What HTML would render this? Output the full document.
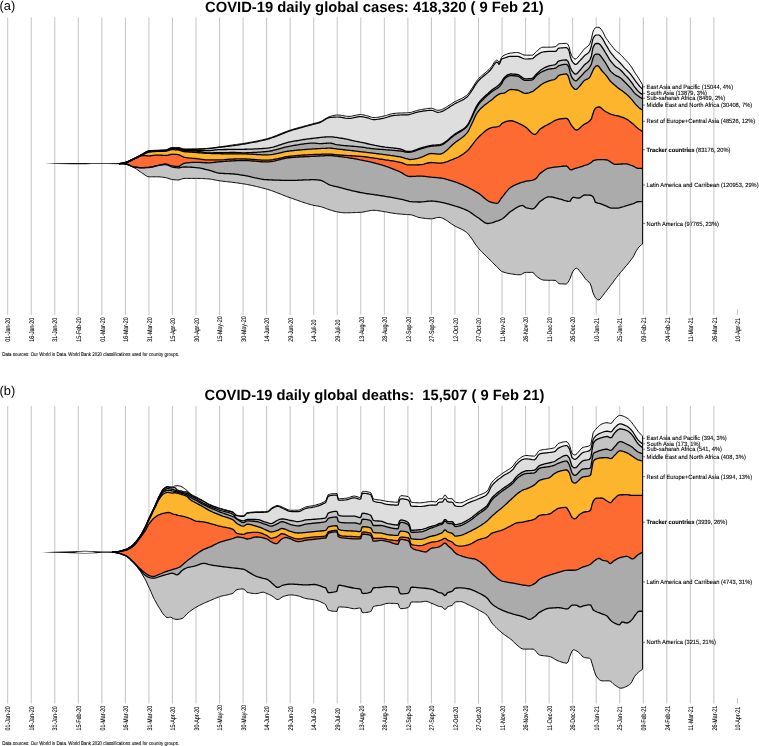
<!DOCTYPE html><html lang="en"><head><meta charset="utf-8"><title>COVID-19 daily global</title>
<style>html,body{margin:0;padding:0;background:#fff}svg{display:block}text{font-family:"Liberation Sans",sans-serif;fill:#000;text-rendering:geometricPrecision}.t{stroke:#000;stroke-width:0.16px}</style></head><body>
<svg width="759" height="746" viewBox="0 0 759 746" style="will-change:transform">
<rect width="759" height="746" fill="#fff"/>
<line x1="7.70" y1="17.40" x2="7.70" y2="314.90" stroke="#bdbdbd" stroke-width="0.9"/>
<line x1="31.24" y1="17.40" x2="31.24" y2="314.90" stroke="#bdbdbd" stroke-width="0.9"/>
<line x1="54.78" y1="17.40" x2="54.78" y2="314.90" stroke="#bdbdbd" stroke-width="0.9"/>
<line x1="78.32" y1="17.40" x2="78.32" y2="314.90" stroke="#bdbdbd" stroke-width="0.9"/>
<line x1="101.86" y1="17.40" x2="101.86" y2="314.90" stroke="#bdbdbd" stroke-width="0.9"/>
<line x1="125.40" y1="17.40" x2="125.40" y2="314.90" stroke="#bdbdbd" stroke-width="0.9"/>
<line x1="148.94" y1="17.40" x2="148.94" y2="314.90" stroke="#bdbdbd" stroke-width="0.9"/>
<line x1="172.48" y1="17.40" x2="172.48" y2="314.90" stroke="#bdbdbd" stroke-width="0.9"/>
<line x1="196.02" y1="17.40" x2="196.02" y2="314.90" stroke="#bdbdbd" stroke-width="0.9"/>
<line x1="219.56" y1="17.40" x2="219.56" y2="314.90" stroke="#bdbdbd" stroke-width="0.9"/>
<line x1="243.10" y1="17.40" x2="243.10" y2="314.90" stroke="#bdbdbd" stroke-width="0.9"/>
<line x1="266.64" y1="17.40" x2="266.64" y2="314.90" stroke="#bdbdbd" stroke-width="0.9"/>
<line x1="290.18" y1="17.40" x2="290.18" y2="314.90" stroke="#bdbdbd" stroke-width="0.9"/>
<line x1="313.72" y1="17.40" x2="313.72" y2="314.90" stroke="#bdbdbd" stroke-width="0.9"/>
<line x1="337.26" y1="17.40" x2="337.26" y2="314.90" stroke="#bdbdbd" stroke-width="0.9"/>
<line x1="360.80" y1="17.40" x2="360.80" y2="314.90" stroke="#bdbdbd" stroke-width="0.9"/>
<line x1="384.34" y1="17.40" x2="384.34" y2="314.90" stroke="#bdbdbd" stroke-width="0.9"/>
<line x1="407.88" y1="17.40" x2="407.88" y2="314.90" stroke="#bdbdbd" stroke-width="0.9"/>
<line x1="431.42" y1="17.40" x2="431.42" y2="314.90" stroke="#bdbdbd" stroke-width="0.9"/>
<line x1="454.96" y1="17.40" x2="454.96" y2="314.90" stroke="#bdbdbd" stroke-width="0.9"/>
<line x1="478.50" y1="17.40" x2="478.50" y2="314.90" stroke="#bdbdbd" stroke-width="0.9"/>
<line x1="502.04" y1="17.40" x2="502.04" y2="314.90" stroke="#bdbdbd" stroke-width="0.9"/>
<line x1="525.58" y1="17.40" x2="525.58" y2="314.90" stroke="#bdbdbd" stroke-width="0.9"/>
<line x1="549.12" y1="17.40" x2="549.12" y2="314.90" stroke="#bdbdbd" stroke-width="0.9"/>
<line x1="572.66" y1="17.40" x2="572.66" y2="314.90" stroke="#bdbdbd" stroke-width="0.9"/>
<line x1="596.20" y1="17.40" x2="596.20" y2="314.90" stroke="#bdbdbd" stroke-width="0.9"/>
<line x1="619.74" y1="17.40" x2="619.74" y2="314.90" stroke="#bdbdbd" stroke-width="0.9"/>
<line x1="643.28" y1="17.40" x2="643.28" y2="314.90" stroke="#bdbdbd" stroke-width="0.9"/>
<line x1="666.82" y1="17.40" x2="666.82" y2="314.90" stroke="#bdbdbd" stroke-width="0.9"/>
<line x1="690.36" y1="17.40" x2="690.36" y2="314.90" stroke="#bdbdbd" stroke-width="0.9"/>
<line x1="713.90" y1="17.40" x2="713.90" y2="314.90" stroke="#bdbdbd" stroke-width="0.9"/>
<line x1="737.44" y1="309.30" x2="737.44" y2="314.90" stroke="#bdbdbd" stroke-width="0.9"/>
<text class="t" transform="translate(10.40,341.80) rotate(-90) scale(0.533,0.68)" font-size="10" style="stroke-width:0.12px">01-Jan-20</text>
<text class="t" transform="translate(33.94,341.80) rotate(-90) scale(0.533,0.68)" font-size="10" style="stroke-width:0.12px">16-Jan-20</text>
<text class="t" transform="translate(57.48,341.80) rotate(-90) scale(0.533,0.68)" font-size="10" style="stroke-width:0.12px">31-Jan-20</text>
<text class="t" transform="translate(81.02,341.80) rotate(-90) scale(0.533,0.68)" font-size="10" style="stroke-width:0.12px">15-Feb-20</text>
<text class="t" transform="translate(104.56,341.80) rotate(-90) scale(0.533,0.68)" font-size="10" style="stroke-width:0.12px">01-Mar-20</text>
<text class="t" transform="translate(128.10,341.80) rotate(-90) scale(0.533,0.68)" font-size="10" style="stroke-width:0.12px">16-Mar-20</text>
<text class="t" transform="translate(151.64,341.80) rotate(-90) scale(0.533,0.68)" font-size="10" style="stroke-width:0.12px">31-Mar-20</text>
<text class="t" transform="translate(175.18,341.80) rotate(-90) scale(0.533,0.68)" font-size="10" style="stroke-width:0.12px">15-Apr-20</text>
<text class="t" transform="translate(198.72,341.80) rotate(-90) scale(0.533,0.68)" font-size="10" style="stroke-width:0.12px">30-Apr-20</text>
<text class="t" transform="translate(222.26,341.80) rotate(-90) scale(0.533,0.68)" font-size="10" style="stroke-width:0.12px">15-May-20</text>
<text class="t" transform="translate(245.80,341.80) rotate(-90) scale(0.533,0.68)" font-size="10" style="stroke-width:0.12px">30-May-20</text>
<text class="t" transform="translate(269.34,341.80) rotate(-90) scale(0.533,0.68)" font-size="10" style="stroke-width:0.12px">14-Jun-20</text>
<text class="t" transform="translate(292.88,341.80) rotate(-90) scale(0.533,0.68)" font-size="10" style="stroke-width:0.12px">29-Jun-20</text>
<text class="t" transform="translate(316.42,341.80) rotate(-90) scale(0.533,0.68)" font-size="10" style="stroke-width:0.12px">14-Jul-20</text>
<text class="t" transform="translate(339.96,341.80) rotate(-90) scale(0.533,0.68)" font-size="10" style="stroke-width:0.12px">29-Jul-20</text>
<text class="t" transform="translate(363.50,341.80) rotate(-90) scale(0.533,0.68)" font-size="10" style="stroke-width:0.12px">13-Aug-20</text>
<text class="t" transform="translate(387.04,341.80) rotate(-90) scale(0.533,0.68)" font-size="10" style="stroke-width:0.12px">28-Aug-20</text>
<text class="t" transform="translate(410.58,341.80) rotate(-90) scale(0.533,0.68)" font-size="10" style="stroke-width:0.12px">12-Sep-20</text>
<text class="t" transform="translate(434.12,341.80) rotate(-90) scale(0.533,0.68)" font-size="10" style="stroke-width:0.12px">27-Sep-20</text>
<text class="t" transform="translate(457.66,341.80) rotate(-90) scale(0.533,0.68)" font-size="10" style="stroke-width:0.12px">12-Oct-20</text>
<text class="t" transform="translate(481.20,341.80) rotate(-90) scale(0.533,0.68)" font-size="10" style="stroke-width:0.12px">27-Oct-20</text>
<text class="t" transform="translate(504.74,341.80) rotate(-90) scale(0.533,0.68)" font-size="10" style="stroke-width:0.12px">11-Nov-20</text>
<text class="t" transform="translate(528.28,341.80) rotate(-90) scale(0.533,0.68)" font-size="10" style="stroke-width:0.12px">26-Nov-20</text>
<text class="t" transform="translate(551.82,341.80) rotate(-90) scale(0.533,0.68)" font-size="10" style="stroke-width:0.12px">11-Dec-20</text>
<text class="t" transform="translate(575.36,341.80) rotate(-90) scale(0.533,0.68)" font-size="10" style="stroke-width:0.12px">26-Dec-20</text>
<text class="t" transform="translate(598.90,341.80) rotate(-90) scale(0.533,0.68)" font-size="10" style="stroke-width:0.12px">10-Jan-21</text>
<text class="t" transform="translate(622.44,341.80) rotate(-90) scale(0.533,0.68)" font-size="10" style="stroke-width:0.12px">25-Jan-21</text>
<text class="t" transform="translate(645.98,341.80) rotate(-90) scale(0.533,0.68)" font-size="10" style="stroke-width:0.12px">09-Feb-21</text>
<text class="t" transform="translate(669.52,341.80) rotate(-90) scale(0.533,0.68)" font-size="10" style="stroke-width:0.12px">24-Feb-21</text>
<text class="t" transform="translate(693.06,341.80) rotate(-90) scale(0.533,0.68)" font-size="10" style="stroke-width:0.12px">11-Mar-21</text>
<text class="t" transform="translate(716.60,341.80) rotate(-90) scale(0.533,0.68)" font-size="10" style="stroke-width:0.12px">26-Mar-21</text>
<text class="t" transform="translate(740.14,341.80) rotate(-90) scale(0.533,0.68)" font-size="10" style="stroke-width:0.12px">10-Apr-21</text>
<text x="-0.5" y="9.8" font-size="12.8" fill="#000">(a)</text>
<text x="205" y="11.5" font-size="14.8" font-weight="bold" textLength="338.6" lengthAdjust="spacingAndGlyphs" fill="#000">COVID-19 daily global cases: 418,320 ( 9 Feb 21)</text>
<text class="t" transform="translate(2.2,355.7) scale(0.441,0.53)" font-size="10">Data sources: Our World in Data. World Bank 2020 classifications used for country groups.</text>
<polygon points="45.0,163.60 56.0,163.20 72.0,163.05 86.0,163.05 92.0,163.30 107.0,163.25 121.0,162.90 121.0,164.30 107.0,163.95 92.0,163.90 86.0,164.15 72.0,164.15 56.0,164.00 45.0,163.60" fill="#111"/>
<g transform="translate(0,0)"><path d="M119.0,163.6 120.2,163.4 121.5,163.2 122.8,162.9 124.0,162.6 125.2,162.2 126.5,161.8 127.8,161.3 129.0,160.8 130.2,160.3 131.5,159.7 132.8,159.1 134.0,158.5 135.2,157.8 136.5,157.1 137.8,156.4 139.0,155.7 140.2,155.0 141.5,154.4 142.8,153.7 144.0,152.9 145.2,152.1 146.5,151.4 147.8,150.9 149.0,150.7 150.2,150.6 151.5,150.5 152.8,150.4 154.0,150.4 155.2,150.3 156.5,150.3 157.8,150.2 159.0,150.2 160.2,150.1 161.5,150.1 162.8,150.0 164.0,150.0 165.2,149.9 166.5,149.6 167.8,149.1 169.0,148.5 170.2,147.9 171.5,147.5 172.8,147.4 174.0,147.4 175.2,147.4 176.5,147.4 177.8,147.4 179.0,147.5 180.2,147.9 181.5,148.3 182.8,148.6 184.0,148.9 185.2,148.9 186.5,148.9 187.8,148.9 189.0,148.9 190.2,148.9 191.5,148.9 192.8,148.9 194.0,148.9 195.2,148.9 196.5,148.9 197.8,148.9 199.0,148.8 200.2,148.8 201.5,148.7 202.8,148.7 204.0,148.6 205.2,148.5 206.5,148.4 207.8,148.3 209.0,148.2 210.2,148.1 211.5,148.0 212.8,147.8 214.0,147.7 215.2,147.5 216.5,147.3 217.8,147.2 219.0,147.0 220.2,146.8 221.5,146.6 222.8,146.5 224.0,146.3 225.2,146.1 226.5,145.9 227.8,145.7 229.0,145.5 230.2,145.3 231.5,145.1 232.8,145.0 234.0,144.8 235.2,144.6 236.5,144.4 237.8,144.3 239.0,144.1 240.2,143.9 241.5,143.7 242.8,143.6 244.0,143.4 245.2,143.2 246.5,142.9 247.8,142.7 249.0,142.5 250.2,142.3 251.5,142.1 252.8,141.8 254.0,141.6 255.2,141.4 256.5,141.1 257.8,140.9 259.0,140.6 260.2,140.3 261.5,140.0 262.8,139.7 264.0,139.5 265.2,139.1 266.5,138.8 267.8,138.5 269.0,138.1 270.2,137.7 271.5,137.3 272.8,136.8 274.0,136.4 275.2,135.9 276.5,135.4 277.8,134.9 279.0,134.4 280.2,133.9 281.5,133.4 282.8,132.9 284.0,132.4 285.2,131.9 286.5,131.4 287.8,131.0 289.0,130.5 290.2,130.1 291.5,129.7 292.8,129.3 294.0,129.0 295.2,128.6 296.5,128.2 297.8,127.9 299.0,127.5 300.2,127.2 301.5,126.8 302.8,126.5 304.0,126.2 305.2,125.8 306.5,125.5 307.8,125.2 309.0,124.8 310.2,124.5 311.5,124.2 312.8,123.8 314.0,123.5 315.2,123.1 316.5,122.8 317.8,122.5 319.0,122.1 320.2,121.7 321.5,121.1 322.8,120.4 324.0,119.6 325.2,118.8 326.5,118.1 327.8,117.4 329.0,116.8 330.2,116.4 331.5,116.1 332.8,115.7 334.0,115.4 335.2,115.2 336.5,115.0 337.8,115.0 339.0,115.1 340.2,115.2 341.5,115.4 342.8,115.6 344.0,115.8 345.2,116.1 346.5,116.2 347.8,116.4 349.0,116.4 350.2,116.3 351.5,116.2 352.8,116.0 354.0,115.7 355.2,115.4 356.5,115.1 357.8,114.9 359.0,114.7 360.2,114.6 361.5,114.6 362.8,114.8 364.0,115.0 365.2,115.3 366.5,115.6 367.8,115.9 369.0,116.3 370.2,116.8 371.5,117.2 372.8,117.5 374.0,117.6 375.2,117.5 376.5,117.4 377.8,117.3 379.0,117.1 380.2,116.8 381.5,116.6 382.8,116.3 384.0,116.1 385.2,115.8 386.5,115.4 387.8,115.0 389.0,114.6 390.2,114.2 391.5,113.9 392.8,113.6 394.0,113.5 395.2,113.3 396.5,113.2 397.8,113.1 399.0,113.1 400.2,113.0 401.5,113.0 402.8,112.9 404.0,112.9 405.2,112.9 406.5,112.8 407.8,112.8 409.0,112.7 410.2,112.5 411.5,112.2 412.8,111.8 414.0,111.5 415.2,111.1 416.5,110.7 417.8,110.3 419.0,110.0 420.2,109.8 421.5,109.5 422.8,109.3 424.0,109.1 425.2,108.9 426.5,108.7 427.8,108.5 429.0,108.4 430.2,108.3 431.5,108.3 432.8,108.5 434.0,109.0 435.2,109.5 436.5,110.0 437.8,110.3 439.0,110.2 440.2,110.0 441.5,109.6 442.8,109.1 444.0,108.5 445.2,107.8 446.5,107.1 447.8,106.2 449.0,105.4 450.2,104.5 451.5,103.7 452.8,102.9 454.0,102.1 455.2,101.5 456.5,100.9 457.8,100.3 459.0,99.7 460.2,99.1 461.5,98.5 462.8,97.9 464.0,97.2 465.2,96.4 466.5,95.4 467.8,94.3 469.0,92.8 470.2,91.0 471.5,89.1 472.8,87.1 474.0,85.1 475.2,83.2 476.5,81.3 477.8,79.7 479.0,78.3 480.2,77.0 481.5,75.9 482.8,74.8 484.0,73.8 485.2,72.7 486.5,71.7 487.8,70.6 489.0,69.5 490.2,68.3 491.5,66.7 492.8,64.8 494.0,62.8 495.2,61.1 496.5,60.1 497.8,60.7 499.0,62.5 500.2,60.7 501.5,57.5 502.8,56.0 504.0,55.3 505.2,54.7 506.5,54.2 507.8,53.8 509.0,53.4 510.2,53.2 511.5,53.0 512.8,52.8 514.0,52.7 515.2,52.6 516.5,52.5 517.8,52.5 519.0,52.8 520.2,53.3 521.5,53.9 522.8,54.5 524.0,55.0 525.2,55.2 526.5,55.2 527.8,55.2 529.0,55.2 530.2,55.2 531.5,55.2 532.8,55.1 534.0,54.1 535.2,52.7 536.5,51.4 537.8,50.4 539.0,49.3 540.2,48.3 541.5,47.5 542.8,47.2 544.0,47.2 545.2,47.2 546.5,47.2 547.8,47.2 549.0,47.2 550.2,47.2 551.5,47.1 552.8,47.0 554.0,46.9 555.2,46.7 556.5,46.1 557.8,44.3 559.0,43.8 560.2,43.7 561.5,43.6 562.8,43.5 564.0,43.4 565.2,43.4 566.5,43.4 567.8,44.2 569.0,46.5 570.2,51.5 571.5,55.3 572.8,57.3 574.0,58.6 575.2,59.1 576.5,58.5 577.8,57.2 579.0,55.8 580.2,54.3 581.5,52.6 582.8,50.9 584.0,49.3 585.2,48.1 586.5,47.2 587.8,46.3 589.0,45.1 590.2,42.9 591.5,38.5 592.8,32.2 594.0,29.6 595.2,27.9 596.5,27.4 597.8,27.3 599.0,27.3 600.2,28.2 601.5,29.8 602.8,31.7 604.0,34.2 605.2,36.7 606.5,38.8 607.8,40.6 609.0,42.3 610.2,43.9 611.5,45.5 612.8,47.1 614.0,48.7 615.2,50.1 616.5,51.3 617.8,52.2 619.0,53.2 620.2,54.3 621.5,55.5 622.8,56.9 624.0,58.2 625.2,59.6 626.5,60.9 627.8,62.2 629.0,63.7 630.2,65.2 631.5,67.1 632.8,69.1 634.0,71.1 635.2,73.2 636.5,75.1 637.8,76.9 639.0,78.8 640.2,80.8 641.5,82.9 642.5,84.7 642.5,89.0 641.5,88.1 640.2,86.9 639.0,85.5 637.8,84.0 636.5,82.4 635.2,80.7 634.0,79.0 632.8,77.1 631.5,75.3 630.2,73.7 629.0,72.3 627.8,71.1 626.5,69.9 625.2,68.7 624.0,67.3 622.8,65.9 621.5,64.4 620.2,63.0 619.0,61.7 617.8,60.6 616.5,59.4 615.2,58.1 614.0,56.7 612.8,55.2 611.5,53.6 610.2,51.9 609.0,50.0 607.8,47.9 606.5,45.8 605.2,43.6 604.0,41.3 602.8,39.1 601.5,37.4 600.2,35.8 599.0,35.0 597.8,35.0 596.5,35.0 595.2,35.3 594.0,36.8 592.8,39.2 591.5,45.5 590.2,49.9 589.0,52.1 587.8,53.3 586.5,54.2 585.2,55.1 584.0,56.2 582.8,57.6 581.5,59.0 580.2,60.4 579.0,61.7 577.8,63.0 576.5,64.2 575.2,64.4 574.0,63.6 572.8,62.1 571.5,60.1 570.2,56.2 569.0,50.7 567.8,48.5 566.5,47.7 565.2,47.7 564.0,47.7 562.8,47.8 561.5,47.9 560.2,48.0 559.0,48.1 557.8,48.8 556.5,50.8 555.2,51.4 554.0,51.4 552.8,51.4 551.5,51.4 550.2,51.4 549.0,51.4 547.8,51.4 546.5,51.5 545.2,51.7 544.0,51.8 542.8,52.0 541.5,52.4 540.2,52.9 539.0,53.6 537.8,54.4 536.5,55.2 535.2,56.3 534.0,57.6 532.8,58.5 531.5,58.8 530.2,58.9 529.0,58.9 527.8,59.0 526.5,59.0 525.2,59.0 524.0,58.8 522.8,58.3 521.5,57.7 520.2,57.1 519.0,56.6 517.8,56.3 516.5,56.3 515.2,56.3 514.0,56.3 512.8,56.3 511.5,56.3 510.2,56.3 509.0,56.5 507.8,56.9 506.5,57.3 505.2,57.8 504.0,58.2 502.8,58.5 501.5,59.1 500.2,62.4 499.0,64.5 497.8,62.7 496.5,62.1 495.2,63.1 494.0,64.8 492.8,66.8 491.5,68.7 490.2,70.3 489.0,71.5 487.8,72.6 486.5,73.7 485.2,74.7 484.0,75.8 482.8,76.8 481.5,77.9 480.2,79.0 479.0,80.3 477.8,81.7 476.5,83.3 475.2,85.2 474.0,87.1 472.8,89.1 471.5,91.1 470.2,93.0 469.0,94.8 467.8,96.3 466.5,97.4 465.2,98.4 464.0,99.2 462.8,99.9 461.5,100.5 460.2,101.1 459.0,101.7 457.8,102.3 456.5,102.9 455.2,103.5 454.0,104.1 452.8,104.9 451.5,105.7 450.2,106.5 449.0,107.4 447.8,108.2 446.5,109.1 445.2,109.8 444.0,110.5 442.8,111.1 441.5,111.6 440.2,112.0 439.0,112.2 437.8,112.3 436.5,112.0 435.2,111.5 434.0,111.0 432.8,110.5 431.5,110.3 430.2,110.3 429.0,110.4 427.8,110.5 426.5,110.6 425.2,110.8 424.0,111.0 422.8,111.2 421.5,111.4 420.2,111.6 419.0,111.8 417.8,112.1 416.5,112.4 415.2,112.8 414.0,113.2 412.8,113.5 411.5,113.9 410.2,114.2 409.0,114.6 407.8,114.8 406.5,114.9 405.2,114.9 404.0,114.9 402.8,114.9 401.5,115.0 400.2,115.0 399.0,115.1 397.8,115.1 396.5,115.2 395.2,115.3 394.0,115.5 392.8,115.6 391.5,115.9 390.2,116.2 389.0,116.6 387.8,117.0 386.5,117.4 385.2,117.8 384.0,118.1 382.8,118.3 381.5,118.6 380.2,118.8 379.0,119.1 377.8,119.3 376.5,119.4 375.2,119.5 374.0,119.6 372.8,119.5 371.5,119.2 370.2,118.8 369.0,118.3 367.8,117.9 366.5,117.6 365.2,117.3 364.0,117.0 362.8,116.8 361.5,116.6 360.2,116.6 359.0,116.7 357.8,116.9 356.5,117.1 355.2,117.4 354.0,117.7 352.8,118.0 351.5,118.2 350.2,118.3 349.0,118.4 347.8,118.4 346.5,118.2 345.2,118.1 344.0,117.8 342.8,117.6 341.5,117.4 340.2,117.2 339.0,117.1 337.8,117.0 336.5,117.0 335.2,117.1 334.0,117.1 332.8,117.2 331.5,117.4 330.2,117.5 329.0,117.7 327.8,118.1 326.5,118.7 325.2,119.4 324.0,120.2 322.8,121.1 321.5,121.8 320.2,122.4 319.0,122.8 317.8,123.2 316.5,123.5 315.2,123.8 314.0,124.2 312.8,124.5 311.5,124.9 310.2,125.2 309.0,125.5 307.8,125.9 306.5,126.2 305.2,126.5 304.0,126.9 302.8,127.2 301.5,127.5 300.2,127.9 299.0,128.2 297.8,128.6 296.5,128.9 295.2,129.3 294.0,129.7 292.8,130.0 291.5,130.4 290.2,130.8 289.0,131.2 287.8,131.7 286.5,132.1 285.2,132.6 284.0,133.1 282.8,133.6 281.5,134.1 280.2,134.6 279.0,135.1 277.8,135.6 276.5,136.1 275.2,136.6 274.0,137.1 272.8,137.5 271.5,138.0 270.2,138.4 269.0,138.8 267.8,139.2 266.5,139.5 265.2,139.8 264.0,140.1 262.8,140.4 261.5,140.7 260.2,141.0 259.0,141.3 257.8,141.5 256.5,141.8 255.2,142.0 254.0,142.3 252.8,142.5 251.5,142.7 250.2,143.0 249.0,143.2 247.8,143.4 246.5,143.6 245.2,143.8 244.0,144.0 242.8,144.3 241.5,144.5 240.2,144.7 239.0,144.9 237.8,145.0 236.5,145.2 235.2,145.4 234.0,145.6 232.8,145.7 231.5,145.9 230.2,146.1 229.0,146.2 227.8,146.4 226.5,146.5 225.2,146.6 224.0,146.8 222.8,146.9 221.5,147.1 220.2,147.2 219.0,147.4 217.8,147.5 216.5,147.7 215.2,147.8 214.0,148.0 212.8,148.1 211.5,148.3 210.2,148.4 209.0,148.5 207.8,148.6 206.5,148.7 205.2,148.8 204.0,148.9 202.8,149.0 201.5,149.0 200.2,149.1 199.0,149.2 197.8,149.2 196.5,149.3 195.2,149.3 194.0,149.4 192.8,149.4 191.5,149.5 190.2,149.5 189.0,149.5 187.8,149.6 186.5,149.6 185.2,149.6 184.0,149.6 182.8,149.3 181.5,149.0 180.2,148.5 179.0,148.2 177.8,148.1 176.5,148.0 175.2,148.0 174.0,148.0 172.8,148.0 171.5,148.1 170.2,148.4 169.0,149.0 167.8,149.5 166.5,150.0 165.2,150.2 164.0,150.3 162.8,150.3 161.5,150.4 160.2,150.4 159.0,150.5 157.8,150.5 156.5,150.6 155.2,150.6 154.0,150.7 152.8,150.7 151.5,150.8 150.2,150.9 149.0,151.0 147.8,151.3 146.5,151.8 145.2,152.5 144.0,153.2 142.8,154.0 141.5,154.7 140.2,155.3 139.0,156.0 137.8,156.7 136.5,157.3 135.2,158.0 134.0,158.6 132.8,159.2 131.5,159.8 130.2,160.4 129.0,161.0 127.8,161.5 126.5,162.0 125.2,162.4 124.0,162.7 122.8,163.0 121.5,163.2 120.2,163.4 119.0,163.6Z" fill="#f2f2f2" stroke="none"/>
<path d="M119.0,163.6 120.2,163.4 121.5,163.2 122.8,163.0 124.0,162.7 125.2,162.4 126.5,162.0 127.8,161.5 129.0,161.0 130.2,160.4 131.5,159.8 132.8,159.2 134.0,158.6 135.2,158.0 136.5,157.3 137.8,156.7 139.0,156.0 140.2,155.3 141.5,154.7 142.8,154.0 144.0,153.2 145.2,152.5 146.5,151.8 147.8,151.3 149.0,151.0 150.2,150.9 151.5,150.8 152.8,150.7 154.0,150.7 155.2,150.6 156.5,150.6 157.8,150.5 159.0,150.5 160.2,150.4 161.5,150.4 162.8,150.3 164.0,150.3 165.2,150.2 166.5,150.0 167.8,149.5 169.0,149.0 170.2,148.4 171.5,148.1 172.8,148.0 174.0,148.0 175.2,148.0 176.5,148.0 177.8,148.1 179.0,148.2 180.2,148.5 181.5,149.0 182.8,149.3 184.0,149.6 185.2,149.6 186.5,149.6 187.8,149.6 189.0,149.5 190.2,149.5 191.5,149.5 192.8,149.4 194.0,149.4 195.2,149.3 196.5,149.3 197.8,149.2 199.0,149.2 200.2,149.1 201.5,149.0 202.8,149.0 204.0,148.9 205.2,148.8 206.5,148.7 207.8,148.6 209.0,148.5 210.2,148.4 211.5,148.3 212.8,148.1 214.0,148.0 215.2,147.8 216.5,147.7 217.8,147.5 219.0,147.4 220.2,147.2 221.5,147.1 222.8,146.9 224.0,146.8 225.2,146.6 226.5,146.5 227.8,146.4 229.0,146.2 230.2,146.1 231.5,145.9 232.8,145.7 234.0,145.6 235.2,145.4 236.5,145.2 237.8,145.0 239.0,144.9 240.2,144.7 241.5,144.5 242.8,144.3 244.0,144.0 245.2,143.8 246.5,143.6 247.8,143.4 249.0,143.2 250.2,143.0 251.5,142.7 252.8,142.5 254.0,142.3 255.2,142.0 256.5,141.8 257.8,141.5 259.0,141.3 260.2,141.0 261.5,140.7 262.8,140.4 264.0,140.1 265.2,139.8 266.5,139.5 267.8,139.2 269.0,138.8 270.2,138.4 271.5,138.0 272.8,137.5 274.0,137.1 275.2,136.6 276.5,136.1 277.8,135.6 279.0,135.1 280.2,134.6 281.5,134.1 282.8,133.6 284.0,133.1 285.2,132.6 286.5,132.1 287.8,131.7 289.0,131.2 290.2,130.8 291.5,130.4 292.8,130.0 294.0,129.7 295.2,129.3 296.5,128.9 297.8,128.6 299.0,128.2 300.2,127.9 301.5,127.5 302.8,127.2 304.0,126.9 305.2,126.5 306.5,126.2 307.8,125.9 309.0,125.5 310.2,125.2 311.5,124.9 312.8,124.5 314.0,124.2 315.2,123.8 316.5,123.5 317.8,123.2 319.0,122.8 320.2,122.4 321.5,121.8 322.8,121.1 324.0,120.2 325.2,119.4 326.5,118.7 327.8,118.1 329.0,117.7 330.2,117.5 331.5,117.4 332.8,117.2 334.0,117.1 335.2,117.1 336.5,117.0 337.8,117.0 339.0,117.1 340.2,117.2 341.5,117.4 342.8,117.6 344.0,117.8 345.2,118.1 346.5,118.2 347.8,118.4 349.0,118.4 350.2,118.3 351.5,118.2 352.8,118.0 354.0,117.7 355.2,117.4 356.5,117.1 357.8,116.9 359.0,116.7 360.2,116.6 361.5,116.6 362.8,116.8 364.0,117.0 365.2,117.3 366.5,117.6 367.8,117.9 369.0,118.3 370.2,118.8 371.5,119.2 372.8,119.5 374.0,119.6 375.2,119.5 376.5,119.4 377.8,119.3 379.0,119.1 380.2,118.8 381.5,118.6 382.8,118.3 384.0,118.1 385.2,117.8 386.5,117.4 387.8,117.0 389.0,116.6 390.2,116.2 391.5,115.9 392.8,115.6 394.0,115.5 395.2,115.3 396.5,115.2 397.8,115.1 399.0,115.1 400.2,115.0 401.5,115.0 402.8,114.9 404.0,114.9 405.2,114.9 406.5,114.9 407.8,114.8 409.0,114.6 410.2,114.2 411.5,113.9 412.8,113.5 414.0,113.2 415.2,112.8 416.5,112.4 417.8,112.1 419.0,111.8 420.2,111.6 421.5,111.4 422.8,111.2 424.0,111.0 425.2,110.8 426.5,110.6 427.8,110.5 429.0,110.4 430.2,110.3 431.5,110.3 432.8,110.5 434.0,111.0 435.2,111.5 436.5,112.0 437.8,112.3 439.0,112.2 440.2,112.0 441.5,111.6 442.8,111.1 444.0,110.5 445.2,109.8 446.5,109.1 447.8,108.2 449.0,107.4 450.2,106.5 451.5,105.7 452.8,104.9 454.0,104.1 455.2,103.5 456.5,102.9 457.8,102.3 459.0,101.7 460.2,101.1 461.5,100.5 462.8,99.9 464.0,99.2 465.2,98.4 466.5,97.4 467.8,96.3 469.0,94.8 470.2,93.0 471.5,91.1 472.8,89.1 474.0,87.1 475.2,85.2 476.5,83.3 477.8,81.7 479.0,80.3 480.2,79.0 481.5,77.9 482.8,76.8 484.0,75.8 485.2,74.7 486.5,73.7 487.8,72.6 489.0,71.5 490.2,70.3 491.5,68.7 492.8,66.8 494.0,64.8 495.2,63.1 496.5,62.1 497.8,62.7 499.0,64.5 500.2,62.4 501.5,59.1 502.8,58.5 504.0,58.2 505.2,57.8 506.5,57.3 507.8,56.9 509.0,56.5 510.2,56.3 511.5,56.3 512.8,56.3 514.0,56.3 515.2,56.3 516.5,56.3 517.8,56.3 519.0,56.6 520.2,57.1 521.5,57.7 522.8,58.3 524.0,58.8 525.2,59.0 526.5,59.0 527.8,59.0 529.0,58.9 530.2,58.9 531.5,58.8 532.8,58.5 534.0,57.6 535.2,56.3 536.5,55.2 537.8,54.4 539.0,53.6 540.2,52.9 541.5,52.4 542.8,52.0 544.0,51.8 545.2,51.7 546.5,51.5 547.8,51.4 549.0,51.4 550.2,51.4 551.5,51.4 552.8,51.4 554.0,51.4 555.2,51.4 556.5,50.8 557.8,48.8 559.0,48.1 560.2,48.0 561.5,47.9 562.8,47.8 564.0,47.7 565.2,47.7 566.5,47.7 567.8,48.5 569.0,50.7 570.2,56.2 571.5,60.1 572.8,62.1 574.0,63.6 575.2,64.4 576.5,64.2 577.8,63.0 579.0,61.7 580.2,60.4 581.5,59.0 582.8,57.6 584.0,56.2 585.2,55.1 586.5,54.2 587.8,53.3 589.0,52.1 590.2,49.9 591.5,45.5 592.8,39.2 594.0,36.8 595.2,35.3 596.5,35.0 597.8,35.0 599.0,35.0 600.2,35.8 601.5,37.4 602.8,39.1 604.0,41.3 605.2,43.6 606.5,45.8 607.8,47.9 609.0,50.0 610.2,51.9 611.5,53.6 612.8,55.2 614.0,56.7 615.2,58.1 616.5,59.4 617.8,60.6 619.0,61.7 620.2,63.0 621.5,64.4 622.8,65.9 624.0,67.3 625.2,68.7 626.5,69.9 627.8,71.1 629.0,72.3 630.2,73.7 631.5,75.3 632.8,77.1 634.0,79.0 635.2,80.7 636.5,82.4 637.8,84.0 639.0,85.5 640.2,86.9 641.5,88.1 642.5,89.0 642.5,94.3 641.5,93.9 640.2,93.1 639.0,92.1 637.8,90.8 636.5,89.3 635.2,87.7 634.0,86.0 632.8,84.2 631.5,82.4 630.2,80.7 629.0,79.2 627.8,77.8 626.5,76.4 625.2,75.1 624.0,73.7 622.8,72.3 621.5,70.9 620.2,69.7 619.0,68.7 617.8,68.0 616.5,67.3 615.2,66.3 614.0,65.1 612.8,63.7 611.5,62.1 610.2,60.5 609.0,58.6 607.8,56.5 606.5,54.3 605.2,52.3 604.0,50.2 602.8,48.2 601.5,46.4 600.2,44.7 599.0,43.6 597.8,43.5 596.5,43.4 595.2,43.8 594.0,45.5 592.8,48.4 591.5,55.7 590.2,59.3 589.0,61.1 587.8,62.3 586.5,63.2 585.2,64.1 584.0,65.3 582.8,66.8 581.5,68.4 580.2,70.0 579.0,71.4 577.8,72.8 576.5,73.9 575.2,74.1 574.0,73.2 572.8,71.8 571.5,70.0 570.2,67.3 569.0,63.7 567.8,61.1 566.5,60.0 565.2,60.0 564.0,60.1 562.8,60.2 561.5,60.4 560.2,60.6 559.0,60.9 557.8,61.6 556.5,63.6 555.2,64.5 554.0,64.9 552.8,65.2 551.5,65.4 550.2,65.6 549.0,65.9 547.8,66.4 546.5,66.8 545.2,67.4 544.0,68.0 542.8,68.7 541.5,69.5 540.2,70.5 539.0,71.7 537.8,72.8 536.5,74.0 535.2,75.4 534.0,77.0 532.8,78.1 531.5,78.4 530.2,78.5 529.0,78.7 527.8,78.7 526.5,78.8 525.2,78.8 524.0,78.5 522.8,77.8 521.5,76.9 520.2,76.0 519.0,75.2 517.8,74.6 516.5,74.4 515.2,74.3 514.0,74.1 512.8,74.1 511.5,74.0 510.2,74.0 509.0,74.3 507.8,74.9 506.5,75.7 505.2,76.7 504.0,77.9 502.8,79.6 501.5,82.0 500.2,83.4 499.0,84.7 497.8,85.8 496.5,86.7 495.2,87.6 494.0,88.5 492.8,89.4 491.5,90.3 490.2,91.4 489.0,92.6 487.8,93.7 486.5,94.7 485.2,95.9 484.0,97.0 482.8,98.2 481.5,99.5 480.2,100.9 479.0,102.4 477.8,104.1 476.5,106.2 475.2,108.7 474.0,111.5 472.8,114.4 471.5,117.2 470.2,120.0 469.0,122.5 467.8,124.6 466.5,126.2 465.2,127.4 464.0,128.4 462.8,129.3 461.5,130.1 460.2,130.9 459.0,131.6 457.8,132.3 456.5,133.0 455.2,133.8 454.0,134.7 452.8,135.7 451.5,136.7 450.2,137.8 449.0,138.9 447.8,140.0 446.5,141.0 445.2,142.0 444.0,142.8 442.8,143.6 441.5,144.1 440.2,144.6 439.0,144.8 437.8,144.9 436.5,145.0 435.2,145.1 434.0,145.2 432.8,145.3 431.5,145.4 430.2,145.6 429.0,145.8 427.8,146.1 426.5,146.4 425.2,146.8 424.0,147.1 422.8,147.5 421.5,147.9 420.2,148.2 419.0,148.6 417.8,149.1 416.5,149.5 415.2,150.0 414.0,150.5 412.8,150.9 411.5,151.2 410.2,151.4 409.0,151.5 407.8,151.5 406.5,151.3 405.2,150.9 404.0,150.4 402.8,149.8 401.5,149.3 400.2,149.0 399.0,148.7 397.8,148.6 396.5,148.4 395.2,148.2 394.0,148.1 392.8,148.0 391.5,147.8 390.2,147.7 389.0,147.6 387.8,147.4 386.5,147.3 385.2,147.1 384.0,147.0 382.8,146.8 381.5,146.5 380.2,146.3 379.0,146.1 377.8,145.9 376.5,145.6 375.2,145.4 374.0,145.1 372.8,144.8 371.5,144.6 370.2,144.3 369.0,144.0 367.8,143.8 366.5,143.5 365.2,143.2 364.0,143.0 362.8,142.7 361.5,142.4 360.2,142.2 359.0,141.9 357.8,141.7 356.5,141.4 355.2,141.1 354.0,140.8 352.8,140.6 351.5,140.3 350.2,140.0 349.0,139.7 347.8,139.5 346.5,139.2 345.2,138.9 344.0,138.7 342.8,138.5 341.5,138.2 340.2,138.0 339.0,137.8 337.8,137.6 336.5,137.5 335.2,137.3 334.0,137.1 332.8,137.0 331.5,136.9 330.2,136.8 329.0,136.8 327.8,136.8 326.5,136.9 325.2,137.0 324.0,137.1 322.8,137.2 321.5,137.3 320.2,137.5 319.0,137.6 317.8,137.8 316.5,137.9 315.2,138.0 314.0,138.2 312.8,138.3 311.5,138.5 310.2,138.6 309.0,138.8 307.8,139.0 306.5,139.1 305.2,139.3 304.0,139.5 302.8,139.7 301.5,139.9 300.2,140.1 299.0,140.3 297.8,140.5 296.5,140.7 295.2,141.0 294.0,141.2 292.8,141.4 291.5,141.7 290.2,141.9 289.0,142.2 287.8,142.5 286.5,142.8 285.2,143.2 284.0,143.6 282.8,144.0 281.5,144.4 280.2,144.8 279.0,145.2 277.8,145.6 276.5,146.0 275.2,146.4 274.0,146.8 272.8,147.1 271.5,147.4 270.2,147.7 269.0,147.9 267.8,148.1 266.5,148.2 265.2,148.3 264.0,148.4 262.8,148.5 261.5,148.6 260.2,148.6 259.0,148.7 257.8,148.8 256.5,148.9 255.2,148.9 254.0,149.0 252.8,149.0 251.5,149.1 250.2,149.1 249.0,149.2 247.8,149.2 246.5,149.2 245.2,149.3 244.0,149.3 242.8,149.3 241.5,149.3 240.2,149.3 239.0,149.3 237.8,149.4 236.5,149.4 235.2,149.4 234.0,149.4 232.8,149.4 231.5,149.4 230.2,149.4 229.0,149.5 227.8,149.5 226.5,149.5 225.2,149.5 224.0,149.5 222.8,149.5 221.5,149.6 220.2,149.6 219.0,149.6 217.8,149.7 216.5,149.8 215.2,150.0 214.0,150.1 212.8,150.3 211.5,150.4 210.2,150.5 209.0,150.6 207.8,150.6 206.5,150.6 205.2,150.6 204.0,150.5 202.8,150.5 201.5,150.4 200.2,150.4 199.0,150.4 197.8,150.3 196.5,150.3 195.2,150.3 194.0,150.3 192.8,150.3 191.5,150.3 190.2,150.3 189.0,150.3 187.8,150.3 186.5,150.3 185.2,150.3 184.0,150.3 182.8,150.0 181.5,149.6 180.2,149.2 179.0,148.9 177.8,148.7 176.5,148.6 175.2,148.6 174.0,148.5 172.8,148.5 171.5,148.6 170.2,148.9 169.0,149.4 167.8,149.9 166.5,150.3 165.2,150.5 164.0,150.6 162.8,150.7 161.5,150.7 160.2,150.7 159.0,150.8 157.8,150.8 156.5,150.9 155.2,150.9 154.0,151.0 152.8,151.0 151.5,151.1 150.2,151.2 149.0,151.3 147.8,151.6 146.5,152.1 145.2,152.8 144.0,153.6 142.8,154.3 141.5,155.0 140.2,155.6 139.0,156.2 137.8,156.9 136.5,157.5 135.2,158.1 134.0,158.7 132.8,159.3 131.5,159.9 130.2,160.6 129.0,161.1 127.8,161.7 126.5,162.2 125.2,162.5 124.0,162.8 122.8,163.1 121.5,163.3 120.2,163.5 119.0,163.6Z" fill="#dedede" stroke="none"/>
<path d="M119.0,163.6 120.2,163.5 121.5,163.3 122.8,163.1 124.0,162.8 125.2,162.5 126.5,162.2 127.8,161.7 129.0,161.1 130.2,160.6 131.5,159.9 132.8,159.3 134.0,158.7 135.2,158.1 136.5,157.5 137.8,156.9 139.0,156.2 140.2,155.6 141.5,155.0 142.8,154.3 144.0,153.6 145.2,152.8 146.5,152.1 147.8,151.6 149.0,151.3 150.2,151.2 151.5,151.1 152.8,151.0 154.0,151.0 155.2,150.9 156.5,150.9 157.8,150.8 159.0,150.8 160.2,150.7 161.5,150.7 162.8,150.7 164.0,150.6 165.2,150.5 166.5,150.3 167.8,149.9 169.0,149.4 170.2,148.9 171.5,148.6 172.8,148.5 174.0,148.5 175.2,148.6 176.5,148.6 177.8,148.7 179.0,148.9 180.2,149.2 181.5,149.6 182.8,150.0 184.0,150.3 185.2,150.3 186.5,150.3 187.8,150.3 189.0,150.3 190.2,150.3 191.5,150.3 192.8,150.3 194.0,150.3 195.2,150.3 196.5,150.3 197.8,150.3 199.0,150.4 200.2,150.4 201.5,150.4 202.8,150.5 204.0,150.5 205.2,150.6 206.5,150.6 207.8,150.6 209.0,150.6 210.2,150.5 211.5,150.4 212.8,150.3 214.0,150.1 215.2,150.0 216.5,149.8 217.8,149.7 219.0,149.6 220.2,149.6 221.5,149.6 222.8,149.5 224.0,149.5 225.2,149.5 226.5,149.5 227.8,149.5 229.0,149.5 230.2,149.4 231.5,149.4 232.8,149.4 234.0,149.4 235.2,149.4 236.5,149.4 237.8,149.4 239.0,149.3 240.2,149.3 241.5,149.3 242.8,149.3 244.0,149.3 245.2,149.3 246.5,149.2 247.8,149.2 249.0,149.2 250.2,149.1 251.5,149.1 252.8,149.0 254.0,149.0 255.2,148.9 256.5,148.9 257.8,148.8 259.0,148.7 260.2,148.6 261.5,148.6 262.8,148.5 264.0,148.4 265.2,148.3 266.5,148.2 267.8,148.1 269.0,147.9 270.2,147.7 271.5,147.4 272.8,147.1 274.0,146.8 275.2,146.4 276.5,146.0 277.8,145.6 279.0,145.2 280.2,144.8 281.5,144.4 282.8,144.0 284.0,143.6 285.2,143.2 286.5,142.8 287.8,142.5 289.0,142.2 290.2,141.9 291.5,141.7 292.8,141.4 294.0,141.2 295.2,141.0 296.5,140.7 297.8,140.5 299.0,140.3 300.2,140.1 301.5,139.9 302.8,139.7 304.0,139.5 305.2,139.3 306.5,139.1 307.8,139.0 309.0,138.8 310.2,138.6 311.5,138.5 312.8,138.3 314.0,138.2 315.2,138.0 316.5,137.9 317.8,137.8 319.0,137.6 320.2,137.5 321.5,137.3 322.8,137.2 324.0,137.1 325.2,137.0 326.5,136.9 327.8,136.8 329.0,136.8 330.2,136.8 331.5,136.9 332.8,137.0 334.0,137.1 335.2,137.3 336.5,137.5 337.8,137.6 339.0,137.8 340.2,138.0 341.5,138.2 342.8,138.5 344.0,138.7 345.2,138.9 346.5,139.2 347.8,139.5 349.0,139.7 350.2,140.0 351.5,140.3 352.8,140.6 354.0,140.8 355.2,141.1 356.5,141.4 357.8,141.7 359.0,141.9 360.2,142.2 361.5,142.4 362.8,142.7 364.0,143.0 365.2,143.2 366.5,143.5 367.8,143.8 369.0,144.0 370.2,144.3 371.5,144.6 372.8,144.8 374.0,145.1 375.2,145.4 376.5,145.6 377.8,145.9 379.0,146.1 380.2,146.3 381.5,146.5 382.8,146.8 384.0,147.0 385.2,147.1 386.5,147.3 387.8,147.4 389.0,147.6 390.2,147.7 391.5,147.8 392.8,148.0 394.0,148.1 395.2,148.2 396.5,148.4 397.8,148.6 399.0,148.7 400.2,149.0 401.5,149.3 402.8,149.8 404.0,150.4 405.2,150.9 406.5,151.3 407.8,151.5 409.0,151.5 410.2,151.4 411.5,151.2 412.8,150.9 414.0,150.5 415.2,150.0 416.5,149.5 417.8,149.1 419.0,148.6 420.2,148.2 421.5,147.9 422.8,147.5 424.0,147.1 425.2,146.8 426.5,146.4 427.8,146.1 429.0,145.8 430.2,145.6 431.5,145.4 432.8,145.3 434.0,145.2 435.2,145.1 436.5,145.0 437.8,144.9 439.0,144.8 440.2,144.6 441.5,144.1 442.8,143.6 444.0,142.8 445.2,142.0 446.5,141.0 447.8,140.0 449.0,138.9 450.2,137.8 451.5,136.7 452.8,135.7 454.0,134.7 455.2,133.8 456.5,133.0 457.8,132.3 459.0,131.6 460.2,130.9 461.5,130.1 462.8,129.3 464.0,128.4 465.2,127.4 466.5,126.2 467.8,124.6 469.0,122.5 470.2,120.0 471.5,117.2 472.8,114.4 474.0,111.5 475.2,108.7 476.5,106.2 477.8,104.1 479.0,102.4 480.2,100.9 481.5,99.5 482.8,98.2 484.0,97.0 485.2,95.9 486.5,94.7 487.8,93.7 489.0,92.6 490.2,91.4 491.5,90.3 492.8,89.4 494.0,88.5 495.2,87.6 496.5,86.7 497.8,85.8 499.0,84.7 500.2,83.4 501.5,82.0 502.8,79.6 504.0,77.9 505.2,76.7 506.5,75.7 507.8,74.9 509.0,74.3 510.2,74.0 511.5,74.0 512.8,74.1 514.0,74.1 515.2,74.3 516.5,74.4 517.8,74.6 519.0,75.2 520.2,76.0 521.5,76.9 522.8,77.8 524.0,78.5 525.2,78.8 526.5,78.8 527.8,78.7 529.0,78.7 530.2,78.5 531.5,78.4 532.8,78.1 534.0,77.0 535.2,75.4 536.5,74.0 537.8,72.8 539.0,71.7 540.2,70.5 541.5,69.5 542.8,68.7 544.0,68.0 545.2,67.4 546.5,66.8 547.8,66.4 549.0,65.9 550.2,65.6 551.5,65.4 552.8,65.2 554.0,64.9 555.2,64.5 556.5,63.6 557.8,61.6 559.0,60.9 560.2,60.6 561.5,60.4 562.8,60.2 564.0,60.1 565.2,60.0 566.5,60.0 567.8,61.1 569.0,63.7 570.2,67.3 571.5,70.0 572.8,71.8 574.0,73.2 575.2,74.1 576.5,73.9 577.8,72.8 579.0,71.4 580.2,70.0 581.5,68.4 582.8,66.8 584.0,65.3 585.2,64.1 586.5,63.2 587.8,62.3 589.0,61.1 590.2,59.3 591.5,55.7 592.8,48.4 594.0,45.5 595.2,43.8 596.5,43.4 597.8,43.5 599.0,43.6 600.2,44.7 601.5,46.4 602.8,48.2 604.0,50.2 605.2,52.3 606.5,54.3 607.8,56.5 609.0,58.6 610.2,60.5 611.5,62.1 612.8,63.7 614.0,65.1 615.2,66.3 616.5,67.3 617.8,68.0 619.0,68.7 620.2,69.7 621.5,70.9 622.8,72.3 624.0,73.7 625.2,75.1 626.5,76.4 627.8,77.8 629.0,79.2 630.2,80.7 631.5,82.4 632.8,84.2 634.0,86.0 635.2,87.7 636.5,89.3 637.8,90.8 639.0,92.1 640.2,93.1 641.5,93.9 642.5,94.3 642.5,98.6 641.5,98.1 640.2,97.3 639.0,96.5 637.8,95.7 636.5,94.7 635.2,93.7 634.0,92.3 632.8,90.8 631.5,89.2 630.2,87.7 629.0,86.3 627.8,85.0 626.5,83.8 625.2,82.5 624.0,81.3 622.8,80.0 621.5,78.8 620.2,77.7 619.0,76.9 617.8,76.4 616.5,75.8 615.2,75.1 614.0,74.2 612.8,73.3 611.5,72.1 610.2,70.8 609.0,68.9 607.8,66.7 606.5,64.5 605.2,62.5 604.0,60.6 602.8,58.9 601.5,57.2 600.2,55.4 599.0,54.3 597.8,54.2 596.5,54.1 595.2,54.4 594.0,55.6 592.8,58.7 591.5,63.7 590.2,66.3 589.0,68.1 587.8,69.4 586.5,70.5 585.2,71.6 584.0,72.8 582.8,74.2 581.5,75.7 580.2,77.1 579.0,78.3 577.8,79.6 576.5,80.6 575.2,80.8 574.0,80.0 572.8,78.7 571.5,76.7 570.2,72.9 569.0,67.8 567.8,65.3 566.5,64.3 565.2,64.3 564.0,64.5 562.8,64.7 561.5,65.0 560.2,65.3 559.0,65.7 557.8,66.3 556.5,67.7 555.2,68.2 554.0,68.5 552.8,68.6 551.5,68.8 550.2,68.9 549.0,69.1 547.8,69.4 546.5,69.8 545.2,70.3 544.0,70.8 542.8,71.4 541.5,72.0 540.2,72.8 539.0,73.7 537.8,74.6 536.5,75.6 535.2,77.0 534.0,78.5 532.8,79.7 531.5,80.0 530.2,80.1 529.0,80.3 527.8,80.3 526.5,80.4 525.2,80.4 524.0,80.1 522.8,79.4 521.5,78.5 520.2,77.6 519.0,76.8 517.8,76.2 516.5,76.0 515.2,75.9 514.0,75.7 512.8,75.7 511.5,75.6 510.2,75.6 509.0,75.9 507.8,76.4 506.5,77.2 505.2,78.2 504.0,79.5 502.8,81.4 501.5,84.2 500.2,85.7 499.0,86.9 497.8,87.9 496.5,88.7 495.2,89.5 494.0,90.3 492.8,91.0 491.5,91.9 490.2,92.9 489.0,94.0 487.8,95.1 486.5,96.2 485.2,97.3 484.0,98.5 482.8,99.7 481.5,101.0 480.2,102.4 479.0,103.9 477.8,105.6 476.5,107.7 475.2,110.1 474.0,112.8 472.8,115.5 471.5,118.3 470.2,120.9 469.0,123.3 467.8,125.4 466.5,127.0 465.2,128.2 464.0,129.2 462.8,130.1 461.5,130.9 460.2,131.7 459.0,132.4 457.8,133.1 456.5,133.8 455.2,134.6 454.0,135.5 452.8,136.5 451.5,137.5 450.2,138.6 449.0,139.7 447.8,140.8 446.5,141.8 445.2,142.8 444.0,143.6 442.8,144.4 441.5,144.9 440.2,145.4 439.0,145.6 437.8,145.7 436.5,145.8 435.2,145.9 434.0,146.0 432.8,146.1 431.5,146.2 430.2,146.4 429.0,146.6 427.8,146.9 426.5,147.2 425.2,147.6 424.0,147.9 422.8,148.3 421.5,148.7 420.2,149.0 419.0,149.4 417.8,149.9 416.5,150.3 415.2,150.8 414.0,151.3 412.8,151.7 411.5,152.0 410.2,152.2 409.0,152.3 407.8,152.3 406.5,152.2 405.2,152.0 404.0,151.7 402.8,151.4 401.5,151.2 400.2,151.0 399.0,150.8 397.8,150.7 396.5,150.6 395.2,150.5 394.0,150.4 392.8,150.3 391.5,150.2 390.2,150.1 389.0,150.0 387.8,149.9 386.5,149.8 385.2,149.7 384.0,149.6 382.8,149.5 381.5,149.4 380.2,149.3 379.0,149.2 377.8,149.1 376.5,149.0 375.2,148.9 374.0,148.8 372.8,148.7 371.5,148.6 370.2,148.4 369.0,148.2 367.8,148.0 366.5,147.8 365.2,147.6 364.0,147.4 362.8,147.3 361.5,147.1 360.2,146.9 359.0,146.8 357.8,146.7 356.5,146.6 355.2,146.5 354.0,146.3 352.8,146.2 351.5,146.1 350.2,146.1 349.0,146.0 347.8,145.9 346.5,145.8 345.2,145.6 344.0,145.5 342.8,145.4 341.5,145.3 340.2,145.1 339.0,145.0 337.8,144.8 336.5,144.6 335.2,144.3 334.0,143.9 332.8,143.5 331.5,143.2 330.2,143.1 329.0,143.1 327.8,143.2 326.5,143.2 325.2,143.3 324.0,143.4 322.8,143.5 321.5,143.6 320.2,143.6 319.0,143.6 317.8,143.4 316.5,143.3 315.2,143.2 314.0,143.1 312.8,143.1 311.5,143.2 310.2,143.2 309.0,143.3 307.8,143.4 306.5,143.5 305.2,143.7 304.0,143.8 302.8,144.0 301.5,144.2 300.2,144.4 299.0,144.6 297.8,144.8 296.5,145.0 295.2,145.3 294.0,145.5 292.8,145.7 291.5,145.9 290.2,146.1 289.0,146.3 287.8,146.6 286.5,146.9 285.2,147.2 284.0,147.5 282.8,147.8 281.5,148.2 280.2,148.5 279.0,148.9 277.8,149.2 276.5,149.6 275.2,149.9 274.0,150.2 272.8,150.5 271.5,150.8 270.2,151.0 269.0,151.2 267.8,151.4 266.5,151.5 265.2,151.6 264.0,151.7 262.8,151.8 261.5,151.9 260.2,152.0 259.0,152.1 257.8,152.2 256.5,152.3 255.2,152.4 254.0,152.5 252.8,152.5 251.5,152.6 250.2,152.6 249.0,152.7 247.8,152.7 246.5,152.8 245.2,152.8 244.0,152.8 242.8,152.8 241.5,152.8 240.2,152.7 239.0,152.7 237.8,152.6 236.5,152.6 235.2,152.5 234.0,152.5 232.8,152.5 231.5,152.5 230.2,152.5 229.0,152.5 227.8,152.6 226.5,152.6 225.2,152.6 224.0,152.6 222.8,152.7 221.5,152.7 220.2,152.7 219.0,152.7 217.8,152.7 216.5,152.7 215.2,152.8 214.0,152.8 212.8,152.8 211.5,152.8 210.2,152.8 209.0,152.8 207.8,152.8 206.5,152.7 205.2,152.6 204.0,152.4 202.8,152.2 201.5,151.9 200.2,151.7 199.0,151.5 197.8,151.3 196.5,151.2 195.2,151.2 194.0,151.1 192.8,151.1 191.5,151.1 190.2,151.1 189.0,151.1 187.8,151.1 186.5,151.0 185.2,151.0 184.0,150.9 182.8,150.7 181.5,150.3 180.2,149.9 179.0,149.5 177.8,149.3 176.5,149.2 175.2,149.2 174.0,149.1 172.8,149.1 171.5,149.1 170.2,149.4 169.0,149.9 167.8,150.3 166.5,150.7 165.2,150.9 164.0,150.9 162.8,151.0 161.5,151.0 160.2,151.0 159.0,151.1 157.8,151.1 156.5,151.2 155.2,151.2 154.0,151.3 152.8,151.3 151.5,151.4 150.2,151.5 149.0,151.7 147.8,151.9 146.5,152.5 145.2,153.2 144.0,153.9 142.8,154.6 141.5,155.3 140.2,155.9 139.0,156.5 137.8,157.1 136.5,157.7 135.2,158.3 134.0,158.9 132.8,159.5 131.5,160.1 130.2,160.7 129.0,161.3 127.8,161.9 126.5,162.3 125.2,162.7 124.0,162.9 122.8,163.2 121.5,163.4 120.2,163.5 119.0,163.6Z" fill="#c4c4c4" stroke="none"/>
<path d="M119.0,163.6 120.2,163.5 121.5,163.4 122.8,163.2 124.0,162.9 125.2,162.7 126.5,162.3 127.8,161.9 129.0,161.3 130.2,160.7 131.5,160.1 132.8,159.5 134.0,158.9 135.2,158.3 136.5,157.7 137.8,157.1 139.0,156.5 140.2,155.9 141.5,155.3 142.8,154.6 144.0,153.9 145.2,153.2 146.5,152.5 147.8,151.9 149.0,151.7 150.2,151.5 151.5,151.4 152.8,151.3 154.0,151.3 155.2,151.2 156.5,151.2 157.8,151.1 159.0,151.1 160.2,151.0 161.5,151.0 162.8,151.0 164.0,150.9 165.2,150.9 166.5,150.7 167.8,150.3 169.0,149.9 170.2,149.4 171.5,149.1 172.8,149.1 174.0,149.1 175.2,149.2 176.5,149.2 177.8,149.3 179.0,149.5 180.2,149.9 181.5,150.3 182.8,150.7 184.0,150.9 185.2,151.0 186.5,151.0 187.8,151.1 189.0,151.1 190.2,151.1 191.5,151.1 192.8,151.1 194.0,151.1 195.2,151.2 196.5,151.2 197.8,151.3 199.0,151.5 200.2,151.7 201.5,151.9 202.8,152.2 204.0,152.4 205.2,152.6 206.5,152.7 207.8,152.8 209.0,152.8 210.2,152.8 211.5,152.8 212.8,152.8 214.0,152.8 215.2,152.8 216.5,152.7 217.8,152.7 219.0,152.7 220.2,152.7 221.5,152.7 222.8,152.7 224.0,152.6 225.2,152.6 226.5,152.6 227.8,152.6 229.0,152.5 230.2,152.5 231.5,152.5 232.8,152.5 234.0,152.5 235.2,152.5 236.5,152.6 237.8,152.6 239.0,152.7 240.2,152.7 241.5,152.8 242.8,152.8 244.0,152.8 245.2,152.8 246.5,152.8 247.8,152.7 249.0,152.7 250.2,152.6 251.5,152.6 252.8,152.5 254.0,152.5 255.2,152.4 256.5,152.3 257.8,152.2 259.0,152.1 260.2,152.0 261.5,151.9 262.8,151.8 264.0,151.7 265.2,151.6 266.5,151.5 267.8,151.4 269.0,151.2 270.2,151.0 271.5,150.8 272.8,150.5 274.0,150.2 275.2,149.9 276.5,149.6 277.8,149.2 279.0,148.9 280.2,148.5 281.5,148.2 282.8,147.8 284.0,147.5 285.2,147.2 286.5,146.9 287.8,146.6 289.0,146.3 290.2,146.1 291.5,145.9 292.8,145.7 294.0,145.5 295.2,145.3 296.5,145.0 297.8,144.8 299.0,144.6 300.2,144.4 301.5,144.2 302.8,144.0 304.0,143.8 305.2,143.7 306.5,143.5 307.8,143.4 309.0,143.3 310.2,143.2 311.5,143.2 312.8,143.1 314.0,143.1 315.2,143.2 316.5,143.3 317.8,143.4 319.0,143.6 320.2,143.6 321.5,143.6 322.8,143.5 324.0,143.4 325.2,143.3 326.5,143.2 327.8,143.2 329.0,143.1 330.2,143.1 331.5,143.2 332.8,143.5 334.0,143.9 335.2,144.3 336.5,144.6 337.8,144.8 339.0,145.0 340.2,145.1 341.5,145.3 342.8,145.4 344.0,145.5 345.2,145.6 346.5,145.8 347.8,145.9 349.0,146.0 350.2,146.1 351.5,146.1 352.8,146.2 354.0,146.3 355.2,146.5 356.5,146.6 357.8,146.7 359.0,146.8 360.2,146.9 361.5,147.1 362.8,147.3 364.0,147.4 365.2,147.6 366.5,147.8 367.8,148.0 369.0,148.2 370.2,148.4 371.5,148.6 372.8,148.7 374.0,148.8 375.2,148.9 376.5,149.0 377.8,149.1 379.0,149.2 380.2,149.3 381.5,149.4 382.8,149.5 384.0,149.6 385.2,149.7 386.5,149.8 387.8,149.9 389.0,150.0 390.2,150.1 391.5,150.2 392.8,150.3 394.0,150.4 395.2,150.5 396.5,150.6 397.8,150.7 399.0,150.8 400.2,151.0 401.5,151.2 402.8,151.4 404.0,151.7 405.2,152.0 406.5,152.2 407.8,152.3 409.0,152.3 410.2,152.2 411.5,152.0 412.8,151.7 414.0,151.3 415.2,150.8 416.5,150.3 417.8,149.9 419.0,149.4 420.2,149.0 421.5,148.7 422.8,148.3 424.0,147.9 425.2,147.6 426.5,147.2 427.8,146.9 429.0,146.6 430.2,146.4 431.5,146.2 432.8,146.1 434.0,146.0 435.2,145.9 436.5,145.8 437.8,145.7 439.0,145.6 440.2,145.4 441.5,144.9 442.8,144.4 444.0,143.6 445.2,142.8 446.5,141.8 447.8,140.8 449.0,139.7 450.2,138.6 451.5,137.5 452.8,136.5 454.0,135.5 455.2,134.6 456.5,133.8 457.8,133.1 459.0,132.4 460.2,131.7 461.5,130.9 462.8,130.1 464.0,129.2 465.2,128.2 466.5,127.0 467.8,125.4 469.0,123.3 470.2,120.9 471.5,118.3 472.8,115.5 474.0,112.8 475.2,110.1 476.5,107.7 477.8,105.6 479.0,103.9 480.2,102.4 481.5,101.0 482.8,99.7 484.0,98.5 485.2,97.3 486.5,96.2 487.8,95.1 489.0,94.0 490.2,92.9 491.5,91.9 492.8,91.0 494.0,90.3 495.2,89.5 496.5,88.7 497.8,87.9 499.0,86.9 500.2,85.7 501.5,84.2 502.8,81.4 504.0,79.5 505.2,78.2 506.5,77.2 507.8,76.4 509.0,75.9 510.2,75.6 511.5,75.6 512.8,75.7 514.0,75.7 515.2,75.9 516.5,76.0 517.8,76.2 519.0,76.8 520.2,77.6 521.5,78.5 522.8,79.4 524.0,80.1 525.2,80.4 526.5,80.4 527.8,80.3 529.0,80.3 530.2,80.1 531.5,80.0 532.8,79.7 534.0,78.5 535.2,77.0 536.5,75.6 537.8,74.6 539.0,73.7 540.2,72.8 541.5,72.0 542.8,71.4 544.0,70.8 545.2,70.3 546.5,69.8 547.8,69.4 549.0,69.1 550.2,68.9 551.5,68.8 552.8,68.6 554.0,68.5 555.2,68.2 556.5,67.7 557.8,66.3 559.0,65.7 560.2,65.3 561.5,65.0 562.8,64.7 564.0,64.5 565.2,64.3 566.5,64.3 567.8,65.3 569.0,67.8 570.2,72.9 571.5,76.7 572.8,78.7 574.0,80.0 575.2,80.8 576.5,80.6 577.8,79.6 579.0,78.3 580.2,77.1 581.5,75.7 582.8,74.2 584.0,72.8 585.2,71.6 586.5,70.5 587.8,69.4 589.0,68.1 590.2,66.3 591.5,63.7 592.8,58.7 594.0,55.6 595.2,54.4 596.5,54.1 597.8,54.2 599.0,54.3 600.2,55.4 601.5,57.2 602.8,58.9 604.0,60.6 605.2,62.5 606.5,64.5 607.8,66.7 609.0,68.9 610.2,70.8 611.5,72.1 612.8,73.3 614.0,74.2 615.2,75.1 616.5,75.8 617.8,76.4 619.0,76.9 620.2,77.7 621.5,78.8 622.8,80.0 624.0,81.3 625.2,82.5 626.5,83.8 627.8,85.0 629.0,86.3 630.2,87.7 631.5,89.2 632.8,90.8 634.0,92.3 635.2,93.7 636.5,94.7 637.8,95.7 639.0,96.5 640.2,97.3 641.5,98.1 642.5,98.6 642.5,109.9 641.5,109.4 640.2,108.7 639.0,107.7 637.8,106.6 636.5,105.2 635.2,103.8 634.0,102.4 632.8,100.8 631.5,99.3 630.2,97.9 629.0,96.6 627.8,95.4 626.5,94.2 625.2,93.1 624.0,92.2 622.8,91.3 621.5,90.4 620.2,89.5 619.0,88.6 617.8,87.6 616.5,86.6 615.2,85.6 614.0,84.6 612.8,83.5 611.5,82.3 610.2,81.0 609.0,79.4 607.8,77.6 606.5,75.9 605.2,74.3 604.0,73.0 602.8,71.8 601.5,70.2 600.2,68.4 599.0,66.7 597.8,65.7 596.5,65.8 595.2,66.8 594.0,68.3 592.8,70.8 591.5,73.8 590.2,76.6 589.0,78.0 587.8,78.8 586.5,79.4 585.2,80.0 584.0,80.9 582.8,82.2 581.5,83.8 580.2,85.5 579.0,86.9 577.8,88.2 576.5,89.2 575.2,89.4 574.0,88.6 572.8,87.3 571.5,85.6 570.2,82.8 569.0,78.4 567.8,75.3 566.5,74.0 565.2,74.0 564.0,74.2 562.8,74.3 561.5,74.6 560.2,75.0 559.0,75.4 557.8,76.2 556.5,78.1 555.2,79.1 554.0,79.6 552.8,79.9 551.5,80.2 550.2,80.5 549.0,80.9 547.8,81.4 546.5,81.9 545.2,82.4 544.0,83.0 542.8,83.7 541.5,84.5 540.2,85.4 539.0,86.4 537.8,87.4 536.5,88.4 535.2,89.5 534.0,90.6 532.8,91.4 531.5,92.0 530.2,92.4 529.0,92.8 527.8,93.1 526.5,93.3 525.2,93.3 524.0,93.1 522.8,92.6 521.5,91.9 520.2,91.3 519.0,90.6 517.8,90.2 516.5,90.0 515.2,89.8 514.0,89.7 512.8,89.6 511.5,89.5 510.2,89.5 509.0,90.0 507.8,90.8 506.5,91.7 505.2,92.6 504.0,93.2 502.8,93.3 501.5,93.3 500.2,93.6 499.0,94.1 497.8,94.9 496.5,95.7 495.2,96.8 494.0,97.8 492.8,98.9 491.5,99.9 490.2,100.9 489.0,101.8 487.8,102.7 486.5,103.7 485.2,104.6 484.0,105.6 482.8,106.7 481.5,107.8 480.2,109.1 479.0,110.4 477.8,112.0 476.5,114.0 475.2,116.3 474.0,119.0 472.8,121.7 471.5,124.5 470.2,127.2 469.0,129.7 467.8,131.9 466.5,133.6 465.2,134.9 464.0,136.1 462.8,137.1 461.5,138.1 460.2,138.9 459.0,139.8 457.8,140.6 456.5,141.5 455.2,142.4 454.0,143.4 452.8,144.5 451.5,145.7 450.2,146.9 449.0,148.2 447.8,149.4 446.5,150.5 445.2,151.5 444.0,152.5 442.8,153.2 441.5,153.7 440.2,154.0 439.0,154.1 437.8,154.0 436.5,153.9 435.2,153.8 434.0,153.6 432.8,153.5 431.5,153.5 430.2,153.6 429.0,153.9 427.8,154.3 426.5,154.9 425.2,155.5 424.0,156.1 422.8,156.7 421.5,157.2 420.2,157.6 419.0,157.9 417.8,158.3 416.5,158.6 415.2,158.8 414.0,159.1 412.8,159.3 411.5,159.4 410.2,159.5 409.0,159.3 407.8,159.0 406.5,158.7 405.2,158.3 404.0,157.9 402.8,157.6 401.5,157.2 400.2,157.0 399.0,156.7 397.8,156.5 396.5,156.3 395.2,156.1 394.0,155.9 392.8,155.7 391.5,155.6 390.2,155.4 389.0,155.2 387.8,155.1 386.5,154.9 385.2,154.7 384.0,154.6 382.8,154.4 381.5,154.2 380.2,154.1 379.0,153.9 377.8,153.7 376.5,153.6 375.2,153.4 374.0,153.3 372.8,153.1 371.5,153.0 370.2,152.8 369.0,152.7 367.8,152.5 366.5,152.4 365.2,152.2 364.0,152.1 362.8,151.9 361.5,151.8 360.2,151.6 359.0,151.5 357.8,151.3 356.5,151.2 355.2,151.0 354.0,150.9 352.8,150.7 351.5,150.6 350.2,150.5 349.0,150.3 347.8,150.2 346.5,150.0 345.2,149.9 344.0,149.7 342.8,149.6 341.5,149.5 340.2,149.3 339.0,149.2 337.8,149.0 336.5,148.9 335.2,148.7 334.0,148.5 332.8,148.4 331.5,148.3 330.2,148.2 329.0,148.2 327.8,148.2 326.5,148.3 325.2,148.3 324.0,148.3 322.8,148.4 321.5,148.5 320.2,148.5 319.0,148.6 317.8,148.7 316.5,148.7 315.2,148.8 314.0,148.9 312.8,149.0 311.5,149.0 310.2,149.1 309.0,149.2 307.8,149.3 306.5,149.4 305.2,149.5 304.0,149.6 302.8,149.7 301.5,149.8 300.2,149.9 299.0,150.0 297.8,150.1 296.5,150.2 295.2,150.4 294.0,150.5 292.8,150.6 291.5,150.8 290.2,150.9 289.0,151.1 287.8,151.3 286.5,151.5 285.2,151.7 284.0,152.0 282.8,152.3 281.5,152.5 280.2,152.8 279.0,153.1 277.8,153.4 276.5,153.7 275.2,153.9 274.0,154.2 272.8,154.4 271.5,154.5 270.2,154.7 269.0,154.8 267.8,154.9 266.5,154.9 265.2,154.9 264.0,154.9 262.8,154.8 261.5,154.8 260.2,154.7 259.0,154.7 257.8,154.6 256.5,154.5 255.2,154.4 254.0,154.3 252.8,154.3 251.5,154.2 250.2,154.1 249.0,154.1 247.8,154.0 246.5,154.0 245.2,153.9 244.0,153.9 242.8,153.9 241.5,153.9 240.2,153.9 239.0,153.9 237.8,153.9 236.5,153.9 235.2,153.9 234.0,153.9 232.8,153.9 231.5,153.9 230.2,153.9 229.0,153.9 227.8,153.8 226.5,153.8 225.2,153.8 224.0,153.8 222.8,153.8 221.5,153.7 220.2,153.7 219.0,153.7 217.8,153.7 216.5,153.6 215.2,153.6 214.0,153.6 212.8,153.5 211.5,153.5 210.2,153.5 209.0,153.4 207.8,153.4 206.5,153.3 205.2,153.2 204.0,153.2 202.8,153.1 201.5,153.0 200.2,152.8 199.0,152.7 197.8,152.6 196.5,152.5 195.2,152.4 194.0,152.4 192.8,152.3 191.5,152.2 190.2,152.1 189.0,152.1 187.8,152.0 186.5,151.9 185.2,151.7 184.0,151.6 182.8,151.3 181.5,150.9 180.2,150.5 179.0,150.2 177.8,150.0 176.5,149.8 175.2,149.7 174.0,149.6 172.8,149.6 171.5,149.7 170.2,149.9 169.0,150.3 167.8,150.7 166.5,151.1 165.2,151.2 164.0,151.3 162.8,151.3 161.5,151.3 160.2,151.3 159.0,151.4 157.8,151.4 156.5,151.4 155.2,151.5 154.0,151.6 152.8,151.6 151.5,151.7 150.2,151.9 149.0,152.0 147.8,152.3 146.5,152.8 145.2,153.5 144.0,154.2 142.8,155.0 141.5,155.6 140.2,156.2 139.0,156.8 137.8,157.3 136.5,157.9 135.2,158.5 134.0,159.0 132.8,159.6 131.5,160.2 130.2,160.9 129.0,161.5 127.8,162.0 126.5,162.5 125.2,162.8 124.0,163.0 122.8,163.3 121.5,163.4 120.2,163.6 119.0,163.6Z" fill="#a8a8a8" stroke="none"/>
<path d="M119.0,163.6 120.2,163.6 121.5,163.4 122.8,163.3 124.0,163.0 125.2,162.8 126.5,162.5 127.8,162.0 129.0,161.5 130.2,160.9 131.5,160.2 132.8,159.6 134.0,159.0 135.2,158.5 136.5,157.9 137.8,157.3 139.0,156.8 140.2,156.2 141.5,155.6 142.8,155.0 144.0,154.2 145.2,153.5 146.5,152.8 147.8,152.3 149.0,152.0 150.2,151.9 151.5,151.7 152.8,151.6 154.0,151.6 155.2,151.5 156.5,151.4 157.8,151.4 159.0,151.4 160.2,151.3 161.5,151.3 162.8,151.3 164.0,151.3 165.2,151.2 166.5,151.1 167.8,150.7 169.0,150.3 170.2,149.9 171.5,149.7 172.8,149.6 174.0,149.6 175.2,149.7 176.5,149.8 177.8,150.0 179.0,150.2 180.2,150.5 181.5,150.9 182.8,151.3 184.0,151.6 185.2,151.7 186.5,151.9 187.8,152.0 189.0,152.1 190.2,152.1 191.5,152.2 192.8,152.3 194.0,152.4 195.2,152.4 196.5,152.5 197.8,152.6 199.0,152.7 200.2,152.8 201.5,153.0 202.8,153.1 204.0,153.2 205.2,153.2 206.5,153.3 207.8,153.4 209.0,153.4 210.2,153.5 211.5,153.5 212.8,153.5 214.0,153.6 215.2,153.6 216.5,153.6 217.8,153.7 219.0,153.7 220.2,153.7 221.5,153.7 222.8,153.8 224.0,153.8 225.2,153.8 226.5,153.8 227.8,153.8 229.0,153.9 230.2,153.9 231.5,153.9 232.8,153.9 234.0,153.9 235.2,153.9 236.5,153.9 237.8,153.9 239.0,153.9 240.2,153.9 241.5,153.9 242.8,153.9 244.0,153.9 245.2,153.9 246.5,154.0 247.8,154.0 249.0,154.1 250.2,154.1 251.5,154.2 252.8,154.3 254.0,154.3 255.2,154.4 256.5,154.5 257.8,154.6 259.0,154.7 260.2,154.7 261.5,154.8 262.8,154.8 264.0,154.9 265.2,154.9 266.5,154.9 267.8,154.9 269.0,154.8 270.2,154.7 271.5,154.5 272.8,154.4 274.0,154.2 275.2,153.9 276.5,153.7 277.8,153.4 279.0,153.1 280.2,152.8 281.5,152.5 282.8,152.3 284.0,152.0 285.2,151.7 286.5,151.5 287.8,151.3 289.0,151.1 290.2,150.9 291.5,150.8 292.8,150.6 294.0,150.5 295.2,150.4 296.5,150.2 297.8,150.1 299.0,150.0 300.2,149.9 301.5,149.8 302.8,149.7 304.0,149.6 305.2,149.5 306.5,149.4 307.8,149.3 309.0,149.2 310.2,149.1 311.5,149.0 312.8,149.0 314.0,148.9 315.2,148.8 316.5,148.7 317.8,148.7 319.0,148.6 320.2,148.5 321.5,148.5 322.8,148.4 324.0,148.3 325.2,148.3 326.5,148.3 327.8,148.2 329.0,148.2 330.2,148.2 331.5,148.3 332.8,148.4 334.0,148.5 335.2,148.7 336.5,148.9 337.8,149.0 339.0,149.2 340.2,149.3 341.5,149.5 342.8,149.6 344.0,149.7 345.2,149.9 346.5,150.0 347.8,150.2 349.0,150.3 350.2,150.5 351.5,150.6 352.8,150.7 354.0,150.9 355.2,151.0 356.5,151.2 357.8,151.3 359.0,151.5 360.2,151.6 361.5,151.8 362.8,151.9 364.0,152.1 365.2,152.2 366.5,152.4 367.8,152.5 369.0,152.7 370.2,152.8 371.5,153.0 372.8,153.1 374.0,153.3 375.2,153.4 376.5,153.6 377.8,153.7 379.0,153.9 380.2,154.1 381.5,154.2 382.8,154.4 384.0,154.6 385.2,154.7 386.5,154.9 387.8,155.1 389.0,155.2 390.2,155.4 391.5,155.6 392.8,155.7 394.0,155.9 395.2,156.1 396.5,156.3 397.8,156.5 399.0,156.7 400.2,157.0 401.5,157.2 402.8,157.6 404.0,157.9 405.2,158.3 406.5,158.7 407.8,159.0 409.0,159.3 410.2,159.5 411.5,159.4 412.8,159.3 414.0,159.1 415.2,158.8 416.5,158.6 417.8,158.3 419.0,157.9 420.2,157.6 421.5,157.2 422.8,156.7 424.0,156.1 425.2,155.5 426.5,154.9 427.8,154.3 429.0,153.9 430.2,153.6 431.5,153.5 432.8,153.5 434.0,153.6 435.2,153.8 436.5,153.9 437.8,154.0 439.0,154.1 440.2,154.0 441.5,153.7 442.8,153.2 444.0,152.5 445.2,151.5 446.5,150.5 447.8,149.4 449.0,148.2 450.2,146.9 451.5,145.7 452.8,144.5 454.0,143.4 455.2,142.4 456.5,141.5 457.8,140.6 459.0,139.8 460.2,138.9 461.5,138.1 462.8,137.1 464.0,136.1 465.2,134.9 466.5,133.6 467.8,131.9 469.0,129.7 470.2,127.2 471.5,124.5 472.8,121.7 474.0,119.0 475.2,116.3 476.5,114.0 477.8,112.0 479.0,110.4 480.2,109.1 481.5,107.8 482.8,106.7 484.0,105.6 485.2,104.6 486.5,103.7 487.8,102.7 489.0,101.8 490.2,100.9 491.5,99.9 492.8,98.9 494.0,97.8 495.2,96.8 496.5,95.7 497.8,94.9 499.0,94.1 500.2,93.6 501.5,93.3 502.8,93.3 504.0,93.2 505.2,92.6 506.5,91.7 507.8,90.8 509.0,90.0 510.2,89.5 511.5,89.5 512.8,89.6 514.0,89.7 515.2,89.8 516.5,90.0 517.8,90.2 519.0,90.6 520.2,91.3 521.5,91.9 522.8,92.6 524.0,93.1 525.2,93.3 526.5,93.3 527.8,93.1 529.0,92.8 530.2,92.4 531.5,92.0 532.8,91.4 534.0,90.6 535.2,89.5 536.5,88.4 537.8,87.4 539.0,86.4 540.2,85.4 541.5,84.5 542.8,83.7 544.0,83.0 545.2,82.4 546.5,81.9 547.8,81.4 549.0,80.9 550.2,80.5 551.5,80.2 552.8,79.9 554.0,79.6 555.2,79.1 556.5,78.1 557.8,76.2 559.0,75.4 560.2,75.0 561.5,74.6 562.8,74.3 564.0,74.2 565.2,74.0 566.5,74.0 567.8,75.3 569.0,78.4 570.2,82.8 571.5,85.6 572.8,87.3 574.0,88.6 575.2,89.4 576.5,89.2 577.8,88.2 579.0,86.9 580.2,85.5 581.5,83.8 582.8,82.2 584.0,80.9 585.2,80.0 586.5,79.4 587.8,78.8 589.0,78.0 590.2,76.6 591.5,73.8 592.8,70.8 594.0,68.3 595.2,66.8 596.5,65.8 597.8,65.7 599.0,66.7 600.2,68.4 601.5,70.2 602.8,71.8 604.0,73.0 605.2,74.3 606.5,75.9 607.8,77.6 609.0,79.4 610.2,81.0 611.5,82.3 612.8,83.5 614.0,84.6 615.2,85.6 616.5,86.6 617.8,87.6 619.0,88.6 620.2,89.5 621.5,90.4 622.8,91.3 624.0,92.2 625.2,93.1 626.5,94.2 627.8,95.4 629.0,96.6 630.2,97.9 631.5,99.3 632.8,100.8 634.0,102.4 635.2,103.8 636.5,105.2 637.8,106.6 639.0,107.7 640.2,108.7 641.5,109.4 642.5,109.9 642.5,131.4 641.5,130.8 640.2,130.1 639.0,129.2 637.8,128.3 636.5,127.2 635.2,126.0 634.0,124.9 632.8,123.8 631.5,122.7 630.2,121.7 629.0,120.7 627.8,119.8 626.5,119.1 625.2,118.5 624.0,117.9 622.8,117.5 621.5,117.0 620.2,116.6 619.0,116.2 617.8,115.9 616.5,115.6 615.2,115.3 614.0,115.0 612.8,114.7 611.5,114.3 610.2,113.9 609.0,113.3 607.8,112.7 606.5,112.0 605.2,111.3 604.0,110.6 602.8,109.6 601.5,108.3 600.2,107.2 599.0,106.8 597.8,107.0 596.5,107.5 595.2,108.6 594.0,110.6 592.8,114.3 591.5,118.5 590.2,120.2 589.0,121.4 587.8,122.3 586.5,123.1 585.2,123.8 584.0,124.5 582.8,125.4 581.5,126.5 580.2,127.7 579.0,128.9 577.8,129.7 576.5,130.1 575.2,129.6 574.0,128.4 572.8,127.0 571.5,125.3 570.2,123.1 569.0,120.9 567.8,119.2 566.5,118.4 565.2,118.4 564.0,118.5 562.8,118.6 561.5,118.7 560.2,118.9 559.0,119.1 557.8,119.4 556.5,119.8 555.2,120.4 554.0,121.0 552.8,121.8 551.5,122.5 550.2,123.2 549.0,123.9 547.8,124.6 546.5,125.2 545.2,125.9 544.0,126.6 542.8,127.3 541.5,128.2 540.2,129.1 539.0,130.4 537.8,132.0 536.5,133.6 535.2,134.4 534.0,134.4 532.8,133.7 531.5,132.8 530.2,131.5 529.0,130.2 527.8,128.9 526.5,127.8 525.2,126.9 524.0,126.1 522.8,125.4 521.5,124.7 520.2,124.1 519.0,123.5 517.8,122.9 516.5,122.4 515.2,121.9 514.0,121.4 512.8,121.0 511.5,120.7 510.2,120.7 509.0,120.8 507.8,121.0 506.5,121.4 505.2,121.8 504.0,122.3 502.8,122.9 501.5,123.8 500.2,125.6 499.0,126.2 497.8,126.6 496.5,126.8 495.2,127.0 494.0,127.2 492.8,127.4 491.5,127.7 490.2,128.1 489.0,128.6 487.8,129.3 486.5,130.1 485.2,131.1 484.0,132.1 482.8,133.2 481.5,134.4 480.2,135.5 479.0,136.7 477.8,137.9 476.5,139.3 475.2,140.9 474.0,142.5 472.8,144.2 471.5,145.9 470.2,147.5 469.0,149.0 467.8,150.4 466.5,151.5 465.2,152.5 464.0,153.4 462.8,154.3 461.5,155.1 460.2,155.9 459.0,156.6 457.8,157.3 456.5,157.9 455.2,158.4 454.0,158.9 452.8,159.4 451.5,159.9 450.2,160.5 449.0,160.9 447.8,161.4 446.5,161.8 445.2,162.2 444.0,162.5 442.8,162.8 441.5,163.0 440.2,163.1 439.0,163.1 437.8,163.0 436.5,162.9 435.2,162.8 434.0,162.6 432.8,162.5 431.5,162.5 430.2,162.6 429.0,162.7 427.8,163.0 426.5,163.3 425.2,163.7 424.0,164.0 422.8,164.3 421.5,164.6 420.2,164.7 419.0,164.7 417.8,164.8 416.5,164.8 415.2,164.8 414.0,164.9 412.8,164.9 411.5,164.9 410.2,164.9 409.0,164.9 407.8,164.8 406.5,164.6 405.2,164.2 404.0,163.7 402.8,163.2 401.5,162.7 400.2,162.3 399.0,162.1 397.8,161.8 396.5,161.6 395.2,161.4 394.0,161.1 392.8,160.9 391.5,160.8 390.2,160.6 389.0,160.4 387.8,160.2 386.5,160.0 385.2,159.8 384.0,159.7 382.8,159.5 381.5,159.3 380.2,159.1 379.0,158.9 377.8,158.7 376.5,158.5 375.2,158.3 374.0,158.1 372.8,157.9 371.5,157.7 370.2,157.5 369.0,157.4 367.8,157.2 366.5,157.0 365.2,156.9 364.0,156.7 362.8,156.6 361.5,156.5 360.2,156.4 359.0,156.2 357.8,156.2 356.5,156.1 355.2,156.0 354.0,155.9 352.8,155.8 351.5,155.7 350.2,155.7 349.0,155.6 347.8,155.5 346.5,155.5 345.2,155.4 344.0,155.3 342.8,155.2 341.5,155.2 340.2,155.1 339.0,155.0 337.8,154.9 336.5,154.8 335.2,154.6 334.0,154.4 332.8,154.3 331.5,154.2 330.2,154.1 329.0,154.1 327.8,154.1 326.5,154.1 325.2,154.1 324.0,154.2 322.8,154.2 321.5,154.2 320.2,154.3 319.0,154.3 317.8,154.4 316.5,154.4 315.2,154.5 314.0,154.5 312.8,154.5 311.5,154.6 310.2,154.7 309.0,154.7 307.8,154.8 306.5,154.9 305.2,154.9 304.0,155.0 302.8,155.1 301.5,155.2 300.2,155.3 299.0,155.4 297.8,155.5 296.5,155.6 295.2,155.7 294.0,155.8 292.8,156.0 291.5,156.1 290.2,156.2 289.0,156.4 287.8,156.5 286.5,156.7 285.2,157.0 284.0,157.2 282.8,157.5 281.5,157.8 280.2,158.1 279.0,158.4 277.8,158.7 276.5,158.9 275.2,159.2 274.0,159.4 272.8,159.7 271.5,159.8 270.2,160.0 269.0,160.1 267.8,160.2 266.5,160.2 265.2,160.2 264.0,160.2 262.8,160.1 261.5,160.0 260.2,160.0 259.0,159.9 257.8,159.8 256.5,159.7 255.2,159.6 254.0,159.5 252.8,159.4 251.5,159.3 250.2,159.2 249.0,159.1 247.8,159.1 246.5,159.0 245.2,159.0 244.0,158.9 242.8,158.9 241.5,158.9 240.2,158.9 239.0,158.9 237.8,159.0 236.5,159.0 235.2,159.0 234.0,159.0 232.8,159.0 231.5,159.1 230.2,159.2 229.0,159.3 227.8,159.4 226.5,159.5 225.2,159.6 224.0,159.7 222.8,159.8 221.5,159.9 220.2,159.9 219.0,159.9 217.8,159.9 216.5,159.9 215.2,159.9 214.0,159.9 212.8,159.9 211.5,159.9 210.2,159.9 209.0,159.9 207.8,159.9 206.5,159.9 205.2,159.8 204.0,159.6 202.8,159.5 201.5,159.3 200.2,159.2 199.0,159.0 197.8,158.8 196.5,158.7 195.2,158.5 194.0,158.4 192.8,158.3 191.5,158.2 190.2,158.1 189.0,157.9 187.8,157.8 186.5,157.6 185.2,157.4 184.0,157.2 182.8,156.7 181.5,156.0 180.2,155.4 179.0,154.8 177.8,154.6 176.5,154.5 175.2,154.4 174.0,154.3 172.8,154.3 171.5,154.3 170.2,154.5 169.0,154.8 167.8,155.1 166.5,155.3 165.2,155.4 164.0,155.4 162.8,155.3 161.5,155.3 160.2,155.2 159.0,155.1 157.8,155.1 156.5,155.1 155.2,155.2 154.0,155.4 152.8,155.5 151.5,155.7 150.2,155.8 149.0,155.8 147.8,155.8 146.5,155.7 145.2,155.7 144.0,155.6 142.8,155.6 141.5,155.6 140.2,156.2 139.0,156.8 137.8,157.3 136.5,157.9 135.2,158.5 134.0,159.1 132.8,159.7 131.5,160.3 130.2,161.0 129.0,161.7 127.8,162.3 126.5,162.7 125.2,163.0 124.0,163.2 122.8,163.4 121.5,163.5 120.2,163.6 119.0,163.6Z" fill="#fdb52e" stroke="none"/>
<path d="M119.0,163.6 120.2,163.6 121.5,163.5 122.8,163.4 124.0,163.2 125.2,163.0 126.5,162.7 127.8,162.3 129.0,161.7 130.2,161.0 131.5,160.3 132.8,159.7 134.0,159.1 135.2,158.5 136.5,157.9 137.8,157.3 139.0,156.8 140.2,156.2 141.5,155.6 142.8,155.6 144.0,155.6 145.2,155.7 146.5,155.7 147.8,155.8 149.0,155.8 150.2,155.8 151.5,155.7 152.8,155.5 154.0,155.4 155.2,155.2 156.5,155.1 157.8,155.1 159.0,155.1 160.2,155.2 161.5,155.3 162.8,155.3 164.0,155.4 165.2,155.4 166.5,155.3 167.8,155.1 169.0,154.8 170.2,154.5 171.5,154.3 172.8,154.3 174.0,154.3 175.2,154.4 176.5,154.5 177.8,154.6 179.0,154.8 180.2,155.4 181.5,156.0 182.8,156.7 184.0,157.2 185.2,157.4 186.5,157.6 187.8,157.8 189.0,157.9 190.2,158.1 191.5,158.2 192.8,158.3 194.0,158.4 195.2,158.5 196.5,158.7 197.8,158.8 199.0,159.0 200.2,159.2 201.5,159.3 202.8,159.5 204.0,159.6 205.2,159.8 206.5,159.9 207.8,159.9 209.0,159.9 210.2,159.9 211.5,159.9 212.8,159.9 214.0,159.9 215.2,159.9 216.5,159.9 217.8,159.9 219.0,159.9 220.2,159.9 221.5,159.9 222.8,159.8 224.0,159.7 225.2,159.6 226.5,159.5 227.8,159.4 229.0,159.3 230.2,159.2 231.5,159.1 232.8,159.0 234.0,159.0 235.2,159.0 236.5,159.0 237.8,159.0 239.0,158.9 240.2,158.9 241.5,158.9 242.8,158.9 244.0,158.9 245.2,159.0 246.5,159.0 247.8,159.1 249.0,159.1 250.2,159.2 251.5,159.3 252.8,159.4 254.0,159.5 255.2,159.6 256.5,159.7 257.8,159.8 259.0,159.9 260.2,160.0 261.5,160.0 262.8,160.1 264.0,160.2 265.2,160.2 266.5,160.2 267.8,160.2 269.0,160.1 270.2,160.0 271.5,159.8 272.8,159.7 274.0,159.4 275.2,159.2 276.5,158.9 277.8,158.7 279.0,158.4 280.2,158.1 281.5,157.8 282.8,157.5 284.0,157.2 285.2,157.0 286.5,156.7 287.8,156.5 289.0,156.4 290.2,156.2 291.5,156.1 292.8,156.0 294.0,155.8 295.2,155.7 296.5,155.6 297.8,155.5 299.0,155.4 300.2,155.3 301.5,155.2 302.8,155.1 304.0,155.0 305.2,154.9 306.5,154.9 307.8,154.8 309.0,154.7 310.2,154.7 311.5,154.6 312.8,154.5 314.0,154.5 315.2,154.5 316.5,154.4 317.8,154.4 319.0,154.3 320.2,154.3 321.5,154.2 322.8,154.2 324.0,154.2 325.2,154.1 326.5,154.1 327.8,154.1 329.0,154.1 330.2,154.1 331.5,154.2 332.8,154.3 334.0,154.4 335.2,154.6 336.5,154.8 337.8,154.9 339.0,155.0 340.2,155.1 341.5,155.2 342.8,155.2 344.0,155.3 345.2,155.4 346.5,155.5 347.8,155.5 349.0,155.6 350.2,155.7 351.5,155.7 352.8,155.8 354.0,155.9 355.2,156.0 356.5,156.1 357.8,156.2 359.0,156.2 360.2,156.4 361.5,156.5 362.8,156.6 364.0,156.7 365.2,156.9 366.5,157.0 367.8,157.2 369.0,157.4 370.2,157.5 371.5,157.7 372.8,157.9 374.0,158.1 375.2,158.3 376.5,158.5 377.8,158.7 379.0,158.9 380.2,159.1 381.5,159.3 382.8,159.5 384.0,159.7 385.2,159.8 386.5,160.0 387.8,160.2 389.0,160.4 390.2,160.6 391.5,160.8 392.8,160.9 394.0,161.1 395.2,161.4 396.5,161.6 397.8,161.8 399.0,162.1 400.2,162.3 401.5,162.7 402.8,163.2 404.0,163.7 405.2,164.2 406.5,164.6 407.8,164.8 409.0,164.9 410.2,164.9 411.5,164.9 412.8,164.9 414.0,164.9 415.2,164.8 416.5,164.8 417.8,164.8 419.0,164.7 420.2,164.7 421.5,164.6 422.8,164.3 424.0,164.0 425.2,163.7 426.5,163.3 427.8,163.0 429.0,162.7 430.2,162.6 431.5,162.5 432.8,162.5 434.0,162.6 435.2,162.8 436.5,162.9 437.8,163.0 439.0,163.1 440.2,163.1 441.5,163.0 442.8,162.8 444.0,162.5 445.2,162.2 446.5,161.8 447.8,161.4 449.0,160.9 450.2,160.5 451.5,159.9 452.8,159.4 454.0,158.9 455.2,158.4 456.5,157.9 457.8,157.3 459.0,156.6 460.2,155.9 461.5,155.1 462.8,154.3 464.0,153.4 465.2,152.5 466.5,151.5 467.8,150.4 469.0,149.0 470.2,147.5 471.5,145.9 472.8,144.2 474.0,142.5 475.2,140.9 476.5,139.3 477.8,137.9 479.0,136.7 480.2,135.5 481.5,134.4 482.8,133.2 484.0,132.1 485.2,131.1 486.5,130.1 487.8,129.3 489.0,128.6 490.2,128.1 491.5,127.7 492.8,127.4 494.0,127.2 495.2,127.0 496.5,126.8 497.8,126.6 499.0,126.2 500.2,125.6 501.5,123.8 502.8,122.9 504.0,122.3 505.2,121.8 506.5,121.4 507.8,121.0 509.0,120.8 510.2,120.7 511.5,120.7 512.8,121.0 514.0,121.4 515.2,121.9 516.5,122.4 517.8,122.9 519.0,123.5 520.2,124.1 521.5,124.7 522.8,125.4 524.0,126.1 525.2,126.9 526.5,127.8 527.8,128.9 529.0,130.2 530.2,131.5 531.5,132.8 532.8,133.7 534.0,134.4 535.2,134.4 536.5,133.6 537.8,132.0 539.0,130.4 540.2,129.1 541.5,128.2 542.8,127.3 544.0,126.6 545.2,125.9 546.5,125.2 547.8,124.6 549.0,123.9 550.2,123.2 551.5,122.5 552.8,121.8 554.0,121.0 555.2,120.4 556.5,119.8 557.8,119.4 559.0,119.1 560.2,118.9 561.5,118.7 562.8,118.6 564.0,118.5 565.2,118.4 566.5,118.4 567.8,119.2 569.0,120.9 570.2,123.1 571.5,125.3 572.8,127.0 574.0,128.4 575.2,129.6 576.5,130.1 577.8,129.7 579.0,128.9 580.2,127.7 581.5,126.5 582.8,125.4 584.0,124.5 585.2,123.8 586.5,123.1 587.8,122.3 589.0,121.4 590.2,120.2 591.5,118.5 592.8,114.3 594.0,110.6 595.2,108.6 596.5,107.5 597.8,107.0 599.0,106.8 600.2,107.2 601.5,108.3 602.8,109.6 604.0,110.6 605.2,111.3 606.5,112.0 607.8,112.7 609.0,113.3 610.2,113.9 611.5,114.3 612.8,114.7 614.0,115.0 615.2,115.3 616.5,115.6 617.8,115.9 619.0,116.2 620.2,116.6 621.5,117.0 622.8,117.5 624.0,117.9 625.2,118.5 626.5,119.1 627.8,119.8 629.0,120.7 630.2,121.7 631.5,122.7 632.8,123.8 634.0,124.9 635.2,126.0 636.5,127.2 637.8,128.3 639.0,129.2 640.2,130.1 641.5,130.8 642.5,131.4 642.5,168.4 641.5,168.4 640.2,168.4 639.0,168.4 637.8,168.3 636.5,167.9 635.2,167.2 634.0,166.5 632.8,165.9 631.5,165.5 630.2,165.0 629.0,164.6 627.8,164.2 626.5,164.0 625.2,163.9 624.0,163.9 622.8,164.0 621.5,164.0 620.2,164.1 619.0,164.1 617.8,164.3 616.5,164.4 615.2,164.4 614.0,164.0 612.8,163.4 611.5,162.6 610.2,161.7 609.0,160.9 607.8,160.2 606.5,159.8 605.2,159.8 604.0,159.7 602.8,159.7 601.5,159.6 600.2,159.6 599.0,159.6 597.8,159.7 596.5,159.9 595.2,160.1 594.0,160.5 592.8,161.0 591.5,162.4 590.2,163.2 589.0,163.8 587.8,164.3 586.5,164.8 585.2,165.2 584.0,165.7 582.8,166.1 581.5,166.6 580.2,167.0 579.0,167.3 577.8,167.7 576.5,168.1 575.2,168.5 574.0,168.9 572.8,169.3 571.5,169.9 570.2,169.7 569.0,168.4 567.8,166.8 566.5,166.0 565.2,166.0 564.0,166.1 562.8,166.2 561.5,166.4 560.2,166.6 559.0,166.7 557.8,166.8 556.5,167.0 555.2,167.1 554.0,167.2 552.8,167.4 551.5,167.6 550.2,167.8 549.0,168.0 547.8,168.4 546.5,169.0 545.2,169.7 544.0,170.5 542.8,171.4 541.5,172.4 540.2,173.4 539.0,174.7 537.8,176.4 536.5,178.1 535.2,179.2 534.0,179.7 532.8,180.1 531.5,180.3 530.2,180.6 529.0,180.8 527.8,181.0 526.5,181.2 525.2,181.5 524.0,181.8 522.8,182.1 521.5,182.5 520.2,182.9 519.0,183.3 517.8,183.8 516.5,184.3 515.2,184.9 514.0,185.5 512.8,186.2 511.5,186.9 510.2,187.7 509.0,188.8 507.8,190.1 506.5,191.6 505.2,193.2 504.0,194.8 502.8,196.4 501.5,198.0 500.2,199.9 499.0,201.8 497.8,203.1 496.5,203.3 495.2,203.2 494.0,202.9 492.8,202.7 491.5,202.3 490.2,202.0 489.0,201.4 487.8,200.7 486.5,199.8 485.2,198.8 484.0,197.8 482.8,196.7 481.5,195.6 480.2,194.5 479.0,193.6 477.8,192.8 476.5,192.1 475.2,191.3 474.0,190.6 472.8,189.9 471.5,189.2 470.2,188.6 469.0,187.9 467.8,187.3 466.5,186.7 465.2,186.1 464.0,185.5 462.8,185.0 461.5,184.4 460.2,183.9 459.0,183.4 457.8,182.9 456.5,182.4 455.2,182.0 454.0,181.6 452.8,181.2 451.5,180.8 450.2,180.4 449.0,180.0 447.8,179.7 446.5,179.3 445.2,179.0 444.0,178.7 442.8,178.4 441.5,178.2 440.2,178.0 439.0,177.8 437.8,177.7 436.5,177.6 435.2,177.5 434.0,177.4 432.8,177.3 431.5,177.2 430.2,177.1 429.0,176.9 427.8,176.8 426.5,176.6 425.2,176.5 424.0,176.3 422.8,176.2 421.5,176.1 420.2,176.1 419.0,176.1 417.8,176.2 416.5,176.2 415.2,176.3 414.0,176.4 412.8,176.4 411.5,176.5 410.2,176.5 409.0,176.4 407.8,176.1 406.5,175.6 405.2,175.0 404.0,174.2 402.8,173.4 401.5,172.7 400.2,172.0 399.0,171.5 397.8,170.9 396.5,170.4 395.2,169.8 394.0,169.3 392.8,168.8 391.5,168.3 390.2,167.8 389.0,167.4 387.8,166.9 386.5,166.5 385.2,166.1 384.0,165.7 382.8,165.3 381.5,165.0 380.2,164.6 379.0,164.2 377.8,163.9 376.5,163.5 375.2,163.2 374.0,162.9 372.8,162.5 371.5,162.2 370.2,161.9 369.0,161.6 367.8,161.4 366.5,161.1 365.2,160.8 364.0,160.5 362.8,160.3 361.5,160.0 360.2,159.8 359.0,159.6 357.8,159.3 356.5,159.1 355.2,158.9 354.0,158.7 352.8,158.5 351.5,158.3 350.2,158.1 349.0,157.9 347.8,157.7 346.5,157.5 345.2,157.3 344.0,157.1 342.8,157.0 341.5,156.8 340.2,156.6 339.0,156.5 337.8,156.3 336.5,156.2 335.2,156.0 334.0,155.9 332.8,155.7 331.5,155.6 330.2,155.6 329.0,155.6 327.8,155.6 326.5,155.7 325.2,155.7 324.0,155.8 322.8,155.8 321.5,155.9 320.2,155.9 319.0,156.0 317.8,156.1 316.5,156.2 315.2,156.2 314.0,156.3 312.8,156.4 311.5,156.4 310.2,156.5 309.0,156.5 307.8,156.6 306.5,156.6 305.2,156.7 304.0,156.8 302.8,156.8 301.5,156.9 300.2,156.9 299.0,157.0 297.8,157.1 296.5,157.2 295.2,157.2 294.0,157.3 292.8,157.4 291.5,157.5 290.2,157.6 289.0,157.7 287.8,157.9 286.5,158.1 285.2,158.4 284.0,158.6 282.8,158.9 281.5,159.2 280.2,159.5 279.0,159.9 277.8,160.2 276.5,160.5 275.2,160.8 274.0,161.0 272.8,161.3 271.5,161.5 270.2,161.7 269.0,161.8 267.8,161.9 266.5,161.9 265.2,161.9 264.0,161.9 262.8,161.8 261.5,161.7 260.2,161.6 259.0,161.5 257.8,161.4 256.5,161.3 255.2,161.2 254.0,161.1 252.8,161.0 251.5,160.9 250.2,160.8 249.0,160.7 247.8,160.6 246.5,160.6 245.2,160.5 244.0,160.5 242.8,160.5 241.5,160.5 240.2,160.5 239.0,160.6 237.8,160.6 236.5,160.7 235.2,160.7 234.0,160.8 232.8,160.9 231.5,160.9 230.2,161.0 229.0,161.1 227.8,161.2 226.5,161.3 225.2,161.4 224.0,161.5 222.8,161.5 221.5,161.6 220.2,161.7 219.0,161.9 217.8,162.0 216.5,162.1 215.2,162.3 214.0,162.4 212.8,162.5 211.5,162.7 210.2,162.7 209.0,162.8 207.8,162.8 206.5,162.8 205.2,162.7 204.0,162.7 202.8,162.6 201.5,162.5 200.2,162.4 199.0,162.4 197.8,162.3 196.5,162.3 195.2,162.3 194.0,162.3 192.8,162.4 191.5,162.4 190.2,162.5 189.0,162.7 187.8,162.8 186.5,162.9 185.2,163.1 184.0,163.3 182.8,163.9 181.5,164.8 180.2,165.7 179.0,166.3 177.8,166.5 176.5,166.4 175.2,166.3 174.0,166.1 172.8,166.0 171.5,165.7 170.2,165.3 169.0,164.9 167.8,164.4 166.5,164.1 165.2,164.0 164.0,164.1 162.8,164.3 161.5,164.5 160.2,164.9 159.0,165.2 157.8,165.4 156.5,165.7 155.2,166.0 154.0,166.3 152.8,166.6 151.5,166.8 150.2,167.1 149.0,167.2 147.8,167.3 146.5,167.4 145.2,167.5 144.0,167.5 142.8,167.6 141.5,167.6 140.2,167.6 139.0,167.5 137.8,167.4 136.5,167.2 135.2,167.0 134.0,166.8 132.8,166.5 131.5,166.1 130.2,165.5 129.0,164.8 127.8,164.3 126.5,163.9 125.2,163.7 124.0,163.7 122.8,163.6 121.5,163.6 120.2,163.6 119.0,163.6Z" fill="#fd6b32" stroke="none"/>
<path d="M119.0,163.6 120.2,163.6 121.5,163.6 122.8,163.6 124.0,163.7 125.2,163.7 126.5,163.9 127.8,164.3 129.0,164.8 130.2,165.5 131.5,166.1 132.8,166.5 134.0,166.8 135.2,167.0 136.5,167.2 137.8,167.4 139.0,167.5 140.2,167.6 141.5,167.6 142.8,167.6 144.0,167.5 145.2,167.5 146.5,167.4 147.8,167.3 149.0,167.2 150.2,167.1 151.5,166.8 152.8,166.6 154.0,166.3 155.2,166.0 156.5,165.7 157.8,165.4 159.0,165.2 160.2,164.9 161.5,164.5 162.8,164.3 164.0,164.1 165.2,164.0 166.5,164.1 167.8,164.4 169.0,164.9 170.2,165.3 171.5,165.7 172.8,166.0 174.0,166.1 175.2,166.3 176.5,166.4 177.8,166.5 179.0,166.3 180.2,165.7 181.5,164.8 182.8,163.9 184.0,163.3 185.2,163.1 186.5,162.9 187.8,162.8 189.0,162.7 190.2,162.5 191.5,162.4 192.8,162.4 194.0,162.3 195.2,162.3 196.5,162.3 197.8,162.3 199.0,162.4 200.2,162.4 201.5,162.5 202.8,162.6 204.0,162.7 205.2,162.7 206.5,162.8 207.8,162.8 209.0,162.8 210.2,162.7 211.5,162.7 212.8,162.5 214.0,162.4 215.2,162.3 216.5,162.1 217.8,162.0 219.0,161.9 220.2,161.7 221.5,161.6 222.8,161.5 224.0,161.5 225.2,161.4 226.5,161.3 227.8,161.2 229.0,161.1 230.2,161.0 231.5,160.9 232.8,160.9 234.0,160.8 235.2,160.7 236.5,160.7 237.8,160.6 239.0,160.6 240.2,160.5 241.5,160.5 242.8,160.5 244.0,160.5 245.2,160.5 246.5,160.6 247.8,160.6 249.0,160.7 250.2,160.8 251.5,160.9 252.8,161.0 254.0,161.1 255.2,161.2 256.5,161.3 257.8,161.4 259.0,161.5 260.2,161.6 261.5,161.7 262.8,161.8 264.0,161.9 265.2,161.9 266.5,161.9 267.8,161.9 269.0,161.8 270.2,161.7 271.5,161.5 272.8,161.3 274.0,161.0 275.2,160.8 276.5,160.5 277.8,160.2 279.0,159.9 280.2,159.5 281.5,159.2 282.8,158.9 284.0,158.6 285.2,158.4 286.5,158.1 287.8,157.9 289.0,157.7 290.2,157.6 291.5,157.5 292.8,157.4 294.0,157.3 295.2,157.2 296.5,157.2 297.8,157.1 299.0,157.0 300.2,156.9 301.5,156.9 302.8,156.8 304.0,156.8 305.2,156.7 306.5,156.6 307.8,156.6 309.0,156.5 310.2,156.5 311.5,156.4 312.8,156.4 314.0,156.3 315.2,156.2 316.5,156.2 317.8,156.1 319.0,156.0 320.2,155.9 321.5,155.9 322.8,155.8 324.0,155.8 325.2,155.7 326.5,155.7 327.8,155.6 329.0,155.6 330.2,155.6 331.5,155.6 332.8,155.7 334.0,155.9 335.2,156.0 336.5,156.2 337.8,156.3 339.0,156.5 340.2,156.6 341.5,156.8 342.8,157.0 344.0,157.1 345.2,157.3 346.5,157.5 347.8,157.7 349.0,157.9 350.2,158.1 351.5,158.3 352.8,158.5 354.0,158.7 355.2,158.9 356.5,159.1 357.8,159.3 359.0,159.6 360.2,159.8 361.5,160.0 362.8,160.3 364.0,160.5 365.2,160.8 366.5,161.1 367.8,161.4 369.0,161.6 370.2,161.9 371.5,162.2 372.8,162.5 374.0,162.9 375.2,163.2 376.5,163.5 377.8,163.9 379.0,164.2 380.2,164.6 381.5,165.0 382.8,165.3 384.0,165.7 385.2,166.1 386.5,166.5 387.8,166.9 389.0,167.4 390.2,167.8 391.5,168.3 392.8,168.8 394.0,169.3 395.2,169.8 396.5,170.4 397.8,170.9 399.0,171.5 400.2,172.0 401.5,172.7 402.8,173.4 404.0,174.2 405.2,175.0 406.5,175.6 407.8,176.1 409.0,176.4 410.2,176.5 411.5,176.5 412.8,176.4 414.0,176.4 415.2,176.3 416.5,176.2 417.8,176.2 419.0,176.1 420.2,176.1 421.5,176.1 422.8,176.2 424.0,176.3 425.2,176.5 426.5,176.6 427.8,176.8 429.0,176.9 430.2,177.1 431.5,177.2 432.8,177.3 434.0,177.4 435.2,177.5 436.5,177.6 437.8,177.7 439.0,177.8 440.2,178.0 441.5,178.2 442.8,178.4 444.0,178.7 445.2,179.0 446.5,179.3 447.8,179.7 449.0,180.0 450.2,180.4 451.5,180.8 452.8,181.2 454.0,181.6 455.2,182.0 456.5,182.4 457.8,182.9 459.0,183.4 460.2,183.9 461.5,184.4 462.8,185.0 464.0,185.5 465.2,186.1 466.5,186.7 467.8,187.3 469.0,187.9 470.2,188.6 471.5,189.2 472.8,189.9 474.0,190.6 475.2,191.3 476.5,192.1 477.8,192.8 479.0,193.6 480.2,194.5 481.5,195.6 482.8,196.7 484.0,197.8 485.2,198.8 486.5,199.8 487.8,200.7 489.0,201.4 490.2,202.0 491.5,202.3 492.8,202.7 494.0,202.9 495.2,203.2 496.5,203.3 497.8,203.1 499.0,201.8 500.2,199.9 501.5,198.0 502.8,196.4 504.0,194.8 505.2,193.2 506.5,191.6 507.8,190.1 509.0,188.8 510.2,187.7 511.5,186.9 512.8,186.2 514.0,185.5 515.2,184.9 516.5,184.3 517.8,183.8 519.0,183.3 520.2,182.9 521.5,182.5 522.8,182.1 524.0,181.8 525.2,181.5 526.5,181.2 527.8,181.0 529.0,180.8 530.2,180.6 531.5,180.3 532.8,180.1 534.0,179.7 535.2,179.2 536.5,178.1 537.8,176.4 539.0,174.7 540.2,173.4 541.5,172.4 542.8,171.4 544.0,170.5 545.2,169.7 546.5,169.0 547.8,168.4 549.0,168.0 550.2,167.8 551.5,167.6 552.8,167.4 554.0,167.2 555.2,167.1 556.5,167.0 557.8,166.8 559.0,166.7 560.2,166.6 561.5,166.4 562.8,166.2 564.0,166.1 565.2,166.0 566.5,166.0 567.8,166.8 569.0,168.4 570.2,169.7 571.5,169.9 572.8,169.3 574.0,168.9 575.2,168.5 576.5,168.1 577.8,167.7 579.0,167.3 580.2,167.0 581.5,166.6 582.8,166.1 584.0,165.7 585.2,165.2 586.5,164.8 587.8,164.3 589.0,163.8 590.2,163.2 591.5,162.4 592.8,161.0 594.0,160.5 595.2,160.1 596.5,159.9 597.8,159.7 599.0,159.6 600.2,159.6 601.5,159.6 602.8,159.7 604.0,159.7 605.2,159.8 606.5,159.8 607.8,160.2 609.0,160.9 610.2,161.7 611.5,162.6 612.8,163.4 614.0,164.0 615.2,164.4 616.5,164.4 617.8,164.3 619.0,164.1 620.2,164.1 621.5,164.0 622.8,164.0 624.0,163.9 625.2,163.9 626.5,164.0 627.8,164.2 629.0,164.6 630.2,165.0 631.5,165.5 632.8,165.9 634.0,166.5 635.2,167.2 636.5,167.9 637.8,168.3 639.0,168.4 640.2,168.4 641.5,168.4 642.5,168.4 642.5,201.7 641.5,201.7 640.2,201.7 639.0,201.7 637.8,201.7 636.5,202.1 635.2,202.7 634.0,203.3 632.8,203.9 631.5,204.2 630.2,204.6 629.0,205.0 627.8,205.3 626.5,205.7 625.2,206.1 624.0,206.5 622.8,206.9 621.5,207.2 620.2,207.5 619.0,207.8 617.8,208.0 616.5,208.1 615.2,208.1 614.0,208.1 612.8,208.1 611.5,208.1 610.2,207.9 609.0,207.4 607.8,206.8 606.5,206.2 605.2,205.7 604.0,205.1 602.8,204.6 601.5,204.1 600.2,203.7 599.0,203.4 597.8,203.1 596.5,202.7 595.2,202.1 594.0,198.6 592.8,196.4 591.5,195.6 590.2,195.2 589.0,195.1 587.8,195.1 586.5,195.0 585.2,195.0 584.0,195.1 582.8,195.8 581.5,196.8 580.2,197.7 579.0,198.1 577.8,198.0 576.5,197.8 575.2,197.6 574.0,197.5 572.8,197.4 571.5,198.9 570.2,201.1 569.0,201.4 567.8,201.2 566.5,201.0 565.2,200.7 564.0,200.3 562.8,199.9 561.5,199.5 560.2,199.1 559.0,198.8 557.8,198.5 556.5,198.2 555.2,197.8 554.0,197.5 552.8,197.2 551.5,197.0 550.2,196.8 549.0,196.8 547.8,197.0 546.5,197.4 545.2,198.0 544.0,198.8 542.8,199.6 541.5,200.5 540.2,201.4 539.0,202.5 537.8,204.0 536.5,205.7 535.2,207.3 534.0,208.4 532.8,208.8 531.5,208.7 530.2,208.6 529.0,208.4 527.8,208.1 526.5,207.8 525.2,207.3 524.0,206.2 522.8,205.5 521.5,205.6 520.2,205.9 519.0,206.4 517.8,207.0 516.5,207.7 515.2,208.5 514.0,209.3 512.8,210.1 511.5,211.0 510.2,211.8 509.0,212.8 507.8,214.0 506.5,215.2 505.2,216.4 504.0,217.6 502.8,218.5 501.5,219.3 500.2,219.8 499.0,220.3 497.8,220.8 496.5,221.2 495.2,221.6 494.0,222.1 492.8,222.5 491.5,222.9 490.2,223.2 489.0,223.4 487.8,223.5 486.5,223.3 485.2,222.8 484.0,222.1 482.8,221.2 481.5,220.2 480.2,219.2 479.0,218.3 477.8,217.5 476.5,216.7 475.2,215.8 474.0,214.9 472.8,214.0 471.5,213.1 470.2,212.3 469.0,211.5 467.8,210.7 466.5,210.1 465.2,209.5 464.0,209.0 462.8,208.5 461.5,208.1 460.2,207.6 459.0,207.2 457.8,206.8 456.5,206.5 455.2,206.1 454.0,205.7 452.8,205.3 451.5,204.9 450.2,204.6 449.0,204.2 447.8,203.9 446.5,203.5 445.2,203.2 444.0,202.9 442.8,202.6 441.5,202.4 440.2,202.1 439.0,201.9 437.8,201.7 436.5,201.5 435.2,201.3 434.0,201.2 432.8,201.0 431.5,201.0 430.2,201.0 429.0,201.1 427.8,201.2 426.5,201.4 425.2,201.6 424.0,201.7 422.8,201.9 421.5,202.0 420.2,202.0 419.0,202.0 417.8,202.0 416.5,202.0 415.2,201.9 414.0,201.9 412.8,201.8 411.5,201.7 410.2,201.6 409.0,201.3 407.8,200.9 406.5,200.6 405.2,200.3 404.0,200.0 402.8,199.7 401.5,199.4 400.2,199.1 399.0,198.9 397.8,198.6 396.5,198.4 395.2,198.1 394.0,197.9 392.8,197.7 391.5,197.5 390.2,197.2 389.0,197.0 387.8,196.8 386.5,196.6 385.2,196.4 384.0,196.1 382.8,195.9 381.5,195.7 380.2,195.5 379.0,195.4 377.8,195.2 376.5,195.0 375.2,194.8 374.0,194.6 372.8,194.5 371.5,194.3 370.2,194.1 369.0,193.9 367.8,193.8 366.5,193.6 365.2,193.4 364.0,193.2 362.8,193.0 361.5,192.7 360.2,192.5 359.0,192.2 357.8,192.0 356.5,191.7 355.2,191.4 354.0,191.1 352.8,190.8 351.5,190.5 350.2,190.2 349.0,189.9 347.8,189.6 346.5,189.3 345.2,188.9 344.0,188.6 342.8,188.3 341.5,188.0 340.2,187.6 339.0,187.3 337.8,187.0 336.5,186.7 335.2,186.4 334.0,186.1 332.8,185.8 331.5,185.5 330.2,185.1 329.0,184.6 327.8,184.0 326.5,183.3 325.2,182.5 324.0,181.8 322.8,181.1 321.5,180.6 320.2,180.2 319.0,180.1 317.8,179.9 316.5,179.8 315.2,179.7 314.0,179.7 312.8,179.7 311.5,179.7 310.2,179.7 309.0,179.8 307.8,179.8 306.5,179.9 305.2,179.9 304.0,180.0 302.8,180.0 301.5,180.1 300.2,180.1 299.0,180.2 297.8,180.2 296.5,180.3 295.2,180.3 294.0,180.4 292.8,180.4 291.5,180.4 290.2,180.4 289.0,180.4 287.8,180.4 286.5,180.4 285.2,180.4 284.0,180.3 282.8,180.3 281.5,180.3 280.2,180.3 279.0,180.2 277.8,180.2 276.5,180.1 275.2,180.1 274.0,180.0 272.8,180.0 271.5,179.9 270.2,179.9 269.0,179.8 267.8,179.8 266.5,179.7 265.2,179.6 264.0,179.5 262.8,179.3 261.5,179.1 260.2,178.9 259.0,178.7 257.8,178.4 256.5,178.2 255.2,177.9 254.0,177.6 252.8,177.3 251.5,177.0 250.2,176.7 249.0,176.5 247.8,176.2 246.5,175.9 245.2,175.7 244.0,175.4 242.8,175.2 241.5,175.0 240.2,174.8 239.0,174.6 237.8,174.5 236.5,174.3 235.2,174.1 234.0,174.0 232.8,173.9 231.5,173.8 230.2,173.8 229.0,173.7 227.8,173.7 226.5,173.6 225.2,173.6 224.0,173.5 222.8,173.4 221.5,173.4 220.2,173.3 219.0,173.1 217.8,172.9 216.5,172.6 215.2,172.2 214.0,171.8 212.8,171.4 211.5,171.0 210.2,170.6 209.0,170.2 207.8,169.9 206.5,169.6 205.2,169.3 204.0,169.0 202.8,168.7 201.5,168.4 200.2,168.2 199.0,168.0 197.8,167.8 196.5,167.6 195.2,167.5 194.0,167.4 192.8,167.3 191.5,167.3 190.2,167.2 189.0,167.1 187.8,167.1 186.5,167.0 185.2,167.0 184.0,167.0 182.8,167.1 181.5,167.4 180.2,167.6 179.0,167.7 177.8,167.8 176.5,167.7 175.2,167.5 174.0,167.3 172.8,167.1 171.5,166.8 170.2,166.3 169.0,165.7 167.8,165.1 166.5,164.7 165.2,164.6 164.0,164.7 162.8,164.8 161.5,165.0 160.2,165.2 159.0,165.4 157.8,165.7 156.5,165.9 155.2,166.2 154.0,166.5 152.8,166.8 151.5,167.1 150.2,167.4 149.0,167.5 147.8,167.6 146.5,167.7 145.2,167.7 144.0,167.8 142.8,167.8 141.5,167.8 140.2,167.8 139.0,167.7 137.8,167.5 136.5,167.4 135.2,167.2 134.0,167.0 132.8,166.7 131.5,166.2 130.2,165.7 129.0,165.1 127.8,164.5 126.5,164.1 125.2,163.9 124.0,163.8 122.8,163.7 121.5,163.7 120.2,163.6 119.0,163.6Z" fill="#ababab" stroke="none"/>
<path d="M119.0,163.6 120.2,163.6 121.5,163.7 122.8,163.7 124.0,163.8 125.2,163.9 126.5,164.1 127.8,164.5 129.0,165.1 130.2,165.7 131.5,166.2 132.8,166.7 134.0,167.0 135.2,167.2 136.5,167.4 137.8,167.5 139.0,167.7 140.2,167.8 141.5,167.8 142.8,167.8 144.0,167.8 145.2,167.7 146.5,167.7 147.8,167.6 149.0,167.5 150.2,167.4 151.5,167.1 152.8,166.8 154.0,166.5 155.2,166.2 156.5,165.9 157.8,165.7 159.0,165.4 160.2,165.2 161.5,165.0 162.8,164.8 164.0,164.7 165.2,164.6 166.5,164.7 167.8,165.1 169.0,165.7 170.2,166.3 171.5,166.8 172.8,167.1 174.0,167.3 175.2,167.5 176.5,167.7 177.8,167.8 179.0,167.7 180.2,167.6 181.5,167.4 182.8,167.1 184.0,167.0 185.2,167.0 186.5,167.0 187.8,167.1 189.0,167.1 190.2,167.2 191.5,167.3 192.8,167.3 194.0,167.4 195.2,167.5 196.5,167.6 197.8,167.8 199.0,168.0 200.2,168.2 201.5,168.4 202.8,168.7 204.0,169.0 205.2,169.3 206.5,169.6 207.8,169.9 209.0,170.2 210.2,170.6 211.5,171.0 212.8,171.4 214.0,171.8 215.2,172.2 216.5,172.6 217.8,172.9 219.0,173.1 220.2,173.3 221.5,173.4 222.8,173.4 224.0,173.5 225.2,173.6 226.5,173.6 227.8,173.7 229.0,173.7 230.2,173.8 231.5,173.8 232.8,173.9 234.0,174.0 235.2,174.1 236.5,174.3 237.8,174.5 239.0,174.6 240.2,174.8 241.5,175.0 242.8,175.2 244.0,175.4 245.2,175.7 246.5,175.9 247.8,176.2 249.0,176.5 250.2,176.7 251.5,177.0 252.8,177.3 254.0,177.6 255.2,177.9 256.5,178.2 257.8,178.4 259.0,178.7 260.2,178.9 261.5,179.1 262.8,179.3 264.0,179.5 265.2,179.6 266.5,179.7 267.8,179.8 269.0,179.8 270.2,179.9 271.5,179.9 272.8,180.0 274.0,180.0 275.2,180.1 276.5,180.1 277.8,180.2 279.0,180.2 280.2,180.3 281.5,180.3 282.8,180.3 284.0,180.3 285.2,180.4 286.5,180.4 287.8,180.4 289.0,180.4 290.2,180.4 291.5,180.4 292.8,180.4 294.0,180.4 295.2,180.3 296.5,180.3 297.8,180.2 299.0,180.2 300.2,180.1 301.5,180.1 302.8,180.0 304.0,180.0 305.2,179.9 306.5,179.9 307.8,179.8 309.0,179.8 310.2,179.7 311.5,179.7 312.8,179.7 314.0,179.7 315.2,179.7 316.5,179.8 317.8,179.9 319.0,180.1 320.2,180.2 321.5,180.6 322.8,181.1 324.0,181.8 325.2,182.5 326.5,183.3 327.8,184.0 329.0,184.6 330.2,185.1 331.5,185.5 332.8,185.8 334.0,186.1 335.2,186.4 336.5,186.7 337.8,187.0 339.0,187.3 340.2,187.6 341.5,188.0 342.8,188.3 344.0,188.6 345.2,188.9 346.5,189.3 347.8,189.6 349.0,189.9 350.2,190.2 351.5,190.5 352.8,190.8 354.0,191.1 355.2,191.4 356.5,191.7 357.8,192.0 359.0,192.2 360.2,192.5 361.5,192.7 362.8,193.0 364.0,193.2 365.2,193.4 366.5,193.6 367.8,193.8 369.0,193.9 370.2,194.1 371.5,194.3 372.8,194.5 374.0,194.6 375.2,194.8 376.5,195.0 377.8,195.2 379.0,195.4 380.2,195.5 381.5,195.7 382.8,195.9 384.0,196.1 385.2,196.4 386.5,196.6 387.8,196.8 389.0,197.0 390.2,197.2 391.5,197.5 392.8,197.7 394.0,197.9 395.2,198.1 396.5,198.4 397.8,198.6 399.0,198.9 400.2,199.1 401.5,199.4 402.8,199.7 404.0,200.0 405.2,200.3 406.5,200.6 407.8,200.9 409.0,201.3 410.2,201.6 411.5,201.7 412.8,201.8 414.0,201.9 415.2,201.9 416.5,202.0 417.8,202.0 419.0,202.0 420.2,202.0 421.5,202.0 422.8,201.9 424.0,201.7 425.2,201.6 426.5,201.4 427.8,201.2 429.0,201.1 430.2,201.0 431.5,201.0 432.8,201.0 434.0,201.2 435.2,201.3 436.5,201.5 437.8,201.7 439.0,201.9 440.2,202.1 441.5,202.4 442.8,202.6 444.0,202.9 445.2,203.2 446.5,203.5 447.8,203.9 449.0,204.2 450.2,204.6 451.5,204.9 452.8,205.3 454.0,205.7 455.2,206.1 456.5,206.5 457.8,206.8 459.0,207.2 460.2,207.6 461.5,208.1 462.8,208.5 464.0,209.0 465.2,209.5 466.5,210.1 467.8,210.7 469.0,211.5 470.2,212.3 471.5,213.1 472.8,214.0 474.0,214.9 475.2,215.8 476.5,216.7 477.8,217.5 479.0,218.3 480.2,219.2 481.5,220.2 482.8,221.2 484.0,222.1 485.2,222.8 486.5,223.3 487.8,223.5 489.0,223.4 490.2,223.2 491.5,222.9 492.8,222.5 494.0,222.1 495.2,221.6 496.5,221.2 497.8,220.8 499.0,220.3 500.2,219.8 501.5,219.3 502.8,218.5 504.0,217.6 505.2,216.4 506.5,215.2 507.8,214.0 509.0,212.8 510.2,211.8 511.5,211.0 512.8,210.1 514.0,209.3 515.2,208.5 516.5,207.7 517.8,207.0 519.0,206.4 520.2,205.9 521.5,205.6 522.8,205.5 524.0,206.2 525.2,207.3 526.5,207.8 527.8,208.1 529.0,208.4 530.2,208.6 531.5,208.7 532.8,208.8 534.0,208.4 535.2,207.3 536.5,205.7 537.8,204.0 539.0,202.5 540.2,201.4 541.5,200.5 542.8,199.6 544.0,198.8 545.2,198.0 546.5,197.4 547.8,197.0 549.0,196.8 550.2,196.8 551.5,197.0 552.8,197.2 554.0,197.5 555.2,197.8 556.5,198.2 557.8,198.5 559.0,198.8 560.2,199.1 561.5,199.5 562.8,199.9 564.0,200.3 565.2,200.7 566.5,201.0 567.8,201.2 569.0,201.4 570.2,201.1 571.5,198.9 572.8,197.4 574.0,197.5 575.2,197.6 576.5,197.8 577.8,198.0 579.0,198.1 580.2,197.7 581.5,196.8 582.8,195.8 584.0,195.1 585.2,195.0 586.5,195.0 587.8,195.1 589.0,195.1 590.2,195.2 591.5,195.6 592.8,196.4 594.0,198.6 595.2,202.1 596.5,202.7 597.8,203.1 599.0,203.4 600.2,203.7 601.5,204.1 602.8,204.6 604.0,205.1 605.2,205.7 606.5,206.2 607.8,206.8 609.0,207.4 610.2,207.9 611.5,208.1 612.8,208.1 614.0,208.1 615.2,208.1 616.5,208.1 617.8,208.0 619.0,207.8 620.2,207.5 621.5,207.2 622.8,206.9 624.0,206.5 625.2,206.1 626.5,205.7 627.8,205.3 629.0,205.0 630.2,204.6 631.5,204.2 632.8,203.9 634.0,203.3 635.2,202.7 636.5,202.1 637.8,201.7 639.0,201.7 640.2,201.7 641.5,201.7 642.5,201.7 642.5,244.1 641.5,244.7 640.2,245.8 639.0,247.1 637.8,248.5 636.5,250.4 635.2,252.8 634.0,255.3 632.8,257.4 631.5,259.2 630.2,260.9 629.0,262.5 627.8,264.0 626.5,265.5 625.2,267.0 624.0,268.5 622.8,269.9 621.5,271.3 620.2,272.8 619.0,274.3 617.8,275.9 616.5,277.6 615.2,279.2 614.0,280.9 612.8,282.5 611.5,284.2 610.2,285.9 609.0,287.5 607.8,289.1 606.5,290.8 605.2,292.4 604.0,294.0 602.8,295.5 601.5,297.2 600.2,298.9 599.0,300.0 597.8,299.9 596.5,298.8 595.2,297.3 594.0,295.2 592.8,292.2 591.5,287.1 590.2,283.6 589.0,282.1 587.8,281.1 586.5,280.0 585.2,278.6 584.0,276.9 582.8,275.0 581.5,273.3 580.2,271.8 579.0,270.2 577.8,268.8 576.5,268.2 575.2,268.7 574.0,269.9 572.8,271.6 571.5,274.5 570.2,278.2 569.0,280.8 567.8,282.7 566.5,283.9 565.2,284.0 564.0,284.0 562.8,283.9 561.5,283.9 560.2,283.8 559.0,283.7 557.8,282.6 556.5,281.3 555.2,280.4 554.0,280.3 552.8,280.3 551.5,280.3 550.2,280.3 549.0,280.3 547.8,280.3 546.5,280.2 545.2,280.2 544.0,280.1 542.8,279.9 541.5,279.5 540.2,278.9 539.0,278.1 537.8,277.2 536.5,276.3 535.2,274.8 534.0,273.3 532.8,272.4 531.5,272.4 530.2,272.4 529.0,272.4 527.8,272.4 526.5,272.4 525.2,272.4 524.0,272.9 522.8,273.6 521.5,274.4 520.2,274.8 519.0,274.8 517.8,274.7 516.5,274.6 515.2,274.5 514.0,274.3 512.8,274.1 511.5,273.9 510.2,273.7 509.0,273.5 507.8,273.3 506.5,273.0 505.2,272.7 504.0,272.3 502.8,271.8 501.5,271.2 500.2,270.3 499.0,269.0 497.8,267.7 496.5,266.4 495.2,265.2 494.0,263.9 492.8,262.7 491.5,261.4 490.2,260.1 489.0,258.9 487.8,257.7 486.5,256.5 485.2,255.3 484.0,254.1 482.8,252.8 481.5,251.6 480.2,250.2 479.0,248.9 477.8,247.4 476.5,245.8 475.2,244.0 474.0,242.1 472.8,240.2 471.5,238.3 470.2,236.6 469.0,234.9 467.8,233.5 466.5,232.4 465.2,231.4 464.0,230.6 462.8,229.9 461.5,229.3 460.2,228.6 459.0,228.1 457.8,227.5 456.5,226.9 455.2,226.2 454.0,225.5 452.8,224.7 451.5,223.9 450.2,223.0 449.0,222.1 447.8,221.2 446.5,220.4 445.2,219.6 444.0,218.9 442.8,218.3 441.5,217.8 440.2,217.5 439.0,217.4 437.8,217.5 436.5,217.7 435.2,218.1 434.0,218.4 432.8,218.7 431.5,218.8 430.2,218.8 429.0,218.7 427.8,218.7 426.5,218.5 425.2,218.4 424.0,218.3 422.8,218.1 421.5,217.9 420.2,217.7 419.0,217.5 417.8,217.1 416.5,216.7 415.2,216.2 414.0,215.7 412.8,215.3 411.5,214.9 410.2,214.7 409.0,214.7 407.8,214.6 406.5,214.5 405.2,214.4 404.0,214.4 402.8,214.3 401.5,214.2 400.2,214.0 399.0,213.9 397.8,213.8 396.5,213.7 395.2,213.5 394.0,213.4 392.8,213.2 391.5,213.0 390.2,212.8 389.0,212.5 387.8,212.3 386.5,212.1 385.2,211.8 384.0,211.7 382.8,211.5 381.5,211.2 380.2,211.0 379.0,210.8 377.8,210.6 376.5,210.5 375.2,210.4 374.0,210.3 372.8,210.3 371.5,210.4 370.2,210.6 369.0,210.8 367.8,211.1 366.5,211.4 365.2,211.6 364.0,211.9 362.8,212.1 361.5,212.2 360.2,212.3 359.0,212.4 357.8,212.5 356.5,212.5 355.2,212.6 354.0,212.6 352.8,212.7 351.5,212.7 350.2,212.7 349.0,212.8 347.8,212.8 346.5,212.8 345.2,212.8 344.0,212.8 342.8,212.7 341.5,212.5 340.2,212.4 339.0,212.2 337.8,212.0 336.5,211.7 335.2,211.4 334.0,211.1 332.8,210.7 331.5,210.4 330.2,210.0 329.0,209.6 327.8,209.1 326.5,208.7 325.2,208.2 324.0,207.7 322.8,207.3 321.5,206.9 320.2,206.6 319.0,206.3 317.8,206.1 316.5,205.9 315.2,205.7 314.0,205.4 312.8,205.1 311.5,204.8 310.2,204.5 309.0,204.2 307.8,203.8 306.5,203.4 305.2,203.0 304.0,202.6 302.8,202.2 301.5,201.8 300.2,201.3 299.0,200.9 297.8,200.4 296.5,200.0 295.2,199.5 294.0,199.1 292.8,198.7 291.5,198.2 290.2,197.8 289.0,197.3 287.8,196.9 286.5,196.4 285.2,195.9 284.0,195.5 282.8,195.0 281.5,194.5 280.2,194.0 279.0,193.5 277.8,193.0 276.5,192.5 275.2,192.0 274.0,191.5 272.8,191.1 271.5,190.6 270.2,190.2 269.0,189.8 267.8,189.4 266.5,189.1 265.2,188.7 264.0,188.4 262.8,188.1 261.5,187.7 260.2,187.4 259.0,187.1 257.8,186.8 256.5,186.5 255.2,186.2 254.0,185.9 252.8,185.7 251.5,185.4 250.2,185.1 249.0,184.9 247.8,184.6 246.5,184.4 245.2,184.2 244.0,184.0 242.8,183.7 241.5,183.5 240.2,183.4 239.0,183.2 237.8,183.0 236.5,182.8 235.2,182.7 234.0,182.5 232.8,182.4 231.5,182.2 230.2,182.1 229.0,181.9 227.8,181.8 226.5,181.6 225.2,181.5 224.0,181.4 222.8,181.2 221.5,181.1 220.2,180.9 219.0,180.7 217.8,180.5 216.5,180.3 215.2,180.0 214.0,179.8 212.8,179.5 211.5,179.3 210.2,179.1 209.0,179.0 207.8,178.9 206.5,178.8 205.2,178.7 204.0,178.6 202.8,178.6 201.5,178.5 200.2,178.5 199.0,178.4 197.8,178.4 196.5,178.4 195.2,178.4 194.0,178.4 192.8,178.4 191.5,178.4 190.2,178.4 189.0,178.4 187.8,178.4 186.5,178.4 185.2,178.4 184.0,178.4 182.8,178.7 181.5,179.1 180.2,179.6 179.0,179.9 177.8,180.0 176.5,180.0 175.2,179.9 174.0,179.7 172.8,179.6 171.5,179.4 170.2,179.1 169.0,178.6 167.8,178.2 166.5,177.8 165.2,177.6 164.0,177.4 162.8,177.2 161.5,177.1 160.2,176.9 159.0,176.8 157.8,176.8 156.5,176.8 155.2,176.8 154.0,176.8 152.8,176.8 151.5,176.8 150.2,176.8 149.0,176.8 147.8,176.6 146.5,176.0 145.2,175.3 144.0,174.4 142.8,173.4 141.5,172.6 140.2,171.8 139.0,170.9 137.8,170.0 136.5,169.1 135.2,168.3 134.0,167.6 132.8,167.0 131.5,166.4 130.2,165.8 129.0,165.3 127.8,164.8 126.5,164.4 125.2,164.2 124.0,164.0 122.8,163.9 121.5,163.7 120.2,163.6 119.0,163.6Z" fill="#c4c4c4" stroke="none"/>
<path d="M119.0,163.60 120.2,163.41 121.5,163.16 122.8,162.88 124.0,162.56 125.2,162.21 126.5,161.82 127.8,161.35 129.0,160.82 130.2,160.26 131.5,159.66 132.8,159.06 134.0,158.45 135.2,157.82 136.5,157.14 137.8,156.44 139.0,155.73 140.2,155.03 141.5,154.35 142.8,153.66 144.0,152.89 145.2,152.12 146.5,151.43 147.8,150.91 149.0,150.65 150.2,150.55 151.5,150.48 152.8,150.43 154.0,150.38 155.2,150.34 156.5,150.29 157.8,150.24 159.0,150.18 160.2,150.14 161.5,150.09 162.8,150.03 164.0,149.96 165.2,149.86 166.5,149.62 167.8,149.13 169.0,148.52 170.2,147.95 171.5,147.55 172.8,147.45 174.0,147.45 175.2,147.45 176.5,147.45 177.8,147.45 179.0,147.54 180.2,147.85 181.5,148.26 182.8,148.64 184.0,148.88 185.2,148.90 186.5,148.90 187.8,148.90 189.0,148.90 190.2,148.90 191.5,148.90 192.8,148.90 194.0,148.90 195.2,148.90 196.5,148.90 197.8,148.88 199.0,148.85 200.2,148.80 201.5,148.74 202.8,148.67 204.0,148.59 205.2,148.51 206.5,148.42 207.8,148.33 209.0,148.24 210.2,148.12 211.5,147.99 212.8,147.84 214.0,147.68 215.2,147.51 216.5,147.33 217.8,147.15 219.0,146.98 220.2,146.81 221.5,146.64 222.8,146.46 224.0,146.27 225.2,146.09 226.5,145.90 227.8,145.71 229.0,145.52 230.2,145.33 231.5,145.14 232.8,144.95 234.0,144.77 235.2,144.60 236.5,144.43 237.8,144.26 239.0,144.10 240.2,143.92 241.5,143.75 242.8,143.56 244.0,143.35 245.2,143.15 246.5,142.94 247.8,142.73 249.0,142.52 250.2,142.30 251.5,142.07 252.8,141.84 254.0,141.60 255.2,141.36 256.5,141.11 257.8,140.85 259.0,140.59 260.2,140.32 261.5,140.04 262.8,139.75 264.0,139.45 265.2,139.14 266.5,138.83 267.8,138.49 269.0,138.12 270.2,137.72 271.5,137.30 272.8,136.85 274.0,136.38 275.2,135.90 276.5,135.41 277.8,134.91 279.0,134.40 280.2,133.89 281.5,133.38 282.8,132.87 284.0,132.38 285.2,131.89 286.5,131.42 287.8,130.96 289.0,130.53 290.2,130.12 291.5,129.72 292.8,129.34 294.0,128.97 295.2,128.60 296.5,128.24 297.8,127.88 299.0,127.53 300.2,127.19 301.5,126.85 302.8,126.51 304.0,126.18 305.2,125.84 306.5,125.51 307.8,125.17 309.0,124.84 310.2,124.50 311.5,124.16 312.8,123.82 314.0,123.47 315.2,123.14 316.5,122.83 317.8,122.50 319.0,122.14 320.2,121.71 321.5,121.13 322.8,120.42 324.0,119.64 325.2,118.83 326.5,118.05 327.8,117.37 329.0,116.83 330.2,116.44 331.5,116.07 332.8,115.71 334.0,115.41 335.2,115.17 336.5,115.03 337.8,115.00 339.0,115.07 340.2,115.21 341.5,115.40 342.8,115.62 344.0,115.84 345.2,116.06 346.5,116.23 347.8,116.35 349.0,116.40 350.2,116.34 351.5,116.18 352.8,115.95 354.0,115.68 355.2,115.38 356.5,115.10 357.8,114.86 359.0,114.68 360.2,114.60 361.5,114.64 362.8,114.79 364.0,115.03 365.2,115.32 366.5,115.64 367.8,115.94 369.0,116.29 370.2,116.75 371.5,117.21 372.8,117.53 374.0,117.60 375.2,117.54 376.5,117.42 377.8,117.26 379.0,117.05 380.2,116.82 381.5,116.57 382.8,116.31 384.0,116.06 385.2,115.78 386.5,115.42 387.8,115.01 389.0,114.59 390.2,114.19 391.5,113.85 392.8,113.62 394.0,113.47 395.2,113.34 396.5,113.23 397.8,113.14 399.0,113.07 400.2,113.01 401.5,112.96 402.8,112.93 404.0,112.91 405.2,112.88 406.5,112.85 407.8,112.80 409.0,112.69 410.2,112.48 411.5,112.19 412.8,111.84 414.0,111.46 415.2,111.06 416.5,110.67 417.8,110.31 419.0,110.00 420.2,109.76 421.5,109.54 422.8,109.31 424.0,109.09 425.2,108.88 426.5,108.69 427.8,108.53 429.0,108.40 430.2,108.32 431.5,108.30 432.8,108.52 434.0,108.99 435.2,109.55 436.5,110.04 437.8,110.29 439.0,110.24 440.2,110.02 441.5,109.64 442.8,109.14 444.0,108.53 445.2,107.83 446.5,107.06 447.8,106.24 449.0,105.40 450.2,104.55 451.5,103.71 452.8,102.90 454.0,102.15 455.2,101.47 456.5,100.85 457.8,100.27 459.0,99.70 460.2,99.13 461.5,98.53 462.8,97.88 464.0,97.16 465.2,96.36 466.5,95.44 467.8,94.25 469.0,92.75 470.2,91.02 471.5,89.12 472.8,87.13 474.0,85.12 475.2,83.16 476.5,81.32 477.8,79.67 479.0,78.27 480.2,77.02 481.5,75.87 482.8,74.79 484.0,73.76 485.2,72.74 486.5,71.70 487.8,70.63 489.0,69.49 490.2,68.26 491.5,66.71 492.8,64.77 494.0,62.79 495.2,61.12 496.5,60.13 497.8,60.68 499.0,62.50 500.2,60.65 501.5,57.51 502.8,56.00 504.0,55.28 505.2,54.69 506.5,54.19 507.8,53.76 509.0,53.42 510.2,53.17 511.5,52.99 512.8,52.82 514.0,52.68 515.2,52.57 516.5,52.51 517.8,52.53 519.0,52.83 520.2,53.33 521.5,53.92 522.8,54.51 524.0,54.97 525.2,55.19 526.5,55.20 527.8,55.20 529.0,55.20 530.2,55.20 531.5,55.20 532.8,55.08 534.0,54.09 535.2,52.65 536.5,51.40 537.8,50.37 539.0,49.27 540.2,48.27 541.5,47.53 542.8,47.20 544.0,47.20 545.2,47.20 546.5,47.20 547.8,47.20 549.0,47.20 550.2,47.18 551.5,47.13 552.8,47.03 554.0,46.89 555.2,46.70 556.5,46.07 557.8,44.35 559.0,43.82 560.2,43.68 561.5,43.57 562.8,43.49 564.0,43.44 565.2,43.41 566.5,43.40 567.8,44.22 569.0,46.45 570.2,51.47 571.5,55.32 572.8,57.29 574.0,58.58 575.2,59.10 576.5,58.49 577.8,57.19 579.0,55.80 580.2,54.32 581.5,52.62 582.8,50.89 584.0,49.33 585.2,48.13 586.5,47.22 587.8,46.31 589.0,45.06 590.2,42.88 591.5,38.47 592.8,32.21 594.0,29.60 595.2,27.94 596.5,27.45 597.8,27.33 599.0,27.32 600.2,28.17 601.5,29.83 602.8,31.68 604.0,34.16 605.2,36.74 606.5,38.76 607.8,40.58 609.0,42.29 610.2,43.92 611.5,45.53 612.8,47.13 614.0,48.66 615.2,50.05 616.5,51.26 617.8,52.23 619.0,53.18 620.2,54.29 621.5,55.55 622.8,56.88 624.0,58.24 625.2,59.59 626.5,60.90 627.8,62.23 629.0,63.66 630.2,65.23 631.5,67.06 632.8,69.07 634.0,71.15 635.2,73.17 636.5,75.06 637.8,76.91 639.0,78.79 640.2,80.80 641.5,82.93 642.5,84.70" fill="none" stroke="#000" stroke-width="0.95" stroke-linejoin="round"/>
<path d="M119.0,163.60 120.2,163.44 121.5,163.23 122.8,162.98 124.0,162.68 125.2,162.36 126.5,161.98 127.8,161.52 129.0,160.99 130.2,160.41 131.5,159.81 132.8,159.19 134.0,158.59 135.2,157.98 136.5,157.33 137.8,156.66 139.0,155.98 140.2,155.31 141.5,154.66 142.8,153.98 144.0,153.22 145.2,152.46 146.5,151.78 147.8,151.26 149.0,150.99 150.2,150.88 151.5,150.80 152.8,150.73 154.0,150.68 155.2,150.63 156.5,150.58 157.8,150.53 159.0,150.48 160.2,150.44 161.5,150.39 162.8,150.35 164.0,150.28 165.2,150.20 166.5,149.98 167.8,149.53 169.0,148.98 170.2,148.45 171.5,148.08 172.8,147.99 174.0,148.00 175.2,148.02 176.5,148.05 177.8,148.08 179.0,148.21 180.2,148.54 181.5,148.95 182.8,149.33 184.0,149.57 185.2,149.59 186.5,149.58 187.8,149.56 189.0,149.53 190.2,149.50 191.5,149.46 192.8,149.41 194.0,149.37 195.2,149.33 196.5,149.28 197.8,149.23 199.0,149.18 200.2,149.12 201.5,149.05 202.8,148.98 204.0,148.90 205.2,148.81 206.5,148.73 207.8,148.63 209.0,148.53 210.2,148.42 211.5,148.29 212.8,148.15 214.0,147.99 215.2,147.84 216.5,147.68 217.8,147.52 219.0,147.37 220.2,147.22 221.5,147.08 222.8,146.94 224.0,146.79 225.2,146.65 226.5,146.50 227.8,146.36 229.0,146.21 230.2,146.06 231.5,145.90 232.8,145.74 234.0,145.57 235.2,145.40 236.5,145.23 237.8,145.04 239.0,144.86 240.2,144.66 241.5,144.46 242.8,144.26 244.0,144.05 245.2,143.84 246.5,143.62 247.8,143.41 249.0,143.19 250.2,142.97 251.5,142.74 252.8,142.51 254.0,142.28 255.2,142.04 256.5,141.79 257.8,141.54 259.0,141.28 260.2,141.01 261.5,140.73 262.8,140.45 264.0,140.15 265.2,139.84 266.5,139.53 267.8,139.19 269.0,138.82 270.2,138.42 271.5,138.00 272.8,137.55 274.0,137.08 275.2,136.60 276.5,136.11 277.8,135.61 279.0,135.10 280.2,134.59 281.5,134.08 282.8,133.57 284.0,133.08 285.2,132.59 286.5,132.12 287.8,131.66 289.0,131.23 290.2,130.82 291.5,130.42 292.8,130.04 294.0,129.67 295.2,129.30 296.5,128.94 297.8,128.58 299.0,128.23 300.2,127.89 301.5,127.55 302.8,127.21 304.0,126.88 305.2,126.54 306.5,126.21 307.8,125.87 309.0,125.54 310.2,125.20 311.5,124.86 312.8,124.52 314.0,124.17 315.2,123.84 316.5,123.52 317.8,123.20 319.0,122.83 320.2,122.41 321.5,121.81 322.8,121.07 324.0,120.25 325.2,119.42 326.5,118.67 327.8,118.06 329.0,117.67 330.2,117.49 331.5,117.35 332.8,117.23 334.0,117.13 335.2,117.05 336.5,117.01 337.8,117.00 339.0,117.07 340.2,117.21 341.5,117.40 342.8,117.62 344.0,117.84 345.2,118.06 346.5,118.23 347.8,118.35 349.0,118.40 350.2,118.34 351.5,118.18 352.8,117.95 354.0,117.68 355.2,117.38 356.5,117.10 357.8,116.86 359.0,116.68 360.2,116.60 361.5,116.64 362.8,116.79 364.0,117.03 365.2,117.32 366.5,117.64 367.8,117.94 369.0,118.29 370.2,118.75 371.5,119.21 372.8,119.53 374.0,119.60 375.2,119.54 376.5,119.42 377.8,119.26 379.0,119.05 380.2,118.82 381.5,118.57 382.8,118.31 384.0,118.06 385.2,117.78 386.5,117.42 387.8,117.01 389.0,116.59 390.2,116.19 391.5,115.85 392.8,115.62 394.0,115.47 395.2,115.34 396.5,115.23 397.8,115.14 399.0,115.07 400.2,115.01 401.5,114.96 402.8,114.94 404.0,114.92 405.2,114.89 406.5,114.86 407.8,114.80 409.0,114.57 410.2,114.24 411.5,113.90 412.8,113.54 414.0,113.16 415.2,112.77 416.5,112.41 417.8,112.07 419.0,111.78 420.2,111.56 421.5,111.36 422.8,111.15 424.0,110.96 425.2,110.78 426.5,110.62 427.8,110.49 429.0,110.38 430.2,110.32 431.5,110.30 432.8,110.52 434.0,110.99 435.2,111.55 436.5,112.04 437.8,112.29 439.0,112.24 440.2,112.02 441.5,111.64 442.8,111.14 444.0,110.53 445.2,109.83 446.5,109.06 447.8,108.24 449.0,107.40 450.2,106.55 451.5,105.71 452.8,104.90 454.0,104.15 455.2,103.47 456.5,102.85 457.8,102.27 459.0,101.70 460.2,101.13 461.5,100.53 462.8,99.88 464.0,99.16 465.2,98.36 466.5,97.44 467.8,96.25 469.0,94.75 470.2,93.02 471.5,91.12 472.8,89.13 474.0,87.12 475.2,85.16 476.5,83.32 477.8,81.67 479.0,80.27 480.2,79.02 481.5,77.87 482.8,76.79 484.0,75.76 485.2,74.74 486.5,73.70 487.8,72.63 489.0,71.49 490.2,70.26 491.5,68.71 492.8,66.77 494.0,64.79 495.2,63.12 496.5,62.13 497.8,62.68 499.0,64.50 500.2,62.36 501.5,59.13 502.8,58.47 504.0,58.21 505.2,57.80 506.5,57.33 507.8,56.88 509.0,56.52 510.2,56.32 511.5,56.30 512.8,56.30 514.0,56.30 515.2,56.30 516.5,56.30 517.8,56.33 519.0,56.63 520.2,57.13 521.5,57.72 522.8,58.31 524.0,58.77 525.2,58.99 526.5,58.99 527.8,58.97 529.0,58.92 530.2,58.85 531.5,58.76 532.8,58.54 534.0,57.59 535.2,56.29 536.5,55.20 537.8,54.40 539.0,53.63 540.2,52.93 541.5,52.38 542.8,52.03 544.0,51.83 545.2,51.66 546.5,51.53 547.8,51.44 549.0,51.40 550.2,51.40 551.5,51.40 552.8,51.40 554.0,51.40 555.2,51.40 556.5,50.85 557.8,48.75 559.0,48.12 560.2,47.98 561.5,47.87 562.8,47.79 564.0,47.74 565.2,47.71 566.5,47.70 567.8,48.49 569.0,50.71 570.2,56.20 571.5,60.14 572.8,62.12 574.0,63.56 575.2,64.42 576.5,64.22 577.8,63.04 579.0,61.71 580.2,60.41 581.5,58.99 582.8,57.55 584.0,56.20 585.2,55.08 586.5,54.21 587.8,53.30 589.0,52.05 590.2,49.88 591.5,45.46 592.8,39.19 594.0,36.80 595.2,35.33 596.5,35.00 597.8,35.00 599.0,35.02 600.2,35.84 601.5,37.42 602.8,39.15 604.0,41.31 605.2,43.64 606.5,45.78 607.8,47.90 609.0,49.96 610.2,51.86 611.5,53.58 612.8,55.18 614.0,56.68 615.2,58.09 616.5,59.41 617.8,60.57 619.0,61.71 620.2,63.00 621.5,64.42 622.8,65.89 624.0,67.33 625.2,68.67 626.5,69.88 627.8,71.06 629.0,72.30 630.2,73.70 631.5,75.33 632.8,77.12 634.0,78.95 635.2,80.70 636.5,82.35 637.8,83.98 639.0,85.51 640.2,86.88 641.5,88.11 642.5,89.00" fill="none" stroke="#000" stroke-width="1.2" stroke-linejoin="round"/>
<path d="M119.0,163.60 120.2,163.48 121.5,163.30 122.8,163.08 124.0,162.81 125.2,162.51 126.5,162.15 127.8,161.69 129.0,161.15 130.2,160.56 131.5,159.94 132.8,159.32 134.0,158.73 135.2,158.13 136.5,157.51 137.8,156.88 139.0,156.24 140.2,155.61 141.5,154.98 142.8,154.31 144.0,153.56 145.2,152.81 146.5,152.12 147.8,151.60 149.0,151.32 150.2,151.20 151.5,151.11 152.8,151.03 154.0,150.97 155.2,150.92 156.5,150.86 157.8,150.81 159.0,150.76 160.2,150.72 161.5,150.69 162.8,150.65 164.0,150.60 165.2,150.53 166.5,150.33 167.8,149.92 169.0,149.42 170.2,148.94 171.5,148.60 172.8,148.52 174.0,148.54 175.2,148.58 176.5,148.64 177.8,148.70 179.0,148.86 180.2,149.21 181.5,149.63 182.8,150.02 184.0,150.25 185.2,150.28 186.5,150.29 187.8,150.29 189.0,150.29 190.2,150.29 191.5,150.29 192.8,150.29 194.0,150.30 195.2,150.30 196.5,150.30 197.8,150.32 199.0,150.35 200.2,150.39 201.5,150.43 202.8,150.48 204.0,150.52 205.2,150.56 206.5,150.58 207.8,150.60 209.0,150.59 210.2,150.52 211.5,150.41 212.8,150.28 214.0,150.12 215.2,149.97 216.5,149.82 217.8,149.70 219.0,149.62 220.2,149.58 221.5,149.56 222.8,149.53 224.0,149.51 225.2,149.50 226.5,149.48 227.8,149.47 229.0,149.45 230.2,149.44 231.5,149.43 232.8,149.41 234.0,149.40 235.2,149.38 236.5,149.37 237.8,149.36 239.0,149.35 240.2,149.34 241.5,149.32 242.8,149.31 244.0,149.28 245.2,149.26 246.5,149.23 247.8,149.20 249.0,149.16 250.2,149.12 251.5,149.08 252.8,149.03 254.0,148.97 255.2,148.92 256.5,148.86 257.8,148.79 259.0,148.72 260.2,148.65 261.5,148.57 262.8,148.48 264.0,148.40 265.2,148.30 266.5,148.21 267.8,148.08 269.0,147.91 270.2,147.68 271.5,147.42 272.8,147.11 274.0,146.78 275.2,146.41 276.5,146.03 277.8,145.63 279.0,145.22 280.2,144.80 281.5,144.38 282.8,143.97 284.0,143.57 285.2,143.19 286.5,142.82 287.8,142.48 289.0,142.18 290.2,141.91 291.5,141.67 292.8,141.43 294.0,141.19 295.2,140.96 296.5,140.74 297.8,140.52 299.0,140.30 300.2,140.09 301.5,139.89 302.8,139.69 304.0,139.50 305.2,139.31 306.5,139.13 307.8,138.96 309.0,138.79 310.2,138.63 311.5,138.48 312.8,138.33 314.0,138.19 315.2,138.05 316.5,137.90 317.8,137.75 319.0,137.61 320.2,137.46 321.5,137.33 322.8,137.20 324.0,137.08 325.2,136.99 326.5,136.90 327.8,136.84 329.0,136.81 330.2,136.80 331.5,136.85 332.8,136.96 334.0,137.12 335.2,137.29 336.5,137.47 337.8,137.65 339.0,137.83 340.2,138.02 341.5,138.24 342.8,138.46 344.0,138.70 345.2,138.94 346.5,139.20 347.8,139.46 349.0,139.73 350.2,140.01 351.5,140.28 352.8,140.56 354.0,140.84 355.2,141.12 356.5,141.39 357.8,141.67 359.0,141.93 360.2,142.19 361.5,142.44 362.8,142.70 364.0,142.96 365.2,143.22 366.5,143.49 367.8,143.76 369.0,144.03 370.2,144.30 371.5,144.57 372.8,144.84 374.0,145.10 375.2,145.36 376.5,145.61 377.8,145.86 379.0,146.10 380.2,146.33 381.5,146.55 382.8,146.76 384.0,146.95 385.2,147.14 386.5,147.30 387.8,147.45 389.0,147.58 390.2,147.71 391.5,147.83 392.8,147.96 394.0,148.09 395.2,148.23 396.5,148.38 397.8,148.55 399.0,148.75 400.2,148.97 401.5,149.30 402.8,149.81 404.0,150.38 405.2,150.92 406.5,151.33 407.8,151.50 409.0,151.46 410.2,151.38 411.5,151.19 412.8,150.88 414.0,150.48 415.2,150.02 416.5,149.53 417.8,149.05 419.0,148.61 420.2,148.23 421.5,147.87 422.8,147.49 424.0,147.12 425.2,146.76 426.5,146.41 427.8,146.09 429.0,145.81 430.2,145.57 431.5,145.39 432.8,145.26 434.0,145.16 435.2,145.08 436.5,145.00 437.8,144.90 439.0,144.77 440.2,144.55 441.5,144.15 442.8,143.56 444.0,142.83 445.2,141.97 446.5,141.01 447.8,139.97 449.0,138.90 450.2,137.81 451.5,136.73 452.8,135.69 454.0,134.72 455.2,133.83 456.5,133.04 457.8,132.30 459.0,131.59 460.2,130.87 461.5,130.12 462.8,129.31 464.0,128.41 465.2,127.38 466.5,126.19 467.8,124.57 469.0,122.45 470.2,119.96 471.5,117.23 472.8,114.36 474.0,111.49 475.2,108.74 476.5,106.22 477.8,104.07 479.0,102.36 480.2,100.86 481.5,99.49 482.8,98.20 484.0,97.00 485.2,95.86 486.5,94.75 487.8,93.66 489.0,92.56 490.2,91.44 491.5,90.35 492.8,89.38 494.0,88.49 495.2,87.63 496.5,86.74 497.8,85.78 499.0,84.70 500.2,83.44 501.5,81.96 502.8,79.64 504.0,77.93 505.2,76.70 506.5,75.67 507.8,74.85 509.0,74.29 510.2,74.02 511.5,74.01 512.8,74.06 514.0,74.15 515.2,74.27 516.5,74.41 517.8,74.62 519.0,75.16 520.2,75.97 521.5,76.90 522.8,77.78 524.0,78.46 525.2,78.79 526.5,78.79 527.8,78.74 529.0,78.66 530.2,78.55 531.5,78.40 532.8,78.10 534.0,76.98 535.2,75.42 536.5,74.00 537.8,72.83 539.0,71.66 540.2,70.54 541.5,69.53 542.8,68.69 544.0,68.00 545.2,67.38 546.5,66.83 547.8,66.35 549.0,65.93 550.2,65.60 551.5,65.37 552.8,65.16 554.0,64.90 555.2,64.52 556.5,63.60 557.8,61.65 559.0,60.94 560.2,60.64 561.5,60.41 562.8,60.22 564.0,60.10 565.2,60.02 566.5,60.00 567.8,61.12 569.0,63.71 570.2,67.26 571.5,70.02 572.8,71.80 574.0,73.22 575.2,74.12 576.5,73.92 577.8,72.76 579.0,71.40 580.2,70.00 581.5,68.41 582.8,66.79 584.0,65.32 585.2,64.14 586.5,63.21 587.8,62.28 589.0,61.08 590.2,59.26 591.5,55.69 592.8,48.37 594.0,45.54 595.2,43.79 596.5,43.41 597.8,43.48 599.0,43.65 600.2,44.67 601.5,46.43 602.8,48.25 604.0,50.19 605.2,52.26 606.5,54.33 607.8,56.48 609.0,58.58 610.2,60.49 611.5,62.13 612.8,63.66 614.0,65.06 615.2,66.29 616.5,67.29 617.8,68.03 619.0,68.75 620.2,69.72 621.5,70.95 622.8,72.32 624.0,73.73 625.2,75.09 626.5,76.42 627.8,77.78 629.0,79.20 630.2,80.71 631.5,82.41 632.8,84.23 634.0,86.03 635.2,87.71 636.5,89.28 637.8,90.80 639.0,92.11 640.2,93.09 641.5,93.86 642.5,94.30" fill="none" stroke="#000" stroke-width="1.3" stroke-linejoin="round"/>
<path d="M119.0,163.60 120.2,163.52 121.5,163.37 122.8,163.17 124.0,162.93 125.2,162.66 126.5,162.32 127.8,161.86 129.0,161.32 130.2,160.71 131.5,160.08 132.8,159.46 134.0,158.87 135.2,158.29 136.5,157.70 137.8,157.10 139.0,156.50 140.2,155.89 141.5,155.29 142.8,154.64 144.0,153.90 145.2,153.15 146.5,152.47 147.8,151.95 149.0,151.66 150.2,151.53 151.5,151.42 152.8,151.34 154.0,151.27 155.2,151.21 156.5,151.15 157.8,151.10 159.0,151.06 160.2,151.03 161.5,151.00 162.8,150.97 164.0,150.93 165.2,150.87 166.5,150.70 167.8,150.33 169.0,149.87 170.2,149.44 171.5,149.14 172.8,149.06 174.0,149.09 175.2,149.15 176.5,149.24 177.8,149.34 179.0,149.52 180.2,149.86 181.5,150.28 182.8,150.67 184.0,150.92 185.2,150.99 186.5,151.03 187.8,151.05 189.0,151.07 190.2,151.09 191.5,151.10 192.8,151.12 194.0,151.14 195.2,151.18 196.5,151.22 197.8,151.34 199.0,151.50 200.2,151.71 201.5,151.94 202.8,152.18 204.0,152.40 205.2,152.58 206.5,152.72 207.8,152.79 209.0,152.80 210.2,152.79 211.5,152.79 212.8,152.78 214.0,152.76 215.2,152.75 216.5,152.74 217.8,152.72 219.0,152.71 220.2,152.69 221.5,152.67 222.8,152.65 224.0,152.63 225.2,152.61 226.5,152.58 227.8,152.56 229.0,152.54 230.2,152.52 231.5,152.51 232.8,152.50 234.0,152.50 235.2,152.52 236.5,152.56 237.8,152.61 239.0,152.67 240.2,152.72 241.5,152.77 242.8,152.79 244.0,152.79 245.2,152.78 246.5,152.75 247.8,152.72 249.0,152.68 250.2,152.64 251.5,152.58 252.8,152.52 254.0,152.45 255.2,152.38 256.5,152.30 257.8,152.22 259.0,152.13 260.2,152.03 261.5,151.93 262.8,151.83 264.0,151.73 265.2,151.62 266.5,151.51 267.8,151.38 269.0,151.21 270.2,151.00 271.5,150.76 272.8,150.49 274.0,150.20 275.2,149.89 276.5,149.56 277.8,149.22 279.0,148.87 280.2,148.52 281.5,148.17 282.8,147.82 284.0,147.49 285.2,147.17 286.5,146.86 287.8,146.58 289.0,146.33 290.2,146.11 291.5,145.90 292.8,145.69 294.0,145.47 295.2,145.26 296.5,145.04 297.8,144.82 299.0,144.61 300.2,144.41 301.5,144.21 302.8,144.02 304.0,143.85 305.2,143.69 306.5,143.54 307.8,143.41 309.0,143.30 310.2,143.22 311.5,143.15 312.8,143.11 314.0,143.10 315.2,143.16 316.5,143.30 317.8,143.45 319.0,143.56 320.2,143.60 321.5,143.57 322.8,143.51 324.0,143.42 325.2,143.33 326.5,143.24 327.8,143.16 329.0,143.11 330.2,143.10 331.5,143.24 332.8,143.52 334.0,143.89 335.2,144.26 336.5,144.59 337.8,144.81 339.0,144.98 340.2,145.13 341.5,145.28 342.8,145.41 344.0,145.53 345.2,145.64 346.5,145.75 347.8,145.85 349.0,145.95 350.2,146.05 351.5,146.15 352.8,146.25 354.0,146.35 355.2,146.45 356.5,146.56 357.8,146.68 359.0,146.80 360.2,146.94 361.5,147.08 362.8,147.25 364.0,147.43 365.2,147.62 366.5,147.82 367.8,148.02 369.0,148.21 370.2,148.39 371.5,148.56 372.8,148.71 374.0,148.84 375.2,148.95 376.5,149.05 377.8,149.14 379.0,149.23 380.2,149.31 381.5,149.40 382.8,149.48 384.0,149.58 385.2,149.68 386.5,149.78 387.8,149.88 389.0,149.98 390.2,150.09 391.5,150.19 392.8,150.30 394.0,150.41 395.2,150.52 396.5,150.63 397.8,150.73 399.0,150.85 400.2,150.98 401.5,151.17 402.8,151.44 404.0,151.74 405.2,152.01 406.5,152.22 407.8,152.30 409.0,152.26 410.2,152.18 411.5,151.99 412.8,151.68 414.0,151.28 415.2,150.82 416.5,150.33 417.8,149.85 419.0,149.41 420.2,149.03 421.5,148.67 422.8,148.29 424.0,147.92 425.2,147.56 426.5,147.21 427.8,146.89 429.0,146.61 430.2,146.37 431.5,146.19 432.8,146.06 434.0,145.96 435.2,145.88 436.5,145.80 437.8,145.70 439.0,145.57 440.2,145.35 441.5,144.95 442.8,144.36 444.0,143.63 445.2,142.77 446.5,141.81 447.8,140.77 449.0,139.70 450.2,138.61 451.5,137.53 452.8,136.49 454.0,135.52 455.2,134.63 456.5,133.84 457.8,133.09 459.0,132.38 460.2,131.66 461.5,130.91 462.8,130.10 464.0,129.20 465.2,128.17 466.5,127.00 467.8,125.40 469.0,123.35 470.2,120.94 471.5,118.30 472.8,115.53 474.0,112.76 475.2,110.10 476.5,107.66 477.8,105.55 479.0,103.87 480.2,102.37 481.5,100.99 482.8,99.69 484.0,98.48 485.2,97.32 486.5,96.20 487.8,95.11 489.0,94.02 490.2,92.93 491.5,91.90 492.8,91.03 494.0,90.26 495.2,89.52 496.5,88.75 497.8,87.89 499.0,86.89 500.2,85.67 501.5,84.19 502.8,81.44 504.0,79.48 505.2,78.22 506.5,77.19 507.8,76.40 509.0,75.87 510.2,75.62 511.5,75.61 512.8,75.66 514.0,75.75 515.2,75.87 516.5,76.01 517.8,76.22 519.0,76.76 520.2,77.57 521.5,78.50 522.8,79.38 524.0,80.06 525.2,80.39 526.5,80.39 527.8,80.34 529.0,80.26 530.2,80.15 531.5,80.00 532.8,79.69 534.0,78.54 535.2,76.95 536.5,75.60 537.8,74.60 539.0,73.66 540.2,72.80 541.5,72.03 542.8,71.37 544.0,70.81 545.2,70.29 546.5,69.83 547.8,69.44 549.0,69.12 550.2,68.90 551.5,68.75 552.8,68.63 554.0,68.48 555.2,68.24 556.5,67.65 557.8,66.34 559.0,65.69 560.2,65.29 561.5,64.95 562.8,64.68 564.0,64.47 565.2,64.34 566.5,64.30 567.8,65.26 569.0,67.79 570.2,72.89 571.5,76.71 572.8,78.70 574.0,80.04 575.2,80.83 576.5,80.64 577.8,79.56 579.0,78.31 580.2,77.06 581.5,75.66 582.8,74.21 584.0,72.82 585.2,71.59 586.5,70.52 587.8,69.42 589.0,68.10 590.2,66.34 591.5,63.69 592.8,58.73 594.0,55.64 595.2,54.38 596.5,54.11 597.8,54.18 599.0,54.35 600.2,55.39 601.5,57.17 602.8,58.92 604.0,60.64 605.2,62.48 606.5,64.50 607.8,66.75 609.0,68.93 610.2,70.77 611.5,72.12 612.8,73.25 614.0,74.23 615.2,75.08 616.5,75.82 617.8,76.37 619.0,76.92 620.2,77.72 621.5,78.79 622.8,80.02 624.0,81.30 625.2,82.53 626.5,83.76 627.8,85.02 629.0,86.32 630.2,87.68 631.5,89.19 632.8,90.79 634.0,92.33 635.2,93.66 636.5,94.74 637.8,95.69 639.0,96.55 640.2,97.34 641.5,98.07 642.5,98.60" fill="none" stroke="#000" stroke-width="1.3" stroke-linejoin="round"/>
<path d="M119.0,163.60 120.2,163.56 121.5,163.44 122.8,163.26 124.0,163.04 125.2,162.81 126.5,162.49 127.8,162.04 129.0,161.49 130.2,160.87 131.5,160.22 132.8,159.59 134.0,159.01 135.2,158.45 136.5,157.89 137.8,157.32 139.0,156.75 140.2,156.17 141.5,155.59 142.8,154.96 144.0,154.23 145.2,153.50 146.5,152.82 147.8,152.30 149.0,152.00 150.2,151.86 151.5,151.74 152.8,151.64 154.0,151.56 155.2,151.49 156.5,151.44 157.8,151.39 159.0,151.36 160.2,151.33 161.5,151.31 162.8,151.28 164.0,151.25 165.2,151.21 166.5,151.06 167.8,150.73 169.0,150.33 170.2,149.94 171.5,149.67 172.8,149.60 174.0,149.64 175.2,149.73 176.5,149.84 177.8,149.97 179.0,150.17 180.2,150.50 181.5,150.90 182.8,151.28 184.0,151.57 185.2,151.74 186.5,151.86 187.8,151.97 189.0,152.06 190.2,152.14 191.5,152.22 192.8,152.29 194.0,152.37 195.2,152.45 196.5,152.54 197.8,152.64 199.0,152.74 200.2,152.85 201.5,152.95 202.8,153.06 204.0,153.15 205.2,153.24 206.5,153.32 207.8,153.38 209.0,153.43 210.2,153.47 211.5,153.51 212.8,153.55 214.0,153.58 215.2,153.61 216.5,153.64 217.8,153.66 219.0,153.69 220.2,153.71 221.5,153.74 222.8,153.76 224.0,153.78 225.2,153.81 226.5,153.83 227.8,153.85 229.0,153.87 230.2,153.88 231.5,153.89 232.8,153.90 234.0,153.90 235.2,153.90 236.5,153.90 237.8,153.90 239.0,153.90 240.2,153.90 241.5,153.90 242.8,153.90 244.0,153.90 245.2,153.92 246.5,153.96 247.8,154.00 249.0,154.06 250.2,154.12 251.5,154.19 252.8,154.27 254.0,154.35 255.2,154.43 256.5,154.50 257.8,154.58 259.0,154.65 260.2,154.72 261.5,154.78 262.8,154.83 264.0,154.87 265.2,154.89 266.5,154.90 267.8,154.88 269.0,154.81 270.2,154.70 271.5,154.55 272.8,154.37 274.0,154.15 275.2,153.92 276.5,153.66 277.8,153.39 279.0,153.11 280.2,152.82 281.5,152.54 282.8,152.25 284.0,151.98 285.2,151.72 286.5,151.48 287.8,151.26 289.0,151.07 290.2,150.91 291.5,150.77 292.8,150.63 294.0,150.50 295.2,150.37 296.5,150.25 297.8,150.13 299.0,150.01 300.2,149.89 301.5,149.78 302.8,149.68 304.0,149.58 305.2,149.48 306.5,149.38 307.8,149.29 309.0,149.21 310.2,149.12 311.5,149.04 312.8,148.97 314.0,148.89 315.2,148.82 316.5,148.75 317.8,148.67 319.0,148.60 320.2,148.53 321.5,148.46 322.8,148.40 324.0,148.34 325.2,148.29 326.5,148.25 327.8,148.22 329.0,148.20 330.2,148.20 331.5,148.26 332.8,148.38 334.0,148.54 335.2,148.72 336.5,148.89 337.8,149.04 339.0,149.18 340.2,149.32 341.5,149.46 342.8,149.60 344.0,149.74 345.2,149.88 346.5,150.03 347.8,150.17 349.0,150.31 350.2,150.46 351.5,150.60 352.8,150.75 354.0,150.90 355.2,151.04 356.5,151.19 357.8,151.34 359.0,151.49 360.2,151.63 361.5,151.78 362.8,151.93 364.0,152.08 365.2,152.23 366.5,152.38 367.8,152.53 369.0,152.67 370.2,152.82 371.5,152.97 372.8,153.13 374.0,153.28 375.2,153.43 376.5,153.59 377.8,153.74 379.0,153.90 380.2,154.06 381.5,154.23 382.8,154.39 384.0,154.56 385.2,154.73 386.5,154.89 387.8,155.06 389.0,155.22 390.2,155.39 391.5,155.55 392.8,155.73 394.0,155.91 395.2,156.10 396.5,156.30 397.8,156.51 399.0,156.73 400.2,156.97 401.5,157.24 402.8,157.57 404.0,157.93 405.2,158.30 406.5,158.66 407.8,158.99 409.0,159.34 410.2,159.50 411.5,159.44 412.8,159.30 414.0,159.10 415.2,158.85 416.5,158.56 417.8,158.26 419.0,157.94 420.2,157.64 421.5,157.23 422.8,156.70 424.0,156.11 425.2,155.48 426.5,154.87 427.8,154.33 429.0,153.88 430.2,153.59 431.5,153.50 432.8,153.54 434.0,153.65 435.2,153.78 436.5,153.91 437.8,154.03 439.0,154.09 440.2,154.05 441.5,153.75 442.8,153.21 444.0,152.46 445.2,151.55 446.5,150.50 447.8,149.36 449.0,148.15 450.2,146.92 451.5,145.69 452.8,144.51 454.0,143.40 455.2,142.41 456.5,141.51 457.8,140.65 459.0,139.80 460.2,138.95 461.5,138.06 462.8,137.10 464.0,136.06 465.2,134.89 466.5,133.57 467.8,131.86 469.0,129.70 470.2,127.22 471.5,124.52 472.8,121.74 474.0,118.98 475.2,116.35 476.5,113.98 477.8,111.98 479.0,110.42 480.2,109.07 481.5,107.83 482.8,106.68 484.0,105.62 485.2,104.61 486.5,103.66 487.8,102.73 489.0,101.82 490.2,100.91 491.5,99.95 492.8,98.90 494.0,97.82 495.2,96.75 496.5,95.75 497.8,94.86 499.0,94.12 500.2,93.60 501.5,93.33 502.8,93.30 504.0,93.18 505.2,92.60 506.5,91.74 507.8,90.80 509.0,90.00 510.2,89.54 511.5,89.51 512.8,89.58 514.0,89.69 515.2,89.83 516.5,90.00 517.8,90.21 519.0,90.65 520.2,91.26 521.5,91.93 522.8,92.57 524.0,93.06 525.2,93.29 526.5,93.25 527.8,93.07 529.0,92.78 530.2,92.40 531.5,91.96 532.8,91.44 534.0,90.55 535.2,89.45 536.5,88.40 537.8,87.42 539.0,86.40 540.2,85.40 541.5,84.48 542.8,83.68 544.0,83.02 545.2,82.43 546.5,81.90 547.8,81.40 549.0,80.94 550.2,80.54 551.5,80.23 552.8,79.93 554.0,79.57 555.2,79.08 556.5,78.08 557.8,76.18 559.0,75.38 560.2,74.96 561.5,74.62 562.8,74.35 564.0,74.16 565.2,74.04 566.5,74.00 567.8,75.30 569.0,78.37 570.2,82.79 571.5,85.64 572.8,87.28 574.0,88.60 575.2,89.43 576.5,89.25 577.8,88.17 579.0,86.91 580.2,85.50 581.5,83.84 582.8,82.21 584.0,80.85 585.2,79.97 586.5,79.36 587.8,78.79 589.0,78.02 590.2,76.59 591.5,73.77 592.8,70.83 594.0,68.30 595.2,66.81 596.5,65.78 597.8,65.72 599.0,66.75 600.2,68.42 601.5,70.25 602.8,71.76 604.0,73.02 605.2,74.33 606.5,75.88 607.8,77.63 609.0,79.39 610.2,81.00 611.5,82.32 612.8,83.49 614.0,84.56 615.2,85.60 616.5,86.63 617.8,87.65 619.0,88.62 620.2,89.55 621.5,90.41 622.8,91.26 624.0,92.16 625.2,93.15 626.5,94.22 627.8,95.37 629.0,96.58 630.2,97.86 631.5,99.29 632.8,100.83 634.0,102.38 635.2,103.84 636.5,105.21 637.8,106.56 639.0,107.75 640.2,108.68 641.5,109.43 642.5,109.90" fill="none" stroke="#000" stroke-width="1.3" stroke-linejoin="round"/>
<path d="M119.0,163.60 120.2,163.57 121.5,163.48 122.8,163.35 124.0,163.19 125.2,163.01 126.5,162.72 127.8,162.26 129.0,161.68 130.2,161.02 131.5,160.33 132.8,159.66 134.0,159.06 135.2,158.45 136.5,157.89 137.8,157.32 139.0,156.75 140.2,156.17 141.5,155.59 142.8,155.56 144.0,155.61 145.2,155.67 146.5,155.73 147.8,155.78 149.0,155.80 150.2,155.76 151.5,155.65 152.8,155.51 154.0,155.36 155.2,155.22 156.5,155.13 157.8,155.10 159.0,155.13 160.2,155.18 161.5,155.25 162.8,155.32 164.0,155.38 165.2,155.40 166.5,155.32 167.8,155.10 169.0,154.80 170.2,154.51 171.5,154.30 172.8,154.25 174.0,154.28 175.2,154.35 176.5,154.45 177.8,154.57 179.0,154.82 180.2,155.35 181.5,156.02 182.8,156.68 184.0,157.18 185.2,157.43 186.5,157.63 187.8,157.79 189.0,157.94 190.2,158.06 191.5,158.18 192.8,158.29 194.0,158.40 195.2,158.52 196.5,158.66 197.8,158.81 199.0,158.98 200.2,159.16 201.5,159.34 202.8,159.50 204.0,159.65 205.2,159.77 206.5,159.85 207.8,159.90 209.0,159.90 210.2,159.90 211.5,159.90 212.8,159.90 214.0,159.90 215.2,159.90 216.5,159.90 217.8,159.90 219.0,159.90 220.2,159.89 221.5,159.86 222.8,159.79 224.0,159.71 225.2,159.60 226.5,159.49 227.8,159.38 229.0,159.27 230.2,159.17 231.5,159.08 232.8,159.03 234.0,159.00 235.2,158.98 236.5,158.97 237.8,158.96 239.0,158.95 240.2,158.94 241.5,158.93 242.8,158.93 244.0,158.94 245.2,158.96 246.5,159.00 247.8,159.06 249.0,159.13 250.2,159.21 251.5,159.30 252.8,159.40 254.0,159.50 255.2,159.60 256.5,159.70 257.8,159.80 259.0,159.89 260.2,159.97 261.5,160.05 262.8,160.11 264.0,160.16 265.2,160.19 266.5,160.20 267.8,160.18 269.0,160.11 270.2,159.99 271.5,159.84 272.8,159.65 274.0,159.43 275.2,159.19 276.5,158.93 277.8,158.66 279.0,158.37 280.2,158.08 281.5,157.80 282.8,157.51 284.0,157.24 285.2,156.98 286.5,156.75 287.8,156.53 289.0,156.35 290.2,156.21 291.5,156.08 292.8,155.96 294.0,155.84 295.2,155.72 296.5,155.61 297.8,155.50 299.0,155.40 300.2,155.30 301.5,155.20 302.8,155.11 304.0,155.02 305.2,154.94 306.5,154.86 307.8,154.79 309.0,154.72 310.2,154.65 311.5,154.60 312.8,154.54 314.0,154.50 315.2,154.45 316.5,154.41 317.8,154.36 319.0,154.32 320.2,154.28 321.5,154.24 322.8,154.21 324.0,154.17 325.2,154.15 326.5,154.13 327.8,154.11 329.0,154.10 330.2,154.10 331.5,154.16 332.8,154.28 334.0,154.44 335.2,154.61 336.5,154.77 337.8,154.89 339.0,154.99 340.2,155.08 341.5,155.16 342.8,155.25 344.0,155.32 345.2,155.40 346.5,155.47 347.8,155.54 349.0,155.61 350.2,155.68 351.5,155.75 352.8,155.82 354.0,155.90 355.2,155.98 356.5,156.06 357.8,156.15 359.0,156.25 360.2,156.35 361.5,156.46 362.8,156.59 364.0,156.72 365.2,156.87 366.5,157.02 367.8,157.18 369.0,157.35 370.2,157.53 371.5,157.71 372.8,157.89 374.0,158.08 375.2,158.28 376.5,158.47 377.8,158.67 379.0,158.87 380.2,159.07 381.5,159.26 382.8,159.46 384.0,159.65 385.2,159.84 386.5,160.03 387.8,160.21 389.0,160.39 390.2,160.57 391.5,160.76 392.8,160.95 394.0,161.15 395.2,161.36 396.5,161.58 397.8,161.82 399.0,162.07 400.2,162.35 401.5,162.70 402.8,163.17 404.0,163.69 405.2,164.18 406.5,164.57 407.8,164.79 409.0,164.87 410.2,164.90 411.5,164.89 412.8,164.88 414.0,164.86 415.2,164.84 416.5,164.81 417.8,164.77 419.0,164.73 420.2,164.69 421.5,164.56 422.8,164.32 424.0,164.02 425.2,163.68 426.5,163.33 427.8,163.00 429.0,162.74 430.2,162.56 431.5,162.50 432.8,162.54 434.0,162.65 435.2,162.78 436.5,162.91 437.8,163.03 439.0,163.09 440.2,163.08 441.5,162.98 442.8,162.80 444.0,162.54 445.2,162.21 446.5,161.83 447.8,161.41 449.0,160.95 450.2,160.46 451.5,159.95 452.8,159.43 454.0,158.91 455.2,158.40 456.5,157.85 457.8,157.25 459.0,156.60 460.2,155.89 461.5,155.13 462.8,154.31 464.0,153.44 465.2,152.52 466.5,151.54 467.8,150.38 469.0,149.02 470.2,147.50 471.5,145.87 472.8,144.19 474.0,142.51 475.2,140.87 476.5,139.33 477.8,137.94 479.0,136.73 480.2,135.55 481.5,134.37 482.8,133.21 484.0,132.11 485.2,131.07 486.5,130.12 487.8,129.29 489.0,128.59 490.2,128.05 491.5,127.67 492.8,127.40 494.0,127.20 495.2,127.02 496.5,126.83 497.8,126.57 499.0,126.20 500.2,125.62 501.5,123.80 502.8,122.90 504.0,122.29 505.2,121.78 506.5,121.35 507.8,121.03 509.0,120.81 510.2,120.71 511.5,120.75 512.8,121.00 514.0,121.41 515.2,121.90 516.5,122.43 517.8,122.94 519.0,123.47 520.2,124.06 521.5,124.70 522.8,125.39 524.0,126.12 525.2,126.88 526.5,127.76 527.8,128.90 529.0,130.21 530.2,131.53 531.5,132.75 532.8,133.74 534.0,134.36 535.2,134.45 536.5,133.58 537.8,132.04 539.0,130.35 540.2,129.06 541.5,128.16 542.8,127.34 544.0,126.58 545.2,125.88 546.5,125.21 547.8,124.56 549.0,123.91 550.2,123.22 551.5,122.49 552.8,121.76 554.0,121.04 555.2,120.39 556.5,119.82 557.8,119.38 559.0,119.10 560.2,118.91 561.5,118.75 562.8,118.60 564.0,118.49 565.2,118.42 566.5,118.40 567.8,119.17 569.0,120.91 570.2,123.12 571.5,125.33 572.8,127.05 574.0,128.42 575.2,129.63 576.5,130.10 577.8,129.73 579.0,128.88 580.2,127.74 581.5,126.51 582.8,125.37 584.0,124.48 585.2,123.75 586.5,123.07 587.8,122.33 589.0,121.43 590.2,120.25 591.5,118.55 592.8,114.27 594.0,110.62 595.2,108.59 596.5,107.55 597.8,107.03 599.0,106.80 600.2,107.21 601.5,108.28 602.8,109.55 604.0,110.56 605.2,111.32 606.5,112.04 607.8,112.71 609.0,113.33 610.2,113.87 611.5,114.33 612.8,114.72 614.0,115.04 615.2,115.33 616.5,115.60 617.8,115.89 619.0,116.22 620.2,116.60 621.5,117.02 622.8,117.46 624.0,117.95 625.2,118.49 626.5,119.10 627.8,119.84 629.0,120.72 630.2,121.70 631.5,122.74 632.8,123.78 634.0,124.85 635.2,126.02 636.5,127.19 637.8,128.27 639.0,129.21 640.2,130.06 641.5,130.84 642.5,131.40" fill="none" stroke="#000" stroke-width="1.3" stroke-linejoin="round"/>
<path d="M119.0,163.60 120.2,163.60 121.5,163.62 122.8,163.64 124.0,163.67 125.2,163.70 126.5,163.87 127.8,164.28 129.0,164.84 130.2,165.47 131.5,166.06 132.8,166.55 134.0,166.83 135.2,167.02 136.5,167.20 137.8,167.36 139.0,167.48 140.2,167.56 141.5,167.60 142.8,167.59 144.0,167.55 145.2,167.48 146.5,167.40 147.8,167.30 149.0,167.20 150.2,167.05 151.5,166.84 152.8,166.58 154.0,166.29 155.2,165.99 156.5,165.71 157.8,165.45 159.0,165.17 160.2,164.85 161.5,164.55 162.8,164.28 164.0,164.08 165.2,164.00 166.5,164.10 167.8,164.42 169.0,164.85 170.2,165.32 171.5,165.71 172.8,165.95 174.0,166.14 175.2,166.31 176.5,166.44 177.8,166.50 179.0,166.31 180.2,165.66 181.5,164.79 182.8,163.92 184.0,163.32 185.2,163.09 186.5,162.93 187.8,162.78 189.0,162.65 190.2,162.54 191.5,162.45 192.8,162.38 194.0,162.33 195.2,162.30 196.5,162.30 197.8,162.33 199.0,162.38 200.2,162.44 201.5,162.51 202.8,162.59 204.0,162.66 205.2,162.73 206.5,162.77 207.8,162.80 209.0,162.79 210.2,162.74 211.5,162.65 212.8,162.53 214.0,162.40 215.2,162.26 216.5,162.11 217.8,161.97 219.0,161.85 220.2,161.75 221.5,161.65 222.8,161.55 224.0,161.45 225.2,161.35 226.5,161.26 227.8,161.17 229.0,161.08 230.2,161.00 231.5,160.92 232.8,160.85 234.0,160.79 235.2,160.73 236.5,160.67 237.8,160.61 239.0,160.56 240.2,160.52 241.5,160.49 242.8,160.47 244.0,160.48 245.2,160.50 246.5,160.55 247.8,160.62 249.0,160.70 250.2,160.79 251.5,160.89 252.8,161.00 254.0,161.11 255.2,161.22 256.5,161.33 257.8,161.44 259.0,161.55 260.2,161.64 261.5,161.73 262.8,161.80 264.0,161.85 265.2,161.89 266.5,161.90 267.8,161.88 269.0,161.80 270.2,161.67 271.5,161.49 272.8,161.28 274.0,161.04 275.2,160.77 276.5,160.48 277.8,160.17 279.0,159.86 280.2,159.55 281.5,159.23 282.8,158.93 284.0,158.64 285.2,158.37 286.5,158.12 287.8,157.91 289.0,157.74 290.2,157.60 291.5,157.50 292.8,157.41 294.0,157.32 295.2,157.23 296.5,157.15 297.8,157.08 299.0,157.00 300.2,156.94 301.5,156.87 302.8,156.81 304.0,156.75 305.2,156.69 306.5,156.64 307.8,156.58 309.0,156.53 310.2,156.47 311.5,156.41 312.8,156.35 314.0,156.30 315.2,156.23 316.5,156.16 317.8,156.09 319.0,156.02 320.2,155.95 321.5,155.88 322.8,155.81 324.0,155.75 325.2,155.70 326.5,155.66 327.8,155.62 329.0,155.60 330.2,155.60 331.5,155.65 332.8,155.75 334.0,155.88 335.2,156.04 336.5,156.19 337.8,156.34 339.0,156.48 340.2,156.64 341.5,156.79 342.8,156.96 344.0,157.13 345.2,157.30 346.5,157.48 347.8,157.67 349.0,157.86 350.2,158.05 351.5,158.25 352.8,158.46 354.0,158.67 355.2,158.89 356.5,159.11 357.8,159.33 359.0,159.56 360.2,159.80 361.5,160.03 362.8,160.28 364.0,160.54 365.2,160.80 366.5,161.07 367.8,161.35 369.0,161.64 370.2,161.93 371.5,162.24 372.8,162.55 374.0,162.87 375.2,163.20 376.5,163.53 377.8,163.87 379.0,164.23 380.2,164.58 381.5,164.95 382.8,165.33 384.0,165.71 385.2,166.10 386.5,166.51 387.8,166.94 389.0,167.38 390.2,167.84 391.5,168.31 392.8,168.80 394.0,169.30 395.2,169.82 396.5,170.35 397.8,170.90 399.0,171.46 400.2,172.03 401.5,172.67 402.8,173.43 404.0,174.23 405.2,175.00 406.5,175.64 407.8,176.09 409.0,176.39 410.2,176.50 411.5,176.48 412.8,176.43 414.0,176.36 415.2,176.29 416.5,176.21 417.8,176.15 419.0,176.11 420.2,176.10 421.5,176.14 422.8,176.22 424.0,176.33 425.2,176.47 426.5,176.62 427.8,176.78 429.0,176.94 430.2,177.08 431.5,177.21 432.8,177.31 434.0,177.41 435.2,177.50 436.5,177.60 437.8,177.71 439.0,177.84 440.2,178.00 441.5,178.20 442.8,178.43 444.0,178.70 445.2,178.99 446.5,179.31 447.8,179.65 449.0,180.01 450.2,180.39 451.5,180.78 452.8,181.18 454.0,181.58 455.2,181.98 456.5,182.41 457.8,182.87 459.0,183.36 460.2,183.87 461.5,184.40 462.8,184.96 464.0,185.53 465.2,186.11 466.5,186.69 467.8,187.30 469.0,187.92 470.2,188.56 471.5,189.22 472.8,189.91 474.0,190.61 475.2,191.33 476.5,192.07 477.8,192.83 479.0,193.63 480.2,194.54 481.5,195.57 482.8,196.65 484.0,197.76 485.2,198.83 486.5,199.84 487.8,200.72 489.0,201.44 490.2,201.95 491.5,202.32 492.8,202.66 494.0,202.95 495.2,203.16 496.5,203.28 497.8,203.10 499.0,201.83 500.2,199.91 501.5,197.95 502.8,196.39 504.0,194.80 505.2,193.17 506.5,191.58 507.8,190.10 509.0,188.78 510.2,187.71 511.5,186.90 512.8,186.17 514.0,185.50 515.2,184.89 516.5,184.33 517.8,183.82 519.0,183.35 520.2,182.91 521.5,182.50 522.8,182.12 524.0,181.78 525.2,181.48 526.5,181.21 527.8,180.98 529.0,180.78 530.2,180.58 531.5,180.35 532.8,180.07 534.0,179.72 535.2,179.22 536.5,178.06 537.8,176.40 539.0,174.68 540.2,173.36 541.5,172.36 542.8,171.40 544.0,170.51 545.2,169.70 546.5,169.00 547.8,168.44 549.0,168.05 550.2,167.79 551.5,167.57 552.8,167.39 554.0,167.23 555.2,167.09 556.5,166.96 557.8,166.83 559.0,166.70 560.2,166.55 561.5,166.39 562.8,166.24 564.0,166.12 565.2,166.03 566.5,166.01 567.8,166.83 569.0,168.39 570.2,169.72 571.5,169.90 572.8,169.32 574.0,168.88 575.2,168.48 576.5,168.09 577.8,167.72 579.0,167.34 580.2,166.96 581.5,166.56 582.8,166.13 584.0,165.68 585.2,165.25 586.5,164.81 587.8,164.33 589.0,163.79 590.2,163.16 591.5,162.36 592.8,160.98 594.0,160.45 595.2,160.13 596.5,159.88 597.8,159.70 599.0,159.61 600.2,159.60 601.5,159.62 602.8,159.65 604.0,159.70 605.2,159.75 606.5,159.84 607.8,160.22 609.0,160.88 610.2,161.71 611.5,162.59 612.8,163.40 614.0,164.03 615.2,164.37 616.5,164.37 617.8,164.26 619.0,164.14 620.2,164.07 621.5,164.01 622.8,163.95 624.0,163.92 625.2,163.90 626.5,163.97 627.8,164.21 629.0,164.57 630.2,165.01 631.5,165.49 632.8,165.95 634.0,166.50 635.2,167.23 636.5,167.92 637.8,168.35 639.0,168.40 640.2,168.40 641.5,168.40 642.5,168.40" fill="none" stroke="#000" stroke-width="1.3" stroke-linejoin="round"/>
<path d="M119.0,163.60 120.2,163.61 121.5,163.66 122.8,163.72 124.0,163.80 125.2,163.90 126.5,164.11 127.8,164.53 129.0,165.08 130.2,165.67 131.5,166.24 132.8,166.70 134.0,166.98 135.2,167.18 136.5,167.37 137.8,167.54 139.0,167.67 140.2,167.76 141.5,167.80 142.8,167.79 144.0,167.76 145.2,167.72 146.5,167.65 147.8,167.58 149.0,167.50 150.2,167.36 151.5,167.13 152.8,166.83 154.0,166.51 155.2,166.19 156.5,165.89 157.8,165.66 159.0,165.43 160.2,165.20 161.5,164.98 162.8,164.79 164.0,164.66 165.2,164.60 166.5,164.73 167.8,165.13 169.0,165.67 170.2,166.25 171.5,166.76 172.8,167.07 174.0,167.32 175.2,167.55 176.5,167.72 177.8,167.80 179.0,167.75 180.2,167.58 181.5,167.35 182.8,167.14 184.0,167.01 185.2,167.00 186.5,167.02 187.8,167.06 189.0,167.12 190.2,167.18 191.5,167.26 192.8,167.35 194.0,167.44 195.2,167.54 196.5,167.64 197.8,167.79 199.0,167.97 200.2,168.20 201.5,168.44 202.8,168.71 204.0,169.00 205.2,169.30 206.5,169.60 207.8,169.90 209.0,170.20 210.2,170.56 211.5,170.97 212.8,171.40 214.0,171.83 215.2,172.24 216.5,172.60 217.8,172.91 219.0,173.13 220.2,173.26 221.5,173.36 222.8,173.44 224.0,173.51 225.2,173.56 226.5,173.62 227.8,173.67 229.0,173.72 230.2,173.77 231.5,173.84 232.8,173.92 234.0,174.02 235.2,174.14 236.5,174.29 237.8,174.46 239.0,174.65 240.2,174.84 241.5,175.04 242.8,175.24 244.0,175.45 245.2,175.67 246.5,175.92 247.8,176.18 249.0,176.45 250.2,176.74 251.5,177.03 252.8,177.32 254.0,177.61 255.2,177.90 256.5,178.18 257.8,178.45 259.0,178.70 260.2,178.93 261.5,179.14 262.8,179.33 264.0,179.49 265.2,179.61 266.5,179.69 267.8,179.76 269.0,179.82 270.2,179.88 271.5,179.93 272.8,179.99 274.0,180.04 275.2,180.09 276.5,180.14 277.8,180.18 279.0,180.22 280.2,180.25 281.5,180.29 282.8,180.32 284.0,180.34 285.2,180.36 286.5,180.38 287.8,180.39 289.0,180.40 290.2,180.40 291.5,180.39 292.8,180.38 294.0,180.35 295.2,180.32 296.5,180.28 297.8,180.23 299.0,180.18 300.2,180.13 301.5,180.08 302.8,180.02 304.0,179.97 305.2,179.91 306.5,179.86 307.8,179.82 309.0,179.78 310.2,179.75 311.5,179.72 312.8,179.70 314.0,179.70 315.2,179.73 316.5,179.81 317.8,179.93 319.0,180.07 320.2,180.24 321.5,180.57 322.8,181.10 324.0,181.76 325.2,182.51 326.5,183.27 327.8,183.99 329.0,184.61 330.2,185.08 331.5,185.46 332.8,185.79 334.0,186.09 335.2,186.39 336.5,186.68 337.8,186.99 339.0,187.31 340.2,187.63 341.5,187.95 342.8,188.28 344.0,188.61 345.2,188.94 346.5,189.26 347.8,189.59 349.0,189.91 350.2,190.23 351.5,190.54 352.8,190.84 354.0,191.14 355.2,191.43 356.5,191.72 357.8,191.99 359.0,192.25 360.2,192.50 361.5,192.73 362.8,192.95 364.0,193.17 365.2,193.37 366.5,193.57 367.8,193.76 369.0,193.94 370.2,194.12 371.5,194.30 372.8,194.47 374.0,194.64 375.2,194.82 376.5,194.99 377.8,195.17 379.0,195.36 380.2,195.54 381.5,195.74 382.8,195.94 384.0,196.15 385.2,196.36 386.5,196.58 387.8,196.80 389.0,197.01 390.2,197.23 391.5,197.45 392.8,197.68 394.0,197.91 395.2,198.14 396.5,198.38 397.8,198.62 399.0,198.87 400.2,199.13 401.5,199.40 402.8,199.67 404.0,199.96 405.2,200.26 406.5,200.57 407.8,200.89 409.0,201.34 410.2,201.62 411.5,201.72 412.8,201.80 414.0,201.86 415.2,201.92 416.5,201.96 417.8,201.98 419.0,202.00 420.2,202.00 421.5,201.95 422.8,201.85 424.0,201.72 425.2,201.56 426.5,201.40 427.8,201.24 429.0,201.11 430.2,201.03 431.5,201.00 432.8,201.04 434.0,201.15 435.2,201.31 436.5,201.50 437.8,201.71 439.0,201.92 440.2,202.13 441.5,202.36 442.8,202.62 444.0,202.90 445.2,203.21 446.5,203.53 447.8,203.87 449.0,204.22 450.2,204.58 451.5,204.95 452.8,205.32 454.0,205.70 455.2,206.08 456.5,206.45 457.8,206.84 459.0,207.23 460.2,207.64 461.5,208.07 462.8,208.53 464.0,209.01 465.2,209.53 466.5,210.09 467.8,210.73 469.0,211.46 470.2,212.26 471.5,213.11 472.8,214.00 474.0,214.90 475.2,215.80 476.5,216.68 477.8,217.52 479.0,218.33 480.2,219.24 481.5,220.22 482.8,221.20 484.0,222.10 485.2,222.84 486.5,223.33 487.8,223.50 489.0,223.42 490.2,223.21 491.5,222.91 492.8,222.52 494.0,222.09 495.2,221.65 496.5,221.20 497.8,220.78 499.0,220.34 500.2,219.84 501.5,219.26 502.8,218.54 504.0,217.58 505.2,216.44 506.5,215.21 507.8,213.97 509.0,212.81 510.2,211.80 511.5,210.98 512.8,210.14 514.0,209.29 515.2,208.46 516.5,207.68 517.8,206.98 519.0,206.38 520.2,205.92 521.5,205.61 522.8,205.50 524.0,206.19 525.2,207.33 526.5,207.77 527.8,208.11 529.0,208.40 530.2,208.61 531.5,208.75 532.8,208.80 534.0,208.39 535.2,207.27 536.5,205.73 537.8,204.05 539.0,202.50 540.2,201.37 541.5,200.49 542.8,199.61 544.0,198.77 545.2,198.02 546.5,197.41 547.8,196.99 549.0,196.80 550.2,196.84 551.5,196.99 552.8,197.22 554.0,197.50 555.2,197.83 556.5,198.17 557.8,198.50 559.0,198.80 560.2,199.11 561.5,199.48 562.8,199.88 564.0,200.29 565.2,200.66 566.5,200.99 567.8,201.24 569.0,201.38 570.2,201.07 571.5,198.92 572.8,197.40 574.0,197.47 575.2,197.64 576.5,197.84 577.8,198.02 579.0,198.10 580.2,197.74 581.5,196.81 582.8,195.77 584.0,195.07 585.2,195.00 586.5,195.03 587.8,195.07 589.0,195.13 590.2,195.23 591.5,195.63 592.8,196.43 594.0,198.59 595.2,202.06 596.5,202.73 597.8,203.10 599.0,203.36 600.2,203.66 601.5,204.09 602.8,204.59 604.0,205.12 605.2,205.65 606.5,206.17 607.8,206.80 609.0,207.44 610.2,207.92 611.5,208.10 612.8,208.10 614.0,208.10 615.2,208.10 616.5,208.10 617.8,208.04 619.0,207.83 620.2,207.52 621.5,207.18 622.8,206.86 624.0,206.50 625.2,206.11 626.5,205.71 627.8,205.33 629.0,204.97 630.2,204.61 631.5,204.24 632.8,203.85 634.0,203.34 635.2,202.70 636.5,202.11 637.8,201.74 639.0,201.70 640.2,201.70 641.5,201.70 642.5,201.70" fill="none" stroke="#000" stroke-width="1.3" stroke-linejoin="round"/>
<path d="M119.0,163.60 120.2,163.63 121.5,163.72 122.8,163.85 124.0,164.01 125.2,164.19 126.5,164.44 127.8,164.80 129.0,165.26 130.2,165.79 131.5,166.37 132.8,166.98 134.0,167.60 135.2,168.31 136.5,169.13 137.8,170.01 139.0,170.92 140.2,171.81 141.5,172.63 142.8,173.44 144.0,174.35 145.2,175.26 146.5,176.04 147.8,176.59 149.0,176.80 150.2,176.80 151.5,176.80 152.8,176.80 154.0,176.80 155.2,176.80 156.5,176.80 157.8,176.80 159.0,176.84 160.2,176.93 161.5,177.06 162.8,177.21 164.0,177.39 165.2,177.58 166.5,177.83 167.8,178.20 169.0,178.63 170.2,179.05 171.5,179.39 172.8,179.59 174.0,179.74 175.2,179.87 176.5,179.96 177.8,180.00 179.0,179.90 180.2,179.56 181.5,179.11 182.8,178.69 184.0,178.43 185.2,178.40 186.5,178.40 187.8,178.40 189.0,178.40 190.2,178.40 191.5,178.40 192.8,178.40 194.0,178.40 195.2,178.40 196.5,178.40 197.8,178.41 199.0,178.44 200.2,178.48 201.5,178.52 202.8,178.58 204.0,178.64 205.2,178.71 206.5,178.79 207.8,178.87 209.0,178.97 210.2,179.11 211.5,179.30 212.8,179.52 214.0,179.76 215.2,180.02 216.5,180.27 217.8,180.50 219.0,180.71 220.2,180.89 221.5,181.05 222.8,181.21 224.0,181.36 225.2,181.50 226.5,181.65 227.8,181.79 229.0,181.93 230.2,182.07 231.5,182.21 232.8,182.37 234.0,182.53 235.2,182.69 236.5,182.85 237.8,183.01 239.0,183.18 240.2,183.36 241.5,183.54 242.8,183.74 244.0,183.95 245.2,184.17 246.5,184.40 247.8,184.63 249.0,184.88 250.2,185.13 251.5,185.39 252.8,185.65 254.0,185.93 255.2,186.21 256.5,186.50 257.8,186.80 259.0,187.10 260.2,187.41 261.5,187.73 262.8,188.06 264.0,188.39 265.2,188.73 266.5,189.07 267.8,189.43 269.0,189.82 270.2,190.22 271.5,190.65 272.8,191.09 274.0,191.55 275.2,192.02 276.5,192.50 277.8,192.99 279.0,193.48 280.2,193.98 281.5,194.47 282.8,194.97 284.0,195.46 285.2,195.95 286.5,196.42 287.8,196.89 289.0,197.34 290.2,197.78 291.5,198.22 292.8,198.65 294.0,199.10 295.2,199.54 296.5,199.99 297.8,200.44 299.0,200.88 300.2,201.32 301.5,201.76 302.8,202.19 304.0,202.61 305.2,203.01 306.5,203.41 307.8,203.79 309.0,204.16 310.2,204.50 311.5,204.83 312.8,205.14 314.0,205.42 315.2,205.66 316.5,205.87 317.8,206.07 319.0,206.29 320.2,206.56 321.5,206.90 322.8,207.30 324.0,207.74 325.2,208.21 326.5,208.68 327.8,209.15 329.0,209.58 330.2,209.98 331.5,210.36 332.8,210.74 334.0,211.11 335.2,211.45 336.5,211.73 337.8,211.96 339.0,212.17 340.2,212.37 341.5,212.55 342.8,212.69 344.0,212.78 345.2,212.80 346.5,212.79 347.8,212.78 349.0,212.76 350.2,212.73 351.5,212.70 352.8,212.66 354.0,212.62 355.2,212.57 356.5,212.51 357.8,212.46 359.0,212.39 360.2,212.33 361.5,212.25 362.8,212.10 364.0,211.89 365.2,211.64 366.5,211.37 367.8,211.09 369.0,210.83 370.2,210.60 371.5,210.43 372.8,210.32 374.0,210.30 375.2,210.36 376.5,210.47 377.8,210.62 379.0,210.81 380.2,211.02 381.5,211.24 382.8,211.45 384.0,211.66 385.2,211.85 386.5,212.06 387.8,212.29 389.0,212.52 390.2,212.75 391.5,212.98 392.8,213.19 394.0,213.37 395.2,213.53 396.5,213.67 397.8,213.80 399.0,213.92 400.2,214.04 401.5,214.15 402.8,214.26 404.0,214.35 405.2,214.44 406.5,214.52 407.8,214.60 409.0,214.65 410.2,214.72 411.5,214.93 412.8,215.27 414.0,215.71 415.2,216.20 416.5,216.69 417.8,217.14 419.0,217.50 420.2,217.74 421.5,217.92 422.8,218.09 424.0,218.26 425.2,218.41 426.5,218.54 427.8,218.65 429.0,218.73 430.2,218.78 431.5,218.80 432.8,218.68 434.0,218.40 435.2,218.06 436.5,217.72 437.8,217.48 439.0,217.40 440.2,217.53 441.5,217.84 442.8,218.31 444.0,218.90 445.2,219.61 446.5,220.39 447.8,221.24 449.0,222.12 450.2,223.02 451.5,223.90 452.8,224.74 454.0,225.53 455.2,226.23 456.5,226.87 457.8,227.47 459.0,228.05 460.2,228.64 461.5,229.25 462.8,229.91 464.0,230.63 465.2,231.44 466.5,232.36 467.8,233.51 469.0,234.93 470.2,236.56 471.5,238.33 472.8,240.20 474.0,242.09 475.2,243.97 476.5,245.76 477.8,247.40 479.0,248.87 480.2,250.24 481.5,251.55 482.8,252.83 484.0,254.07 485.2,255.28 486.5,256.49 487.8,257.70 489.0,258.91 490.2,260.15 491.5,261.41 492.8,262.68 494.0,263.94 495.2,265.19 496.5,266.42 497.8,267.65 499.0,268.99 500.2,270.26 501.5,271.24 502.8,271.81 504.0,272.27 505.2,272.66 506.5,272.99 507.8,273.27 509.0,273.52 510.2,273.73 511.5,273.92 512.8,274.12 514.0,274.30 515.2,274.47 516.5,274.61 517.8,274.72 519.0,274.78 520.2,274.79 521.5,274.38 522.8,273.63 524.0,272.88 525.2,272.43 526.5,272.40 527.8,272.40 529.0,272.40 530.2,272.40 531.5,272.40 532.8,272.43 534.0,273.28 535.2,274.79 536.5,276.29 537.8,277.24 539.0,278.08 540.2,278.86 541.5,279.51 542.8,279.95 544.0,280.12 545.2,280.19 546.5,280.25 547.8,280.28 549.0,280.30 550.2,280.30 551.5,280.30 552.8,280.30 554.0,280.30 555.2,280.36 556.5,281.25 557.8,282.62 559.0,283.66 560.2,283.84 561.5,283.90 562.8,283.95 564.0,283.98 565.2,284.00 566.5,283.91 567.8,282.71 569.0,280.75 570.2,278.20 571.5,274.49 572.8,271.57 574.0,269.92 575.2,268.66 576.5,268.20 577.8,268.85 579.0,270.22 580.2,271.79 581.5,273.30 582.8,275.04 584.0,276.88 585.2,278.61 586.5,280.02 587.8,281.06 589.0,282.11 590.2,283.61 591.5,287.11 592.8,292.20 594.0,295.15 595.2,297.33 596.5,298.80 597.8,299.90 599.0,299.95 600.2,298.88 601.5,297.21 602.8,295.50 604.0,294.01 605.2,292.43 606.5,290.80 607.8,289.14 609.0,287.48 610.2,285.85 611.5,284.20 612.8,282.54 614.0,280.87 615.2,279.20 616.5,277.55 617.8,275.93 619.0,274.34 620.2,272.81 621.5,271.34 622.8,269.91 624.0,268.47 625.2,266.98 626.5,265.47 627.8,263.97 629.0,262.46 630.2,260.88 631.5,259.22 632.8,257.43 634.0,255.30 635.2,252.83 636.5,250.43 637.8,248.54 639.0,247.07 640.2,245.77 641.5,244.72 642.5,244.10" fill="none" stroke="#000" stroke-width="0.95" stroke-linejoin="round"/>
<line x1="642.5" y1="84.70" x2="642.5" y2="244.10" stroke="#000" stroke-width="0.9"/></g>
<line x1="642.5" y1="86.80" x2="645" y2="86.80" stroke="#222" stroke-width="0.6"/>
<text class="t" transform="translate(646.6,88.95) scale(0.574,0.61)" font-size="10">East Asia and Pacific (15044, 4%)</text>
<line x1="642.5" y1="93.30" x2="645" y2="93.30" stroke="#222" stroke-width="0.6"/>
<text class="t" transform="translate(646.6,95.45) scale(0.574,0.61)" font-size="10">South Asia (13879, 3%)</text>
<line x1="642.5" y1="98.20" x2="645" y2="98.20" stroke="#222" stroke-width="0.6"/>
<text class="t" transform="translate(646.6,100.35) scale(0.574,0.61)" font-size="10">Sub-saharan Africa (8469, 2%)</text>
<line x1="642.5" y1="105.10" x2="645" y2="105.10" stroke="#222" stroke-width="0.6"/>
<text class="t" transform="translate(646.6,107.25) scale(0.574,0.61)" font-size="10">Middle East and North Africa (30408, 7%)</text>
<line x1="642.5" y1="121.30" x2="645" y2="121.30" stroke="#222" stroke-width="0.6"/>
<text class="t" transform="translate(646.6,123.45) scale(0.574,0.61)" font-size="10">Rest of Europe+Central Asia (48526, 12%)</text>
<line x1="642.5" y1="149.70" x2="645" y2="149.70" stroke="#222" stroke-width="0.6"/>
<text class="t" transform="translate(646.6,151.85) scale(0.574,0.61)" font-size="10"><tspan font-weight="bold">Tracker countries</tspan> (83176, 20%)</text>
<line x1="642.5" y1="185.00" x2="645" y2="185.00" stroke="#222" stroke-width="0.6"/>
<text class="t" transform="translate(646.6,187.15) scale(0.574,0.61)" font-size="10">Latin America and Carribean (120953, 29%)</text>
<line x1="642.5" y1="223.40" x2="645" y2="223.40" stroke="#222" stroke-width="0.6"/>
<text class="t" transform="translate(646.6,225.55) scale(0.574,0.61)" font-size="10">North America (97765, 23%)</text>
<line x1="7.70" y1="406.00" x2="7.70" y2="703.50" stroke="#bdbdbd" stroke-width="0.9"/>
<line x1="31.24" y1="406.00" x2="31.24" y2="703.50" stroke="#bdbdbd" stroke-width="0.9"/>
<line x1="54.78" y1="406.00" x2="54.78" y2="703.50" stroke="#bdbdbd" stroke-width="0.9"/>
<line x1="78.32" y1="406.00" x2="78.32" y2="703.50" stroke="#bdbdbd" stroke-width="0.9"/>
<line x1="101.86" y1="406.00" x2="101.86" y2="703.50" stroke="#bdbdbd" stroke-width="0.9"/>
<line x1="125.40" y1="406.00" x2="125.40" y2="703.50" stroke="#bdbdbd" stroke-width="0.9"/>
<line x1="148.94" y1="406.00" x2="148.94" y2="703.50" stroke="#bdbdbd" stroke-width="0.9"/>
<line x1="172.48" y1="406.00" x2="172.48" y2="703.50" stroke="#bdbdbd" stroke-width="0.9"/>
<line x1="196.02" y1="406.00" x2="196.02" y2="703.50" stroke="#bdbdbd" stroke-width="0.9"/>
<line x1="219.56" y1="406.00" x2="219.56" y2="703.50" stroke="#bdbdbd" stroke-width="0.9"/>
<line x1="243.10" y1="406.00" x2="243.10" y2="703.50" stroke="#bdbdbd" stroke-width="0.9"/>
<line x1="266.64" y1="406.00" x2="266.64" y2="703.50" stroke="#bdbdbd" stroke-width="0.9"/>
<line x1="290.18" y1="406.00" x2="290.18" y2="703.50" stroke="#bdbdbd" stroke-width="0.9"/>
<line x1="313.72" y1="406.00" x2="313.72" y2="703.50" stroke="#bdbdbd" stroke-width="0.9"/>
<line x1="337.26" y1="406.00" x2="337.26" y2="703.50" stroke="#bdbdbd" stroke-width="0.9"/>
<line x1="360.80" y1="406.00" x2="360.80" y2="703.50" stroke="#bdbdbd" stroke-width="0.9"/>
<line x1="384.34" y1="406.00" x2="384.34" y2="703.50" stroke="#bdbdbd" stroke-width="0.9"/>
<line x1="407.88" y1="406.00" x2="407.88" y2="703.50" stroke="#bdbdbd" stroke-width="0.9"/>
<line x1="431.42" y1="406.00" x2="431.42" y2="703.50" stroke="#bdbdbd" stroke-width="0.9"/>
<line x1="454.96" y1="406.00" x2="454.96" y2="703.50" stroke="#bdbdbd" stroke-width="0.9"/>
<line x1="478.50" y1="406.00" x2="478.50" y2="703.50" stroke="#bdbdbd" stroke-width="0.9"/>
<line x1="502.04" y1="406.00" x2="502.04" y2="703.50" stroke="#bdbdbd" stroke-width="0.9"/>
<line x1="525.58" y1="406.00" x2="525.58" y2="703.50" stroke="#bdbdbd" stroke-width="0.9"/>
<line x1="549.12" y1="406.00" x2="549.12" y2="703.50" stroke="#bdbdbd" stroke-width="0.9"/>
<line x1="572.66" y1="406.00" x2="572.66" y2="703.50" stroke="#bdbdbd" stroke-width="0.9"/>
<line x1="596.20" y1="406.00" x2="596.20" y2="703.50" stroke="#bdbdbd" stroke-width="0.9"/>
<line x1="619.74" y1="406.00" x2="619.74" y2="703.50" stroke="#bdbdbd" stroke-width="0.9"/>
<line x1="643.28" y1="406.00" x2="643.28" y2="703.50" stroke="#bdbdbd" stroke-width="0.9"/>
<line x1="666.82" y1="406.00" x2="666.82" y2="703.50" stroke="#bdbdbd" stroke-width="0.9"/>
<line x1="690.36" y1="406.00" x2="690.36" y2="703.50" stroke="#bdbdbd" stroke-width="0.9"/>
<line x1="713.90" y1="406.00" x2="713.90" y2="703.50" stroke="#bdbdbd" stroke-width="0.9"/>
<line x1="737.44" y1="697.90" x2="737.44" y2="703.50" stroke="#bdbdbd" stroke-width="0.9"/>
<text class="t" transform="translate(10.40,730.40) rotate(-90) scale(0.533,0.68)" font-size="10" style="stroke-width:0.12px">01-Jan-20</text>
<text class="t" transform="translate(33.94,730.40) rotate(-90) scale(0.533,0.68)" font-size="10" style="stroke-width:0.12px">16-Jan-20</text>
<text class="t" transform="translate(57.48,730.40) rotate(-90) scale(0.533,0.68)" font-size="10" style="stroke-width:0.12px">31-Jan-20</text>
<text class="t" transform="translate(81.02,730.40) rotate(-90) scale(0.533,0.68)" font-size="10" style="stroke-width:0.12px">15-Feb-20</text>
<text class="t" transform="translate(104.56,730.40) rotate(-90) scale(0.533,0.68)" font-size="10" style="stroke-width:0.12px">01-Mar-20</text>
<text class="t" transform="translate(128.10,730.40) rotate(-90) scale(0.533,0.68)" font-size="10" style="stroke-width:0.12px">16-Mar-20</text>
<text class="t" transform="translate(151.64,730.40) rotate(-90) scale(0.533,0.68)" font-size="10" style="stroke-width:0.12px">31-Mar-20</text>
<text class="t" transform="translate(175.18,730.40) rotate(-90) scale(0.533,0.68)" font-size="10" style="stroke-width:0.12px">15-Apr-20</text>
<text class="t" transform="translate(198.72,730.40) rotate(-90) scale(0.533,0.68)" font-size="10" style="stroke-width:0.12px">30-Apr-20</text>
<text class="t" transform="translate(222.26,730.40) rotate(-90) scale(0.533,0.68)" font-size="10" style="stroke-width:0.12px">15-May-20</text>
<text class="t" transform="translate(245.80,730.40) rotate(-90) scale(0.533,0.68)" font-size="10" style="stroke-width:0.12px">30-May-20</text>
<text class="t" transform="translate(269.34,730.40) rotate(-90) scale(0.533,0.68)" font-size="10" style="stroke-width:0.12px">14-Jun-20</text>
<text class="t" transform="translate(292.88,730.40) rotate(-90) scale(0.533,0.68)" font-size="10" style="stroke-width:0.12px">29-Jun-20</text>
<text class="t" transform="translate(316.42,730.40) rotate(-90) scale(0.533,0.68)" font-size="10" style="stroke-width:0.12px">14-Jul-20</text>
<text class="t" transform="translate(339.96,730.40) rotate(-90) scale(0.533,0.68)" font-size="10" style="stroke-width:0.12px">29-Jul-20</text>
<text class="t" transform="translate(363.50,730.40) rotate(-90) scale(0.533,0.68)" font-size="10" style="stroke-width:0.12px">13-Aug-20</text>
<text class="t" transform="translate(387.04,730.40) rotate(-90) scale(0.533,0.68)" font-size="10" style="stroke-width:0.12px">28-Aug-20</text>
<text class="t" transform="translate(410.58,730.40) rotate(-90) scale(0.533,0.68)" font-size="10" style="stroke-width:0.12px">12-Sep-20</text>
<text class="t" transform="translate(434.12,730.40) rotate(-90) scale(0.533,0.68)" font-size="10" style="stroke-width:0.12px">27-Sep-20</text>
<text class="t" transform="translate(457.66,730.40) rotate(-90) scale(0.533,0.68)" font-size="10" style="stroke-width:0.12px">12-Oct-20</text>
<text class="t" transform="translate(481.20,730.40) rotate(-90) scale(0.533,0.68)" font-size="10" style="stroke-width:0.12px">27-Oct-20</text>
<text class="t" transform="translate(504.74,730.40) rotate(-90) scale(0.533,0.68)" font-size="10" style="stroke-width:0.12px">11-Nov-20</text>
<text class="t" transform="translate(528.28,730.40) rotate(-90) scale(0.533,0.68)" font-size="10" style="stroke-width:0.12px">26-Nov-20</text>
<text class="t" transform="translate(551.82,730.40) rotate(-90) scale(0.533,0.68)" font-size="10" style="stroke-width:0.12px">11-Dec-20</text>
<text class="t" transform="translate(575.36,730.40) rotate(-90) scale(0.533,0.68)" font-size="10" style="stroke-width:0.12px">26-Dec-20</text>
<text class="t" transform="translate(598.90,730.40) rotate(-90) scale(0.533,0.68)" font-size="10" style="stroke-width:0.12px">10-Jan-21</text>
<text class="t" transform="translate(622.44,730.40) rotate(-90) scale(0.533,0.68)" font-size="10" style="stroke-width:0.12px">25-Jan-21</text>
<text class="t" transform="translate(645.98,730.40) rotate(-90) scale(0.533,0.68)" font-size="10" style="stroke-width:0.12px">09-Feb-21</text>
<text class="t" transform="translate(669.52,730.40) rotate(-90) scale(0.533,0.68)" font-size="10" style="stroke-width:0.12px">24-Feb-21</text>
<text class="t" transform="translate(693.06,730.40) rotate(-90) scale(0.533,0.68)" font-size="10" style="stroke-width:0.12px">11-Mar-21</text>
<text class="t" transform="translate(716.60,730.40) rotate(-90) scale(0.533,0.68)" font-size="10" style="stroke-width:0.12px">26-Mar-21</text>
<text class="t" transform="translate(740.14,730.40) rotate(-90) scale(0.533,0.68)" font-size="10" style="stroke-width:0.12px">10-Apr-21</text>
<text x="-0.5" y="395.3" font-size="12.8" fill="#000">(b)</text>
<text x="204.5" y="399.6" font-size="14.8" font-weight="bold" textLength="339.8" lengthAdjust="spacingAndGlyphs" fill="#000">COVID-19 daily global deaths:&#160; 15,507 ( 9 Feb 21)</text>
<text class="t" transform="translate(2.2,744.6) scale(0.441,0.53)" font-size="10">Data sources: Our World in Data. World Bank 2020 classifications used for country groups.</text>
<polygon points="42.0,552.20 55.0,551.75 65.0,551.45 74.0,551.15 85.0,550.80 96.0,551.20 102.0,551.60 108.0,551.60 114.0,551.45 114.0,552.95 108.0,552.80 102.0,552.80 96.0,553.20 85.0,553.60 74.0,553.25 65.0,552.95 55.0,552.65 42.0,552.20" fill="#111"/>
<polygon points="74.5,552.20 79.0,551.65 85.0,551.50 92.0,551.70 96.0,552.20 96.0,552.20 92.0,552.70 85.0,552.90 79.0,552.75 74.5,552.20" fill="#fff"/>
<g transform="translate(0,0)"><path d="M112.0,552.2 113.2,552.2 114.5,552.1 115.8,551.9 117.0,551.7 118.2,551.5 119.5,551.2 120.8,550.8 122.0,550.5 123.2,550.1 124.5,549.7 125.8,549.3 127.0,548.7 128.2,548.1 129.5,547.2 130.8,546.3 132.0,545.4 133.2,544.3 134.5,543.1 135.8,541.7 137.0,540.1 138.2,538.5 139.5,536.7 140.8,534.8 142.0,532.7 143.2,530.5 144.5,528.1 145.8,525.5 147.0,522.7 148.2,519.8 149.5,517.0 150.8,514.4 152.0,511.8 153.2,509.2 154.5,506.5 155.8,503.7 157.0,500.7 158.2,497.9 159.5,495.3 160.8,492.8 162.0,490.5 163.2,488.7 164.5,487.7 165.8,486.9 167.0,486.5 168.2,486.4 169.5,486.6 170.8,486.9 172.0,487.1 173.2,486.9 174.5,486.0 175.8,485.8 177.0,485.7 178.2,485.7 179.5,486.0 180.8,486.3 182.0,486.9 183.2,487.7 184.5,488.6 185.8,489.6 187.0,490.6 188.2,491.8 189.5,493.1 190.8,494.0 192.0,494.8 193.2,495.5 194.5,496.1 195.8,496.7 197.0,497.4 198.2,498.1 199.5,498.7 200.8,499.4 202.0,500.1 203.2,500.8 204.5,501.5 205.8,502.3 207.0,503.0 208.2,503.7 209.5,504.3 210.8,504.9 212.0,505.4 213.2,505.9 214.5,506.4 215.8,506.8 217.0,507.3 218.2,507.7 219.5,508.1 220.8,508.5 222.0,508.9 223.2,509.2 224.5,509.6 225.8,509.9 227.0,510.3 228.2,510.6 229.5,510.9 230.8,511.2 232.0,511.6 233.2,512.1 234.5,513.2 235.8,514.8 237.0,515.3 238.2,515.5 239.5,515.7 240.8,515.8 242.0,515.9 243.2,515.9 244.5,515.4 245.8,513.8 247.0,512.8 248.2,512.6 249.5,512.4 250.8,512.3 252.0,512.1 253.2,512.1 254.5,512.0 255.8,511.9 257.0,511.9 258.2,511.8 259.5,511.8 260.8,511.8 262.0,511.7 263.2,511.7 264.5,511.6 265.8,511.6 267.0,511.5 268.2,511.0 269.5,510.0 270.8,508.8 272.0,507.7 273.2,507.1 274.5,506.4 275.8,505.9 277.0,505.6 278.2,505.5 279.5,505.9 280.8,506.4 282.0,507.0 283.2,507.6 284.5,508.1 285.8,508.7 287.0,509.3 288.2,509.8 289.5,510.2 290.8,510.3 292.0,510.3 293.2,510.3 294.5,510.3 295.8,510.3 297.0,510.2 298.2,510.2 299.5,509.9 300.8,509.4 302.0,508.8 303.2,508.1 304.5,507.5 305.8,507.0 307.0,506.7 308.2,506.5 309.5,506.3 310.8,506.1 312.0,505.9 313.2,505.6 314.5,505.4 315.8,505.0 317.0,504.7 318.2,504.3 319.5,503.9 320.8,503.4 322.0,502.9 323.2,502.3 324.5,501.7 325.8,500.7 327.0,497.5 328.2,494.7 329.5,494.3 330.8,494.0 332.0,493.8 333.2,493.7 334.5,493.6 335.8,493.5 337.0,493.6 338.2,498.5 339.5,498.8 340.8,498.7 342.0,498.6 343.2,498.5 344.5,498.4 345.8,498.3 347.0,498.1 348.2,497.8 349.5,497.3 350.8,496.9 352.0,496.5 353.2,496.2 354.5,496.1 355.8,496.3 357.0,496.7 358.2,497.1 359.5,497.4 360.8,497.0 362.0,492.0 363.2,491.4 364.5,491.5 365.8,491.6 367.0,491.7 368.2,492.0 369.5,492.3 370.8,492.7 372.0,495.4 373.2,498.9 374.5,499.3 375.8,499.5 377.0,499.7 378.2,499.8 379.5,500.0 380.8,500.1 382.0,500.4 383.2,500.6 384.5,500.9 385.8,501.2 387.0,501.4 388.2,501.5 389.5,501.7 390.8,501.8 392.0,501.9 393.2,502.0 394.5,502.1 395.8,502.1 397.0,502.2 398.2,502.1 399.5,497.1 400.8,495.7 402.0,495.7 403.2,495.8 404.5,495.9 405.8,496.1 407.0,496.3 408.2,496.6 409.5,498.1 410.8,501.8 412.0,502.3 413.2,502.5 414.5,502.6 415.8,502.7 417.0,502.7 418.2,502.8 419.5,502.8 420.8,502.8 422.0,502.7 423.2,502.6 424.5,502.4 425.8,502.2 427.0,502.0 428.2,501.8 429.5,501.6 430.8,501.5 432.0,501.5 433.2,501.6 434.5,501.8 435.8,501.9 437.0,501.4 438.2,499.4 439.5,498.8 440.8,498.8 442.0,498.8 443.2,497.7 444.5,495.2 445.8,495.5 447.0,497.7 448.2,498.5 449.5,498.6 450.8,498.6 452.0,498.7 453.2,499.6 454.5,501.7 455.8,502.3 457.0,502.6 458.2,502.7 459.5,502.8 460.8,502.8 462.0,502.6 463.2,502.1 464.5,501.5 465.8,500.9 467.0,500.2 468.2,499.6 469.5,499.1 470.8,498.6 472.0,498.1 473.2,497.6 474.5,497.1 475.8,496.6 477.0,496.0 478.2,495.5 479.5,495.0 480.8,494.5 482.0,494.0 483.2,493.5 484.5,492.9 485.8,492.2 487.0,491.3 488.2,489.8 489.5,486.9 490.8,484.0 492.0,482.2 493.2,480.7 494.5,479.5 495.8,478.4 497.0,477.4 498.2,476.5 499.5,475.6 500.8,474.7 502.0,473.8 503.2,472.8 504.5,472.0 505.8,471.3 507.0,470.5 508.2,469.8 509.5,469.0 510.8,468.1 512.0,467.0 513.2,465.8 514.5,463.9 515.8,462.0 517.0,460.7 518.2,459.6 519.5,458.5 520.8,457.6 522.0,456.8 523.2,456.2 524.5,455.8 525.8,455.5 527.0,455.5 528.2,455.6 529.5,455.7 530.8,455.9 532.0,456.0 533.2,456.1 534.5,456.1 535.8,455.2 537.0,453.5 538.2,451.6 539.5,450.5 540.8,450.1 542.0,449.8 543.2,449.6 544.5,449.5 545.8,449.3 547.0,449.2 548.2,449.0 549.5,448.8 550.8,448.6 552.0,448.4 553.2,448.1 554.5,447.7 555.8,446.6 557.0,444.9 558.2,443.5 559.5,443.0 560.8,442.6 562.0,442.2 563.2,441.9 564.5,441.7 565.8,441.6 567.0,441.7 568.2,443.1 569.5,445.3 570.8,449.7 572.0,453.5 573.2,454.4 574.5,454.9 575.8,454.6 577.0,453.6 578.2,452.2 579.5,450.7 580.8,449.2 582.0,448.0 583.2,447.3 584.5,447.0 585.8,446.8 587.0,446.6 588.2,446.3 589.5,445.9 590.8,444.4 592.0,438.5 593.2,432.7 594.5,430.6 595.8,429.3 597.0,428.0 598.2,426.7 599.5,425.5 600.8,424.5 602.0,423.9 603.2,423.5 604.5,423.1 605.8,422.8 607.0,422.7 608.2,422.9 609.5,423.2 610.8,423.4 612.0,422.8 613.2,421.0 614.5,419.2 615.8,418.0 617.0,416.9 618.2,416.0 619.5,415.4 620.8,415.5 622.0,415.7 623.2,416.1 624.5,416.7 625.8,417.3 627.0,418.0 628.2,418.9 629.5,420.1 630.8,421.5 632.0,422.9 633.2,424.5 634.5,426.2 635.8,428.1 637.0,429.9 638.2,431.5 639.5,432.9 640.8,434.3 642.0,435.6 642.5,436.1 642.5,443.7 642.0,443.4 640.8,442.5 639.5,441.4 638.2,440.2 637.0,438.7 635.8,436.7 634.5,434.5 633.2,432.4 632.0,430.8 630.8,429.4 629.5,428.2 628.2,427.1 627.0,426.3 625.8,425.7 624.5,425.1 623.2,424.6 622.0,424.2 620.8,423.9 619.5,423.9 618.2,424.5 617.0,425.5 615.8,426.6 614.5,427.8 613.2,429.6 612.0,431.3 610.8,431.9 609.5,431.7 608.2,431.4 607.0,431.2 605.8,431.3 604.5,431.6 603.2,432.0 602.0,432.5 600.8,433.0 599.5,433.5 598.2,434.1 597.0,434.9 595.8,435.9 594.5,437.3 593.2,439.5 592.0,444.3 590.8,449.2 589.5,450.6 588.2,451.1 587.0,451.5 585.8,451.7 584.5,452.0 583.2,452.4 582.0,453.1 580.8,454.2 579.5,455.6 578.2,457.0 577.0,458.2 575.8,459.0 574.5,459.3 573.2,458.7 572.0,457.5 570.8,453.5 569.5,449.1 568.2,446.9 567.0,445.6 565.8,445.5 564.5,445.7 563.2,446.1 562.0,446.5 560.8,447.0 559.5,447.6 558.2,448.2 557.0,449.4 555.8,450.8 554.5,451.7 553.2,452.0 552.0,452.2 550.8,452.3 549.5,452.5 548.2,452.7 547.0,452.8 545.8,452.9 544.5,453.1 543.2,453.2 542.0,453.4 540.8,453.6 539.5,454.0 538.2,455.2 537.0,457.0 535.8,458.8 534.5,459.8 533.2,459.8 532.0,459.6 530.8,459.4 529.5,459.2 528.2,459.0 527.0,458.8 525.8,458.8 524.5,459.0 523.2,459.3 522.0,459.8 520.8,460.6 519.5,461.5 518.2,462.6 517.0,463.8 515.8,465.1 514.5,467.2 513.2,469.1 512.0,470.3 510.8,471.3 509.5,472.2 508.2,472.9 507.0,473.6 505.8,474.3 504.5,475.1 503.2,475.8 502.0,476.8 500.8,477.7 499.5,478.6 498.2,479.6 497.0,480.6 495.8,481.6 494.5,482.8 493.2,484.1 492.0,485.5 490.8,487.4 489.5,490.2 488.2,492.9 487.0,494.5 485.8,495.4 484.5,496.2 483.2,496.8 482.0,497.4 480.8,497.9 479.5,498.4 478.2,499.0 477.0,499.5 475.8,500.0 474.5,500.5 473.2,501.0 472.0,501.4 470.8,501.9 469.5,502.4 468.2,502.9 467.0,503.6 465.8,504.3 464.5,505.0 463.2,505.7 462.0,506.2 460.8,506.5 459.5,506.5 458.2,506.4 457.0,506.3 455.8,506.0 454.5,505.4 453.2,503.1 452.0,502.2 450.8,502.1 449.5,502.0 448.2,502.0 447.0,501.3 445.8,499.0 444.5,498.7 443.2,501.1 442.0,502.2 440.8,502.2 439.5,502.2 438.2,502.7 437.0,504.6 435.8,505.1 434.5,505.1 433.2,505.1 432.0,505.1 430.8,505.1 429.5,505.2 428.2,505.4 427.0,505.6 425.8,505.8 424.5,506.1 423.2,506.3 422.0,506.4 420.8,506.5 419.5,506.5 418.2,506.5 417.0,506.5 415.8,506.4 414.5,506.4 413.2,506.3 412.0,506.3 410.8,505.8 409.5,501.6 408.2,500.0 407.0,499.6 405.8,499.3 404.5,499.1 403.2,499.0 402.0,498.9 400.8,498.8 399.5,500.2 398.2,505.0 397.0,505.1 395.8,505.1 394.5,505.0 393.2,505.0 392.0,504.9 390.8,504.8 389.5,504.7 388.2,504.6 387.0,504.5 385.8,504.2 384.5,503.8 383.2,503.4 382.0,503.0 380.8,502.7 379.5,502.5 378.2,502.3 377.0,502.1 375.8,501.9 374.5,501.5 373.2,501.0 372.0,497.4 370.8,494.7 369.5,494.2 368.2,493.9 367.0,493.7 365.8,493.5 364.5,493.4 363.2,493.3 362.0,493.9 360.8,498.8 359.5,499.2 358.2,498.9 357.0,498.4 355.8,498.0 354.5,497.8 353.2,497.9 352.0,498.2 350.8,498.5 349.5,499.0 348.2,499.4 347.0,499.7 345.8,499.9 344.5,500.0 343.2,500.1 342.0,500.2 340.8,500.2 339.5,500.3 338.2,500.0 337.0,495.1 335.8,495.0 334.5,495.1 333.2,495.2 332.0,495.3 330.8,495.5 329.5,495.8 328.2,496.2 327.0,499.0 325.8,502.2 324.5,503.2 323.2,503.8 322.0,504.4 320.8,504.9 319.5,505.4 318.2,505.8 317.0,506.2 315.8,506.5 314.5,506.9 313.2,507.1 312.0,507.4 310.8,507.6 309.5,507.8 308.2,508.0 307.0,508.2 305.8,508.5 304.5,509.0 303.2,509.6 302.0,510.3 300.8,510.9 299.5,511.4 298.2,511.6 297.0,511.6 295.8,511.6 294.5,511.6 293.2,511.6 292.0,511.5 290.8,511.5 289.5,511.3 288.2,510.9 287.0,510.4 285.8,509.7 284.5,509.1 283.2,508.6 282.0,508.0 280.8,507.4 279.5,506.8 278.2,506.4 277.0,506.5 275.8,506.8 274.5,507.3 273.2,507.9 272.0,508.5 270.8,509.5 269.5,510.7 268.2,511.7 267.0,512.2 265.8,512.2 264.5,512.3 263.2,512.3 262.0,512.3 260.8,512.3 259.5,512.3 258.2,512.4 257.0,512.4 255.8,512.4 254.5,512.5 253.2,512.5 252.0,512.6 250.8,512.7 249.5,512.9 248.2,513.1 247.0,513.3 245.8,514.3 244.5,515.9 243.2,516.4 242.0,516.4 240.8,516.3 239.5,516.2 238.2,516.0 237.0,515.8 235.8,515.3 234.5,513.7 233.2,512.6 232.0,512.1 230.8,511.7 229.5,511.4 228.2,511.1 227.0,510.8 225.8,510.4 224.5,510.1 223.2,509.7 222.0,509.4 220.8,509.0 219.5,508.6 218.2,508.2 217.0,507.8 215.8,507.3 214.5,506.9 213.2,506.4 212.0,505.9 210.8,505.4 209.5,504.8 208.2,504.2 207.0,503.5 205.8,502.7 204.5,502.0 203.2,501.3 202.0,500.6 200.8,500.0 199.5,499.3 198.2,498.7 197.0,498.1 195.8,497.4 194.5,496.8 193.2,496.2 192.0,495.6 190.8,494.8 189.5,493.8 188.2,492.5 187.0,491.9 185.8,491.9 184.5,491.8 183.2,491.7 182.0,491.3 180.8,490.9 179.5,490.7 178.2,490.5 177.0,489.8 175.8,488.3 174.5,487.5 173.2,487.9 172.0,488.0 170.8,487.7 169.5,487.4 168.2,487.1 167.0,487.2 165.8,487.6 164.5,488.4 163.2,489.3 162.0,491.0 160.8,493.4 159.5,495.8 158.2,498.4 157.0,501.2 155.8,504.1 154.5,506.9 153.2,509.6 152.0,512.2 150.8,514.8 149.5,517.4 148.2,520.2 147.0,523.1 145.8,525.8 144.5,528.4 143.2,530.8 142.0,533.0 140.8,535.1 139.5,537.0 138.2,538.8 137.0,540.4 135.8,542.0 134.5,543.4 133.2,544.6 132.0,545.6 130.8,546.6 129.5,547.5 128.2,548.3 127.0,549.0 125.8,549.5 124.5,549.9 123.2,550.3 122.0,550.6 120.8,550.9 119.5,551.2 118.2,551.5 117.0,551.7 115.8,551.9 114.5,552.1 113.2,552.2 112.0,552.2Z" fill="#f2f2f2" stroke="none"/>
<path d="M112.0,552.2 113.2,552.2 114.5,552.1 115.8,551.9 117.0,551.7 118.2,551.5 119.5,551.2 120.8,550.9 122.0,550.6 123.2,550.3 124.5,549.9 125.8,549.5 127.0,549.0 128.2,548.3 129.5,547.5 130.8,546.6 132.0,545.6 133.2,544.6 134.5,543.4 135.8,542.0 137.0,540.4 138.2,538.8 139.5,537.0 140.8,535.1 142.0,533.0 143.2,530.8 144.5,528.4 145.8,525.8 147.0,523.1 148.2,520.2 149.5,517.4 150.8,514.8 152.0,512.2 153.2,509.6 154.5,506.9 155.8,504.1 157.0,501.2 158.2,498.4 159.5,495.8 160.8,493.4 162.0,491.0 163.2,489.3 164.5,488.4 165.8,487.6 167.0,487.2 168.2,487.1 169.5,487.4 170.8,487.7 172.0,488.0 173.2,487.9 174.5,487.5 175.8,488.3 177.0,489.8 178.2,490.5 179.5,490.7 180.8,490.9 182.0,491.3 183.2,491.7 184.5,491.8 185.8,491.9 187.0,491.9 188.2,492.5 189.5,493.8 190.8,494.8 192.0,495.6 193.2,496.2 194.5,496.8 195.8,497.4 197.0,498.1 198.2,498.7 199.5,499.3 200.8,500.0 202.0,500.6 203.2,501.3 204.5,502.0 205.8,502.7 207.0,503.5 208.2,504.2 209.5,504.8 210.8,505.4 212.0,505.9 213.2,506.4 214.5,506.9 215.8,507.3 217.0,507.8 218.2,508.2 219.5,508.6 220.8,509.0 222.0,509.4 223.2,509.7 224.5,510.1 225.8,510.4 227.0,510.8 228.2,511.1 229.5,511.4 230.8,511.7 232.0,512.1 233.2,512.6 234.5,513.7 235.8,515.3 237.0,515.8 238.2,516.0 239.5,516.2 240.8,516.3 242.0,516.4 243.2,516.4 244.5,515.9 245.8,514.3 247.0,513.3 248.2,513.1 249.5,512.9 250.8,512.7 252.0,512.6 253.2,512.5 254.5,512.5 255.8,512.4 257.0,512.4 258.2,512.4 259.5,512.3 260.8,512.3 262.0,512.3 263.2,512.3 264.5,512.3 265.8,512.2 267.0,512.2 268.2,511.7 269.5,510.7 270.8,509.5 272.0,508.5 273.2,507.9 274.5,507.3 275.8,506.8 277.0,506.5 278.2,506.4 279.5,506.8 280.8,507.4 282.0,508.0 283.2,508.6 284.5,509.1 285.8,509.7 287.0,510.4 288.2,510.9 289.5,511.3 290.8,511.5 292.0,511.5 293.2,511.6 294.5,511.6 295.8,511.6 297.0,511.6 298.2,511.6 299.5,511.4 300.8,510.9 302.0,510.3 303.2,509.6 304.5,509.0 305.8,508.5 307.0,508.2 308.2,508.0 309.5,507.8 310.8,507.6 312.0,507.4 313.2,507.1 314.5,506.9 315.8,506.5 317.0,506.2 318.2,505.8 319.5,505.4 320.8,504.9 322.0,504.4 323.2,503.8 324.5,503.2 325.8,502.2 327.0,499.0 328.2,496.2 329.5,495.8 330.8,495.5 332.0,495.3 333.2,495.2 334.5,495.1 335.8,495.0 337.0,495.1 338.2,500.0 339.5,500.3 340.8,500.2 342.0,500.2 343.2,500.1 344.5,500.0 345.8,499.9 347.0,499.7 348.2,499.4 349.5,499.0 350.8,498.5 352.0,498.2 353.2,497.9 354.5,497.8 355.8,498.0 357.0,498.4 358.2,498.9 359.5,499.2 360.8,498.8 362.0,493.9 363.2,493.3 364.5,493.4 365.8,493.5 367.0,493.7 368.2,493.9 369.5,494.2 370.8,494.7 372.0,497.4 373.2,501.0 374.5,501.5 375.8,501.9 377.0,502.1 378.2,502.3 379.5,502.5 380.8,502.7 382.0,503.0 383.2,503.4 384.5,503.8 385.8,504.2 387.0,504.5 388.2,504.6 389.5,504.7 390.8,504.8 392.0,504.9 393.2,505.0 394.5,505.0 395.8,505.1 397.0,505.1 398.2,505.0 399.5,500.2 400.8,498.8 402.0,498.9 403.2,499.0 404.5,499.1 405.8,499.3 407.0,499.6 408.2,500.0 409.5,501.6 410.8,505.8 412.0,506.3 413.2,506.3 414.5,506.4 415.8,506.4 417.0,506.5 418.2,506.5 419.5,506.5 420.8,506.5 422.0,506.4 423.2,506.3 424.5,506.1 425.8,505.8 427.0,505.6 428.2,505.4 429.5,505.2 430.8,505.1 432.0,505.1 433.2,505.1 434.5,505.1 435.8,505.1 437.0,504.6 438.2,502.7 439.5,502.2 440.8,502.2 442.0,502.2 443.2,501.1 444.5,498.7 445.8,499.0 447.0,501.3 448.2,502.0 449.5,502.0 450.8,502.1 452.0,502.2 453.2,503.1 454.5,505.4 455.8,506.0 457.0,506.3 458.2,506.4 459.5,506.5 460.8,506.5 462.0,506.2 463.2,505.7 464.5,505.0 465.8,504.3 467.0,503.6 468.2,502.9 469.5,502.4 470.8,501.9 472.0,501.4 473.2,501.0 474.5,500.5 475.8,500.0 477.0,499.5 478.2,499.0 479.5,498.4 480.8,497.9 482.0,497.4 483.2,496.8 484.5,496.2 485.8,495.4 487.0,494.5 488.2,492.9 489.5,490.2 490.8,487.4 492.0,485.5 493.2,484.1 494.5,482.8 495.8,481.6 497.0,480.6 498.2,479.6 499.5,478.6 500.8,477.7 502.0,476.8 503.2,475.8 504.5,475.1 505.8,474.3 507.0,473.6 508.2,472.9 509.5,472.2 510.8,471.3 512.0,470.3 513.2,469.1 514.5,467.2 515.8,465.1 517.0,463.8 518.2,462.6 519.5,461.5 520.8,460.6 522.0,459.8 523.2,459.3 524.5,459.0 525.8,458.8 527.0,458.8 528.2,459.0 529.5,459.2 530.8,459.4 532.0,459.6 533.2,459.8 534.5,459.8 535.8,458.8 537.0,457.0 538.2,455.2 539.5,454.0 540.8,453.6 542.0,453.4 543.2,453.2 544.5,453.1 545.8,452.9 547.0,452.8 548.2,452.7 549.5,452.5 550.8,452.3 552.0,452.2 553.2,452.0 554.5,451.7 555.8,450.8 557.0,449.4 558.2,448.2 559.5,447.6 560.8,447.0 562.0,446.5 563.2,446.1 564.5,445.7 565.8,445.5 567.0,445.6 568.2,446.9 569.5,449.1 570.8,453.5 572.0,457.5 573.2,458.7 574.5,459.3 575.8,459.0 577.0,458.2 578.2,457.0 579.5,455.6 580.8,454.2 582.0,453.1 583.2,452.4 584.5,452.0 585.8,451.7 587.0,451.5 588.2,451.1 589.5,450.6 590.8,449.2 592.0,444.3 593.2,439.5 594.5,437.3 595.8,435.9 597.0,434.9 598.2,434.1 599.5,433.5 600.8,433.0 602.0,432.5 603.2,432.0 604.5,431.6 605.8,431.3 607.0,431.2 608.2,431.4 609.5,431.7 610.8,431.9 612.0,431.3 613.2,429.6 614.5,427.8 615.8,426.6 617.0,425.5 618.2,424.5 619.5,423.9 620.8,423.9 622.0,424.2 623.2,424.6 624.5,425.1 625.8,425.7 627.0,426.3 628.2,427.1 629.5,428.2 630.8,429.4 632.0,430.8 633.2,432.4 634.5,434.5 635.8,436.7 637.0,438.7 638.2,440.2 639.5,441.4 640.8,442.5 642.0,443.4 642.5,443.7 642.5,447.4 642.0,447.1 640.8,446.3 639.5,445.2 638.2,444.0 637.0,442.5 635.8,440.6 634.5,438.4 633.2,436.4 632.0,434.9 630.8,433.5 629.5,432.3 628.2,431.3 627.0,430.6 625.8,430.1 624.5,429.7 623.2,429.4 622.0,429.1 620.8,429.0 619.5,429.0 618.2,429.6 617.0,430.6 615.8,431.8 614.5,433.1 613.2,435.1 612.0,437.1 610.8,437.8 609.5,437.4 608.2,436.8 607.0,436.5 605.8,436.6 604.5,436.8 603.2,437.2 602.0,437.6 600.8,438.0 599.5,438.4 598.2,438.8 597.0,439.4 595.8,440.1 594.5,441.4 593.2,443.6 592.0,450.5 590.8,457.6 589.5,459.3 588.2,459.7 587.0,460.0 585.8,460.2 584.5,460.4 583.2,460.7 582.0,461.4 580.8,462.5 579.5,463.9 578.2,465.4 577.0,466.7 575.8,467.6 574.5,467.9 573.2,467.3 572.0,466.2 570.8,462.5 569.5,458.5 568.2,456.6 567.0,455.4 565.8,455.4 564.5,455.7 563.2,456.2 562.0,456.8 560.8,457.5 559.5,458.2 558.2,458.9 557.0,459.8 555.8,460.8 554.5,461.5 553.2,461.9 552.0,462.2 550.8,462.5 549.5,462.8 548.2,463.1 547.0,463.4 545.8,463.7 544.5,464.0 543.2,464.3 542.0,464.6 540.8,465.1 539.5,465.6 538.2,466.6 537.0,468.0 535.8,469.4 534.5,470.2 533.2,470.3 532.0,470.5 530.8,470.5 529.5,470.6 528.2,470.7 527.0,470.8 525.8,470.9 524.5,471.3 523.2,471.8 522.0,472.4 520.8,473.2 519.5,474.1 518.2,475.0 517.0,476.1 515.8,477.4 514.5,479.1 513.2,480.8 512.0,482.1 510.8,483.1 509.5,484.1 508.2,485.0 507.0,485.8 505.8,486.6 504.5,487.4 503.2,488.3 502.0,489.3 500.8,490.2 499.5,491.2 498.2,492.1 497.0,493.1 495.8,494.1 494.5,495.2 493.2,496.4 492.0,497.8 490.8,499.4 489.5,501.7 488.2,504.0 487.0,505.6 485.8,506.8 484.5,507.9 483.2,508.8 482.0,509.6 480.8,510.5 479.5,511.3 478.2,512.2 477.0,513.2 475.8,514.2 474.5,515.2 473.2,516.2 472.0,517.2 470.8,518.1 469.5,518.9 468.2,519.7 467.0,520.5 465.8,521.2 464.5,521.9 463.2,522.5 462.0,523.0 460.8,523.5 459.5,523.9 458.2,524.2 457.0,524.5 455.8,524.7 454.5,524.3 453.2,522.3 452.0,521.6 450.8,521.6 449.5,521.6 448.2,521.6 447.0,521.2 445.8,519.7 444.5,519.6 443.2,521.7 442.0,523.0 440.8,523.3 439.5,523.5 438.2,523.9 437.0,524.7 435.8,525.2 434.5,525.6 433.2,525.9 432.0,526.2 430.8,526.6 429.5,527.0 428.2,527.4 427.0,527.9 425.8,528.3 424.5,528.7 423.2,529.1 422.0,529.4 420.8,529.6 419.5,529.8 418.2,529.9 417.0,530.0 415.8,530.1 414.5,530.2 413.2,530.3 412.0,530.3 410.8,529.9 409.5,524.8 408.2,522.5 407.0,521.7 405.8,521.1 404.5,520.6 403.2,520.3 402.0,520.0 400.8,519.9 399.5,521.0 398.2,524.9 397.0,525.0 395.8,524.9 394.5,524.8 393.2,524.6 392.0,524.4 390.8,524.1 389.5,523.9 388.2,523.7 387.0,523.3 385.8,522.9 384.5,522.4 383.2,521.9 382.0,521.5 380.8,521.2 379.5,521.1 378.2,521.0 377.0,520.9 375.8,520.8 374.5,520.6 373.2,520.3 372.0,517.7 370.8,515.4 369.5,514.8 368.2,514.2 367.0,513.8 365.8,513.5 364.5,513.3 363.2,513.2 362.0,513.7 360.8,517.2 359.5,517.5 358.2,517.2 357.0,516.8 355.8,516.4 354.5,516.2 353.2,516.2 352.0,516.2 350.8,516.2 349.5,516.2 348.2,516.2 347.0,516.2 345.8,516.2 344.5,516.2 343.2,516.1 342.0,516.0 340.8,515.8 339.5,515.6 338.2,515.0 337.0,511.3 335.8,511.3 334.5,511.4 333.2,511.6 332.0,511.8 330.8,512.1 329.5,512.5 328.2,513.0 327.0,515.6 325.8,517.8 324.5,518.1 323.2,518.3 322.0,518.5 320.8,518.7 319.5,518.8 318.2,518.9 317.0,519.0 315.8,519.1 314.5,519.2 313.2,519.4 312.0,519.4 310.8,519.5 309.5,519.6 308.2,519.7 307.0,519.8 305.8,519.9 304.5,520.2 303.2,520.5 302.0,520.9 300.8,521.2 299.5,521.5 298.2,521.6 297.0,521.6 295.8,521.4 294.5,521.2 293.2,521.0 292.0,520.7 290.8,520.5 289.5,520.3 288.2,520.0 287.0,519.7 285.8,519.4 284.5,519.2 283.2,519.0 282.0,518.9 280.8,519.0 279.5,519.5 278.2,520.0 277.0,520.5 275.8,521.3 274.5,522.1 273.2,522.9 272.0,523.4 270.8,523.6 269.5,523.4 268.2,523.0 267.0,522.6 265.8,522.2 264.5,521.8 263.2,521.3 262.0,520.8 260.8,520.4 259.5,520.0 258.2,519.7 257.0,519.5 255.8,519.5 254.5,519.5 253.2,519.5 252.0,519.5 250.8,519.5 249.5,519.5 248.2,519.5 247.0,519.5 245.8,519.9 244.5,520.6 243.2,520.9 242.0,520.7 240.8,520.4 239.5,520.0 238.2,519.4 237.0,518.7 235.8,517.8 234.5,515.8 233.2,514.5 232.0,513.8 230.8,513.2 229.5,512.8 228.2,512.4 227.0,512.1 225.8,511.8 224.5,511.5 223.2,511.2 222.0,510.9 220.8,510.5 219.5,510.1 218.2,509.6 217.0,509.2 215.8,508.7 214.5,508.2 213.2,507.7 212.0,507.2 210.8,506.7 209.5,506.1 208.2,505.6 207.0,505.0 205.8,504.4 204.5,503.8 203.2,503.2 202.0,502.5 200.8,501.8 199.5,501.1 198.2,500.2 197.0,499.2 195.8,498.5 194.5,497.8 193.2,497.3 192.0,496.7 190.8,496.0 189.5,495.1 188.2,494.1 187.0,493.4 185.8,493.2 184.5,493.0 183.2,492.7 182.0,492.3 180.8,491.9 179.5,491.7 178.2,491.4 177.0,491.0 175.8,490.3 174.5,489.8 173.2,489.6 172.0,489.4 170.8,489.1 169.5,488.8 168.2,488.6 167.0,488.7 165.8,489.0 164.5,489.7 163.2,490.6 162.0,492.1 160.8,494.2 159.5,496.5 158.2,498.9 157.0,501.7 155.8,504.5 154.5,507.4 153.2,510.0 152.0,512.6 150.8,515.2 149.5,517.8 148.2,520.6 147.0,523.4 145.8,526.2 144.5,528.7 143.2,531.0 142.0,533.3 140.8,535.4 139.5,537.3 138.2,539.1 137.0,540.7 135.8,542.3 134.5,543.7 133.2,544.9 132.0,545.9 130.8,546.9 129.5,547.8 128.2,548.5 127.0,549.2 125.8,549.7 124.5,550.1 123.2,550.4 122.0,550.7 120.8,551.0 119.5,551.3 118.2,551.6 117.0,551.8 115.8,552.0 114.5,552.1 113.2,552.2 112.0,552.2Z" fill="#dedede" stroke="none"/>
<path d="M112.0,552.2 113.2,552.2 114.5,552.1 115.8,552.0 117.0,551.8 118.2,551.6 119.5,551.3 120.8,551.0 122.0,550.7 123.2,550.4 124.5,550.1 125.8,549.7 127.0,549.2 128.2,548.5 129.5,547.8 130.8,546.9 132.0,545.9 133.2,544.9 134.5,543.7 135.8,542.3 137.0,540.7 138.2,539.1 139.5,537.3 140.8,535.4 142.0,533.3 143.2,531.0 144.5,528.7 145.8,526.2 147.0,523.4 148.2,520.6 149.5,517.8 150.8,515.2 152.0,512.6 153.2,510.0 154.5,507.4 155.8,504.5 157.0,501.7 158.2,498.9 159.5,496.5 160.8,494.2 162.0,492.1 163.2,490.6 164.5,489.7 165.8,489.0 167.0,488.7 168.2,488.6 169.5,488.8 170.8,489.1 172.0,489.4 173.2,489.6 174.5,489.8 175.8,490.3 177.0,491.0 178.2,491.4 179.5,491.7 180.8,491.9 182.0,492.3 183.2,492.7 184.5,493.0 185.8,493.2 187.0,493.4 188.2,494.1 189.5,495.1 190.8,496.0 192.0,496.7 193.2,497.3 194.5,497.8 195.8,498.5 197.0,499.2 198.2,500.2 199.5,501.1 200.8,501.8 202.0,502.5 203.2,503.2 204.5,503.8 205.8,504.4 207.0,505.0 208.2,505.6 209.5,506.1 210.8,506.7 212.0,507.2 213.2,507.7 214.5,508.2 215.8,508.7 217.0,509.2 218.2,509.6 219.5,510.1 220.8,510.5 222.0,510.9 223.2,511.2 224.5,511.5 225.8,511.8 227.0,512.1 228.2,512.4 229.5,512.8 230.8,513.2 232.0,513.8 233.2,514.5 234.5,515.8 235.8,517.8 237.0,518.7 238.2,519.4 239.5,520.0 240.8,520.4 242.0,520.7 243.2,520.9 244.5,520.6 245.8,519.9 247.0,519.5 248.2,519.5 249.5,519.5 250.8,519.5 252.0,519.5 253.2,519.5 254.5,519.5 255.8,519.5 257.0,519.5 258.2,519.7 259.5,520.0 260.8,520.4 262.0,520.8 263.2,521.3 264.5,521.8 265.8,522.2 267.0,522.6 268.2,523.0 269.5,523.4 270.8,523.6 272.0,523.4 273.2,522.9 274.5,522.1 275.8,521.3 277.0,520.5 278.2,520.0 279.5,519.5 280.8,519.0 282.0,518.9 283.2,519.0 284.5,519.2 285.8,519.4 287.0,519.7 288.2,520.0 289.5,520.3 290.8,520.5 292.0,520.7 293.2,521.0 294.5,521.2 295.8,521.4 297.0,521.6 298.2,521.6 299.5,521.5 300.8,521.2 302.0,520.9 303.2,520.5 304.5,520.2 305.8,519.9 307.0,519.8 308.2,519.7 309.5,519.6 310.8,519.5 312.0,519.4 313.2,519.4 314.5,519.2 315.8,519.1 317.0,519.0 318.2,518.9 319.5,518.8 320.8,518.7 322.0,518.5 323.2,518.3 324.5,518.1 325.8,517.8 327.0,515.6 328.2,513.0 329.5,512.5 330.8,512.1 332.0,511.8 333.2,511.6 334.5,511.4 335.8,511.3 337.0,511.3 338.2,515.0 339.5,515.6 340.8,515.8 342.0,516.0 343.2,516.1 344.5,516.2 345.8,516.2 347.0,516.2 348.2,516.2 349.5,516.2 350.8,516.2 352.0,516.2 353.2,516.2 354.5,516.2 355.8,516.4 357.0,516.8 358.2,517.2 359.5,517.5 360.8,517.2 362.0,513.7 363.2,513.2 364.5,513.3 365.8,513.5 367.0,513.8 368.2,514.2 369.5,514.8 370.8,515.4 372.0,517.7 373.2,520.3 374.5,520.6 375.8,520.8 377.0,520.9 378.2,521.0 379.5,521.1 380.8,521.2 382.0,521.5 383.2,521.9 384.5,522.4 385.8,522.9 387.0,523.3 388.2,523.7 389.5,523.9 390.8,524.1 392.0,524.4 393.2,524.6 394.5,524.8 395.8,524.9 397.0,525.0 398.2,524.9 399.5,521.0 400.8,519.9 402.0,520.0 403.2,520.3 404.5,520.6 405.8,521.1 407.0,521.7 408.2,522.5 409.5,524.8 410.8,529.9 412.0,530.3 413.2,530.3 414.5,530.2 415.8,530.1 417.0,530.0 418.2,529.9 419.5,529.8 420.8,529.6 422.0,529.4 423.2,529.1 424.5,528.7 425.8,528.3 427.0,527.9 428.2,527.4 429.5,527.0 430.8,526.6 432.0,526.2 433.2,525.9 434.5,525.6 435.8,525.2 437.0,524.7 438.2,523.9 439.5,523.5 440.8,523.3 442.0,523.0 443.2,521.7 444.5,519.6 445.8,519.7 447.0,521.2 448.2,521.6 449.5,521.6 450.8,521.6 452.0,521.6 453.2,522.3 454.5,524.3 455.8,524.7 457.0,524.5 458.2,524.2 459.5,523.9 460.8,523.5 462.0,523.0 463.2,522.5 464.5,521.9 465.8,521.2 467.0,520.5 468.2,519.7 469.5,518.9 470.8,518.1 472.0,517.2 473.2,516.2 474.5,515.2 475.8,514.2 477.0,513.2 478.2,512.2 479.5,511.3 480.8,510.5 482.0,509.6 483.2,508.8 484.5,507.9 485.8,506.8 487.0,505.6 488.2,504.0 489.5,501.7 490.8,499.4 492.0,497.8 493.2,496.4 494.5,495.2 495.8,494.1 497.0,493.1 498.2,492.1 499.5,491.2 500.8,490.2 502.0,489.3 503.2,488.3 504.5,487.4 505.8,486.6 507.0,485.8 508.2,485.0 509.5,484.1 510.8,483.1 512.0,482.1 513.2,480.8 514.5,479.1 515.8,477.4 517.0,476.1 518.2,475.0 519.5,474.1 520.8,473.2 522.0,472.4 523.2,471.8 524.5,471.3 525.8,470.9 527.0,470.8 528.2,470.7 529.5,470.6 530.8,470.5 532.0,470.5 533.2,470.3 534.5,470.2 535.8,469.4 537.0,468.0 538.2,466.6 539.5,465.6 540.8,465.1 542.0,464.6 543.2,464.3 544.5,464.0 545.8,463.7 547.0,463.4 548.2,463.1 549.5,462.8 550.8,462.5 552.0,462.2 553.2,461.9 554.5,461.5 555.8,460.8 557.0,459.8 558.2,458.9 559.5,458.2 560.8,457.5 562.0,456.8 563.2,456.2 564.5,455.7 565.8,455.4 567.0,455.4 568.2,456.6 569.5,458.5 570.8,462.5 572.0,466.2 573.2,467.3 574.5,467.9 575.8,467.6 577.0,466.7 578.2,465.4 579.5,463.9 580.8,462.5 582.0,461.4 583.2,460.7 584.5,460.4 585.8,460.2 587.0,460.0 588.2,459.7 589.5,459.3 590.8,457.6 592.0,450.5 593.2,443.6 594.5,441.4 595.8,440.1 597.0,439.4 598.2,438.8 599.5,438.4 600.8,438.0 602.0,437.6 603.2,437.2 604.5,436.8 605.8,436.6 607.0,436.5 608.2,436.8 609.5,437.4 610.8,437.8 612.0,437.1 613.2,435.1 614.5,433.1 615.8,431.8 617.0,430.6 618.2,429.6 619.5,429.0 620.8,429.0 622.0,429.1 623.2,429.4 624.5,429.7 625.8,430.1 627.0,430.6 628.2,431.3 629.5,432.3 630.8,433.5 632.0,434.9 633.2,436.4 634.5,438.4 635.8,440.6 637.0,442.5 638.2,444.0 639.5,445.2 640.8,446.3 642.0,447.1 642.5,447.4 642.5,453.4 642.0,453.3 640.8,453.0 639.5,452.6 638.2,452.0 637.0,451.3 635.8,450.3 634.5,449.1 633.2,448.0 632.0,447.1 630.8,446.3 629.5,445.5 628.2,444.8 627.0,444.2 625.8,443.6 624.5,443.0 623.2,442.4 622.0,442.0 620.8,441.7 619.5,441.7 618.2,442.5 617.0,444.0 615.8,445.6 614.5,446.9 613.2,448.5 612.0,449.9 610.8,450.4 609.5,450.1 608.2,449.5 607.0,449.2 605.8,449.2 604.5,449.4 603.2,449.7 602.0,450.0 600.8,450.3 599.5,450.6 598.2,451.1 597.0,451.6 595.8,452.1 594.5,452.6 593.2,453.7 592.0,460.1 590.8,467.2 589.5,468.4 588.2,468.6 587.0,468.7 585.8,468.7 584.5,468.8 583.2,468.9 582.0,469.3 580.8,470.2 579.5,471.5 578.2,472.9 577.0,474.2 575.8,475.1 574.5,475.4 573.2,474.5 572.0,472.8 570.8,469.2 569.5,465.2 568.2,462.8 567.0,461.1 565.8,461.0 564.5,461.2 563.2,461.5 562.0,461.9 560.8,462.4 559.5,462.8 558.2,463.3 557.0,463.9 555.8,464.5 554.5,465.1 553.2,465.5 552.0,465.9 550.8,466.2 549.5,466.5 548.2,466.7 547.0,466.9 545.8,467.1 544.5,467.3 543.2,467.4 542.0,467.6 540.8,467.9 539.5,468.3 538.2,469.2 537.0,470.6 535.8,472.0 534.5,472.9 533.2,473.0 532.0,473.2 530.8,473.2 529.5,473.3 528.2,473.4 527.0,473.5 525.8,473.6 524.5,473.9 523.2,474.4 522.0,474.9 520.8,475.7 519.5,476.5 518.2,477.4 517.0,478.5 515.8,479.6 514.5,481.2 513.2,482.9 512.0,484.1 510.8,485.1 509.5,486.1 508.2,487.0 507.0,487.8 505.8,488.6 504.5,489.5 503.2,490.4 502.0,491.4 500.8,492.3 499.5,493.3 498.2,494.2 497.0,495.2 495.8,496.2 494.5,497.3 493.2,498.5 492.0,499.8 490.8,501.4 489.5,503.7 488.2,506.0 487.0,507.6 485.8,508.8 484.5,509.9 483.2,510.8 482.0,511.6 480.8,512.5 479.5,513.3 478.2,514.2 477.0,515.2 475.8,516.2 474.5,517.2 473.2,518.2 472.0,519.2 470.8,520.1 469.5,520.9 468.2,521.7 467.0,522.5 465.8,523.2 464.5,523.9 463.2,524.5 462.0,525.1 460.8,525.5 459.5,525.8 458.2,526.2 457.0,526.4 455.8,526.6 454.5,526.2 453.2,524.3 452.0,523.6 450.8,523.5 449.5,523.5 448.2,523.4 447.0,522.9 445.8,521.4 444.5,521.2 443.2,523.2 442.0,524.4 440.8,524.7 439.5,524.9 438.2,525.3 437.0,526.0 435.8,526.5 434.5,527.0 433.2,527.4 432.0,527.8 430.8,528.2 429.5,528.7 428.2,529.3 427.0,529.8 425.8,530.3 424.5,530.8 423.2,531.3 422.0,531.6 420.8,531.8 419.5,532.0 418.2,532.0 417.0,532.1 415.8,532.2 414.5,532.2 413.2,532.3 412.0,532.3 410.8,531.9 409.5,526.8 408.2,524.6 407.0,523.9 405.8,523.4 404.5,522.9 403.2,522.6 402.0,522.4 400.8,522.3 399.5,523.7 398.2,528.7 397.0,528.8 395.8,528.7 394.5,528.5 393.2,528.3 392.0,528.0 390.8,527.8 389.5,527.5 388.2,527.2 387.0,527.0 385.8,526.6 384.5,526.2 383.2,525.8 382.0,525.5 380.8,525.5 379.5,525.5 378.2,525.5 377.0,525.5 375.8,525.5 374.5,525.5 373.2,525.5 372.0,522.9 370.8,520.7 369.5,520.2 368.2,519.9 367.0,519.6 365.8,519.4 364.5,519.3 363.2,519.2 362.0,519.7 360.8,523.7 359.5,524.0 358.2,523.7 357.0,523.3 355.8,523.0 354.5,522.8 353.2,522.8 352.0,522.8 350.8,522.8 349.5,522.8 348.2,522.8 347.0,522.8 345.8,522.8 344.5,522.8 343.2,522.7 342.0,522.6 340.8,522.4 339.5,522.2 338.2,521.5 337.0,517.1 335.8,517.0 334.5,517.1 333.2,517.2 332.0,517.4 330.8,517.6 329.5,517.9 328.2,518.3 327.0,520.1 325.8,521.7 324.5,521.9 323.2,522.1 322.0,522.3 320.8,522.5 319.5,522.6 318.2,522.8 317.0,522.9 315.8,523.0 314.5,523.1 313.2,523.3 312.0,523.4 310.8,523.5 309.5,523.7 308.2,523.8 307.0,524.0 305.8,524.2 304.5,524.4 303.2,524.8 302.0,525.2 300.8,525.5 299.5,525.8 298.2,525.9 297.0,525.9 295.8,525.7 294.5,525.5 293.2,525.2 292.0,524.9 290.8,524.6 289.5,524.2 288.2,523.7 287.0,523.2 285.8,522.6 284.5,522.1 283.2,521.8 282.0,521.6 280.8,521.8 279.5,522.5 278.2,523.3 277.0,523.9 275.8,524.6 274.5,525.2 273.2,525.7 272.0,526.1 270.8,526.2 269.5,525.9 268.2,525.4 267.0,524.9 265.8,524.5 264.5,524.0 263.2,523.6 262.0,523.1 260.8,522.7 259.5,522.3 258.2,522.0 257.0,521.7 255.8,521.5 254.5,521.4 253.2,521.3 252.0,521.1 250.8,521.0 249.5,521.0 248.2,520.9 247.0,520.9 245.8,521.4 244.5,522.3 243.2,522.6 242.0,522.3 240.8,521.8 239.5,521.0 238.2,520.1 237.0,519.1 235.8,518.2 234.5,517.4 233.2,516.8 232.0,516.3 230.8,515.8 229.5,515.3 228.2,514.9 227.0,514.4 225.8,514.0 224.5,513.6 223.2,513.2 222.0,512.7 220.8,512.3 219.5,511.8 218.2,511.3 217.0,510.8 215.8,510.2 214.5,509.7 213.2,509.2 212.0,508.6 210.8,508.1 209.5,507.5 208.2,507.0 207.0,506.4 205.8,505.8 204.5,505.2 203.2,504.5 202.0,503.9 200.8,503.2 199.5,502.5 198.2,501.7 197.0,500.9 195.8,500.2 194.5,499.5 193.2,498.9 192.0,498.3 190.8,497.6 189.5,496.7 188.2,495.7 187.0,494.9 185.8,494.4 184.5,494.1 183.2,493.7 182.0,493.3 180.8,492.9 179.5,492.7 178.2,492.4 177.0,492.1 175.8,491.6 174.5,491.2 173.2,491.1 172.0,490.9 170.8,490.7 169.5,490.5 168.2,490.3 167.0,490.3 165.8,490.7 164.5,491.3 163.2,492.0 162.0,493.4 160.8,495.3 159.5,497.4 158.2,499.7 157.0,502.3 155.8,505.1 154.5,507.9 153.2,510.5 152.0,513.1 150.8,515.7 149.5,518.4 148.2,521.0 147.0,523.8 145.8,526.5 144.5,529.0 143.2,531.3 142.0,533.6 140.8,535.7 139.5,537.6 138.2,539.4 137.0,541.0 135.8,542.6 134.5,544.0 133.2,545.2 132.0,546.2 130.8,547.2 129.5,548.0 128.2,548.8 127.0,549.4 125.8,549.9 124.5,550.2 123.2,550.6 122.0,550.9 120.8,551.2 119.5,551.4 118.2,551.6 117.0,551.8 115.8,552.0 114.5,552.1 113.2,552.2 112.0,552.2Z" fill="#c4c4c4" stroke="none"/>
<path d="M112.0,552.2 113.2,552.2 114.5,552.1 115.8,552.0 117.0,551.8 118.2,551.6 119.5,551.4 120.8,551.2 122.0,550.9 123.2,550.6 124.5,550.2 125.8,549.9 127.0,549.4 128.2,548.8 129.5,548.0 130.8,547.2 132.0,546.2 133.2,545.2 134.5,544.0 135.8,542.6 137.0,541.0 138.2,539.4 139.5,537.6 140.8,535.7 142.0,533.6 143.2,531.3 144.5,529.0 145.8,526.5 147.0,523.8 148.2,521.0 149.5,518.4 150.8,515.7 152.0,513.1 153.2,510.5 154.5,507.9 155.8,505.1 157.0,502.3 158.2,499.7 159.5,497.4 160.8,495.3 162.0,493.4 163.2,492.0 164.5,491.3 165.8,490.7 167.0,490.3 168.2,490.3 169.5,490.5 170.8,490.7 172.0,490.9 173.2,491.1 174.5,491.2 175.8,491.6 177.0,492.1 178.2,492.4 179.5,492.7 180.8,492.9 182.0,493.3 183.2,493.7 184.5,494.1 185.8,494.4 187.0,494.9 188.2,495.7 189.5,496.7 190.8,497.6 192.0,498.3 193.2,498.9 194.5,499.5 195.8,500.2 197.0,500.9 198.2,501.7 199.5,502.5 200.8,503.2 202.0,503.9 203.2,504.5 204.5,505.2 205.8,505.8 207.0,506.4 208.2,507.0 209.5,507.5 210.8,508.1 212.0,508.6 213.2,509.2 214.5,509.7 215.8,510.2 217.0,510.8 218.2,511.3 219.5,511.8 220.8,512.3 222.0,512.7 223.2,513.2 224.5,513.6 225.8,514.0 227.0,514.4 228.2,514.9 229.5,515.3 230.8,515.8 232.0,516.3 233.2,516.8 234.5,517.4 235.8,518.2 237.0,519.1 238.2,520.1 239.5,521.0 240.8,521.8 242.0,522.3 243.2,522.6 244.5,522.3 245.8,521.4 247.0,520.9 248.2,520.9 249.5,521.0 250.8,521.0 252.0,521.1 253.2,521.3 254.5,521.4 255.8,521.5 257.0,521.7 258.2,522.0 259.5,522.3 260.8,522.7 262.0,523.1 263.2,523.6 264.5,524.0 265.8,524.5 267.0,524.9 268.2,525.4 269.5,525.9 270.8,526.2 272.0,526.1 273.2,525.7 274.5,525.2 275.8,524.6 277.0,523.9 278.2,523.3 279.5,522.5 280.8,521.8 282.0,521.6 283.2,521.8 284.5,522.1 285.8,522.6 287.0,523.2 288.2,523.7 289.5,524.2 290.8,524.6 292.0,524.9 293.2,525.2 294.5,525.5 295.8,525.7 297.0,525.9 298.2,525.9 299.5,525.8 300.8,525.5 302.0,525.2 303.2,524.8 304.5,524.4 305.8,524.2 307.0,524.0 308.2,523.8 309.5,523.7 310.8,523.5 312.0,523.4 313.2,523.3 314.5,523.1 315.8,523.0 317.0,522.9 318.2,522.8 319.5,522.6 320.8,522.5 322.0,522.3 323.2,522.1 324.5,521.9 325.8,521.7 327.0,520.1 328.2,518.3 329.5,517.9 330.8,517.6 332.0,517.4 333.2,517.2 334.5,517.1 335.8,517.0 337.0,517.1 338.2,521.5 339.5,522.2 340.8,522.4 342.0,522.6 343.2,522.7 344.5,522.8 345.8,522.8 347.0,522.8 348.2,522.8 349.5,522.8 350.8,522.8 352.0,522.8 353.2,522.8 354.5,522.8 355.8,523.0 357.0,523.3 358.2,523.7 359.5,524.0 360.8,523.7 362.0,519.7 363.2,519.2 364.5,519.3 365.8,519.4 367.0,519.6 368.2,519.9 369.5,520.2 370.8,520.7 372.0,522.9 373.2,525.5 374.5,525.5 375.8,525.5 377.0,525.5 378.2,525.5 379.5,525.5 380.8,525.5 382.0,525.5 383.2,525.8 384.5,526.2 385.8,526.6 387.0,527.0 388.2,527.2 389.5,527.5 390.8,527.8 392.0,528.0 393.2,528.3 394.5,528.5 395.8,528.7 397.0,528.8 398.2,528.7 399.5,523.7 400.8,522.3 402.0,522.4 403.2,522.6 404.5,522.9 405.8,523.4 407.0,523.9 408.2,524.6 409.5,526.8 410.8,531.9 412.0,532.3 413.2,532.3 414.5,532.2 415.8,532.2 417.0,532.1 418.2,532.0 419.5,532.0 420.8,531.8 422.0,531.6 423.2,531.3 424.5,530.8 425.8,530.3 427.0,529.8 428.2,529.3 429.5,528.7 430.8,528.2 432.0,527.8 433.2,527.4 434.5,527.0 435.8,526.5 437.0,526.0 438.2,525.3 439.5,524.9 440.8,524.7 442.0,524.4 443.2,523.2 444.5,521.2 445.8,521.4 447.0,522.9 448.2,523.4 449.5,523.5 450.8,523.5 452.0,523.6 453.2,524.3 454.5,526.2 455.8,526.6 457.0,526.4 458.2,526.2 459.5,525.8 460.8,525.5 462.0,525.1 463.2,524.5 464.5,523.9 465.8,523.2 467.0,522.5 468.2,521.7 469.5,520.9 470.8,520.1 472.0,519.2 473.2,518.2 474.5,517.2 475.8,516.2 477.0,515.2 478.2,514.2 479.5,513.3 480.8,512.5 482.0,511.6 483.2,510.8 484.5,509.9 485.8,508.8 487.0,507.6 488.2,506.0 489.5,503.7 490.8,501.4 492.0,499.8 493.2,498.5 494.5,497.3 495.8,496.2 497.0,495.2 498.2,494.2 499.5,493.3 500.8,492.3 502.0,491.4 503.2,490.4 504.5,489.5 505.8,488.6 507.0,487.8 508.2,487.0 509.5,486.1 510.8,485.1 512.0,484.1 513.2,482.9 514.5,481.2 515.8,479.6 517.0,478.5 518.2,477.4 519.5,476.5 520.8,475.7 522.0,474.9 523.2,474.4 524.5,473.9 525.8,473.6 527.0,473.5 528.2,473.4 529.5,473.3 530.8,473.2 532.0,473.2 533.2,473.0 534.5,472.9 535.8,472.0 537.0,470.6 538.2,469.2 539.5,468.3 540.8,467.9 542.0,467.6 543.2,467.4 544.5,467.3 545.8,467.1 547.0,466.9 548.2,466.7 549.5,466.5 550.8,466.2 552.0,465.9 553.2,465.5 554.5,465.1 555.8,464.5 557.0,463.9 558.2,463.3 559.5,462.8 560.8,462.4 562.0,461.9 563.2,461.5 564.5,461.2 565.8,461.0 567.0,461.1 568.2,462.8 569.5,465.2 570.8,469.2 572.0,472.8 573.2,474.5 574.5,475.4 575.8,475.1 577.0,474.2 578.2,472.9 579.5,471.5 580.8,470.2 582.0,469.3 583.2,468.9 584.5,468.8 585.8,468.7 587.0,468.7 588.2,468.6 589.5,468.4 590.8,467.2 592.0,460.1 593.2,453.7 594.5,452.6 595.8,452.1 597.0,451.6 598.2,451.1 599.5,450.6 600.8,450.3 602.0,450.0 603.2,449.7 604.5,449.4 605.8,449.2 607.0,449.2 608.2,449.5 609.5,450.1 610.8,450.4 612.0,449.9 613.2,448.5 614.5,446.9 615.8,445.6 617.0,444.0 618.2,442.5 619.5,441.7 620.8,441.7 622.0,442.0 623.2,442.4 624.5,443.0 625.8,443.6 627.0,444.2 628.2,444.8 629.5,445.5 630.8,446.3 632.0,447.1 633.2,448.0 634.5,449.1 635.8,450.3 637.0,451.3 638.2,452.0 639.5,452.6 640.8,453.0 642.0,453.3 642.5,453.4 642.5,460.9 642.0,460.8 640.8,460.6 639.5,460.2 638.2,459.8 637.0,459.3 635.8,458.5 634.5,457.7 633.2,456.8 632.0,455.9 630.8,455.1 629.5,454.3 628.2,453.5 627.0,452.9 625.8,452.4 624.5,451.9 623.2,451.5 622.0,451.1 620.8,450.9 619.5,450.9 618.2,451.6 617.0,452.8 615.8,454.2 614.5,455.4 613.2,456.9 612.0,458.2 610.8,458.7 609.5,458.4 608.2,458.0 607.0,457.7 605.8,457.7 604.5,457.7 603.2,457.7 602.0,457.8 600.8,457.8 599.5,458.0 598.2,458.3 597.0,458.6 595.8,459.1 594.5,459.9 593.2,461.4 592.0,467.7 590.8,474.6 589.5,475.9 588.2,476.2 587.0,476.4 585.8,476.5 584.5,476.7 583.2,476.9 582.0,477.4 580.8,478.3 579.5,479.5 578.2,480.9 577.0,482.0 575.8,482.9 574.5,483.1 573.2,482.6 572.0,481.6 570.8,477.6 569.5,473.2 568.2,471.2 567.0,470.0 565.8,469.9 564.5,470.1 563.2,470.3 562.0,470.6 560.8,470.9 559.5,471.3 558.2,471.7 557.0,472.2 555.8,472.9 554.5,473.6 553.2,474.6 552.0,475.7 550.8,476.8 549.5,477.6 548.2,478.1 547.0,478.4 545.8,478.7 544.5,479.0 543.2,479.2 542.0,479.5 540.8,479.9 539.5,480.4 538.2,481.3 537.0,482.5 535.8,483.8 534.5,484.9 533.2,485.6 532.0,486.3 530.8,487.0 529.5,487.5 528.2,488.1 527.0,488.6 525.8,489.1 524.5,489.4 523.2,489.9 522.0,490.5 520.8,491.3 519.5,492.1 518.2,493.1 517.0,494.0 515.8,495.0 514.5,496.2 513.2,497.4 512.0,498.5 510.8,499.7 509.5,500.8 508.2,502.0 507.0,503.2 505.8,504.3 504.5,505.5 503.2,506.6 502.0,507.7 500.8,508.8 499.5,509.8 498.2,510.8 497.0,511.9 495.8,512.9 494.5,513.9 493.2,515.0 492.0,516.1 490.8,517.2 489.5,518.6 488.2,519.9 487.0,521.0 485.8,522.0 484.5,522.9 483.2,523.8 482.0,524.6 480.8,525.4 479.5,526.2 478.2,527.0 477.0,527.7 475.8,528.4 474.5,529.1 473.2,529.8 472.0,530.4 470.8,531.0 469.5,531.6 468.2,532.2 467.0,532.8 465.8,533.4 464.5,534.0 463.2,534.5 462.0,535.0 460.8,535.3 459.5,535.6 458.2,535.8 457.0,536.0 455.8,536.1 454.5,535.8 453.2,534.2 452.0,533.2 450.8,532.8 449.5,532.6 448.2,532.2 447.0,531.5 445.8,530.1 444.5,530.0 443.2,531.6 442.0,532.9 440.8,533.4 439.5,533.8 438.2,534.3 437.0,534.9 435.8,535.2 434.5,535.5 433.2,535.8 432.0,536.0 430.8,536.3 429.5,536.7 428.2,537.2 427.0,537.7 425.8,538.1 424.5,538.6 423.2,539.0 422.0,539.2 420.8,539.4 419.5,539.4 418.2,539.4 417.0,539.3 415.8,539.3 414.5,539.2 413.2,539.0 412.0,538.9 410.8,538.3 409.5,534.1 408.2,532.5 407.0,532.1 405.8,531.7 404.5,531.5 403.2,531.3 402.0,531.2 400.8,531.1 399.5,532.0 398.2,535.3 397.0,535.4 395.8,535.4 394.5,535.3 393.2,535.2 392.0,535.1 390.8,535.0 389.5,534.9 388.2,534.7 387.0,534.5 385.8,534.2 384.5,533.9 383.2,533.5 382.0,533.2 380.8,533.0 379.5,532.9 378.2,532.9 377.0,532.8 375.8,532.7 374.5,532.6 373.2,532.4 372.0,529.9 370.8,527.9 369.5,527.5 368.2,527.2 367.0,527.0 365.8,526.9 364.5,526.8 363.2,526.7 362.0,527.2 360.8,531.2 359.5,531.6 358.2,531.5 357.0,531.4 355.8,531.2 354.5,531.1 353.2,531.0 352.0,531.0 350.8,530.9 349.5,530.9 348.2,530.8 347.0,530.8 345.8,530.7 344.5,530.6 343.2,530.5 342.0,530.3 340.8,530.1 339.5,529.7 338.2,529.1 337.0,525.7 335.8,525.7 334.5,525.8 333.2,525.9 332.0,526.1 330.8,526.3 329.5,526.6 328.2,527.0 327.0,528.8 325.8,530.4 324.5,530.6 323.2,530.7 322.0,530.9 320.8,531.0 319.5,531.1 318.2,531.2 317.0,531.3 315.8,531.4 314.5,531.5 313.2,531.7 312.0,531.8 310.8,531.9 309.5,532.1 308.2,532.2 307.0,532.3 305.8,532.4 304.5,532.5 303.2,532.7 302.0,532.8 300.8,532.9 299.5,533.0 298.2,533.0 297.0,533.0 295.8,532.8 294.5,532.5 293.2,532.2 292.0,531.8 290.8,531.5 289.5,531.1 288.2,530.6 287.0,530.0 285.8,529.5 284.5,529.0 283.2,528.7 282.0,528.5 280.8,528.7 279.5,529.4 278.2,530.1 277.0,530.5 275.8,531.0 274.5,531.4 273.2,531.7 272.0,531.9 270.8,532.0 269.5,531.6 268.2,530.9 267.0,530.3 265.8,529.8 264.5,529.3 263.2,528.7 262.0,528.2 260.8,527.7 259.5,527.2 258.2,526.8 257.0,526.4 255.8,526.0 254.5,525.7 253.2,525.3 252.0,525.0 250.8,524.7 249.5,524.4 248.2,524.3 247.0,524.2 245.8,524.8 244.5,525.8 243.2,526.2 242.0,526.0 240.8,525.6 239.5,524.9 238.2,524.2 237.0,523.4 235.8,522.5 234.5,521.1 233.2,520.1 232.0,519.4 230.8,518.8 229.5,518.3 228.2,517.8 227.0,517.4 225.8,517.0 224.5,516.7 223.2,516.3 222.0,515.9 220.8,515.5 219.5,515.0 218.2,514.5 217.0,514.0 215.8,513.4 214.5,512.9 213.2,512.3 212.0,511.8 210.8,511.2 209.5,510.6 208.2,509.9 207.0,509.1 205.8,508.4 204.5,507.6 203.2,506.9 202.0,506.2 200.8,505.5 199.5,504.8 198.2,504.2 197.0,503.5 195.8,502.8 194.5,502.2 193.2,501.5 192.0,500.9 190.8,500.1 189.5,498.9 188.2,497.5 187.0,496.5 185.8,495.9 184.5,495.5 183.2,495.0 182.0,494.5 180.8,494.1 179.5,493.8 178.2,493.4 177.0,493.1 175.8,492.8 174.5,492.6 173.2,493.0 172.0,493.1 170.8,492.9 169.5,492.6 168.2,492.4 167.0,492.4 165.8,492.8 164.5,493.3 163.2,494.0 162.0,495.2 160.8,496.8 159.5,498.6 158.2,500.8 157.0,503.2 155.8,505.9 154.5,508.6 153.2,511.2 152.0,513.8 150.8,516.4 149.5,519.1 148.2,521.7 147.0,524.3 145.8,526.9 144.5,529.4 143.2,531.7 142.0,534.0 140.8,536.1 139.5,538.0 138.2,539.8 137.0,541.5 135.8,543.0 134.5,544.4 133.2,545.6 132.0,546.6 130.8,547.5 129.5,548.3 128.2,549.1 127.0,549.7 125.8,550.1 124.5,550.4 123.2,550.7 122.0,551.0 120.8,551.3 119.5,551.5 118.2,551.7 117.0,551.9 115.8,552.0 114.5,552.1 113.2,552.2 112.0,552.2Z" fill="#a8a8a8" stroke="none"/>
<path d="M112.0,552.2 113.2,552.2 114.5,552.1 115.8,552.0 117.0,551.9 118.2,551.7 119.5,551.5 120.8,551.3 122.0,551.0 123.2,550.7 124.5,550.4 125.8,550.1 127.0,549.7 128.2,549.1 129.5,548.3 130.8,547.5 132.0,546.6 133.2,545.6 134.5,544.4 135.8,543.0 137.0,541.5 138.2,539.8 139.5,538.0 140.8,536.1 142.0,534.0 143.2,531.7 144.5,529.4 145.8,526.9 147.0,524.3 148.2,521.7 149.5,519.1 150.8,516.4 152.0,513.8 153.2,511.2 154.5,508.6 155.8,505.9 157.0,503.2 158.2,500.8 159.5,498.6 160.8,496.8 162.0,495.2 163.2,494.0 164.5,493.3 165.8,492.8 167.0,492.4 168.2,492.4 169.5,492.6 170.8,492.9 172.0,493.1 173.2,493.0 174.5,492.6 175.8,492.8 177.0,493.1 178.2,493.4 179.5,493.8 180.8,494.1 182.0,494.5 183.2,495.0 184.5,495.5 185.8,495.9 187.0,496.5 188.2,497.5 189.5,498.9 190.8,500.1 192.0,500.9 193.2,501.5 194.5,502.2 195.8,502.8 197.0,503.5 198.2,504.2 199.5,504.8 200.8,505.5 202.0,506.2 203.2,506.9 204.5,507.6 205.8,508.4 207.0,509.1 208.2,509.9 209.5,510.6 210.8,511.2 212.0,511.8 213.2,512.3 214.5,512.9 215.8,513.4 217.0,514.0 218.2,514.5 219.5,515.0 220.8,515.5 222.0,515.9 223.2,516.3 224.5,516.7 225.8,517.0 227.0,517.4 228.2,517.8 229.5,518.3 230.8,518.8 232.0,519.4 233.2,520.1 234.5,521.1 235.8,522.5 237.0,523.4 238.2,524.2 239.5,524.9 240.8,525.6 242.0,526.0 243.2,526.2 244.5,525.8 245.8,524.8 247.0,524.2 248.2,524.3 249.5,524.4 250.8,524.7 252.0,525.0 253.2,525.3 254.5,525.7 255.8,526.0 257.0,526.4 258.2,526.8 259.5,527.2 260.8,527.7 262.0,528.2 263.2,528.7 264.5,529.3 265.8,529.8 267.0,530.3 268.2,530.9 269.5,531.6 270.8,532.0 272.0,531.9 273.2,531.7 274.5,531.4 275.8,531.0 277.0,530.5 278.2,530.1 279.5,529.4 280.8,528.7 282.0,528.5 283.2,528.7 284.5,529.0 285.8,529.5 287.0,530.0 288.2,530.6 289.5,531.1 290.8,531.5 292.0,531.8 293.2,532.2 294.5,532.5 295.8,532.8 297.0,533.0 298.2,533.0 299.5,533.0 300.8,532.9 302.0,532.8 303.2,532.7 304.5,532.5 305.8,532.4 307.0,532.3 308.2,532.2 309.5,532.1 310.8,531.9 312.0,531.8 313.2,531.7 314.5,531.5 315.8,531.4 317.0,531.3 318.2,531.2 319.5,531.1 320.8,531.0 322.0,530.9 323.2,530.7 324.5,530.6 325.8,530.4 327.0,528.8 328.2,527.0 329.5,526.6 330.8,526.3 332.0,526.1 333.2,525.9 334.5,525.8 335.8,525.7 337.0,525.7 338.2,529.1 339.5,529.7 340.8,530.1 342.0,530.3 343.2,530.5 344.5,530.6 345.8,530.7 347.0,530.8 348.2,530.8 349.5,530.9 350.8,530.9 352.0,531.0 353.2,531.0 354.5,531.1 355.8,531.2 357.0,531.4 358.2,531.5 359.5,531.6 360.8,531.2 362.0,527.2 363.2,526.7 364.5,526.8 365.8,526.9 367.0,527.0 368.2,527.2 369.5,527.5 370.8,527.9 372.0,529.9 373.2,532.4 374.5,532.6 375.8,532.7 377.0,532.8 378.2,532.9 379.5,532.9 380.8,533.0 382.0,533.2 383.2,533.5 384.5,533.9 385.8,534.2 387.0,534.5 388.2,534.7 389.5,534.9 390.8,535.0 392.0,535.1 393.2,535.2 394.5,535.3 395.8,535.4 397.0,535.4 398.2,535.3 399.5,532.0 400.8,531.1 402.0,531.2 403.2,531.3 404.5,531.5 405.8,531.7 407.0,532.1 408.2,532.5 409.5,534.1 410.8,538.3 412.0,538.9 413.2,539.0 414.5,539.2 415.8,539.3 417.0,539.3 418.2,539.4 419.5,539.4 420.8,539.4 422.0,539.2 423.2,539.0 424.5,538.6 425.8,538.1 427.0,537.7 428.2,537.2 429.5,536.7 430.8,536.3 432.0,536.0 433.2,535.8 434.5,535.5 435.8,535.2 437.0,534.9 438.2,534.3 439.5,533.8 440.8,533.4 442.0,532.9 443.2,531.6 444.5,530.0 445.8,530.1 447.0,531.5 448.2,532.2 449.5,532.6 450.8,532.8 452.0,533.2 453.2,534.2 454.5,535.8 455.8,536.1 457.0,536.0 458.2,535.8 459.5,535.6 460.8,535.3 462.0,535.0 463.2,534.5 464.5,534.0 465.8,533.4 467.0,532.8 468.2,532.2 469.5,531.6 470.8,531.0 472.0,530.4 473.2,529.8 474.5,529.1 475.8,528.4 477.0,527.7 478.2,527.0 479.5,526.2 480.8,525.4 482.0,524.6 483.2,523.8 484.5,522.9 485.8,522.0 487.0,521.0 488.2,519.9 489.5,518.6 490.8,517.2 492.0,516.1 493.2,515.0 494.5,513.9 495.8,512.9 497.0,511.9 498.2,510.8 499.5,509.8 500.8,508.8 502.0,507.7 503.2,506.6 504.5,505.5 505.8,504.3 507.0,503.2 508.2,502.0 509.5,500.8 510.8,499.7 512.0,498.5 513.2,497.4 514.5,496.2 515.8,495.0 517.0,494.0 518.2,493.1 519.5,492.1 520.8,491.3 522.0,490.5 523.2,489.9 524.5,489.4 525.8,489.1 527.0,488.6 528.2,488.1 529.5,487.5 530.8,487.0 532.0,486.3 533.2,485.6 534.5,484.9 535.8,483.8 537.0,482.5 538.2,481.3 539.5,480.4 540.8,479.9 542.0,479.5 543.2,479.2 544.5,479.0 545.8,478.7 547.0,478.4 548.2,478.1 549.5,477.6 550.8,476.8 552.0,475.7 553.2,474.6 554.5,473.6 555.8,472.9 557.0,472.2 558.2,471.7 559.5,471.3 560.8,470.9 562.0,470.6 563.2,470.3 564.5,470.1 565.8,469.9 567.0,470.0 568.2,471.2 569.5,473.2 570.8,477.6 572.0,481.6 573.2,482.6 574.5,483.1 575.8,482.9 577.0,482.0 578.2,480.9 579.5,479.5 580.8,478.3 582.0,477.4 583.2,476.9 584.5,476.7 585.8,476.5 587.0,476.4 588.2,476.2 589.5,475.9 590.8,474.6 592.0,467.7 593.2,461.4 594.5,459.9 595.8,459.1 597.0,458.6 598.2,458.3 599.5,458.0 600.8,457.8 602.0,457.8 603.2,457.7 604.5,457.7 605.8,457.7 607.0,457.7 608.2,458.0 609.5,458.4 610.8,458.7 612.0,458.2 613.2,456.9 614.5,455.4 615.8,454.2 617.0,452.8 618.2,451.6 619.5,450.9 620.8,450.9 622.0,451.1 623.2,451.5 624.5,451.9 625.8,452.4 627.0,452.9 628.2,453.5 629.5,454.3 630.8,455.1 632.0,455.9 633.2,456.8 634.5,457.7 635.8,458.5 637.0,459.3 638.2,459.8 639.5,460.2 640.8,460.6 642.0,460.8 642.5,460.9 642.5,495.3 642.0,495.3 640.8,495.3 639.5,495.3 638.2,495.3 637.0,495.3 635.8,495.3 634.5,495.4 633.2,495.4 632.0,495.4 630.8,495.2 629.5,495.0 628.2,494.8 627.0,494.7 625.8,494.7 624.5,494.7 623.2,494.7 622.0,494.7 620.8,494.8 619.5,494.8 618.2,495.3 617.0,496.2 615.8,497.4 614.5,498.6 613.2,499.7 612.0,501.3 610.8,502.6 609.5,502.5 608.2,501.8 607.0,501.0 605.8,500.2 604.5,499.3 603.2,498.5 602.0,498.0 600.8,498.0 599.5,498.0 598.2,498.1 597.0,498.1 595.8,498.3 594.5,499.4 593.2,501.3 592.0,504.7 590.8,509.8 589.5,511.1 588.2,511.4 587.0,511.6 585.8,511.7 584.5,512.0 583.2,512.4 582.0,513.0 580.8,513.7 579.5,514.6 578.2,515.9 577.0,517.3 575.8,518.4 574.5,518.8 573.2,518.3 572.0,517.4 570.8,515.3 569.5,512.3 568.2,510.1 567.0,508.1 565.8,507.4 564.5,507.4 563.2,507.5 562.0,507.7 560.8,507.9 559.5,508.1 558.2,508.4 557.0,508.9 555.8,509.8 554.5,510.6 553.2,511.5 552.0,512.5 550.8,513.4 549.5,514.0 548.2,514.3 547.0,514.4 545.8,514.6 544.5,514.7 543.2,514.8 542.0,514.9 540.8,515.1 539.5,515.4 538.2,516.1 537.0,517.2 535.8,518.4 534.5,519.2 533.2,519.7 532.0,520.0 530.8,520.3 529.5,520.5 528.2,520.8 527.0,521.0 525.8,521.3 524.5,521.8 523.2,522.1 522.0,522.3 520.8,522.4 519.5,522.5 518.2,522.6 517.0,522.8 515.8,523.1 514.5,523.8 513.2,524.5 512.0,525.2 510.8,525.8 509.5,526.5 508.2,527.1 507.0,527.8 505.8,528.4 504.5,529.0 503.2,529.6 502.0,530.1 500.8,530.5 499.5,530.9 498.2,531.2 497.0,531.5 495.8,531.9 494.5,532.3 493.2,532.7 492.0,533.2 490.8,533.9 489.5,535.1 488.2,536.3 487.0,537.1 485.8,537.6 484.5,538.0 483.2,538.4 482.0,538.7 480.8,539.0 479.5,539.4 478.2,539.9 477.0,540.5 475.8,541.1 474.5,541.8 473.2,542.6 472.0,543.2 470.8,543.9 469.5,544.4 468.2,544.8 467.0,545.1 465.8,545.4 464.5,545.7 463.2,545.9 462.0,546.1 460.8,546.2 459.5,546.2 458.2,546.0 457.0,545.6 455.8,545.2 454.5,544.5 453.2,543.0 452.0,542.0 450.8,541.4 449.5,541.0 448.2,540.5 447.0,539.7 445.8,538.5 444.5,538.3 443.2,539.0 442.0,539.6 440.8,540.2 439.5,540.7 438.2,541.1 437.0,541.4 435.8,541.6 434.5,541.8 433.2,541.9 432.0,542.1 430.8,542.4 429.5,542.8 428.2,543.2 427.0,543.7 425.8,544.2 424.5,544.7 423.2,545.1 422.0,545.4 420.8,545.6 419.5,545.6 418.2,545.6 417.0,545.5 415.8,545.3 414.5,545.2 413.2,544.9 412.0,544.6 410.8,543.8 409.5,539.2 408.2,537.7 407.0,537.5 405.8,537.4 404.5,537.3 403.2,537.3 402.0,537.2 400.8,537.2 399.5,537.9 398.2,540.5 397.0,540.6 395.8,540.5 394.5,540.4 393.2,540.3 392.0,540.1 390.8,540.0 389.5,539.8 388.2,539.6 387.0,539.4 385.8,539.1 384.5,538.8 383.2,538.5 382.0,538.3 380.8,538.3 379.5,538.3 378.2,538.3 377.0,538.3 375.8,538.3 374.5,538.3 373.2,538.3 372.0,535.5 370.8,533.2 369.5,532.8 368.2,532.5 367.0,532.3 365.8,532.2 364.5,532.1 363.2,532.0 362.0,532.5 360.8,536.6 359.5,537.0 358.2,536.9 357.0,536.8 355.8,536.7 354.5,536.6 353.2,536.6 352.0,536.5 350.8,536.5 349.5,536.4 348.2,536.4 347.0,536.3 345.8,536.3 344.5,536.2 343.2,536.0 342.0,535.8 340.8,535.5 339.5,535.1 338.2,534.3 337.0,530.3 335.8,530.3 334.5,530.4 333.2,530.5 332.0,530.7 330.8,531.0 329.5,531.4 328.2,531.9 327.0,533.9 325.8,535.8 324.5,536.1 323.2,536.3 322.0,536.5 320.8,536.6 319.5,536.6 318.2,536.7 317.0,536.8 315.8,536.9 314.5,536.9 313.2,537.1 312.0,537.2 310.8,537.3 309.5,537.5 308.2,537.6 307.0,537.8 305.8,537.9 304.5,538.1 303.2,538.4 302.0,538.6 300.8,538.8 299.5,538.9 298.2,539.0 297.0,538.9 295.8,538.7 294.5,538.4 293.2,537.9 292.0,537.5 290.8,537.1 289.5,536.6 288.2,536.0 287.0,535.4 285.8,534.7 284.5,534.2 283.2,533.8 282.0,533.6 280.8,534.0 279.5,535.0 278.2,536.0 277.0,536.6 275.8,537.1 274.5,537.6 273.2,538.0 272.0,538.2 270.8,538.3 269.5,537.6 268.2,536.5 267.0,535.6 265.8,535.0 264.5,534.5 263.2,534.0 262.0,533.5 260.8,533.1 259.5,532.7 258.2,532.5 257.0,532.3 255.8,532.3 254.5,532.3 253.2,532.4 252.0,532.5 250.8,532.6 249.5,532.7 248.2,532.8 247.0,533.0 245.8,533.4 244.5,534.1 243.2,534.3 242.0,534.2 240.8,534.1 239.5,533.9 238.2,533.6 237.0,533.3 235.8,532.7 234.5,530.8 233.2,529.5 232.0,528.9 230.8,528.5 229.5,528.1 228.2,527.8 227.0,527.6 225.8,527.4 224.5,527.1 223.2,526.9 222.0,526.7 220.8,526.4 219.5,526.1 218.2,525.8 217.0,525.4 215.8,525.1 214.5,524.7 213.2,524.4 212.0,524.0 210.8,523.7 209.5,523.3 208.2,523.0 207.0,522.6 205.8,522.3 204.5,522.0 203.2,521.8 202.0,521.7 200.8,521.6 199.5,521.5 198.2,521.4 197.0,521.3 195.8,521.0 194.5,520.6 193.2,520.0 192.0,519.3 190.8,518.7 189.5,518.3 188.2,517.8 187.0,517.4 185.8,517.0 184.5,516.7 183.2,516.4 182.0,516.1 180.8,515.8 179.5,515.6 178.2,515.3 177.0,515.0 175.8,514.7 174.5,514.4 173.2,514.1 172.0,513.6 170.8,513.0 169.5,512.6 168.2,512.5 167.0,512.6 165.8,512.8 164.5,513.0 163.2,513.3 162.0,513.6 160.8,514.0 159.5,514.5 158.2,515.1 157.0,515.9 155.8,516.7 154.5,517.7 153.2,518.8 152.0,520.1 150.8,521.6 149.5,523.3 148.2,525.2 147.0,527.5 145.8,529.9 144.5,531.9 143.2,533.7 142.0,535.5 140.8,537.1 139.5,538.7 138.2,540.3 137.0,542.0 135.8,543.6 134.5,545.1 133.2,546.3 132.0,547.2 130.8,548.0 129.5,548.7 128.2,549.4 127.0,549.9 125.8,550.3 124.5,550.6 123.2,550.9 122.0,551.1 120.8,551.3 119.5,551.6 118.2,551.7 117.0,551.9 115.8,552.0 114.5,552.1 113.2,552.2 112.0,552.2Z" fill="#fdb52e" stroke="none"/>
<path d="M112.0,552.2 113.2,552.2 114.5,552.1 115.8,552.0 117.0,551.9 118.2,551.7 119.5,551.6 120.8,551.3 122.0,551.1 123.2,550.9 124.5,550.6 125.8,550.3 127.0,549.9 128.2,549.4 129.5,548.7 130.8,548.0 132.0,547.2 133.2,546.3 134.5,545.1 135.8,543.6 137.0,542.0 138.2,540.3 139.5,538.7 140.8,537.1 142.0,535.5 143.2,533.7 144.5,531.9 145.8,529.9 147.0,527.5 148.2,525.2 149.5,523.3 150.8,521.6 152.0,520.1 153.2,518.8 154.5,517.7 155.8,516.7 157.0,515.9 158.2,515.1 159.5,514.5 160.8,514.0 162.0,513.6 163.2,513.3 164.5,513.0 165.8,512.8 167.0,512.6 168.2,512.5 169.5,512.6 170.8,513.0 172.0,513.6 173.2,514.1 174.5,514.4 175.8,514.7 177.0,515.0 178.2,515.3 179.5,515.6 180.8,515.8 182.0,516.1 183.2,516.4 184.5,516.7 185.8,517.0 187.0,517.4 188.2,517.8 189.5,518.3 190.8,518.7 192.0,519.3 193.2,520.0 194.5,520.6 195.8,521.0 197.0,521.3 198.2,521.4 199.5,521.5 200.8,521.6 202.0,521.7 203.2,521.8 204.5,522.0 205.8,522.3 207.0,522.6 208.2,523.0 209.5,523.3 210.8,523.7 212.0,524.0 213.2,524.4 214.5,524.7 215.8,525.1 217.0,525.4 218.2,525.8 219.5,526.1 220.8,526.4 222.0,526.7 223.2,526.9 224.5,527.1 225.8,527.4 227.0,527.6 228.2,527.8 229.5,528.1 230.8,528.5 232.0,528.9 233.2,529.5 234.5,530.8 235.8,532.7 237.0,533.3 238.2,533.6 239.5,533.9 240.8,534.1 242.0,534.2 243.2,534.3 244.5,534.1 245.8,533.4 247.0,533.0 248.2,532.8 249.5,532.7 250.8,532.6 252.0,532.5 253.2,532.4 254.5,532.3 255.8,532.3 257.0,532.3 258.2,532.5 259.5,532.7 260.8,533.1 262.0,533.5 263.2,534.0 264.5,534.5 265.8,535.0 267.0,535.6 268.2,536.5 269.5,537.6 270.8,538.3 272.0,538.2 273.2,538.0 274.5,537.6 275.8,537.1 277.0,536.6 278.2,536.0 279.5,535.0 280.8,534.0 282.0,533.6 283.2,533.8 284.5,534.2 285.8,534.7 287.0,535.4 288.2,536.0 289.5,536.6 290.8,537.1 292.0,537.5 293.2,537.9 294.5,538.4 295.8,538.7 297.0,538.9 298.2,539.0 299.5,538.9 300.8,538.8 302.0,538.6 303.2,538.4 304.5,538.1 305.8,537.9 307.0,537.8 308.2,537.6 309.5,537.5 310.8,537.3 312.0,537.2 313.2,537.1 314.5,536.9 315.8,536.9 317.0,536.8 318.2,536.7 319.5,536.6 320.8,536.6 322.0,536.5 323.2,536.3 324.5,536.1 325.8,535.8 327.0,533.9 328.2,531.9 329.5,531.4 330.8,531.0 332.0,530.7 333.2,530.5 334.5,530.4 335.8,530.3 337.0,530.3 338.2,534.3 339.5,535.1 340.8,535.5 342.0,535.8 343.2,536.0 344.5,536.2 345.8,536.3 347.0,536.3 348.2,536.4 349.5,536.4 350.8,536.5 352.0,536.5 353.2,536.6 354.5,536.6 355.8,536.7 357.0,536.8 358.2,536.9 359.5,537.0 360.8,536.6 362.0,532.5 363.2,532.0 364.5,532.1 365.8,532.2 367.0,532.3 368.2,532.5 369.5,532.8 370.8,533.2 372.0,535.5 373.2,538.3 374.5,538.3 375.8,538.3 377.0,538.3 378.2,538.3 379.5,538.3 380.8,538.3 382.0,538.3 383.2,538.5 384.5,538.8 385.8,539.1 387.0,539.4 388.2,539.6 389.5,539.8 390.8,540.0 392.0,540.1 393.2,540.3 394.5,540.4 395.8,540.5 397.0,540.6 398.2,540.5 399.5,537.9 400.8,537.2 402.0,537.2 403.2,537.3 404.5,537.3 405.8,537.4 407.0,537.5 408.2,537.7 409.5,539.2 410.8,543.8 412.0,544.6 413.2,544.9 414.5,545.2 415.8,545.3 417.0,545.5 418.2,545.6 419.5,545.6 420.8,545.6 422.0,545.4 423.2,545.1 424.5,544.7 425.8,544.2 427.0,543.7 428.2,543.2 429.5,542.8 430.8,542.4 432.0,542.1 433.2,541.9 434.5,541.8 435.8,541.6 437.0,541.4 438.2,541.1 439.5,540.7 440.8,540.2 442.0,539.6 443.2,539.0 444.5,538.3 445.8,538.5 447.0,539.7 448.2,540.5 449.5,541.0 450.8,541.4 452.0,542.0 453.2,543.0 454.5,544.5 455.8,545.2 457.0,545.6 458.2,546.0 459.5,546.2 460.8,546.2 462.0,546.1 463.2,545.9 464.5,545.7 465.8,545.4 467.0,545.1 468.2,544.8 469.5,544.4 470.8,543.9 472.0,543.2 473.2,542.6 474.5,541.8 475.8,541.1 477.0,540.5 478.2,539.9 479.5,539.4 480.8,539.0 482.0,538.7 483.2,538.4 484.5,538.0 485.8,537.6 487.0,537.1 488.2,536.3 489.5,535.1 490.8,533.9 492.0,533.2 493.2,532.7 494.5,532.3 495.8,531.9 497.0,531.5 498.2,531.2 499.5,530.9 500.8,530.5 502.0,530.1 503.2,529.6 504.5,529.0 505.8,528.4 507.0,527.8 508.2,527.1 509.5,526.5 510.8,525.8 512.0,525.2 513.2,524.5 514.5,523.8 515.8,523.1 517.0,522.8 518.2,522.6 519.5,522.5 520.8,522.4 522.0,522.3 523.2,522.1 524.5,521.8 525.8,521.3 527.0,521.0 528.2,520.8 529.5,520.5 530.8,520.3 532.0,520.0 533.2,519.7 534.5,519.2 535.8,518.4 537.0,517.2 538.2,516.1 539.5,515.4 540.8,515.1 542.0,514.9 543.2,514.8 544.5,514.7 545.8,514.6 547.0,514.4 548.2,514.3 549.5,514.0 550.8,513.4 552.0,512.5 553.2,511.5 554.5,510.6 555.8,509.8 557.0,508.9 558.2,508.4 559.5,508.1 560.8,507.9 562.0,507.7 563.2,507.5 564.5,507.4 565.8,507.4 567.0,508.1 568.2,510.1 569.5,512.3 570.8,515.3 572.0,517.4 573.2,518.3 574.5,518.8 575.8,518.4 577.0,517.3 578.2,515.9 579.5,514.6 580.8,513.7 582.0,513.0 583.2,512.4 584.5,512.0 585.8,511.7 587.0,511.6 588.2,511.4 589.5,511.1 590.8,509.8 592.0,504.7 593.2,501.3 594.5,499.4 595.8,498.3 597.0,498.1 598.2,498.1 599.5,498.0 600.8,498.0 602.0,498.0 603.2,498.5 604.5,499.3 605.8,500.2 607.0,501.0 608.2,501.8 609.5,502.5 610.8,502.6 612.0,501.3 613.2,499.7 614.5,498.6 615.8,497.4 617.0,496.2 618.2,495.3 619.5,494.8 620.8,494.8 622.0,494.7 623.2,494.7 624.5,494.7 625.8,494.7 627.0,494.7 628.2,494.8 629.5,495.0 630.8,495.2 632.0,495.4 633.2,495.4 634.5,495.4 635.8,495.3 637.0,495.3 638.2,495.3 639.5,495.3 640.8,495.3 642.0,495.3 642.5,495.3 642.5,552.3 642.0,552.5 640.8,553.2 639.5,553.9 638.2,554.7 637.0,555.5 635.8,556.7 634.5,557.9 633.2,558.8 632.0,559.0 630.8,558.4 629.5,557.6 628.2,556.8 627.0,556.4 625.8,556.5 624.5,556.6 623.2,556.8 622.0,557.1 620.8,557.5 619.5,557.8 618.2,558.3 617.0,558.9 615.8,559.6 614.5,560.4 613.2,561.3 612.0,562.6 610.8,563.6 609.5,563.4 608.2,562.1 607.0,561.0 605.8,560.8 604.5,560.6 603.2,560.5 602.0,560.0 600.8,559.2 599.5,558.5 598.2,558.5 597.0,559.0 595.8,559.8 594.5,560.7 593.2,561.8 592.0,563.0 590.8,564.1 589.5,564.7 588.2,565.3 587.0,565.7 585.8,566.1 584.5,566.5 583.2,566.9 582.0,567.4 580.8,568.0 579.5,568.6 578.2,569.2 577.0,569.7 575.8,570.1 574.5,570.2 573.2,570.2 572.0,570.2 570.8,570.3 569.5,570.3 568.2,570.3 567.0,570.3 565.8,570.4 564.5,570.6 563.2,570.9 562.0,571.3 560.8,571.7 559.5,572.1 558.2,572.5 557.0,572.8 555.8,573.2 554.5,573.5 553.2,573.9 552.0,574.3 550.8,574.7 549.5,575.1 548.2,575.5 547.0,576.0 545.8,576.4 544.5,576.9 543.2,577.4 542.0,577.9 540.8,578.5 539.5,579.2 538.2,580.2 537.0,581.5 535.8,582.7 534.5,583.7 533.2,584.4 532.0,585.0 530.8,585.5 529.5,585.8 528.2,585.8 527.0,585.7 525.8,585.5 524.5,585.2 523.2,585.0 522.0,584.8 520.8,584.6 519.5,584.4 518.2,584.1 517.0,583.9 515.8,583.7 514.5,583.4 513.2,583.2 512.0,582.9 510.8,582.7 509.5,582.5 508.2,582.4 507.0,582.2 505.8,581.9 504.5,581.7 503.2,581.4 502.0,581.0 500.8,580.5 499.5,579.9 498.2,579.1 497.0,578.1 495.8,577.1 494.5,576.0 493.2,574.8 492.0,573.7 490.8,572.4 489.5,570.9 488.2,569.3 487.0,568.0 485.8,566.8 484.5,565.6 483.2,564.5 482.0,563.4 480.8,562.4 479.5,561.5 478.2,560.7 477.0,559.9 475.8,559.3 474.5,559.0 473.2,558.7 472.0,558.6 470.8,558.4 469.5,558.2 468.2,557.9 467.0,557.7 465.8,557.3 464.5,557.0 463.2,556.6 462.0,556.2 460.8,555.7 459.5,555.3 458.2,554.7 457.0,554.1 455.8,553.4 454.5,552.3 453.2,550.6 452.0,549.2 450.8,548.1 449.5,547.1 448.2,546.1 447.0,544.8 445.8,543.3 444.5,543.0 443.2,544.1 442.0,545.1 440.8,546.0 439.5,546.7 438.2,547.1 437.0,547.5 435.8,547.7 434.5,547.8 433.2,548.0 432.0,548.1 430.8,548.5 429.5,549.5 428.2,550.6 427.0,551.5 425.8,552.0 424.5,551.9 423.2,551.7 422.0,551.4 420.8,551.0 419.5,550.7 418.2,550.4 417.0,550.1 415.8,549.8 414.5,549.4 413.2,548.8 412.0,548.1 410.8,546.8 409.5,542.4 408.2,540.8 407.0,540.4 405.8,540.0 404.5,539.8 403.2,539.6 402.0,539.5 400.8,539.4 399.5,540.5 398.2,544.2 397.0,544.2 395.8,544.0 394.5,543.7 393.2,543.3 392.0,542.8 390.8,542.4 389.5,542.0 388.2,541.7 387.0,541.4 385.8,541.1 384.5,540.8 383.2,540.6 382.0,540.4 380.8,540.4 379.5,540.5 378.2,540.6 377.0,540.8 375.8,541.0 374.5,541.1 373.2,541.2 372.0,538.0 370.8,535.4 369.5,535.0 368.2,534.7 367.0,534.5 365.8,534.4 364.5,534.3 363.2,534.2 362.0,534.7 360.8,538.5 359.5,538.9 358.2,538.9 357.0,538.9 355.8,538.9 354.5,538.9 353.2,538.9 352.0,538.8 350.8,538.7 349.5,538.6 348.2,538.4 347.0,538.3 345.8,538.1 344.5,538.0 343.2,537.9 342.0,537.8 340.8,537.6 339.5,537.2 338.2,536.5 337.0,531.9 335.8,531.8 334.5,531.9 333.2,532.0 332.0,532.2 330.8,532.5 329.5,532.9 328.2,533.4 327.0,536.0 325.8,538.1 324.5,538.1 323.2,538.2 322.0,538.3 320.8,538.5 319.5,538.6 318.2,538.8 317.0,538.9 315.8,539.1 314.5,539.2 313.2,539.4 312.0,539.5 310.8,539.6 309.5,539.8 308.2,539.9 307.0,540.1 305.8,540.3 304.5,540.5 303.2,540.8 302.0,541.1 300.8,541.3 299.5,541.5 298.2,541.6 297.0,541.5 295.8,541.2 294.5,540.6 293.2,540.0 292.0,539.5 290.8,539.0 289.5,538.5 288.2,538.0 287.0,537.6 285.8,537.5 284.5,537.7 283.2,538.2 282.0,538.9 280.8,539.8 279.5,541.2 278.2,542.6 277.0,543.6 275.8,543.7 274.5,543.3 273.2,542.8 272.0,542.2 270.8,541.6 269.5,540.7 268.2,539.7 267.0,539.0 265.8,538.6 264.5,538.3 263.2,537.9 262.0,537.6 260.8,537.4 259.5,537.2 258.2,537.1 257.0,537.0 255.8,537.0 254.5,537.2 253.2,537.5 252.0,537.9 250.8,538.3 249.5,538.6 248.2,538.9 247.0,539.0 245.8,538.7 244.5,538.2 243.2,537.8 242.0,537.6 240.8,537.3 239.5,537.1 238.2,537.0 237.0,537.0 235.8,537.4 234.5,537.9 233.2,538.4 232.0,538.7 230.8,539.1 229.5,539.4 228.2,539.8 227.0,540.1 225.8,540.4 224.5,540.8 223.2,541.2 222.0,541.5 220.8,542.0 219.5,542.4 218.2,542.9 217.0,543.5 215.8,544.1 214.5,544.8 213.2,545.4 212.0,546.1 210.8,546.7 209.5,547.2 208.2,547.7 207.0,548.1 205.8,548.6 204.5,549.1 203.2,549.7 202.0,550.4 200.8,551.1 199.5,552.0 198.2,552.8 197.0,553.7 195.8,554.5 194.5,555.4 193.2,556.3 192.0,557.2 190.8,558.1 189.5,559.1 188.2,560.1 187.0,561.1 185.8,562.1 184.5,563.1 183.2,564.2 182.0,565.4 180.8,566.4 179.5,567.1 178.2,567.7 177.0,568.1 175.8,568.5 174.5,568.9 173.2,569.3 172.0,569.7 170.8,570.1 169.5,570.5 168.2,570.9 167.0,571.3 165.8,571.7 164.5,572.2 163.2,572.7 162.0,573.2 160.8,573.8 159.5,574.2 158.2,574.8 157.0,575.3 155.8,575.9 154.5,576.3 153.2,576.5 152.0,576.4 150.8,576.1 149.5,575.6 148.2,575.1 147.0,574.3 145.8,573.4 144.5,572.5 143.2,571.5 142.0,570.5 140.8,569.3 139.5,568.2 138.2,567.0 137.0,565.7 135.8,564.4 134.5,563.0 133.2,561.8 132.0,560.7 130.8,559.5 129.5,558.3 128.2,557.2 127.0,556.3 125.8,555.5 124.5,555.1 123.2,554.6 122.0,554.1 120.8,553.7 119.5,553.4 118.2,553.0 117.0,552.7 115.8,552.5 114.5,552.3 113.2,552.2 112.0,552.2Z" fill="#fd6b32" stroke="none"/>
<path d="M112.0,552.2 113.2,552.2 114.5,552.3 115.8,552.5 117.0,552.7 118.2,553.0 119.5,553.4 120.8,553.7 122.0,554.1 123.2,554.6 124.5,555.1 125.8,555.5 127.0,556.3 128.2,557.2 129.5,558.3 130.8,559.5 132.0,560.7 133.2,561.8 134.5,563.0 135.8,564.4 137.0,565.7 138.2,567.0 139.5,568.2 140.8,569.3 142.0,570.5 143.2,571.5 144.5,572.5 145.8,573.4 147.0,574.3 148.2,575.1 149.5,575.6 150.8,576.1 152.0,576.4 153.2,576.5 154.5,576.3 155.8,575.9 157.0,575.3 158.2,574.8 159.5,574.2 160.8,573.8 162.0,573.2 163.2,572.7 164.5,572.2 165.8,571.7 167.0,571.3 168.2,570.9 169.5,570.5 170.8,570.1 172.0,569.7 173.2,569.3 174.5,568.9 175.8,568.5 177.0,568.1 178.2,567.7 179.5,567.1 180.8,566.4 182.0,565.4 183.2,564.2 184.5,563.1 185.8,562.1 187.0,561.1 188.2,560.1 189.5,559.1 190.8,558.1 192.0,557.2 193.2,556.3 194.5,555.4 195.8,554.5 197.0,553.7 198.2,552.8 199.5,552.0 200.8,551.1 202.0,550.4 203.2,549.7 204.5,549.1 205.8,548.6 207.0,548.1 208.2,547.7 209.5,547.2 210.8,546.7 212.0,546.1 213.2,545.4 214.5,544.8 215.8,544.1 217.0,543.5 218.2,542.9 219.5,542.4 220.8,542.0 222.0,541.5 223.2,541.2 224.5,540.8 225.8,540.4 227.0,540.1 228.2,539.8 229.5,539.4 230.8,539.1 232.0,538.7 233.2,538.4 234.5,537.9 235.8,537.4 237.0,537.0 238.2,537.0 239.5,537.1 240.8,537.3 242.0,537.6 243.2,537.8 244.5,538.2 245.8,538.7 247.0,539.0 248.2,538.9 249.5,538.6 250.8,538.3 252.0,537.9 253.2,537.5 254.5,537.2 255.8,537.0 257.0,537.0 258.2,537.1 259.5,537.2 260.8,537.4 262.0,537.6 263.2,537.9 264.5,538.3 265.8,538.6 267.0,539.0 268.2,539.7 269.5,540.7 270.8,541.6 272.0,542.2 273.2,542.8 274.5,543.3 275.8,543.7 277.0,543.6 278.2,542.6 279.5,541.2 280.8,539.8 282.0,538.9 283.2,538.2 284.5,537.7 285.8,537.5 287.0,537.6 288.2,538.0 289.5,538.5 290.8,539.0 292.0,539.5 293.2,540.0 294.5,540.6 295.8,541.2 297.0,541.5 298.2,541.6 299.5,541.5 300.8,541.3 302.0,541.1 303.2,540.8 304.5,540.5 305.8,540.3 307.0,540.1 308.2,539.9 309.5,539.8 310.8,539.6 312.0,539.5 313.2,539.4 314.5,539.2 315.8,539.1 317.0,538.9 318.2,538.8 319.5,538.6 320.8,538.5 322.0,538.3 323.2,538.2 324.5,538.1 325.8,538.1 327.0,536.0 328.2,533.4 329.5,532.9 330.8,532.5 332.0,532.2 333.2,532.0 334.5,531.9 335.8,531.8 337.0,531.9 338.2,536.5 339.5,537.2 340.8,537.6 342.0,537.8 343.2,537.9 344.5,538.0 345.8,538.1 347.0,538.3 348.2,538.4 349.5,538.6 350.8,538.7 352.0,538.8 353.2,538.9 354.5,538.9 355.8,538.9 357.0,538.9 358.2,538.9 359.5,538.9 360.8,538.5 362.0,534.7 363.2,534.2 364.5,534.3 365.8,534.4 367.0,534.5 368.2,534.7 369.5,535.0 370.8,535.4 372.0,538.0 373.2,541.2 374.5,541.1 375.8,541.0 377.0,540.8 378.2,540.6 379.5,540.5 380.8,540.4 382.0,540.4 383.2,540.6 384.5,540.8 385.8,541.1 387.0,541.4 388.2,541.7 389.5,542.0 390.8,542.4 392.0,542.8 393.2,543.3 394.5,543.7 395.8,544.0 397.0,544.2 398.2,544.2 399.5,540.5 400.8,539.4 402.0,539.5 403.2,539.6 404.5,539.8 405.8,540.0 407.0,540.4 408.2,540.8 409.5,542.4 410.8,546.8 412.0,548.1 413.2,548.8 414.5,549.4 415.8,549.8 417.0,550.1 418.2,550.4 419.5,550.7 420.8,551.0 422.0,551.4 423.2,551.7 424.5,551.9 425.8,552.0 427.0,551.5 428.2,550.6 429.5,549.5 430.8,548.5 432.0,548.1 433.2,548.0 434.5,547.8 435.8,547.7 437.0,547.5 438.2,547.1 439.5,546.7 440.8,546.0 442.0,545.1 443.2,544.1 444.5,543.0 445.8,543.3 447.0,544.8 448.2,546.1 449.5,547.1 450.8,548.1 452.0,549.2 453.2,550.6 454.5,552.3 455.8,553.4 457.0,554.1 458.2,554.7 459.5,555.3 460.8,555.7 462.0,556.2 463.2,556.6 464.5,557.0 465.8,557.3 467.0,557.7 468.2,557.9 469.5,558.2 470.8,558.4 472.0,558.6 473.2,558.7 474.5,559.0 475.8,559.3 477.0,559.9 478.2,560.7 479.5,561.5 480.8,562.4 482.0,563.4 483.2,564.5 484.5,565.6 485.8,566.8 487.0,568.0 488.2,569.3 489.5,570.9 490.8,572.4 492.0,573.7 493.2,574.8 494.5,576.0 495.8,577.1 497.0,578.1 498.2,579.1 499.5,579.9 500.8,580.5 502.0,581.0 503.2,581.4 504.5,581.7 505.8,581.9 507.0,582.2 508.2,582.4 509.5,582.5 510.8,582.7 512.0,582.9 513.2,583.2 514.5,583.4 515.8,583.7 517.0,583.9 518.2,584.1 519.5,584.4 520.8,584.6 522.0,584.8 523.2,585.0 524.5,585.2 525.8,585.5 527.0,585.7 528.2,585.8 529.5,585.8 530.8,585.5 532.0,585.0 533.2,584.4 534.5,583.7 535.8,582.7 537.0,581.5 538.2,580.2 539.5,579.2 540.8,578.5 542.0,577.9 543.2,577.4 544.5,576.9 545.8,576.4 547.0,576.0 548.2,575.5 549.5,575.1 550.8,574.7 552.0,574.3 553.2,573.9 554.5,573.5 555.8,573.2 557.0,572.8 558.2,572.5 559.5,572.1 560.8,571.7 562.0,571.3 563.2,570.9 564.5,570.6 565.8,570.4 567.0,570.3 568.2,570.3 569.5,570.3 570.8,570.3 572.0,570.2 573.2,570.2 574.5,570.2 575.8,570.1 577.0,569.7 578.2,569.2 579.5,568.6 580.8,568.0 582.0,567.4 583.2,566.9 584.5,566.5 585.8,566.1 587.0,565.7 588.2,565.3 589.5,564.7 590.8,564.1 592.0,563.0 593.2,561.8 594.5,560.7 595.8,559.8 597.0,559.0 598.2,558.5 599.5,558.5 600.8,559.2 602.0,560.0 603.2,560.5 604.5,560.6 605.8,560.8 607.0,561.0 608.2,562.1 609.5,563.4 610.8,563.6 612.0,562.6 613.2,561.3 614.5,560.4 615.8,559.6 617.0,558.9 618.2,558.3 619.5,557.8 620.8,557.5 622.0,557.1 623.2,556.8 624.5,556.6 625.8,556.5 627.0,556.4 628.2,556.8 629.5,557.6 630.8,558.4 632.0,559.0 633.2,558.8 634.5,557.9 635.8,556.7 637.0,555.5 638.2,554.7 639.5,553.9 640.8,553.2 642.0,552.5 642.5,552.3 642.5,611.5 642.0,611.4 640.8,611.2 639.5,611.2 638.2,611.5 637.0,612.8 635.8,614.4 634.5,616.2 633.2,618.2 632.0,619.6 630.8,620.8 629.5,621.9 628.2,622.7 627.0,623.0 625.8,622.8 624.5,622.5 623.2,622.1 622.0,621.9 620.8,623.3 619.5,624.9 618.2,624.6 617.0,624.2 615.8,623.7 614.5,623.1 613.2,622.3 612.0,621.5 610.8,620.5 609.5,619.0 608.2,617.3 607.0,616.0 605.8,615.3 604.5,614.7 603.2,614.3 602.0,613.9 600.8,613.4 599.5,612.9 598.2,612.5 597.0,612.0 595.8,611.5 594.5,610.8 593.2,609.8 592.0,607.5 590.8,605.1 589.5,604.8 588.2,604.9 587.0,605.1 585.8,605.3 584.5,605.5 583.2,605.9 582.0,606.4 580.8,606.8 579.5,606.8 578.2,606.1 577.0,605.4 575.8,605.2 574.5,605.2 573.2,605.2 572.0,605.2 570.8,606.0 569.5,607.4 568.2,608.7 567.0,609.0 565.8,608.9 564.5,608.7 563.2,608.4 562.0,608.1 560.8,607.9 559.5,607.7 558.2,607.7 557.0,607.7 555.8,607.8 554.5,607.8 553.2,607.9 552.0,608.0 550.8,608.1 549.5,608.2 548.2,608.4 547.0,608.7 545.8,609.1 544.5,609.7 543.2,610.3 542.0,610.9 540.8,611.6 539.5,612.3 538.2,613.3 537.0,614.5 535.8,615.7 534.5,616.8 533.2,617.6 532.0,618.5 530.8,619.1 529.5,619.3 528.2,619.0 527.0,618.5 525.8,617.9 524.5,617.3 523.2,616.8 522.0,616.4 520.8,616.1 519.5,615.7 518.2,615.4 517.0,615.1 515.8,614.8 514.5,614.5 513.2,614.1 512.0,613.7 510.8,613.3 509.5,612.9 508.2,612.5 507.0,612.1 505.8,611.7 504.5,611.2 503.2,610.7 502.0,610.1 500.8,609.5 499.5,608.9 498.2,608.3 497.0,607.6 495.8,606.8 494.5,606.0 493.2,605.0 492.0,604.0 490.8,602.8 489.5,601.0 488.2,599.2 487.0,598.0 485.8,597.0 484.5,596.1 483.2,595.4 482.0,594.7 480.8,594.0 479.5,593.4 478.2,592.8 477.0,592.1 475.8,591.5 474.5,590.9 473.2,590.3 472.0,589.8 470.8,589.4 469.5,589.0 468.2,588.8 467.0,588.5 465.8,588.4 464.5,588.2 463.2,588.0 462.0,587.9 460.8,587.9 459.5,587.9 458.2,587.9 457.0,588.0 455.8,588.1 454.5,588.6 453.2,590.3 452.0,591.4 450.8,591.8 449.5,592.0 448.2,592.4 447.0,593.3 445.8,595.2 444.5,595.5 443.2,594.1 442.0,593.2 440.8,592.9 439.5,592.7 438.2,592.3 437.0,591.6 435.8,590.9 434.5,590.3 433.2,589.7 432.0,589.3 430.8,589.0 429.5,588.8 428.2,588.7 427.0,588.5 425.8,588.4 424.5,588.3 423.2,588.2 422.0,588.1 420.8,587.9 419.5,587.8 418.2,587.7 417.0,587.6 415.8,587.5 414.5,587.3 413.2,587.3 412.0,587.2 410.8,587.6 409.5,591.6 408.2,593.1 407.0,593.4 405.8,593.6 404.5,593.7 403.2,593.8 402.0,593.9 400.8,593.9 399.5,592.6 398.2,587.7 397.0,587.4 395.8,587.1 394.5,586.9 393.2,586.8 392.0,586.7 390.8,586.6 389.5,586.6 388.2,586.6 387.0,586.6 385.8,586.8 384.5,586.9 383.2,587.1 382.0,587.3 380.8,587.4 379.5,587.5 378.2,587.5 377.0,587.6 375.8,587.6 374.5,587.7 373.2,587.9 372.0,590.1 370.8,592.0 369.5,592.5 368.2,592.8 367.0,593.1 365.8,593.3 364.5,593.4 363.2,593.5 362.0,593.1 360.8,589.6 359.5,588.9 358.2,588.7 357.0,588.5 355.8,588.4 354.5,588.2 353.2,588.0 352.0,587.8 350.8,587.5 349.5,587.2 348.2,587.0 347.0,586.7 345.8,586.5 344.5,586.2 343.2,585.9 342.0,585.6 340.8,585.4 339.5,585.2 338.2,585.6 337.0,591.1 335.8,591.6 334.5,591.9 333.2,592.2 332.0,592.4 330.8,592.5 329.5,592.6 328.2,592.6 327.0,590.4 325.8,587.9 324.5,587.5 323.2,587.1 322.0,586.7 320.8,586.2 319.5,585.7 318.2,585.3 317.0,584.9 315.8,584.7 314.5,584.5 313.2,584.5 312.0,584.6 310.8,584.6 309.5,584.7 308.2,584.8 307.0,584.9 305.8,584.9 304.5,584.9 303.2,584.8 302.0,584.7 300.8,584.7 299.5,584.6 298.2,584.5 297.0,584.4 295.8,584.4 294.5,584.3 293.2,584.2 292.0,584.1 290.8,584.1 289.5,584.1 288.2,584.2 287.0,584.4 285.8,584.6 284.5,584.8 283.2,585.1 282.0,585.5 280.8,586.2 279.5,587.0 278.2,587.4 277.0,587.4 275.8,586.6 274.5,585.5 273.2,584.2 272.0,583.2 270.8,582.1 269.5,581.0 268.2,580.0 267.0,579.3 265.8,578.9 264.5,578.6 263.2,578.4 262.0,578.0 260.8,577.7 259.5,577.4 258.2,577.0 257.0,576.6 255.8,576.1 254.5,575.5 253.2,574.8 252.0,574.1 250.8,573.4 249.5,572.6 248.2,571.9 247.0,571.0 245.8,570.2 244.5,569.6 243.2,569.2 242.0,569.0 240.8,568.8 239.5,568.6 238.2,568.5 237.0,568.4 235.8,568.3 234.5,568.1 233.2,568.0 232.0,567.8 230.8,567.7 229.5,567.5 228.2,567.4 227.0,567.2 225.8,567.1 224.5,566.9 223.2,566.8 222.0,566.6 220.8,566.4 219.5,566.3 218.2,566.1 217.0,565.9 215.8,565.7 214.5,565.5 213.2,565.4 212.0,565.2 210.8,564.9 209.5,564.7 208.2,564.4 207.0,564.0 205.8,563.7 204.5,563.4 203.2,563.4 202.0,563.6 200.8,564.0 199.5,564.4 198.2,564.9 197.0,565.3 195.8,565.7 194.5,566.1 193.2,566.5 192.0,566.7 190.8,566.9 189.5,567.1 188.2,567.4 187.0,567.7 185.8,568.2 184.5,568.9 183.2,569.7 182.0,570.5 180.8,571.8 179.5,573.2 178.2,574.4 177.0,574.9 175.8,574.6 174.5,573.8 173.2,573.3 172.0,573.2 170.8,573.4 169.5,573.7 168.2,574.1 167.0,574.4 165.8,574.7 164.5,575.1 163.2,575.4 162.0,575.8 160.8,576.2 159.5,576.5 158.2,577.0 157.0,577.5 155.8,578.0 154.5,578.2 153.2,578.2 152.0,578.0 150.8,577.8 149.5,577.6 148.2,577.2 147.0,576.5 145.8,575.6 144.5,574.7 143.2,573.4 142.0,572.0 140.8,570.5 139.5,569.0 138.2,567.6 137.0,566.2 135.8,564.8 134.5,563.4 133.2,562.1 132.0,560.9 130.8,559.7 129.5,558.5 128.2,557.4 127.0,556.5 125.8,555.8 124.5,555.2 123.2,554.7 122.0,554.3 120.8,553.8 119.5,553.4 118.2,553.1 117.0,552.8 115.8,552.5 114.5,552.4 113.2,552.2 112.0,552.2Z" fill="#ababab" stroke="none"/>
<path d="M112.0,552.2 113.2,552.2 114.5,552.4 115.8,552.5 117.0,552.8 118.2,553.1 119.5,553.4 120.8,553.8 122.0,554.3 123.2,554.7 124.5,555.2 125.8,555.8 127.0,556.5 128.2,557.4 129.5,558.5 130.8,559.7 132.0,560.9 133.2,562.1 134.5,563.4 135.8,564.8 137.0,566.2 138.2,567.6 139.5,569.0 140.8,570.5 142.0,572.0 143.2,573.4 144.5,574.7 145.8,575.6 147.0,576.5 148.2,577.2 149.5,577.6 150.8,577.8 152.0,578.0 153.2,578.2 154.5,578.2 155.8,578.0 157.0,577.5 158.2,577.0 159.5,576.5 160.8,576.2 162.0,575.8 163.2,575.4 164.5,575.1 165.8,574.7 167.0,574.4 168.2,574.1 169.5,573.7 170.8,573.4 172.0,573.2 173.2,573.3 174.5,573.8 175.8,574.6 177.0,574.9 178.2,574.4 179.5,573.2 180.8,571.8 182.0,570.5 183.2,569.7 184.5,568.9 185.8,568.2 187.0,567.7 188.2,567.4 189.5,567.1 190.8,566.9 192.0,566.7 193.2,566.5 194.5,566.1 195.8,565.7 197.0,565.3 198.2,564.9 199.5,564.4 200.8,564.0 202.0,563.6 203.2,563.4 204.5,563.4 205.8,563.7 207.0,564.0 208.2,564.4 209.5,564.7 210.8,564.9 212.0,565.2 213.2,565.4 214.5,565.5 215.8,565.7 217.0,565.9 218.2,566.1 219.5,566.3 220.8,566.4 222.0,566.6 223.2,566.8 224.5,566.9 225.8,567.1 227.0,567.2 228.2,567.4 229.5,567.5 230.8,567.7 232.0,567.8 233.2,568.0 234.5,568.1 235.8,568.3 237.0,568.4 238.2,568.5 239.5,568.6 240.8,568.8 242.0,569.0 243.2,569.2 244.5,569.6 245.8,570.2 247.0,571.0 248.2,571.9 249.5,572.6 250.8,573.4 252.0,574.1 253.2,574.8 254.5,575.5 255.8,576.1 257.0,576.6 258.2,577.0 259.5,577.4 260.8,577.7 262.0,578.0 263.2,578.4 264.5,578.6 265.8,578.9 267.0,579.3 268.2,580.0 269.5,581.0 270.8,582.1 272.0,583.2 273.2,584.2 274.5,585.5 275.8,586.6 277.0,587.4 278.2,587.4 279.5,587.0 280.8,586.2 282.0,585.5 283.2,585.1 284.5,584.8 285.8,584.6 287.0,584.4 288.2,584.2 289.5,584.1 290.8,584.1 292.0,584.1 293.2,584.2 294.5,584.3 295.8,584.4 297.0,584.4 298.2,584.5 299.5,584.6 300.8,584.7 302.0,584.7 303.2,584.8 304.5,584.9 305.8,584.9 307.0,584.9 308.2,584.8 309.5,584.7 310.8,584.6 312.0,584.6 313.2,584.5 314.5,584.5 315.8,584.7 317.0,584.9 318.2,585.3 319.5,585.7 320.8,586.2 322.0,586.7 323.2,587.1 324.5,587.5 325.8,587.9 327.0,590.4 328.2,592.6 329.5,592.6 330.8,592.5 332.0,592.4 333.2,592.2 334.5,591.9 335.8,591.6 337.0,591.1 338.2,585.6 339.5,585.2 340.8,585.4 342.0,585.6 343.2,585.9 344.5,586.2 345.8,586.5 347.0,586.7 348.2,587.0 349.5,587.2 350.8,587.5 352.0,587.8 353.2,588.0 354.5,588.2 355.8,588.4 357.0,588.5 358.2,588.7 359.5,588.9 360.8,589.6 362.0,593.1 363.2,593.5 364.5,593.4 365.8,593.3 367.0,593.1 368.2,592.8 369.5,592.5 370.8,592.0 372.0,590.1 373.2,587.9 374.5,587.7 375.8,587.6 377.0,587.6 378.2,587.5 379.5,587.5 380.8,587.4 382.0,587.3 383.2,587.1 384.5,586.9 385.8,586.8 387.0,586.6 388.2,586.6 389.5,586.6 390.8,586.6 392.0,586.7 393.2,586.8 394.5,586.9 395.8,587.1 397.0,587.4 398.2,587.7 399.5,592.6 400.8,593.9 402.0,593.9 403.2,593.8 404.5,593.7 405.8,593.6 407.0,593.4 408.2,593.1 409.5,591.6 410.8,587.6 412.0,587.2 413.2,587.3 414.5,587.3 415.8,587.5 417.0,587.6 418.2,587.7 419.5,587.8 420.8,587.9 422.0,588.1 423.2,588.2 424.5,588.3 425.8,588.4 427.0,588.5 428.2,588.7 429.5,588.8 430.8,589.0 432.0,589.3 433.2,589.7 434.5,590.3 435.8,590.9 437.0,591.6 438.2,592.3 439.5,592.7 440.8,592.9 442.0,593.2 443.2,594.1 444.5,595.5 445.8,595.2 447.0,593.3 448.2,592.4 449.5,592.0 450.8,591.8 452.0,591.4 453.2,590.3 454.5,588.6 455.8,588.1 457.0,588.0 458.2,587.9 459.5,587.9 460.8,587.9 462.0,587.9 463.2,588.0 464.5,588.2 465.8,588.4 467.0,588.5 468.2,588.8 469.5,589.0 470.8,589.4 472.0,589.8 473.2,590.3 474.5,590.9 475.8,591.5 477.0,592.1 478.2,592.8 479.5,593.4 480.8,594.0 482.0,594.7 483.2,595.4 484.5,596.1 485.8,597.0 487.0,598.0 488.2,599.2 489.5,601.0 490.8,602.8 492.0,604.0 493.2,605.0 494.5,606.0 495.8,606.8 497.0,607.6 498.2,608.3 499.5,608.9 500.8,609.5 502.0,610.1 503.2,610.7 504.5,611.2 505.8,611.7 507.0,612.1 508.2,612.5 509.5,612.9 510.8,613.3 512.0,613.7 513.2,614.1 514.5,614.5 515.8,614.8 517.0,615.1 518.2,615.4 519.5,615.7 520.8,616.1 522.0,616.4 523.2,616.8 524.5,617.3 525.8,617.9 527.0,618.5 528.2,619.0 529.5,619.3 530.8,619.1 532.0,618.5 533.2,617.6 534.5,616.8 535.8,615.7 537.0,614.5 538.2,613.3 539.5,612.3 540.8,611.6 542.0,610.9 543.2,610.3 544.5,609.7 545.8,609.1 547.0,608.7 548.2,608.4 549.5,608.2 550.8,608.1 552.0,608.0 553.2,607.9 554.5,607.8 555.8,607.8 557.0,607.7 558.2,607.7 559.5,607.7 560.8,607.9 562.0,608.1 563.2,608.4 564.5,608.7 565.8,608.9 567.0,609.0 568.2,608.7 569.5,607.4 570.8,606.0 572.0,605.2 573.2,605.2 574.5,605.2 575.8,605.2 577.0,605.4 578.2,606.1 579.5,606.8 580.8,606.8 582.0,606.4 583.2,605.9 584.5,605.5 585.8,605.3 587.0,605.1 588.2,604.9 589.5,604.8 590.8,605.1 592.0,607.5 593.2,609.8 594.5,610.8 595.8,611.5 597.0,612.0 598.2,612.5 599.5,612.9 600.8,613.4 602.0,613.9 603.2,614.3 604.5,614.7 605.8,615.3 607.0,616.0 608.2,617.3 609.5,619.0 610.8,620.5 612.0,621.5 613.2,622.3 614.5,623.1 615.8,623.7 617.0,624.2 618.2,624.6 619.5,624.9 620.8,623.3 622.0,621.9 623.2,622.1 624.5,622.5 625.8,622.8 627.0,623.0 628.2,622.7 629.5,621.9 630.8,620.8 632.0,619.6 633.2,618.2 634.5,616.2 635.8,614.4 637.0,612.8 638.2,611.5 639.5,611.2 640.8,611.2 642.0,611.4 642.5,611.5 642.5,669.3 642.0,669.6 640.8,670.5 639.5,671.4 638.2,672.5 637.0,673.6 635.8,674.9 634.5,676.6 633.2,679.0 632.0,681.5 630.8,683.5 629.5,684.6 628.2,685.5 627.0,686.2 625.8,686.7 624.5,687.3 623.2,687.8 622.0,688.1 620.8,688.2 619.5,687.9 618.2,687.3 617.0,686.5 615.8,685.6 614.5,684.8 613.2,683.7 612.0,682.5 610.8,681.4 609.5,680.9 608.2,680.8 607.0,680.8 605.8,680.9 604.5,680.9 603.2,680.9 602.0,680.9 600.8,680.6 599.5,679.8 598.2,678.5 597.0,677.0 595.8,675.2 594.5,671.7 593.2,667.3 592.0,663.3 590.8,659.4 589.5,658.3 588.2,658.1 587.0,657.9 585.8,657.8 584.5,657.5 583.2,657.0 582.0,655.9 580.8,654.6 579.5,653.2 578.2,652.0 577.0,651.2 575.8,650.5 574.5,650.0 573.2,649.8 572.0,651.2 570.8,653.9 569.5,657.2 568.2,661.8 567.0,663.2 565.8,663.1 564.5,662.9 563.2,662.6 562.0,662.2 560.8,661.8 559.5,661.3 558.2,660.9 557.0,660.4 555.8,659.7 554.5,658.9 553.2,658.2 552.0,657.5 550.8,656.9 549.5,656.5 548.2,656.3 547.0,656.1 545.8,656.0 544.5,655.8 543.2,655.7 542.0,655.6 540.8,655.3 539.5,655.0 538.2,654.1 537.0,652.7 535.8,651.1 534.5,649.8 533.2,649.1 532.0,649.1 530.8,649.1 529.5,649.1 528.2,649.1 527.0,649.1 525.8,649.1 524.5,649.1 523.2,649.1 522.0,648.8 520.8,648.1 519.5,647.2 518.2,646.2 517.0,645.1 515.8,644.0 514.5,642.7 513.2,641.3 512.0,640.2 510.8,639.2 509.5,638.3 508.2,637.4 507.0,636.6 505.8,635.7 504.5,634.8 503.2,633.9 502.0,632.8 500.8,631.8 499.5,630.7 498.2,629.6 497.0,628.4 495.8,627.2 494.5,625.9 493.2,624.6 492.0,623.1 490.8,621.3 489.5,619.0 488.2,616.7 487.0,615.2 485.8,614.2 484.5,613.2 483.2,612.5 482.0,611.8 480.8,611.1 479.5,610.4 478.2,609.7 477.0,609.0 475.8,608.4 474.5,607.7 473.2,607.1 472.0,606.4 470.8,605.8 469.5,605.3 468.2,604.7 467.0,604.1 465.8,603.4 464.5,602.8 463.2,602.2 462.0,601.8 460.8,601.6 459.5,601.6 458.2,601.7 457.0,601.8 455.8,601.9 454.5,602.4 453.2,604.4 452.0,605.5 450.8,605.9 449.5,606.1 448.2,606.5 447.0,607.4 445.8,609.1 444.5,609.4 443.2,607.8 442.0,606.8 440.8,606.6 439.5,606.5 438.2,606.2 437.0,605.6 435.8,605.1 434.5,604.5 433.2,604.0 432.0,603.5 430.8,603.0 429.5,602.4 428.2,601.9 427.0,601.5 425.8,601.3 424.5,601.4 423.2,601.6 422.0,601.8 420.8,602.0 419.5,602.0 418.2,602.0 417.0,602.0 415.8,602.0 414.5,602.0 413.2,602.0 412.0,602.0 410.8,602.3 409.5,606.0 408.2,607.5 407.0,607.9 405.8,608.2 404.5,608.4 403.2,608.5 402.0,608.6 400.8,608.7 399.5,607.6 398.2,603.8 397.0,603.6 395.8,603.5 394.5,603.4 393.2,603.4 392.0,603.3 390.8,603.3 389.5,603.3 388.2,603.3 387.0,603.4 385.8,603.6 384.5,604.0 383.2,604.5 382.0,604.9 380.8,605.2 379.5,605.4 378.2,605.6 377.0,605.7 375.8,605.9 374.5,606.2 373.2,606.6 372.0,609.4 370.8,611.5 369.5,611.9 368.2,612.2 367.0,612.4 365.8,612.5 364.5,612.6 363.2,612.7 362.0,612.2 360.8,608.4 359.5,608.0 358.2,608.2 357.0,608.4 355.8,608.6 354.5,608.7 353.2,608.6 352.0,608.5 350.8,608.2 349.5,607.9 348.2,607.6 347.0,607.4 345.8,607.3 344.5,607.2 343.2,607.1 342.0,607.0 340.8,606.9 339.5,606.9 338.2,607.2 337.0,611.3 335.8,611.4 334.5,611.3 333.2,611.2 332.0,611.1 330.8,610.8 329.5,610.5 328.2,610.1 327.0,607.6 325.8,604.8 324.5,603.8 323.2,603.2 322.0,602.5 320.8,602.0 319.5,601.4 318.2,600.9 317.0,600.5 315.8,600.1 314.5,599.8 313.2,599.6 312.0,599.4 310.8,599.2 309.5,599.1 308.2,598.9 307.0,598.8 305.8,598.5 304.5,598.2 303.2,597.7 302.0,597.2 300.8,596.7 299.5,596.3 298.2,596.0 297.0,595.7 295.8,595.5 294.5,595.2 293.2,595.1 292.0,594.9 290.8,594.9 289.5,595.0 288.2,595.2 287.0,595.4 285.8,595.8 284.5,596.1 283.2,596.6 282.0,597.1 280.8,598.1 279.5,599.0 278.2,599.5 277.0,599.5 275.8,598.8 274.5,597.8 273.2,596.8 272.0,596.0 270.8,595.3 269.5,594.7 268.2,594.1 267.0,593.6 265.8,593.0 264.5,592.5 263.2,592.2 262.0,592.3 260.8,592.6 259.5,592.9 258.2,593.3 257.0,593.6 255.8,593.6 254.5,593.5 253.2,593.5 252.0,593.3 250.8,593.1 249.5,592.9 248.2,592.6 247.0,592.2 245.8,591.1 244.5,589.4 243.2,588.9 242.0,588.9 240.8,589.0 239.5,589.2 238.2,589.4 237.0,589.7 235.8,590.2 234.5,591.8 233.2,593.0 232.0,593.6 230.8,594.0 229.5,594.4 228.2,594.7 227.0,595.0 225.8,595.2 224.5,595.5 223.2,595.7 222.0,596.0 220.8,596.3 219.5,596.7 218.2,597.1 217.0,597.6 215.8,598.1 214.5,598.7 213.2,599.2 212.0,599.8 210.8,600.3 209.5,600.9 208.2,601.4 207.0,601.9 205.8,602.4 204.5,603.0 203.2,603.6 202.0,604.1 200.8,604.8 199.5,605.4 198.2,606.0 197.0,606.7 195.8,607.4 194.5,608.2 193.2,609.0 192.0,609.8 190.8,610.7 189.5,611.7 188.2,612.7 187.0,613.9 185.8,615.1 184.5,616.6 183.2,617.9 182.0,618.5 180.8,618.9 179.5,619.2 178.2,619.3 177.0,619.4 175.8,619.3 174.5,619.0 173.2,618.6 172.0,617.8 170.8,617.1 169.5,617.3 168.2,617.6 167.0,617.6 165.8,616.7 164.5,615.4 163.2,614.0 162.0,612.3 160.8,610.3 159.5,608.2 158.2,606.2 157.0,604.1 155.8,601.9 154.5,599.6 153.2,597.0 152.0,594.2 150.8,591.3 149.5,588.5 148.2,585.8 147.0,583.1 145.8,580.5 144.5,578.2 143.2,576.0 142.0,573.9 140.8,572.0 139.5,570.2 138.2,568.5 137.0,566.9 135.8,565.3 134.5,563.9 133.2,562.6 132.0,561.3 130.8,560.0 129.5,558.8 128.2,557.7 127.0,556.7 125.8,556.0 124.5,555.4 123.2,554.9 122.0,554.4 120.8,553.9 119.5,553.5 118.2,553.2 117.0,552.8 115.8,552.6 114.5,552.4 113.2,552.2 112.0,552.2Z" fill="#c4c4c4" stroke="none"/>
<path d="M112.0,552.20 113.2,552.17 114.5,552.07 115.8,551.91 117.0,551.71 118.2,551.45 119.5,551.16 120.8,550.83 122.0,550.48 123.2,550.09 124.5,549.70 125.8,549.28 127.0,548.74 128.2,548.05 129.5,547.25 130.8,546.34 132.0,545.36 133.2,544.31 134.5,543.09 135.8,541.68 137.0,540.12 138.2,538.45 139.5,536.70 140.8,534.81 142.0,532.72 143.2,530.46 144.5,528.08 145.8,525.53 147.0,522.70 148.2,519.80 149.5,517.04 150.8,514.41 152.0,511.83 153.2,509.23 154.5,506.54 155.8,503.68 157.0,500.74 158.2,497.89 159.5,495.29 160.8,492.83 162.0,490.47 163.2,488.72 164.5,487.73 165.8,486.93 167.0,486.46 168.2,486.43 169.5,486.62 170.8,486.87 172.0,487.06 173.2,486.88 174.5,486.00 175.8,485.82 177.0,485.72 178.2,485.73 179.5,485.96 180.8,486.32 182.0,486.85 183.2,487.67 184.5,488.56 185.8,489.55 187.0,490.63 188.2,491.81 189.5,493.05 190.8,494.04 192.0,494.81 193.2,495.47 194.5,496.09 195.8,496.71 197.0,497.37 198.2,498.05 199.5,498.73 200.8,499.41 202.0,500.10 203.2,500.79 204.5,501.50 205.8,502.25 207.0,503.01 208.2,503.72 209.5,504.35 210.8,504.90 212.0,505.43 213.2,505.93 214.5,506.40 215.8,506.85 217.0,507.28 218.2,507.70 219.5,508.10 220.8,508.50 222.0,508.86 223.2,509.21 224.5,509.55 225.8,509.90 227.0,510.26 228.2,510.58 229.5,510.86 230.8,511.17 232.0,511.56 233.2,512.08 234.5,513.25 235.8,514.85 237.0,515.27 238.2,515.49 239.5,515.66 240.8,515.79 242.0,515.86 243.2,515.90 244.5,515.37 245.8,513.76 247.0,512.78 248.2,512.56 249.5,512.39 250.8,512.25 252.0,512.15 253.2,512.06 254.5,511.99 255.8,511.93 257.0,511.87 258.2,511.82 259.5,511.78 260.8,511.75 262.0,511.72 263.2,511.69 264.5,511.65 265.8,511.59 267.0,511.50 268.2,511.01 269.5,509.98 270.8,508.76 272.0,507.73 273.2,507.06 274.5,506.42 275.8,505.89 277.0,505.56 278.2,505.54 279.5,505.87 280.8,506.42 282.0,507.03 283.2,507.56 284.5,508.09 285.8,508.69 287.0,509.28 288.2,509.79 289.5,510.15 290.8,510.30 292.0,510.30 293.2,510.29 294.5,510.27 295.8,510.25 297.0,510.22 298.2,510.19 299.5,509.93 300.8,509.44 302.0,508.80 303.2,508.12 304.5,507.48 305.8,507.00 307.0,506.69 308.2,506.46 309.5,506.26 310.8,506.07 312.0,505.88 313.2,505.64 314.5,505.36 315.8,505.04 317.0,504.70 318.2,504.32 319.5,503.90 320.8,503.43 322.0,502.91 323.2,502.32 324.5,501.67 325.8,500.71 327.0,497.52 328.2,494.68 329.5,494.31 330.8,494.03 332.0,493.81 333.2,493.66 334.5,493.56 335.8,493.51 337.0,493.56 338.2,498.45 339.5,498.79 340.8,498.73 342.0,498.65 343.2,498.54 344.5,498.41 345.8,498.26 347.0,498.09 348.2,497.75 349.5,497.32 350.8,496.87 352.0,496.46 353.2,496.18 354.5,496.10 355.8,496.30 357.0,496.68 358.2,497.10 359.5,497.42 360.8,497.00 362.0,492.03 363.2,491.41 364.5,491.46 365.8,491.56 367.0,491.73 368.2,491.96 369.5,492.27 370.8,492.67 372.0,495.37 373.2,498.86 374.5,499.26 375.8,499.52 377.0,499.70 378.2,499.83 379.5,499.96 380.8,500.12 382.0,500.35 383.2,500.62 384.5,500.89 385.8,501.15 387.0,501.37 388.2,501.53 389.5,501.66 390.8,501.78 392.0,501.90 393.2,502.00 394.5,502.08 395.8,502.15 397.0,502.19 398.2,502.10 399.5,497.10 400.8,495.70 402.0,495.74 403.2,495.82 404.5,495.94 405.8,496.12 407.0,496.35 408.2,496.65 409.5,498.07 410.8,501.84 412.0,502.33 413.2,502.48 414.5,502.60 415.8,502.69 417.0,502.74 418.2,502.78 419.5,502.80 420.8,502.79 422.0,502.71 423.2,502.57 424.5,502.38 425.8,502.18 427.0,501.96 428.2,501.77 429.5,501.62 430.8,501.52 432.0,501.51 433.2,501.61 434.5,501.77 435.8,501.88 437.0,501.38 438.2,499.38 439.5,498.80 440.8,498.80 442.0,498.80 443.2,497.66 444.5,495.16 445.8,495.45 447.0,497.73 448.2,498.48 449.5,498.58 450.8,498.63 452.0,498.74 453.2,499.63 454.5,501.71 455.8,502.34 457.0,502.55 458.2,502.70 459.5,502.78 460.8,502.79 462.0,502.57 463.2,502.13 464.5,501.54 465.8,500.87 467.0,500.21 468.2,499.61 469.5,499.09 470.8,498.59 472.0,498.09 473.2,497.59 474.5,497.09 475.8,496.57 477.0,496.05 478.2,495.50 479.5,494.96 480.8,494.47 482.0,494.01 483.2,493.51 484.5,492.93 485.8,492.22 487.0,491.33 488.2,489.79 489.5,486.91 490.8,483.98 492.0,482.15 493.2,480.74 494.5,479.50 495.8,478.39 497.0,477.39 498.2,476.46 499.5,475.57 500.8,474.67 502.0,473.75 503.2,472.84 504.5,472.02 505.8,471.26 507.0,470.53 508.2,469.78 509.5,468.97 510.8,468.07 512.0,467.04 513.2,465.81 514.5,463.94 515.8,462.02 517.0,460.71 518.2,459.55 519.5,458.51 520.8,457.59 522.0,456.82 523.2,456.23 524.5,455.78 525.8,455.50 527.0,455.53 528.2,455.61 529.5,455.74 530.8,455.87 532.0,455.99 533.2,456.07 534.5,456.08 535.8,455.17 537.0,453.46 538.2,451.65 539.5,450.48 540.8,450.11 542.0,449.85 543.2,449.64 544.5,449.47 545.8,449.33 547.0,449.18 548.2,449.01 549.5,448.80 550.8,448.58 552.0,448.36 553.2,448.09 554.5,447.70 555.8,446.59 557.0,444.86 558.2,443.53 559.5,443.02 560.8,442.59 562.0,442.23 563.2,441.95 564.5,441.74 565.8,441.62 567.0,441.71 568.2,443.10 569.5,445.30 570.8,449.67 572.0,453.49 573.2,454.45 574.5,454.89 575.8,454.61 577.0,453.64 578.2,452.24 579.5,450.66 580.8,449.16 582.0,447.97 583.2,447.33 584.5,446.99 585.8,446.76 587.0,446.56 588.2,446.29 589.5,445.85 590.8,444.43 592.0,438.50 593.2,432.70 594.5,430.59 595.8,429.25 597.0,427.96 598.2,426.66 599.5,425.48 600.8,424.54 602.0,423.94 603.2,423.46 604.5,423.06 605.8,422.79 607.0,422.70 608.2,422.89 609.5,423.20 610.8,423.40 612.0,422.75 613.2,421.03 614.5,419.22 615.8,418.03 617.0,416.90 618.2,415.96 619.5,415.44 620.8,415.45 622.0,415.71 623.2,416.13 624.5,416.69 625.8,417.32 627.0,418.00 628.2,418.88 629.5,420.07 630.8,421.46 632.0,422.93 633.2,424.47 634.5,426.24 635.8,428.10 637.0,429.89 638.2,431.47 639.5,432.94 640.8,434.32 642.0,435.61 642.5,436.10" fill="none" stroke="#000" stroke-width="0.95" stroke-linejoin="round"/>
<path d="M112.0,552.20 113.2,552.17 114.5,552.08 115.8,551.94 117.0,551.75 118.2,551.52 119.5,551.24 120.8,550.94 122.0,550.61 123.2,550.25 124.5,549.88 125.8,549.48 127.0,548.96 128.2,548.30 129.5,547.51 130.8,546.62 132.0,545.65 133.2,544.61 134.5,543.40 135.8,541.99 137.0,540.43 138.2,538.75 139.5,537.00 140.8,535.10 142.0,533.01 143.2,530.76 144.5,528.38 145.8,525.85 147.0,523.05 148.2,520.19 149.5,517.44 150.8,514.82 152.0,512.23 153.2,509.62 154.5,506.95 155.8,504.10 157.0,501.18 158.2,498.36 159.5,495.79 160.8,493.35 162.0,491.03 163.2,489.31 164.5,488.36 165.8,487.60 167.0,487.16 168.2,487.14 169.5,487.38 170.8,487.71 172.0,487.95 173.2,487.89 174.5,487.50 175.8,488.35 177.0,489.81 178.2,490.46 179.5,490.72 180.8,490.94 182.0,491.30 183.2,491.68 184.5,491.82 185.8,491.85 187.0,491.89 188.2,492.46 189.5,493.78 190.8,494.83 192.0,495.56 193.2,496.21 194.5,496.81 195.8,497.42 197.0,498.06 198.2,498.70 199.5,499.35 200.8,499.99 202.0,500.64 203.2,501.30 204.5,501.99 205.8,502.74 207.0,503.50 208.2,504.22 209.5,504.85 210.8,505.40 212.0,505.93 213.2,506.43 214.5,506.90 215.8,507.35 217.0,507.78 218.2,508.20 219.5,508.60 220.8,509.00 222.0,509.36 223.2,509.71 224.5,510.05 225.8,510.40 227.0,510.76 228.2,511.08 229.5,511.36 230.8,511.67 232.0,512.06 233.2,512.58 234.5,513.75 235.8,515.35 237.0,515.77 238.2,515.99 239.5,516.16 240.8,516.29 242.0,516.36 243.2,516.40 244.5,515.87 245.8,514.26 247.0,513.28 248.2,513.06 249.5,512.88 250.8,512.73 252.0,512.62 253.2,512.53 254.5,512.47 255.8,512.42 257.0,512.38 258.2,512.35 259.5,512.33 260.8,512.32 262.0,512.31 263.2,512.29 264.5,512.27 265.8,512.24 267.0,512.20 268.2,511.75 269.5,510.73 270.8,509.54 272.0,508.52 273.2,507.88 274.5,507.28 275.8,506.77 277.0,506.45 278.2,506.44 279.5,506.79 280.8,507.36 282.0,508.00 283.2,508.56 284.5,509.12 285.8,509.75 287.0,510.37 288.2,510.92 289.5,511.32 290.8,511.50 292.0,511.53 293.2,511.56 294.5,511.58 295.8,511.59 297.0,511.60 298.2,511.59 299.5,511.37 300.8,510.90 302.0,510.28 303.2,509.60 304.5,508.98 305.8,508.50 307.0,508.20 308.2,507.96 309.5,507.76 310.8,507.58 312.0,507.38 313.2,507.14 314.5,506.86 315.8,506.54 317.0,506.20 318.2,505.82 319.5,505.40 320.8,504.93 322.0,504.41 323.2,503.82 324.5,503.17 325.8,502.21 327.0,499.02 328.2,496.18 329.5,495.81 330.8,495.53 332.0,495.31 333.2,495.16 334.5,495.06 335.8,495.01 337.0,495.06 338.2,499.95 339.5,500.29 340.8,500.25 342.0,500.18 343.2,500.08 344.5,499.98 345.8,499.86 347.0,499.70 348.2,499.39 349.5,498.98 350.8,498.54 352.0,498.15 353.2,497.88 354.5,497.80 355.8,498.01 357.0,498.42 358.2,498.87 359.5,499.21 360.8,498.81 362.0,493.92 363.2,493.31 364.5,493.37 365.8,493.48 367.0,493.65 368.2,493.91 369.5,494.24 370.8,494.66 372.0,497.39 373.2,500.98 374.5,501.51 375.8,501.86 377.0,502.11 378.2,502.29 379.5,502.47 380.8,502.70 382.0,503.02 383.2,503.40 384.5,503.81 385.8,504.18 387.0,504.46 388.2,504.62 389.5,504.72 390.8,504.82 392.0,504.90 393.2,504.97 394.5,505.03 395.8,505.07 397.0,505.09 398.2,505.00 399.5,500.16 400.8,498.81 402.0,498.85 403.2,498.95 404.5,499.11 405.8,499.33 407.0,499.63 408.2,500.01 409.5,501.64 410.8,505.82 412.0,506.27 413.2,506.34 414.5,506.40 415.8,506.44 417.0,506.47 418.2,506.49 419.5,506.50 420.8,506.49 422.0,506.41 423.2,506.25 424.5,506.05 425.8,505.83 427.0,505.60 428.2,505.39 429.5,505.23 430.8,505.12 432.0,505.10 433.2,505.10 434.5,505.10 435.8,505.10 437.0,504.62 438.2,502.75 439.5,502.20 440.8,502.20 442.0,502.20 443.2,501.12 444.5,498.74 445.8,499.04 447.0,501.27 448.2,501.96 449.5,502.03 450.8,502.07 452.0,502.15 453.2,503.08 454.5,505.36 455.8,506.04 457.0,506.26 458.2,506.40 459.5,506.48 460.8,506.49 462.0,506.23 463.2,505.72 464.5,505.05 465.8,504.30 467.0,503.56 468.2,502.91 469.5,502.39 470.8,501.90 472.0,501.43 473.2,500.97 474.5,500.51 475.8,500.03 477.0,499.54 478.2,499.00 479.5,498.45 480.8,497.93 482.0,497.41 483.2,496.85 484.5,496.20 485.8,495.41 487.0,494.45 488.2,492.90 489.5,490.16 490.8,487.36 492.0,485.54 493.2,484.09 494.5,482.79 495.8,481.62 497.0,480.56 498.2,479.56 499.5,478.61 500.8,477.69 502.0,476.75 503.2,475.85 504.5,475.06 505.8,474.34 507.0,473.65 508.2,472.95 509.5,472.19 510.8,471.33 512.0,470.33 513.2,469.11 514.5,467.15 515.8,465.14 517.0,463.79 518.2,462.59 519.5,461.51 520.8,460.57 522.0,459.82 523.2,459.30 524.5,458.98 525.8,458.80 527.0,458.85 528.2,458.99 529.5,459.19 530.8,459.42 532.0,459.62 533.2,459.76 534.5,459.78 535.8,458.83 537.0,457.03 538.2,455.16 539.5,453.97 540.8,453.64 542.0,453.40 543.2,453.21 544.5,453.06 545.8,452.93 547.0,452.81 548.2,452.67 549.5,452.50 550.8,452.33 552.0,452.18 553.2,451.99 554.5,451.70 555.8,450.83 557.0,449.43 558.2,448.25 559.5,447.61 560.8,447.02 562.0,446.50 563.2,446.06 564.5,445.73 565.8,445.54 567.0,445.60 568.2,446.94 569.5,449.10 570.8,453.48 572.0,457.47 573.2,458.69 574.5,459.29 575.8,459.05 577.0,458.20 578.2,456.97 579.5,455.57 580.8,454.20 582.0,453.08 583.2,452.41 584.5,452.01 585.8,451.73 587.0,451.48 588.2,451.14 589.5,450.61 590.8,449.25 592.0,444.34 593.2,439.46 594.5,437.31 595.8,435.88 597.0,434.92 598.2,434.15 599.5,433.51 600.8,432.98 602.0,432.51 603.2,432.03 604.5,431.60 605.8,431.29 607.0,431.18 608.2,431.37 609.5,431.70 610.8,431.90 612.0,431.27 613.2,429.60 614.5,427.82 615.8,426.62 617.0,425.46 618.2,424.48 619.5,423.94 620.8,423.95 622.0,424.19 623.2,424.58 624.5,425.09 625.8,425.68 627.0,426.31 628.2,427.11 629.5,428.18 630.8,429.45 632.0,430.85 633.2,432.45 634.5,434.50 635.8,436.70 637.0,438.68 638.2,440.16 639.5,441.42 640.8,442.52 642.0,443.40 642.5,443.69" fill="none" stroke="#000" stroke-width="1.2" stroke-linejoin="round"/>
<path d="M112.0,552.20 113.2,552.17 114.5,552.09 115.8,551.96 117.0,551.79 118.2,551.57 119.5,551.33 120.8,551.05 122.0,550.74 123.2,550.41 124.5,550.06 125.8,549.69 127.0,549.19 128.2,548.54 129.5,547.77 130.8,546.89 132.0,545.94 133.2,544.92 134.5,543.71 135.8,542.30 137.0,540.74 138.2,539.06 139.5,537.30 140.8,535.40 142.0,533.30 143.2,531.05 144.5,528.68 145.8,526.16 147.0,523.40 148.2,520.57 149.5,517.85 150.8,515.22 152.0,512.61 153.2,510.01 154.5,507.35 155.8,504.54 157.0,501.67 158.2,498.92 159.5,496.48 160.8,494.23 162.0,492.12 163.2,490.57 164.5,489.72 165.8,489.05 167.0,488.65 168.2,488.63 169.5,488.81 170.8,489.08 172.0,489.36 173.2,489.58 174.5,489.80 175.8,490.33 177.0,491.02 178.2,491.44 179.5,491.70 180.8,491.94 182.0,492.29 183.2,492.70 184.5,493.00 185.8,493.20 187.0,493.44 188.2,494.08 189.5,495.13 190.8,496.01 192.0,496.67 193.2,497.26 194.5,497.84 195.8,498.47 197.0,499.22 198.2,500.16 199.5,501.09 200.8,501.83 202.0,502.52 203.2,503.18 204.5,503.82 205.8,504.44 207.0,505.03 208.2,505.60 209.5,506.15 210.8,506.68 212.0,507.20 213.2,507.71 214.5,508.20 215.8,508.68 217.0,509.16 218.2,509.63 219.5,510.09 220.8,510.53 222.0,510.90 223.2,511.22 224.5,511.51 225.8,511.80 227.0,512.09 228.2,512.42 229.5,512.80 230.8,513.25 232.0,513.79 233.2,514.45 234.5,515.81 235.8,517.77 237.0,518.69 238.2,519.38 239.5,519.97 240.8,520.43 242.0,520.75 243.2,520.89 244.5,520.64 245.8,519.89 247.0,519.50 248.2,519.50 249.5,519.50 250.8,519.50 252.0,519.50 253.2,519.50 254.5,519.50 255.8,519.50 257.0,519.53 258.2,519.69 259.5,519.99 260.8,520.38 262.0,520.83 263.2,521.30 264.5,521.78 265.8,522.22 267.0,522.60 268.2,522.99 269.5,523.38 270.8,523.59 272.0,523.44 273.2,522.90 274.5,522.12 275.8,521.27 277.0,520.52 278.2,519.98 279.5,519.45 280.8,519.04 282.0,518.90 283.2,518.98 284.5,519.15 285.8,519.39 287.0,519.68 288.2,519.97 289.5,520.25 290.8,520.49 292.0,520.72 293.2,520.97 294.5,521.22 295.8,521.42 297.0,521.56 298.2,521.60 299.5,521.47 300.8,521.21 302.0,520.88 303.2,520.52 304.5,520.19 305.8,519.95 307.0,519.81 308.2,519.70 309.5,519.61 310.8,519.53 312.0,519.45 313.2,519.35 314.5,519.25 315.8,519.14 317.0,519.04 318.2,518.93 319.5,518.81 320.8,518.68 322.0,518.52 323.2,518.34 324.5,518.14 325.8,517.80 327.0,515.58 328.2,513.04 329.5,512.52 330.8,512.11 332.0,511.79 333.2,511.56 334.5,511.41 335.8,511.32 337.0,511.34 338.2,514.99 339.5,515.55 340.8,515.80 342.0,515.97 343.2,516.10 344.5,516.17 345.8,516.20 347.0,516.20 348.2,516.20 349.5,516.20 350.8,516.20 352.0,516.20 353.2,516.20 354.5,516.20 355.8,516.40 357.0,516.78 358.2,517.20 359.5,517.52 360.8,517.24 362.0,513.66 363.2,513.22 364.5,513.32 365.8,513.52 367.0,513.83 368.2,514.23 369.5,514.76 370.8,515.40 372.0,517.70 373.2,520.34 374.5,520.62 375.8,520.79 377.0,520.89 378.2,520.98 379.5,521.07 380.8,521.22 382.0,521.49 383.2,521.90 384.5,522.39 385.8,522.90 387.0,523.34 388.2,523.65 389.5,523.90 390.8,524.15 392.0,524.38 393.2,524.59 394.5,524.76 395.8,524.89 397.0,524.98 398.2,524.92 399.5,521.00 400.8,519.91 402.0,520.03 403.2,520.26 404.5,520.61 405.8,521.10 407.0,521.73 408.2,522.51 409.5,524.79 410.8,529.87 412.0,530.29 413.2,530.26 414.5,530.20 415.8,530.11 417.0,530.01 418.2,529.90 419.5,529.77 420.8,529.63 422.0,529.41 423.2,529.10 424.5,528.73 425.8,528.31 427.0,527.86 428.2,527.41 429.5,526.97 430.8,526.56 432.0,526.19 433.2,525.87 434.5,525.56 435.8,525.19 437.0,524.67 438.2,523.93 439.5,523.47 440.8,523.26 442.0,523.00 443.2,521.73 444.5,519.60 445.8,519.73 447.0,521.22 448.2,521.60 449.5,521.60 450.8,521.60 452.0,521.60 453.2,522.33 454.5,524.31 455.8,524.67 457.0,524.50 458.2,524.21 459.5,523.86 460.8,523.50 462.0,523.05 463.2,522.50 464.5,521.87 465.8,521.18 467.0,520.45 468.2,519.71 469.5,518.94 470.8,518.09 472.0,517.18 473.2,516.22 474.5,515.23 475.8,514.22 477.0,513.22 478.2,512.24 479.5,511.31 480.8,510.46 482.0,509.63 483.2,508.79 484.5,507.87 485.8,506.84 487.0,505.63 488.2,504.01 489.5,501.71 490.8,499.42 492.0,497.80 493.2,496.45 494.5,495.23 495.8,494.12 497.0,493.09 498.2,492.12 499.5,491.17 500.8,490.23 502.0,489.26 503.2,488.30 504.5,487.42 505.8,486.59 507.0,485.79 508.2,484.96 509.5,484.09 510.8,483.14 512.0,482.08 513.2,480.85 514.5,479.11 515.8,477.37 517.0,476.13 518.2,475.04 519.5,474.05 520.8,473.17 522.0,472.42 523.2,471.79 524.5,471.28 525.8,470.92 527.0,470.76 528.2,470.66 529.5,470.59 530.8,470.53 532.0,470.46 533.2,470.34 534.5,470.15 535.8,469.37 537.0,468.04 538.2,466.63 539.5,465.60 540.8,465.07 542.0,464.64 543.2,464.28 544.5,463.96 545.8,463.67 547.0,463.40 548.2,463.11 549.5,462.80 550.8,462.50 552.0,462.22 553.2,461.91 554.5,461.50 555.8,460.79 557.0,459.84 558.2,458.94 559.5,458.24 560.8,457.51 562.0,456.79 563.2,456.16 564.5,455.67 565.8,455.36 567.0,455.39 568.2,456.57 569.5,458.47 570.8,462.49 572.0,466.18 573.2,467.33 574.5,467.89 575.8,467.63 577.0,466.72 578.2,465.40 579.5,463.91 580.8,462.49 582.0,461.36 583.2,460.73 584.5,460.39 585.8,460.17 587.0,459.97 588.2,459.70 589.5,459.26 590.8,457.64 592.0,450.48 593.2,443.65 594.5,441.42 595.8,440.12 597.0,439.36 598.2,438.80 599.5,438.36 600.8,437.99 602.0,437.62 603.2,437.22 604.5,436.84 605.8,436.57 607.0,436.47 608.2,436.82 609.5,437.43 610.8,437.79 612.0,437.07 613.2,435.13 614.5,433.11 615.8,431.80 617.0,430.57 618.2,429.56 619.5,429.00 620.8,428.99 622.0,429.14 623.2,429.40 624.5,429.74 625.8,430.15 627.0,430.60 628.2,431.27 629.5,432.28 630.8,433.52 632.0,434.89 633.2,436.43 634.5,438.43 635.8,440.57 637.0,442.51 638.2,443.95 639.5,445.18 640.8,446.25 642.0,447.12 642.5,447.40" fill="none" stroke="#000" stroke-width="1.3" stroke-linejoin="round"/>
<path d="M112.0,552.20 113.2,552.17 114.5,552.10 115.8,551.99 117.0,551.83 118.2,551.63 119.5,551.41 120.8,551.15 122.0,550.87 123.2,550.56 124.5,550.24 125.8,549.90 127.0,549.42 128.2,548.79 129.5,548.03 130.8,547.17 132.0,546.23 133.2,545.22 134.5,544.02 135.8,542.61 137.0,541.04 138.2,539.36 139.5,537.60 140.8,535.70 142.0,533.59 143.2,531.33 144.5,528.97 145.8,526.49 147.0,523.80 148.2,521.04 149.5,518.35 150.8,515.72 152.0,513.10 153.2,510.49 154.5,507.86 155.8,505.11 157.0,502.31 158.2,499.67 159.5,497.36 160.8,495.31 162.0,493.42 163.2,492.04 164.5,491.29 165.8,490.70 167.0,490.35 168.2,490.32 169.5,490.47 170.8,490.68 172.0,490.90 173.2,491.06 174.5,491.20 175.8,491.57 177.0,492.07 178.2,492.43 179.5,492.68 180.8,492.94 182.0,493.27 183.2,493.66 184.5,494.06 185.8,494.44 187.0,494.91 188.2,495.68 189.5,496.73 190.8,497.62 192.0,498.31 193.2,498.94 194.5,499.55 195.8,500.18 197.0,500.90 198.2,501.71 199.5,502.51 200.8,503.21 202.0,503.88 203.2,504.53 204.5,505.16 205.8,505.77 207.0,506.37 208.2,506.96 209.5,507.53 210.8,508.09 212.0,508.64 213.2,509.19 214.5,509.72 215.8,510.24 217.0,510.76 218.2,511.27 219.5,511.78 220.8,512.27 222.0,512.74 223.2,513.18 224.5,513.61 225.8,514.02 227.0,514.44 228.2,514.87 229.5,515.31 230.8,515.77 232.0,516.26 233.2,516.79 234.5,517.42 235.8,518.23 237.0,519.15 238.2,520.09 239.5,520.99 240.8,521.75 242.0,522.31 243.2,522.59 244.5,522.29 245.8,521.38 247.0,520.90 248.2,520.92 249.5,520.97 250.8,521.05 252.0,521.14 253.2,521.26 254.5,521.39 255.8,521.54 257.0,521.70 258.2,521.95 259.5,522.28 260.8,522.67 262.0,523.11 263.2,523.57 264.5,524.03 265.8,524.48 267.0,524.90 268.2,525.39 269.5,525.90 270.8,526.19 272.0,526.10 273.2,525.74 274.5,525.19 275.8,524.56 277.0,523.92 278.2,523.32 279.5,522.53 280.8,521.84 282.0,521.60 283.2,521.76 284.5,522.12 285.8,522.60 287.0,523.15 288.2,523.71 289.5,524.21 290.8,524.59 292.0,524.89 293.2,525.20 294.5,525.48 295.8,525.71 297.0,525.86 298.2,525.90 299.5,525.77 300.8,525.51 302.0,525.17 303.2,524.79 304.5,524.44 305.8,524.16 307.0,523.97 308.2,523.81 309.5,523.67 310.8,523.54 312.0,523.41 313.2,523.27 314.5,523.13 315.8,523.00 317.0,522.88 318.2,522.75 319.5,522.62 320.8,522.48 322.0,522.32 323.2,522.14 324.5,521.95 325.8,521.67 327.0,520.06 328.2,518.28 329.5,517.90 330.8,517.60 332.0,517.36 333.2,517.19 334.5,517.08 335.8,517.02 337.0,517.05 338.2,521.53 339.5,522.15 340.8,522.40 342.0,522.58 343.2,522.70 344.5,522.77 345.8,522.80 347.0,522.80 348.2,522.80 349.5,522.80 350.8,522.80 352.0,522.80 353.2,522.80 354.5,522.80 355.8,522.99 357.0,523.34 358.2,523.73 359.5,524.02 360.8,523.70 362.0,519.71 363.2,519.21 364.5,519.28 365.8,519.40 367.0,519.59 368.2,519.86 369.5,520.22 370.8,520.66 372.0,522.91 373.2,525.50 374.5,525.50 375.8,525.50 377.0,525.50 378.2,525.50 379.5,525.50 380.8,525.50 382.0,525.55 383.2,525.79 384.5,526.15 385.8,526.57 387.0,526.96 388.2,527.25 389.5,527.51 390.8,527.78 392.0,528.04 393.2,528.29 394.5,528.50 395.8,528.66 397.0,528.77 398.2,528.70 399.5,523.70 400.8,522.31 402.0,522.41 403.2,522.62 404.5,522.93 405.8,523.37 407.0,523.94 408.2,524.64 409.5,526.84 410.8,531.87 412.0,532.30 413.2,532.27 414.5,532.23 415.8,532.18 417.0,532.12 418.2,532.04 419.5,531.95 420.8,531.84 422.0,531.62 423.2,531.28 424.5,530.84 425.8,530.35 427.0,529.81 428.2,529.26 429.5,528.72 430.8,528.21 432.0,527.76 433.2,527.36 434.5,526.96 435.8,526.51 437.0,525.97 438.2,525.30 439.5,524.87 440.8,524.67 442.0,524.40 443.2,523.19 444.5,521.18 445.8,521.36 447.0,522.95 448.2,523.44 449.5,523.49 450.8,523.51 452.0,523.57 453.2,524.34 454.5,526.23 455.8,526.58 457.0,526.42 458.2,526.16 459.5,525.84 460.8,525.50 462.0,525.07 463.2,524.52 464.5,523.89 465.8,523.19 467.0,522.46 468.2,521.71 469.5,520.94 470.8,520.09 472.0,519.18 473.2,518.22 474.5,517.23 475.8,516.22 477.0,515.22 478.2,514.24 479.5,513.31 480.8,512.46 482.0,511.63 483.2,510.79 484.5,509.87 485.8,508.84 487.0,507.63 488.2,506.01 489.5,503.70 490.8,501.42 492.0,499.80 493.2,498.46 494.5,497.26 495.8,496.17 497.0,495.16 498.2,494.20 499.5,493.26 500.8,492.32 502.0,491.36 503.2,490.39 504.5,489.50 505.8,488.65 507.0,487.81 508.2,486.97 509.5,486.08 510.8,485.12 512.0,484.07 513.2,482.86 514.5,481.24 515.8,479.64 517.0,478.48 518.2,477.44 519.5,476.50 520.8,475.66 522.0,474.95 523.2,474.37 524.5,473.93 525.8,473.62 527.0,473.47 528.2,473.37 529.5,473.30 530.8,473.24 532.0,473.16 533.2,473.04 534.5,472.85 535.8,472.03 537.0,470.65 538.2,469.23 539.5,468.28 540.8,467.91 542.0,467.64 543.2,467.43 544.5,467.25 545.8,467.10 547.0,466.93 548.2,466.74 549.5,466.50 550.8,466.21 552.0,465.88 553.2,465.52 554.5,465.10 555.8,464.54 557.0,463.89 558.2,463.29 559.5,462.83 560.8,462.37 562.0,461.92 563.2,461.53 564.5,461.22 565.8,461.04 567.0,461.13 568.2,462.76 569.5,465.21 570.8,469.18 572.0,472.84 573.2,474.50 574.5,475.38 575.8,475.13 577.0,474.22 578.2,472.94 579.5,471.51 580.8,470.21 582.0,469.28 583.2,468.93 584.5,468.80 585.8,468.73 587.0,468.67 588.2,468.58 589.5,468.43 590.8,467.17 592.0,460.09 593.2,453.70 594.5,452.58 595.8,452.06 597.0,451.55 598.2,451.07 599.5,450.64 600.8,450.27 602.0,449.97 603.2,449.68 604.5,449.43 605.8,449.24 607.0,449.18 608.2,449.51 609.5,450.08 610.8,450.42 612.0,449.92 613.2,448.53 614.5,446.92 615.8,445.55 617.0,443.96 618.2,442.51 619.5,441.68 620.8,441.68 622.0,441.97 623.2,442.44 624.5,443.02 625.8,443.64 627.0,444.24 628.2,444.85 629.5,445.53 630.8,446.27 632.0,447.08 633.2,448.00 634.5,449.14 635.8,450.31 637.0,451.32 638.2,452.00 639.5,452.56 640.8,453.02 642.0,453.35 642.5,453.43" fill="none" stroke="#000" stroke-width="1.3" stroke-linejoin="round"/>
<path d="M112.0,552.20 113.2,552.18 114.5,552.11 115.8,552.01 117.0,551.87 118.2,551.69 119.5,551.48 120.8,551.25 122.0,551.00 123.2,550.72 124.5,550.42 125.8,550.11 127.0,549.66 128.2,549.06 129.5,548.34 130.8,547.51 132.0,546.61 133.2,545.63 134.5,544.44 135.8,543.03 137.0,541.46 138.2,539.76 139.5,538.00 140.8,536.09 142.0,533.97 143.2,531.71 144.5,529.36 145.8,526.93 147.0,524.35 148.2,521.69 149.5,519.06 150.8,516.43 152.0,513.78 153.2,511.16 154.5,508.58 155.8,505.92 157.0,503.25 158.2,500.76 159.5,498.65 160.8,496.83 162.0,495.21 163.2,494.02 164.5,493.33 165.8,492.77 167.0,492.44 168.2,492.43 169.5,492.62 170.8,492.87 172.0,493.06 173.2,492.99 174.5,492.60 175.8,492.76 177.0,493.11 178.2,493.44 179.5,493.76 180.8,494.12 182.0,494.54 183.2,495.01 184.5,495.48 185.8,495.93 187.0,496.49 188.2,497.51 189.5,498.95 190.8,500.05 192.0,500.85 193.2,501.54 194.5,502.17 195.8,502.80 197.0,503.48 198.2,504.16 199.5,504.83 200.8,505.51 202.0,506.19 203.2,506.89 204.5,507.61 205.8,508.37 207.0,509.13 208.2,509.87 209.5,510.55 210.8,511.17 212.0,511.77 213.2,512.34 214.5,512.90 215.8,513.43 217.0,513.95 218.2,514.47 219.5,514.98 220.8,515.47 222.0,515.90 223.2,516.30 224.5,516.67 225.8,517.04 227.0,517.42 228.2,517.82 229.5,518.27 230.8,518.78 232.0,519.37 233.2,520.05 234.5,521.12 235.8,522.53 237.0,523.42 238.2,524.22 239.5,524.95 240.8,525.55 242.0,525.98 243.2,526.19 244.5,525.83 245.8,524.76 247.0,524.20 248.2,524.27 249.5,524.43 250.8,524.68 252.0,524.98 253.2,525.33 254.5,525.69 255.8,526.05 257.0,526.40 258.2,526.80 259.5,527.24 260.8,527.71 262.0,528.21 263.2,528.73 264.5,529.26 265.8,529.78 267.0,530.30 268.2,530.93 269.5,531.60 270.8,531.99 272.0,531.94 273.2,531.72 274.5,531.38 275.8,530.97 277.0,530.54 278.2,530.08 279.5,529.38 280.8,528.73 282.0,528.50 283.2,528.66 284.5,529.00 285.8,529.48 287.0,530.02 288.2,530.58 289.5,531.09 290.8,531.49 292.0,531.82 293.2,532.17 294.5,532.50 295.8,532.77 297.0,532.95 298.2,533.00 299.5,532.97 300.8,532.89 302.0,532.79 303.2,532.67 304.5,532.55 305.8,532.43 307.0,532.32 308.2,532.20 309.5,532.07 310.8,531.93 312.0,531.80 313.2,531.67 314.5,531.54 315.8,531.43 317.0,531.32 318.2,531.21 319.5,531.11 320.8,530.99 322.0,530.87 323.2,530.73 324.5,530.60 325.8,530.41 327.0,528.85 328.2,526.98 329.5,526.60 330.8,526.29 332.0,526.06 333.2,525.89 334.5,525.78 335.8,525.72 337.0,525.74 338.2,529.09 339.5,529.74 340.8,530.06 342.0,530.29 343.2,530.45 344.5,530.56 345.8,530.66 347.0,530.75 348.2,530.82 349.5,530.88 350.8,530.93 352.0,530.98 353.2,531.04 354.5,531.11 355.8,531.22 357.0,531.36 358.2,531.49 359.5,531.58 360.8,531.20 362.0,527.21 363.2,526.71 364.5,526.76 365.8,526.86 367.0,527.01 368.2,527.23 369.5,527.52 370.8,527.88 372.0,529.92 373.2,532.43 374.5,532.63 375.8,532.75 377.0,532.82 378.2,532.88 379.5,532.94 380.8,533.05 382.0,533.23 383.2,533.53 384.5,533.89 385.8,534.24 387.0,534.54 388.2,534.73 389.5,534.86 390.8,534.99 392.0,535.10 393.2,535.21 394.5,535.29 395.8,535.35 397.0,535.39 398.2,535.33 399.5,532.03 400.8,531.11 402.0,531.16 403.2,531.28 404.5,531.46 405.8,531.72 407.0,532.06 408.2,532.48 409.5,534.14 410.8,538.30 412.0,538.85 413.2,539.03 414.5,539.17 415.8,539.27 417.0,539.34 418.2,539.38 419.5,539.40 420.8,539.38 422.0,539.24 423.2,538.96 424.5,538.59 425.8,538.15 427.0,537.67 428.2,537.19 429.5,536.73 430.8,536.33 432.0,536.01 433.2,535.76 434.5,535.52 435.8,535.25 437.0,534.86 438.2,534.32 439.5,533.81 440.8,533.39 442.0,532.87 443.2,531.64 444.5,530.02 445.8,530.15 447.0,531.46 448.2,532.22 449.5,532.57 450.8,532.84 452.0,533.22 453.2,534.23 454.5,535.81 455.8,536.08 457.0,535.98 458.2,535.80 459.5,535.57 460.8,535.33 462.0,534.98 463.2,534.53 464.5,534.00 465.8,533.42 467.0,532.82 468.2,532.23 469.5,531.65 470.8,531.05 472.0,530.42 473.2,529.78 474.5,529.11 475.8,528.43 477.0,527.71 478.2,526.98 479.5,526.22 480.8,525.45 482.0,524.65 483.2,523.81 484.5,522.93 485.8,521.99 487.0,520.99 488.2,519.88 489.5,518.57 490.8,517.25 492.0,516.06 493.2,514.95 494.5,513.89 495.8,512.86 497.0,511.85 498.2,510.85 499.5,509.84 500.8,508.80 502.0,507.74 503.2,506.63 504.5,505.50 505.8,504.35 507.0,503.19 508.2,502.01 509.5,500.84 510.8,499.67 512.0,498.51 513.2,497.36 514.5,496.17 515.8,495.04 517.0,494.04 518.2,493.08 519.5,492.15 520.8,491.29 522.0,490.53 523.2,489.90 524.5,489.44 525.8,489.05 527.0,488.58 528.2,488.08 529.5,487.54 530.8,486.96 532.0,486.33 533.2,485.63 534.5,484.87 535.8,483.80 537.0,482.52 538.2,481.30 539.5,480.40 540.8,479.89 542.0,479.51 543.2,479.21 544.5,478.96 545.8,478.71 547.0,478.43 548.2,478.07 549.5,477.60 550.8,476.81 552.0,475.71 553.2,474.55 554.5,473.60 555.8,472.86 557.0,472.20 558.2,471.68 559.5,471.29 560.8,470.92 562.0,470.57 563.2,470.28 564.5,470.06 565.8,469.93 567.0,469.99 568.2,471.20 569.5,473.18 570.8,477.60 572.0,481.59 573.2,482.61 574.5,483.09 575.8,482.85 577.0,482.04 578.2,480.86 579.5,479.54 580.8,478.30 582.0,477.35 583.2,476.88 584.5,476.66 585.8,476.51 587.0,476.39 588.2,476.22 589.5,475.94 590.8,474.55 592.0,467.71 593.2,461.40 594.5,459.87 595.8,459.08 597.0,458.64 598.2,458.28 599.5,458.01 600.8,457.83 602.0,457.77 603.2,457.73 604.5,457.71 605.8,457.69 607.0,457.69 608.2,457.96 609.5,458.42 610.8,458.71 612.0,458.22 613.2,456.89 614.5,455.39 615.8,454.18 617.0,452.83 618.2,451.63 619.5,450.95 620.8,450.94 622.0,451.15 623.2,451.49 624.5,451.92 625.8,452.40 627.0,452.90 628.2,453.50 629.5,454.26 630.8,455.10 632.0,455.94 633.2,456.77 634.5,457.67 635.8,458.55 637.0,459.29 638.2,459.81 639.5,460.24 640.8,460.59 642.0,460.84 642.5,460.90" fill="none" stroke="#000" stroke-width="1.3" stroke-linejoin="round"/>
<path d="M112.0,552.20 113.2,552.18 114.5,552.12 115.8,552.03 117.0,551.90 118.2,551.74 119.5,551.56 120.8,551.35 122.0,551.12 123.2,550.87 124.5,550.60 125.8,550.31 127.0,549.92 128.2,549.39 129.5,548.74 130.8,547.99 132.0,547.16 133.2,546.25 134.5,545.06 135.8,543.61 137.0,542.01 138.2,540.34 139.5,538.70 140.8,537.10 142.0,535.46 143.2,533.74 144.5,531.91 145.8,529.87 147.0,527.53 148.2,525.24 149.5,523.34 150.8,521.65 152.0,520.11 153.2,518.76 154.5,517.66 155.8,516.71 157.0,515.87 158.2,515.14 159.5,514.54 160.8,514.04 162.0,513.60 163.2,513.27 164.5,513.03 165.8,512.81 167.0,512.63 168.2,512.52 169.5,512.55 170.8,513.01 172.0,513.63 173.2,514.06 174.5,514.40 175.8,514.71 177.0,515.00 178.2,515.28 179.5,515.55 180.8,515.84 182.0,516.13 183.2,516.42 184.5,516.70 185.8,517.02 187.0,517.38 188.2,517.80 189.5,518.26 190.8,518.74 192.0,519.33 193.2,519.97 194.5,520.57 195.8,521.03 197.0,521.27 198.2,521.42 199.5,521.52 200.8,521.61 202.0,521.70 203.2,521.83 204.5,522.02 205.8,522.29 207.0,522.63 208.2,522.98 209.5,523.33 210.8,523.66 212.0,524.01 213.2,524.36 214.5,524.72 215.8,525.08 217.0,525.43 218.2,525.78 219.5,526.12 220.8,526.43 222.0,526.70 223.2,526.93 224.5,527.14 225.8,527.36 227.0,527.58 228.2,527.84 229.5,528.14 230.8,528.50 232.0,528.94 233.2,529.48 234.5,530.77 235.8,532.67 237.0,533.26 238.2,533.62 239.5,533.90 240.8,534.11 242.0,534.24 243.2,534.30 244.5,534.09 245.8,533.43 247.0,532.99 248.2,532.82 249.5,532.68 250.8,532.56 252.0,532.46 253.2,532.38 254.5,532.33 255.8,532.30 257.0,532.32 258.2,532.46 259.5,532.71 260.8,533.05 262.0,533.47 263.2,533.96 264.5,534.48 265.8,535.04 267.0,535.60 268.2,536.49 269.5,537.60 270.8,538.28 272.0,538.23 273.2,537.99 274.5,537.60 275.8,537.12 277.0,536.60 278.2,535.99 279.5,534.96 280.8,533.96 282.0,533.60 283.2,533.78 284.5,534.18 285.8,534.73 287.0,535.36 288.2,536.01 289.5,536.60 290.8,537.08 292.0,537.50 293.2,537.94 294.5,538.36 295.8,538.71 297.0,538.94 298.2,539.00 299.5,538.93 300.8,538.78 302.0,538.58 303.2,538.36 304.5,538.14 305.8,537.95 307.0,537.79 308.2,537.63 309.5,537.48 310.8,537.33 312.0,537.19 313.2,537.06 314.5,536.95 315.8,536.86 317.0,536.79 318.2,536.72 319.5,536.65 320.8,536.57 322.0,536.46 323.2,536.33 324.5,536.15 325.8,535.80 327.0,533.93 328.2,531.85 329.5,531.39 330.8,531.03 332.0,530.74 333.2,530.54 334.5,530.40 335.8,530.32 337.0,530.35 338.2,534.33 339.5,535.12 340.8,535.53 342.0,535.82 343.2,536.03 344.5,536.17 345.8,536.26 347.0,536.34 348.2,536.40 349.5,536.44 350.8,536.48 352.0,536.51 353.2,536.56 354.5,536.61 355.8,536.70 357.0,536.81 358.2,536.91 359.5,536.98 360.8,536.59 362.0,532.52 363.2,532.01 364.5,532.06 365.8,532.16 367.0,532.31 368.2,532.53 369.5,532.82 370.8,533.18 372.0,535.52 373.2,538.30 374.5,538.30 375.8,538.30 377.0,538.30 378.2,538.30 379.5,538.30 380.8,538.30 382.0,538.34 383.2,538.53 384.5,538.81 385.8,539.13 387.0,539.43 388.2,539.63 389.5,539.80 390.8,539.98 392.0,540.14 393.2,540.29 394.5,540.42 395.8,540.52 397.0,540.58 398.2,540.55 399.5,537.93 400.8,537.20 402.0,537.22 403.2,537.26 404.5,537.32 405.8,537.42 407.0,537.55 408.2,537.71 409.5,539.25 410.8,543.82 412.0,544.58 413.2,544.90 414.5,545.15 415.8,545.34 417.0,545.47 418.2,545.56 419.5,545.59 420.8,545.58 422.0,545.42 423.2,545.11 424.5,544.71 425.8,544.23 427.0,543.72 428.2,543.23 429.5,542.77 430.8,542.39 432.0,542.13 433.2,541.94 434.5,541.77 435.8,541.59 437.0,541.37 438.2,541.10 439.5,540.74 440.8,540.22 442.0,539.64 443.2,538.95 444.5,538.28 445.8,538.49 447.0,539.65 448.2,540.48 449.5,540.97 450.8,541.41 452.0,541.97 453.2,543.00 454.5,544.47 455.8,545.16 457.0,545.61 458.2,545.95 459.5,546.15 460.8,546.20 462.0,546.11 463.2,545.95 464.5,545.71 465.8,545.42 467.0,545.10 468.2,544.77 469.5,544.38 470.8,543.87 472.0,543.24 473.2,542.56 474.5,541.84 475.8,541.13 477.0,540.46 478.2,539.88 479.5,539.41 480.8,539.03 482.0,538.69 483.2,538.36 484.5,538.01 485.8,537.60 487.0,537.09 488.2,536.32 489.5,535.10 490.8,533.93 492.0,533.21 493.2,532.69 494.5,532.26 495.8,531.88 497.0,531.55 498.2,531.22 499.5,530.89 500.8,530.51 502.0,530.08 503.2,529.57 504.5,529.01 505.8,528.41 507.0,527.79 508.2,527.14 509.5,526.48 510.8,525.82 512.0,525.16 513.2,524.51 514.5,523.77 515.8,523.14 517.0,522.84 518.2,522.65 519.5,522.51 520.8,522.39 522.0,522.25 523.2,522.07 524.5,521.75 525.8,521.34 527.0,521.03 528.2,520.76 529.5,520.52 530.8,520.28 532.0,520.00 533.2,519.66 534.5,519.22 535.8,518.37 537.0,517.21 538.2,516.09 539.5,515.36 540.8,515.08 542.0,514.89 543.2,514.76 544.5,514.66 545.8,514.55 547.0,514.43 548.2,514.25 549.5,514.00 550.8,513.45 552.0,512.54 553.2,511.51 554.5,510.60 555.8,509.76 557.0,508.93 558.2,508.36 559.5,508.10 560.8,507.87 562.0,507.68 563.2,507.54 564.5,507.44 565.8,507.40 567.0,508.10 568.2,510.07 569.5,512.34 570.8,515.28 572.0,517.41 573.2,518.32 574.5,518.79 575.8,518.44 577.0,517.32 578.2,515.88 579.5,514.56 580.8,513.70 582.0,512.99 583.2,512.41 584.5,511.99 585.8,511.74 587.0,511.58 588.2,511.39 589.5,511.07 590.8,509.80 592.0,504.66 593.2,501.33 594.5,499.44 595.8,498.32 597.0,498.14 598.2,498.07 599.5,498.03 600.8,498.00 602.0,498.03 603.2,498.48 604.5,499.27 605.8,500.17 607.0,500.96 608.2,501.79 609.5,502.53 610.8,502.58 612.0,501.34 613.2,499.74 614.5,498.58 615.8,497.37 617.0,496.23 618.2,495.33 619.5,494.84 620.8,494.78 622.0,494.75 623.2,494.73 624.5,494.71 625.8,494.70 627.0,494.70 628.2,494.80 629.5,495.01 630.8,495.24 632.0,495.39 633.2,495.39 634.5,495.37 635.8,495.33 637.0,495.30 638.2,495.30 639.5,495.30 640.8,495.30 642.0,495.30 642.5,495.30" fill="none" stroke="#000" stroke-width="1.3" stroke-linejoin="round"/>
<path d="M112.0,552.20 113.2,552.24 114.5,552.34 115.8,552.52 117.0,552.75 118.2,553.03 119.5,553.37 120.8,553.74 122.0,554.15 123.2,554.59 124.5,555.05 125.8,555.55 127.0,556.26 128.2,557.19 129.5,558.29 130.8,559.47 132.0,560.66 133.2,561.82 134.5,563.05 135.8,564.36 137.0,565.69 138.2,566.99 139.5,568.20 140.8,569.35 142.0,570.46 143.2,571.52 144.5,572.50 145.8,573.43 147.0,574.34 148.2,575.11 149.5,575.65 150.8,576.10 152.0,576.42 153.2,576.49 154.5,576.28 155.8,575.86 157.0,575.33 158.2,574.76 159.5,574.24 160.8,573.75 162.0,573.24 163.2,572.71 164.5,572.19 165.8,571.70 167.0,571.26 168.2,570.86 169.5,570.49 170.8,570.11 172.0,569.73 173.2,569.32 174.5,568.93 175.8,568.55 177.0,568.13 178.2,567.66 179.5,567.10 180.8,566.35 182.0,565.35 183.2,564.23 184.5,563.10 185.8,562.08 187.0,561.07 188.2,560.07 189.5,559.09 190.8,558.14 192.0,557.20 193.2,556.28 194.5,555.38 195.8,554.51 197.0,553.66 198.2,552.80 199.5,551.95 200.8,551.13 202.0,550.36 203.2,549.67 204.5,549.08 205.8,548.58 207.0,548.12 208.2,547.68 209.5,547.21 210.8,546.67 212.0,546.07 213.2,545.44 214.5,544.79 215.8,544.14 217.0,543.51 218.2,542.93 219.5,542.41 220.8,541.96 222.0,541.55 223.2,541.16 224.5,540.79 225.8,540.45 227.0,540.11 228.2,539.78 229.5,539.44 230.8,539.10 232.0,538.75 233.2,538.38 234.5,537.92 235.8,537.39 237.0,537.04 238.2,537.02 239.5,537.13 240.8,537.32 242.0,537.56 243.2,537.83 244.5,538.20 245.8,538.75 247.0,539.00 248.2,538.89 249.5,538.63 250.8,538.27 252.0,537.87 253.2,537.50 254.5,537.19 255.8,537.02 257.0,537.01 258.2,537.08 259.5,537.21 260.8,537.40 262.0,537.64 263.2,537.93 264.5,538.25 265.8,538.61 267.0,539.00 268.2,539.69 269.5,540.67 270.8,541.57 272.0,542.20 273.2,542.82 274.5,543.34 275.8,543.65 277.0,543.57 278.2,542.64 279.5,541.22 280.8,539.81 282.0,538.90 283.2,538.25 284.5,537.73 285.8,537.50 287.0,537.65 288.2,538.03 289.5,538.52 290.8,538.98 292.0,539.46 293.2,540.05 294.5,540.64 295.8,541.15 297.0,541.50 298.2,541.60 299.5,541.51 300.8,541.31 302.0,541.05 303.2,540.76 304.5,540.48 305.8,540.25 307.0,540.08 308.2,539.93 309.5,539.78 310.8,539.65 312.0,539.51 313.2,539.37 314.5,539.23 315.8,539.08 317.0,538.93 318.2,538.77 319.5,538.62 320.8,538.48 322.0,538.34 323.2,538.22 324.5,538.14 325.8,538.06 327.0,536.00 328.2,533.35 329.5,532.88 330.8,532.51 332.0,532.23 333.2,532.03 334.5,531.89 335.8,531.82 337.0,531.85 338.2,536.50 339.5,537.25 340.8,537.56 342.0,537.77 343.2,537.92 344.5,538.03 345.8,538.14 347.0,538.28 348.2,538.43 349.5,538.58 350.8,538.71 352.0,538.81 353.2,538.88 354.5,538.90 355.8,538.90 357.0,538.90 358.2,538.90 359.5,538.90 360.8,538.52 362.0,534.69 363.2,534.21 364.5,534.26 365.8,534.35 367.0,534.51 368.2,534.72 369.5,535.01 370.8,535.38 372.0,538.02 373.2,541.20 374.5,541.14 375.8,541.00 377.0,540.82 378.2,540.64 379.5,540.49 380.8,540.41 382.0,540.43 383.2,540.57 384.5,540.80 385.8,541.08 387.0,541.38 388.2,541.65 389.5,541.99 390.8,542.40 392.0,542.84 393.2,543.28 394.5,543.69 395.8,544.02 397.0,544.23 398.2,544.22 399.5,540.46 400.8,539.41 402.0,539.46 403.2,539.57 404.5,539.76 405.8,540.01 407.0,540.35 408.2,540.78 409.5,542.44 410.8,546.82 412.0,548.06 413.2,548.79 414.5,549.36 415.8,549.79 417.0,550.14 418.2,550.44 419.5,550.73 420.8,551.05 422.0,551.39 423.2,551.71 424.5,551.93 425.8,551.99 427.0,551.53 428.2,550.57 429.5,549.45 430.8,548.54 432.0,548.12 433.2,547.95 434.5,547.83 435.8,547.69 437.0,547.46 438.2,547.15 439.5,546.69 440.8,545.96 442.0,545.10 443.2,544.06 444.5,543.03 445.8,543.27 447.0,544.79 448.2,546.09 449.5,547.11 450.8,548.11 452.0,549.21 453.2,550.64 454.5,552.32 455.8,553.36 457.0,554.11 458.2,554.73 459.5,555.25 460.8,555.73 462.0,556.18 463.2,556.60 464.5,556.98 465.8,557.33 467.0,557.65 468.2,557.95 469.5,558.19 470.8,558.38 472.0,558.55 473.2,558.74 474.5,558.98 475.8,559.31 477.0,559.92 478.2,560.71 479.5,561.53 480.8,562.44 482.0,563.42 483.2,564.48 484.5,565.60 485.8,566.77 487.0,568.00 488.2,569.34 489.5,570.91 490.8,572.43 492.0,573.67 493.2,574.84 494.5,575.99 495.8,577.10 497.0,578.13 498.2,579.06 499.5,579.87 500.8,580.54 502.0,581.04 503.2,581.39 504.5,581.69 505.8,581.94 507.0,582.16 508.2,582.36 509.5,582.55 510.8,582.74 512.0,582.94 513.2,583.17 514.5,583.41 515.8,583.65 517.0,583.90 518.2,584.15 519.5,584.39 520.8,584.62 522.0,584.84 523.2,585.05 524.5,585.25 525.8,585.46 527.0,585.65 528.2,585.78 529.5,585.77 530.8,585.49 532.0,584.99 533.2,584.36 534.5,583.69 535.8,582.72 537.0,581.48 538.2,580.23 539.5,579.22 540.8,578.52 542.0,577.91 543.2,577.36 544.5,576.86 545.8,576.39 547.0,575.95 548.2,575.53 549.5,575.10 550.8,574.68 552.0,574.28 553.2,573.90 554.5,573.53 555.8,573.17 557.0,572.82 558.2,572.47 559.5,572.10 560.8,571.70 562.0,571.28 563.2,570.90 564.5,570.58 565.8,570.37 567.0,570.29 568.2,570.27 569.5,570.26 570.8,570.25 572.0,570.24 573.2,570.23 574.5,570.20 575.8,570.08 577.0,569.74 578.2,569.23 579.5,568.64 580.8,568.01 582.0,567.43 583.2,566.94 584.5,566.52 585.8,566.13 587.0,565.73 588.2,565.28 589.5,564.75 590.8,564.06 592.0,562.99 593.2,561.77 594.5,560.68 595.8,559.84 597.0,559.03 598.2,558.49 599.5,558.50 600.8,559.18 602.0,560.02 603.2,560.47 604.5,560.65 605.8,560.78 607.0,561.03 608.2,562.07 609.5,563.36 610.8,563.60 612.0,562.57 613.2,561.27 614.5,560.42 615.8,559.63 617.0,558.91 618.2,558.30 619.5,557.82 620.8,557.47 622.0,557.14 623.2,556.85 624.5,556.61 625.8,556.46 627.0,556.40 628.2,556.75 629.5,557.56 630.8,558.42 632.0,558.96 633.2,558.80 634.5,557.94 635.8,556.73 637.0,555.53 638.2,554.65 639.5,553.89 640.8,553.19 642.0,552.54 642.5,552.30" fill="none" stroke="#000" stroke-width="1.3" stroke-linejoin="round"/>
<path d="M112.0,552.20 113.2,552.24 114.5,552.36 115.8,552.54 117.0,552.79 118.2,553.09 119.5,553.45 120.8,553.85 122.0,554.28 123.2,554.75 124.5,555.24 125.8,555.75 127.0,556.48 128.2,557.42 129.5,558.52 130.8,559.71 132.0,560.93 133.2,562.13 134.5,563.41 135.8,564.77 137.0,566.18 138.2,567.60 139.5,569.00 140.8,570.46 142.0,571.98 143.2,573.44 144.5,574.67 145.8,575.65 147.0,576.53 148.2,577.22 149.5,577.59 150.8,577.84 152.0,578.04 153.2,578.17 154.5,578.19 155.8,577.96 157.0,577.51 158.2,576.99 159.5,576.53 160.8,576.16 162.0,575.78 163.2,575.42 164.5,575.07 165.8,574.74 167.0,574.42 168.2,574.06 169.5,573.70 170.8,573.41 172.0,573.23 173.2,573.28 174.5,573.84 175.8,574.55 177.0,574.90 178.2,574.40 179.5,573.21 180.8,571.76 182.0,570.49 183.2,569.66 184.5,568.91 185.8,568.25 187.0,567.72 188.2,567.36 189.5,567.12 190.8,566.92 192.0,566.72 193.2,566.46 194.5,566.12 195.8,565.73 197.0,565.35 198.2,564.90 199.5,564.42 200.8,563.98 202.0,563.62 203.2,563.42 204.5,563.44 205.8,563.65 207.0,563.99 208.2,564.36 209.5,564.70 210.8,564.94 212.0,565.15 213.2,565.35 214.5,565.55 215.8,565.73 217.0,565.91 218.2,566.09 219.5,566.26 220.8,566.43 222.0,566.59 223.2,566.75 224.5,566.91 225.8,567.06 227.0,567.21 228.2,567.36 229.5,567.51 230.8,567.66 232.0,567.81 233.2,567.97 234.5,568.12 235.8,568.25 237.0,568.37 238.2,568.50 239.5,568.64 240.8,568.80 242.0,568.99 243.2,569.22 244.5,569.59 245.8,570.22 247.0,571.02 248.2,571.87 249.5,572.64 250.8,573.35 252.0,574.09 253.2,574.81 254.5,575.49 255.8,576.08 257.0,576.56 258.2,576.98 259.5,577.35 260.8,577.70 262.0,578.03 263.2,578.37 264.5,578.64 265.8,578.92 267.0,579.30 268.2,579.97 269.5,580.96 270.8,582.08 272.0,583.18 273.2,584.23 274.5,585.47 275.8,586.62 277.0,587.37 278.2,587.44 279.5,586.96 280.8,586.22 282.0,585.50 283.2,585.07 284.5,584.82 285.8,584.59 287.0,584.39 288.2,584.24 289.5,584.14 290.8,584.10 292.0,584.12 293.2,584.18 294.5,584.26 295.8,584.35 297.0,584.44 298.2,584.51 299.5,584.59 300.8,584.67 302.0,584.75 303.2,584.82 304.5,584.87 305.8,584.90 307.0,584.89 308.2,584.83 309.5,584.74 310.8,584.64 312.0,584.56 313.2,584.51 314.5,584.52 315.8,584.67 317.0,584.94 318.2,585.31 319.5,585.74 320.8,586.20 322.0,586.67 323.2,587.12 324.5,587.48 325.8,587.93 327.0,590.36 328.2,592.60 329.5,592.57 330.8,592.50 332.0,592.38 333.2,592.19 334.5,591.94 335.8,591.60 337.0,591.10 338.2,585.58 339.5,585.24 340.8,585.39 342.0,585.63 343.2,585.91 344.5,586.21 345.8,586.49 347.0,586.73 348.2,586.99 349.5,587.24 350.8,587.50 352.0,587.76 353.2,588.01 354.5,588.23 355.8,588.40 357.0,588.53 358.2,588.68 359.5,588.93 360.8,589.63 362.0,593.08 363.2,593.49 364.5,593.42 365.8,593.29 367.0,593.10 368.2,592.83 369.5,592.48 370.8,592.04 372.0,590.12 373.2,587.88 374.5,587.74 375.8,587.64 377.0,587.59 378.2,587.55 379.5,587.50 380.8,587.43 382.0,587.32 383.2,587.14 384.5,586.95 385.8,586.76 387.0,586.64 388.2,586.60 389.5,586.61 390.8,586.65 392.0,586.71 393.2,586.81 394.5,586.95 395.8,587.13 397.0,587.35 398.2,587.73 399.5,592.57 400.8,593.90 402.0,593.87 403.2,593.81 404.5,593.71 405.8,593.57 407.0,593.37 408.2,593.13 409.5,591.63 410.8,587.55 412.0,587.21 413.2,587.26 414.5,587.35 415.8,587.46 417.0,587.58 418.2,587.71 419.5,587.83 420.8,587.95 422.0,588.06 423.2,588.16 424.5,588.27 425.8,588.39 427.0,588.52 428.2,588.67 429.5,588.84 430.8,589.04 432.0,589.29 433.2,589.72 434.5,590.30 435.8,590.93 437.0,591.57 438.2,592.29 439.5,592.73 440.8,592.95 442.0,593.20 443.2,594.12 444.5,595.51 445.8,595.19 447.0,593.31 448.2,592.36 449.5,592.01 450.8,591.75 452.0,591.38 453.2,590.32 454.5,588.57 455.8,588.13 457.0,588.02 458.2,587.95 459.5,587.91 460.8,587.90 462.0,587.95 463.2,588.04 464.5,588.18 465.8,588.35 467.0,588.55 468.2,588.76 469.5,589.01 470.8,589.37 472.0,589.81 473.2,590.33 474.5,590.91 475.8,591.52 477.0,592.15 478.2,592.78 479.5,593.39 480.8,594.02 482.0,594.66 483.2,595.36 484.5,596.12 485.8,596.98 487.0,597.96 488.2,599.24 489.5,601.04 490.8,602.80 492.0,604.02 493.2,605.03 494.5,605.95 495.8,606.79 497.0,607.56 498.2,608.26 499.5,608.92 500.8,609.53 502.0,610.11 503.2,610.66 504.5,611.17 505.8,611.65 507.0,612.10 508.2,612.53 509.5,612.94 510.8,613.34 512.0,613.72 513.2,614.11 514.5,614.46 515.8,614.80 517.0,615.11 518.2,615.42 519.5,615.74 520.8,616.06 522.0,616.41 523.2,616.79 524.5,617.25 525.8,617.88 527.0,618.52 528.2,619.04 529.5,619.29 530.8,619.10 532.0,618.47 533.2,617.62 534.5,616.77 535.8,615.73 537.0,614.50 538.2,613.30 539.5,612.32 540.8,611.60 542.0,610.91 543.2,610.25 544.5,609.66 545.8,609.14 547.0,608.71 548.2,608.39 549.5,608.20 550.8,608.08 552.0,607.98 553.2,607.89 554.5,607.81 555.8,607.76 557.0,607.72 558.2,607.70 559.5,607.75 560.8,607.91 562.0,608.15 563.2,608.42 564.5,608.68 565.8,608.88 567.0,608.99 568.2,608.67 569.5,607.40 570.8,605.96 572.0,605.21 573.2,605.20 574.5,605.20 575.8,605.20 577.0,605.42 578.2,606.15 579.5,606.80 580.8,606.83 582.0,606.39 583.2,605.85 584.5,605.52 585.8,605.29 587.0,605.08 588.2,604.91 589.5,604.82 590.8,605.13 592.0,607.47 593.2,609.85 594.5,610.79 595.8,611.46 597.0,611.99 598.2,612.45 599.5,612.91 600.8,613.43 602.0,613.87 603.2,614.29 604.5,614.73 605.8,615.27 607.0,615.97 608.2,617.27 609.5,618.99 610.8,620.47 612.0,621.46 613.2,622.32 614.5,623.06 615.8,623.67 617.0,624.18 618.2,624.65 619.5,624.89 620.8,623.29 622.0,621.91 623.2,622.13 624.5,622.50 625.8,622.85 627.0,623.00 628.2,622.70 629.5,621.91 630.8,620.82 632.0,619.59 633.2,618.16 634.5,616.21 635.8,614.44 637.0,612.85 638.2,611.53 639.5,611.20 640.8,611.23 642.0,611.39 642.5,611.50" fill="none" stroke="#000" stroke-width="1.3" stroke-linejoin="round"/>
<path d="M112.0,552.20 113.2,552.24 114.5,552.37 115.8,552.56 117.0,552.83 118.2,553.15 119.5,553.53 120.8,553.95 122.0,554.41 123.2,554.90 124.5,555.42 125.8,555.96 127.0,556.71 128.2,557.67 129.5,558.79 130.8,560.02 132.0,561.29 133.2,562.56 134.5,563.90 135.8,565.34 137.0,566.88 138.2,568.50 139.5,570.20 140.8,572.00 142.0,573.94 143.2,576.00 144.5,578.18 145.8,580.52 147.0,583.08 148.2,585.76 149.5,588.47 150.8,591.32 152.0,594.23 153.2,597.04 154.5,599.58 155.8,601.91 157.0,604.11 158.2,606.21 159.5,608.24 160.8,610.29 162.0,612.29 163.2,614.00 164.5,615.40 165.8,616.72 167.0,617.58 168.2,617.64 169.5,617.35 170.8,617.11 172.0,617.83 173.2,618.61 174.5,619.01 175.8,619.30 177.0,619.40 178.2,619.34 179.5,619.16 180.8,618.88 182.0,618.53 183.2,617.90 184.5,616.58 185.8,615.07 187.0,613.85 188.2,612.74 189.5,611.70 190.8,610.74 192.0,609.85 193.2,609.00 194.5,608.20 195.8,607.44 197.0,606.72 198.2,606.03 199.5,605.38 200.8,604.75 202.0,604.14 203.2,603.56 204.5,602.98 205.8,602.43 207.0,601.90 208.2,601.38 209.5,600.86 210.8,600.32 212.0,599.77 213.2,599.22 214.5,598.67 215.8,598.14 217.0,597.63 218.2,597.15 219.5,596.70 220.8,596.31 222.0,595.98 223.2,595.70 224.5,595.46 225.8,595.22 227.0,594.98 228.2,594.71 229.5,594.40 230.8,594.03 232.0,593.57 233.2,593.02 234.5,591.83 235.8,590.18 237.0,589.69 238.2,589.42 239.5,589.20 240.8,589.05 242.0,588.95 243.2,588.90 244.5,589.45 245.8,591.13 247.0,592.23 248.2,592.57 249.5,592.86 250.8,593.11 252.0,593.30 253.2,593.45 254.5,593.55 255.8,593.60 257.0,593.56 258.2,593.31 259.5,592.95 260.8,592.57 262.0,592.28 263.2,592.21 264.5,592.50 265.8,593.04 267.0,593.60 268.2,594.13 269.5,594.70 270.8,595.32 272.0,595.98 273.2,596.76 274.5,597.80 275.8,598.81 277.0,599.48 278.2,599.53 279.5,598.95 280.8,598.05 282.0,597.15 283.2,596.55 284.5,596.15 285.8,595.77 287.0,595.43 288.2,595.15 289.5,594.97 290.8,594.90 292.0,594.94 293.2,595.06 294.5,595.24 295.8,595.46 297.0,595.70 298.2,595.95 299.5,596.29 300.8,596.73 302.0,597.23 303.2,597.72 304.5,598.17 305.8,598.52 307.0,598.76 308.2,598.94 309.5,599.09 310.8,599.23 312.0,599.39 313.2,599.58 314.5,599.83 315.8,600.14 317.0,600.51 318.2,600.94 319.5,601.42 320.8,601.95 322.0,602.54 323.2,603.17 324.5,603.85 325.8,604.80 327.0,607.64 328.2,610.13 329.5,610.52 330.8,610.82 332.0,611.06 333.2,611.22 334.5,611.33 335.8,611.38 337.0,611.35 338.2,607.20 339.5,606.91 340.8,606.94 342.0,607.00 343.2,607.07 344.5,607.16 345.8,607.26 347.0,607.38 348.2,607.60 349.5,607.88 350.8,608.19 352.0,608.46 353.2,608.64 354.5,608.70 355.8,608.60 357.0,608.41 358.2,608.20 359.5,608.04 360.8,608.38 362.0,612.21 363.2,612.69 364.5,612.64 365.8,612.54 367.0,612.39 368.2,612.17 369.5,611.88 370.8,611.52 372.0,609.41 373.2,606.64 374.5,606.20 375.8,605.90 377.0,605.71 378.2,605.55 379.5,605.40 380.8,605.20 382.0,604.89 383.2,604.48 384.5,604.04 385.8,603.65 387.0,603.38 388.2,603.30 389.5,603.30 390.8,603.32 392.0,603.34 393.2,603.38 394.5,603.44 395.8,603.51 397.0,603.60 398.2,603.79 399.5,607.63 400.8,608.69 402.0,608.65 403.2,608.55 404.5,608.39 405.8,608.16 407.0,607.86 408.2,607.49 409.5,606.00 410.8,602.31 412.0,602.00 413.2,602.00 414.5,602.00 415.8,602.00 417.0,602.00 418.2,602.00 419.5,602.00 420.8,601.98 422.0,601.82 423.2,601.58 424.5,601.38 425.8,601.30 427.0,601.48 428.2,601.88 429.5,602.40 430.8,602.96 432.0,603.45 433.2,603.97 434.5,604.52 435.8,605.07 437.0,605.61 438.2,606.17 439.5,606.49 440.8,606.64 442.0,606.83 443.2,607.78 444.5,609.38 445.8,609.13 447.0,607.37 448.2,606.47 449.5,606.12 450.8,605.86 452.0,605.48 453.2,604.35 454.5,602.42 455.8,601.90 457.0,601.76 458.2,601.66 459.5,601.61 460.8,601.61 462.0,601.81 463.2,602.22 464.5,602.78 465.8,603.41 467.0,604.07 468.2,604.69 469.5,605.25 470.8,605.83 472.0,606.44 473.2,607.06 474.5,607.70 475.8,608.36 477.0,609.05 478.2,609.74 479.5,610.44 480.8,611.11 482.0,611.77 483.2,612.47 484.5,613.25 485.8,614.15 487.0,615.22 488.2,616.71 489.5,618.99 490.8,621.32 492.0,623.06 493.2,624.56 494.5,625.94 495.8,627.23 497.0,628.44 498.2,629.59 499.5,630.69 500.8,631.77 502.0,632.83 503.2,633.86 504.5,634.81 505.8,635.71 507.0,636.57 508.2,637.43 509.5,638.31 510.8,639.23 512.0,640.23 513.2,641.33 514.5,642.68 515.8,644.00 517.0,645.07 518.2,646.15 519.5,647.19 520.8,648.09 522.0,648.76 523.2,649.08 524.5,649.10 525.8,649.10 527.0,649.10 528.2,649.10 529.5,649.10 530.8,649.10 532.0,649.10 533.2,649.12 534.5,649.80 535.8,651.13 537.0,652.71 538.2,654.15 539.5,655.04 540.8,655.34 542.0,655.55 543.2,655.71 544.5,655.83 545.8,655.95 547.0,656.09 548.2,656.26 549.5,656.50 550.8,656.89 552.0,657.48 553.2,658.18 554.5,658.94 555.8,659.69 557.0,660.37 558.2,660.91 559.5,661.34 560.8,661.77 562.0,662.18 563.2,662.55 564.5,662.86 565.8,663.08 567.0,663.19 568.2,661.76 569.5,657.17 570.8,653.93 572.0,651.23 573.2,649.82 574.5,649.98 575.8,650.50 577.0,651.18 578.2,651.98 579.5,653.18 580.8,654.58 582.0,655.93 583.2,656.98 584.5,657.52 585.8,657.76 587.0,657.91 588.2,658.06 589.5,658.35 590.8,659.35 592.0,663.29 593.2,667.31 594.5,671.74 595.8,675.18 597.0,676.99 598.2,678.54 599.5,679.78 600.8,680.60 602.0,680.90 603.2,680.89 604.5,680.88 605.8,680.86 607.0,680.84 608.2,680.82 609.5,680.86 610.8,681.43 612.0,682.47 613.2,683.68 614.5,684.79 615.8,685.61 617.0,686.46 618.2,687.26 619.5,687.89 620.8,688.19 622.0,688.11 623.2,687.80 624.5,687.32 625.8,686.75 627.0,686.15 628.2,685.47 629.5,684.60 630.8,683.45 632.0,681.50 633.2,679.01 634.5,676.64 635.8,674.94 637.0,673.62 638.2,672.47 639.5,671.42 640.8,670.46 642.0,669.61 642.5,669.30" fill="none" stroke="#000" stroke-width="0.95" stroke-linejoin="round"/>
<line x1="642.5" y1="436.10" x2="642.5" y2="669.30" stroke="#000" stroke-width="0.9"/></g>
<line x1="642.5" y1="438.30" x2="645" y2="438.30" stroke="#222" stroke-width="0.6"/>
<text class="t" transform="translate(646.6,440.45) scale(0.574,0.61)" font-size="10">East Asia and Pacific (394, 3%)</text>
<line x1="642.5" y1="443.80" x2="645" y2="443.80" stroke="#222" stroke-width="0.6"/>
<text class="t" transform="translate(646.6,445.95) scale(0.574,0.61)" font-size="10">South Asia (173, 1%)</text>
<line x1="642.5" y1="449.30" x2="645" y2="449.30" stroke="#222" stroke-width="0.6"/>
<text class="t" transform="translate(646.6,451.45) scale(0.574,0.61)" font-size="10">Sub-saharan Africa (541, 4%)</text>
<line x1="642.5" y1="456.80" x2="645" y2="456.80" stroke="#222" stroke-width="0.6"/>
<text class="t" transform="translate(646.6,458.95) scale(0.574,0.61)" font-size="10">Middle East and North Africa (408, 3%)</text>
<line x1="642.5" y1="476.70" x2="645" y2="476.70" stroke="#222" stroke-width="0.6"/>
<text class="t" transform="translate(646.6,478.85) scale(0.574,0.61)" font-size="10">Rest of Europe+Central Asia (1994, 13%)</text>
<line x1="642.5" y1="522.20" x2="645" y2="522.20" stroke="#222" stroke-width="0.6"/>
<text class="t" transform="translate(646.6,524.35) scale(0.574,0.61)" font-size="10"><tspan font-weight="bold">Tracker countries</tspan> (3939, 26%)</text>
<line x1="642.5" y1="581.90" x2="645" y2="581.90" stroke="#222" stroke-width="0.6"/>
<text class="t" transform="translate(646.6,584.05) scale(0.574,0.61)" font-size="10">Latin America and Carribean (4743, 31%)</text>
<line x1="642.5" y1="642.30" x2="645" y2="642.30" stroke="#222" stroke-width="0.6"/>
<text class="t" transform="translate(646.6,644.45) scale(0.574,0.61)" font-size="10">North America (3215, 21%)</text>
</svg></body></html>
